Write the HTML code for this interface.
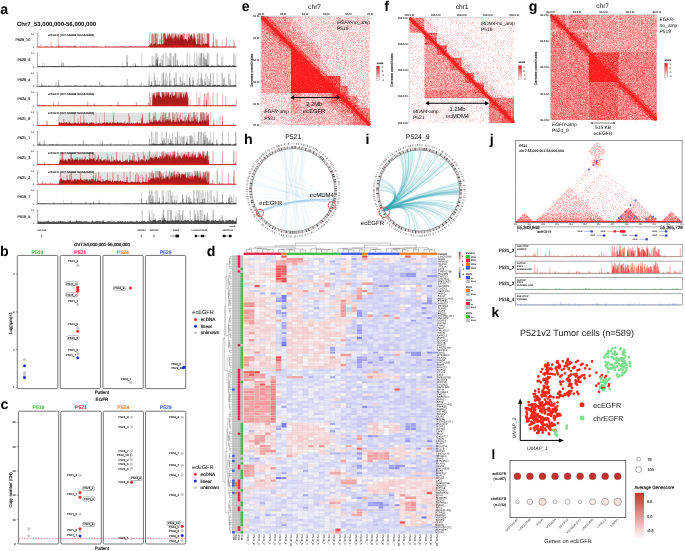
<!DOCTYPE html>
<html><head><meta charset="utf-8"><style>
html,body{margin:0;padding:0;background:#fff;}
svg{display:block;font-family:"Liberation Sans",sans-serif;text-rendering:geometricPrecision;will-change:transform;}
</style></head><body>
<svg width="685" height="551" viewBox="0 0 685 551">
<rect width="685" height="551" fill="#fff"/>
<text x="0.3" y="14.1" font-size="14.2" font-weight="bold">a</text>
<text x="17" y="26" font-size="6.0" font-weight="bold">Chr7_53,000,000-56,000,000</text>
<path d="M36.4 33.5H37.6V47.3H36.4" fill="none" stroke="#333" stroke-width="0.4"/>
<text x="34.1" y="34.5" font-size="2.2" text-anchor="end" fill="#444" stroke="#444" stroke-width="0.09">0.1</text>
<text x="34.1" y="48" font-size="2.2" text-anchor="end" fill="#444" stroke="#444" stroke-width="0.09">0</text>
<text x="30.2" y="41.3" font-size="3.7" text-anchor="end" fill="#222" stroke="#222" stroke-width="0.15">P529_10</text>
<path d="M37.6 47.3L37.6 46.8L38.1 46.9L38.6 46.5L39.1 46.9L39.6 46.6L40.1 46.7L40.6 47L41.1 46.6L41.6 47L42.1 46.7L42.6 47L43.1 46.9L43.6 46.7L44.1 46.4L44.6 46.9L45.1 46.8L45.6 46.6L46.1 46.3L46.6 46.6L47.1 46.7L47.6 46.3L48.1 47L48.6 46.4L49.1 46.8L49.6 46.9L50.1 46.9L50.6 46.8L51.1 46.4L51.6 46.9L52.1 46.6L52.6 46.6L53.1 46.7L53.6 46.6L54.1 47L54.6 47L55.1 46.9L55.6 46.5L56.1 46.7L56.6 46.8L57.1 46.6L57.6 46.7L58.1 46.8L58.6 46.4L59.1 46.5L59.6 46.8L60.1 46.6L60.6 46.6L61.1 46.4L61.6 46.5L62.1 46.8L62.6 46.3L63.1 46.9L63.6 46.7L64.1 46.5L64.6 46.9L65.1 46.7L65.6 47L66.1 46.5L66.6 46.5L67.1 46.6L67.6 46.4L68.1 46.8L68.6 46.5L69.1 46.6L69.6 46.6L70.1 46.7L70.6 46.4L71.1 46.3L71.6 46.7L72.1 46.5L72.6 47L73.1 46.5L73.6 46.5L74.1 46.3L74.6 46.4L75.1 46.8L75.6 46.7L76.1 46.5L76.6 47L77.1 46.7L77.6 46.9L78.1 46.9L78.6 47L79.1 46.5L79.6 46.9L80.1 46.8L80.6 46.7L81.1 46.4L81.6 46.9L82.1 46.7L82.6 46.6L83.1 46.4L83.6 46.4L84.1 46.4L84.6 46.8L85.1 46.7L85.6 46.7L86.1 46.4L86.6 46.3L87.1 46.9L87.6 46.9L88.1 46.8L88.6 46.8L89.1 46.7L89.6 46.6L90.1 46.8L90.6 47L91.1 46.7L91.6 46.7L92.1 46.6L92.6 46.3L93.1 46.5L93.6 46.6L94.1 46.6L94.6 46.5L95.1 47L95.6 46.4L96.1 46.5L96.6 46.4L97.1 46.4L97.6 46.7L98.1 46.7L98.6 46.9L99.1 46.6L99.6 47L100.1 47L100.6 46.9L101.1 46.9L101.6 46.8L102.1 47L102.6 47L103.1 46.9L103.6 46.9L104.1 46.7L104.6 47L105.1 46.4L105.6 46.6L106.1 46.9L106.6 46.8L107.1 46.8L107.6 46.7L108.1 46.9L108.6 46.4L109.1 46.3L109.6 46.7L110.1 46.7L110.6 46.9L111.1 46.9L111.6 46.8L112.1 46.8L112.6 46.4L113.1 46.9L113.6 47L114.1 46.3L114.6 46.6L115.1 46.9L115.6 46.6L116.1 47L116.6 46.6L117.1 46.3L117.6 46.4L118.1 46.5L118.6 46.8L119.1 46.7L119.6 46.9L120.1 46.5L120.6 46.6L121.1 46.5L121.6 46.8L122.1 46.8L122.6 46.4L123.1 46.3L123.6 46.4L124.1 46.4L124.6 46.4L125.1 46.5L125.6 46.8L126.1 46.6L126.6 46.8L127.1 47L127.6 47L128.1 46.8L128.6 46.8L129.1 46.5L129.6 46.3L130.1 46.7L130.6 46.3L131.1 46.3L131.6 46.3L132.1 46.7L132.6 46.8L133.1 46.8L133.6 46.9L134.1 46.9L134.6 46.6L135.1 46.4L135.6 46.4L136.1 46.7L136.6 46.5L137.1 46.4L137.6 46.9L138.1 46.5L138.6 46.4L139.1 46.5L139.6 46.5L140.1 46.7L140.6 46.9L141.1 46.4L141.6 46.8L142.1 46.4L142.6 46.3L143.1 46.7L143.6 46.7L144.1 46.3L144.6 46.5L145.1 46.9L145.6 46.9L146.1 46.9L146.6 46.4L147.1 46.4L147.6 46.9L148.1 46.4L148.6 46.3L149.1 46.5L149.6 44.2L150.1 46.1L150.6 43.8L151.1 42.8L151.6 43L152.1 45.4L152.6 45.1L153.1 44L153.6 44.6L154.1 42.9L154.6 44.5L155.1 42.9L155.6 42.9L156.1 44.2L156.6 46L157.1 45.5L157.6 43.3L158.1 44.4L158.6 44.2L159.1 44.3L159.6 43.4L160.1 44.1L160.6 45.1L161.1 44.3L161.6 43.4L162.1 44.5L162.6 44.3L163.1 43.7L163.6 44.2L164.1 42.8L164.6 43L165.1 38.9L165.6 33.9L166.1 39.8L166.6 37.6L167.1 39L167.6 35.9L168.1 34.3L168.6 35.6L169.1 39.8L169.6 33.7L170.1 33.8L170.6 37.2L171.1 34.7L171.6 37.6L172.1 38.3L172.6 38.5L173.1 40.7L173.6 37.6L174.1 38.4L174.6 37.1L175.1 33.6L175.6 33.7L176.1 38.9L176.6 35.1L177.1 39.9L177.6 34.1L178.1 38.9L178.6 34.1L179.1 35.7L179.6 40.4L180.1 37.7L180.6 34L181.1 34.9L181.6 34.5L182.1 34.5L182.6 38.3L183.1 34L183.6 39.9L184.1 39.1L184.6 39.6L185.1 39.3L185.6 38.6L186.1 38.7L186.6 39.5L187.1 40.7L187.6 40.7L188.1 36.8L188.6 37.3L189.1 40L189.6 37.6L190.1 34.7L190.6 37.1L191.1 33.6L191.6 34.7L192.1 36.2L192.6 38.3L193.1 39.9L193.6 35.4L194.1 39.6L194.6 34.7L195.1 35.9L195.6 39L196.1 44.5L196.6 44.5L197.1 42.7L197.6 44.2L198.1 42.7L198.6 44.9L199.1 44.8L199.6 44.3L200.1 44.3L200.6 45.2L201.1 44.7L201.6 46L202.1 45.3L202.6 44.2L203.1 43.8L203.6 43L204.1 45L204.6 45.6L205.1 43.8L205.6 43.2L206.1 43.9L206.6 43.3L207.1 44.3L207.6 43.2L208.1 43.2L208.6 43L209.1 46.5L209.6 46.5L210.1 46.8L210.6 47L211.1 46.9L211.6 46.7L212.1 46.9L212.6 46.4L213.1 46.6L213.6 46.6L214.1 46.6L214.6 46.5L215.1 46.7L215.6 47L216.1 46.4L216.6 46.5L217.1 46.6L217.6 46.6L218.1 46.5L218.6 47L219.1 46.5L219.6 46.8L220.1 46.9L220.6 46.8L221.1 46.5L221.6 46.9L222.1 46.5L222.6 46.3L223.1 46.7L223.6 46.7L224.1 46.7L224.6 46.5L225.1 46.5L225.6 46.6L226.1 46.6L226.6 46.9L227.1 46.9L227.6 46.8L228.1 46.5L228.6 46.8L229.1 46.6L229.6 47L230.1 47L230.6 46.8L231.1 46.5L231.6 46.5L232.1 46.5L232.6 46.8L233.1 46.6L233.6 46.7L234.1 46.7L234.6 46.9L235.1 46.4L235.6 46.9L236.1 46.3L236.4 47.3Z" fill="#a31b1b"/>
<path d="M150 47.3L150 45.2L150.7 46.7L151.4 46L152.1 45.4L152.8 45.2L153.5 46L154.2 46.3L154.9 46.4L155.6 45.2L156.3 46.4L157 45.8L157.7 46.5L158.4 45.9L159.1 45.2L159.8 46.5L160.5 44.8L161.2 45.3L161.9 44.7L162.6 45L163.3 45.7L164 44.7L164.7 45.3L165.4 46.1L166.1 46.1L166.8 45.3L167.5 45.4L168.2 45.6L168.9 45.9L169.6 45.5L170.3 45.6L171 44.8L171.7 46.1L172.4 44.9L173.1 44.8L173.8 45.9L174.5 44.6L175.2 45L175.9 44.7L176.6 45.6L177.3 45.5L178 45.5L178.7 44.5L179.4 45.2L180.1 45.5L180.8 45.4L181.5 45.7L182.2 46L182.9 45.9L183.6 44.8L184.3 45.6L185 44.6L185.7 45.7L186.4 45.7L187.1 45.3L187.8 45.8L188.5 45.5L189.2 44.6L189.9 44.7L190.6 44.8L191.3 45.1L192 44.6L192.7 44.6L193.4 45.2L194.1 44.9L194.8 46L195.5 44.9L196.2 45.4L196.9 44.9L197.6 45.1L198.3 45.6L199 46L199.7 44.6L200.4 46.5L201.1 45.9L201.8 46.2L202.5 46.2L203.2 45.5L203.9 45.1L204.6 46.3L205.3 45.7L206 46.2L206.7 45.8L207.4 46.1L208.1 46.4L208.8 46.4L209 47.3Z" fill="#ee1c1c" fill-opacity="0.75"/>
<path d="M58.3 47.3V33.5M149.3 47.3V33.5M155.4 47.3V33.5M163.5 47.3V33.5M171.7 47.3V40.8M172.9 47.3V33.5M183 47.3V33.5M187.1 47.3V33.9M198.6 47.3V39.2M201.2 47.3V39.4M206.3 47.3V33.5M207.5 47.3V33.5M209.1 47.3V33.5M233.8 47.3V39.4M161.6 47.3V41.8M234.5 47.3V42.5M170.8 47.3V42.5M165.1 47.3V42.3M51.3 47.3V41.9M176.9 47.3V42.1M40.9 47.3V44.2M150.5 47.3V44.9M105.7 47.3V44.8M164.8 47.3V45.2M177 47.3V37.3M198.2 47.3V38.8M160 47.3V39M153.8 47.3V33.5M152 47.3V33.5M155 47.3V33.5M179.4 47.3V33.5M191.9 47.3V33.5M174.6 47.3V33.5M186.6 47.3V33.5M200 47.3V33.5M189.2 47.3V33.5M167.3 47.3V33.5M193.5 47.3V33.5M159 47.3V33.5M184.1 47.3V33.5M169.3 47.3V33.5M179.9 47.3V33.5M163.7 47.3V33.5M197.7 47.3V33.5M208.5 47.3V33.5M156 47.3V33.5M178 47.3V33.5M207.4 47.3V33.5M201.1 47.3V33.5" stroke="#b42020" stroke-opacity="0.6" stroke-width="0.55"/>
<path d="M151.9 47.3V33.5M156.8 47.3V39M161.8 47.3V36.3M194.2 47.3V33.5M196.9 47.3V34.1M203.1 47.3V37.6M213.3 47.3V33.5M217.1 47.3V39.6M213 47.3V42M212.9 47.3V44.8M229.4 47.3V45M58.9 47.3V44.4M216 47.3V39M226.4 47.3V37.4M167.5 47.3V42.2M164.6 47.3V33.5M169.2 47.3V33.5M207.8 47.3V33.5M165.6 47.3V33.5M155.7 47.3V33.5M176.4 47.3V33.5M189.8 47.3V33.5M164.6 47.3V33.5M164.5 47.3V33.5M202.2 47.3V33.5M173.4 47.3V33.5M208.6 47.3V33.5M188.5 47.3V33.5M198.3 47.3V33.5M199.6 47.3V33.5M152.4 47.3V33.5M167.3 47.3V33.5M161.2 47.3V33.5M184.4 47.3V33.5M204.9 47.3V33.5M172 47.3V33.5" stroke="#b42020" stroke-opacity="0.8" stroke-width="0.55"/>
<path d="M153.9 47.3V34.4M198.1 47.3V38.4M75 47.3V44.8M204.6 47.3V43.7M202.1 47.3V33.5M163.8 47.3V33.5M194.1 47.3V33.5M157.1 47.3V33.5M199.6 47.3V33.5M172 47.3V33.5M161.8 47.3V33.5" stroke="#b42020" stroke-opacity="1.0" stroke-width="0.55"/>
<path d="M200 47.3V40.6M222.4 47.3V39.5M202.8 47.3V37.9M80.3 47.3V44.9M182.6 47.3V33.5M208.3 47.3V33.5M183.4 47.3V33.5M203.9 47.3V33.5M157 47.3V33.5" stroke="#b42020" stroke-opacity="0.4" stroke-width="0.55"/>
<path d="M37.6 47.1H236.4" stroke="#e02020" stroke-width="0.6"/>
<text x="48" y="35.9" font-size="2.85" fill="#222" stroke="#222" stroke-width="0.11">ecEGFR (chr7:54908478-55436488)</text>
<path d="M36.4 53.1H37.6V66.9H36.4" fill="none" stroke="#333" stroke-width="0.4"/>
<text x="34.1" y="54.1" font-size="2.2" text-anchor="end" fill="#444" stroke="#444" stroke-width="0.09">0.1</text>
<text x="34.1" y="67.6" font-size="2.2" text-anchor="end" fill="#444" stroke="#444" stroke-width="0.09">0</text>
<text x="30.2" y="60.9" font-size="3.7" text-anchor="end" fill="#222" stroke="#222" stroke-width="0.15">P529_6</text>
<path d="M37.6 66.9L37.6 66.3L38.1 66.2L38.6 66.3L39.1 66.1L39.6 66.3L40.1 66.3L40.6 66.6L41.1 66.2L41.6 66.3L42.1 66.4L42.6 66.1L43.1 66.1L43.6 66.3L44.1 66.5L44.6 66.3L45.1 66.5L45.6 66.5L46.1 66.3L46.6 66.5L47.1 66.3L47.6 66.2L48.1 66.6L48.6 66.2L49.1 66.5L49.6 66.1L50.1 66.1L50.6 66.2L51.1 66.6L51.6 66.2L52.1 66.3L52.6 65.9L53.1 66.5L53.6 66L54.1 65.9L54.6 66.1L55.1 66L55.6 66.5L56.1 65.9L56.6 66.3L57.1 65.9L57.6 66L58.1 66.5L58.6 66L59.1 65.9L59.6 66.6L60.1 66.4L60.6 66.1L61.1 66.5L61.6 66L62.1 66.4L62.6 66L63.1 66.5L63.6 66.2L64.1 66L64.6 66.5L65.1 66.4L65.6 66.2L66.1 66.4L66.6 66.6L67.1 66.5L67.6 66.5L68.1 65.9L68.6 66.1L69.1 66L69.6 66.5L70.1 66.1L70.6 66.5L71.1 66.2L71.6 66.2L72.1 66.3L72.6 66L73.1 66.2L73.6 66.2L74.1 66L74.6 66.5L75.1 65.9L75.6 66.2L76.1 66.3L76.6 66L77.1 66.4L77.6 65.9L78.1 66.2L78.6 66.3L79.1 66.1L79.6 66.3L80.1 66.5L80.6 66.1L81.1 66.6L81.6 66L82.1 66.4L82.6 66.2L83.1 65.9L83.6 66.2L84.1 66.1L84.6 66.4L85.1 66.6L85.6 66.6L86.1 66.5L86.6 66.2L87.1 66.3L87.6 66.2L88.1 66L88.6 66.5L89.1 66.4L89.6 66.1L90.1 66.6L90.6 66.6L91.1 66.4L91.6 66.5L92.1 66.3L92.6 66.4L93.1 66.2L93.6 66.2L94.1 66.5L94.6 66.2L95.1 66.3L95.6 66.5L96.1 65.9L96.6 66.4L97.1 66.5L97.6 66.5L98.1 66.2L98.6 66L99.1 66.1L99.6 66.3L100.1 66.4L100.6 66.6L101.1 66.1L101.6 66.2L102.1 66.4L102.6 66.1L103.1 66.3L103.6 65.9L104.1 66.1L104.6 66.4L105.1 66L105.6 66.6L106.1 66.2L106.6 66.3L107.1 66.4L107.6 66.6L108.1 66.1L108.6 66.6L109.1 66.2L109.6 65.9L110.1 66.5L110.6 66.5L111.1 66.2L111.6 66.2L112.1 66.2L112.6 66L113.1 66.5L113.6 66.4L114.1 66.4L114.6 66.6L115.1 66L115.6 66.1L116.1 66.1L116.6 66.6L117.1 66L117.6 66.1L118.1 66.3L118.6 66.1L119.1 66.3L119.6 66.4L120.1 66.5L120.6 66.4L121.1 66.6L121.6 66.4L122.1 66.1L122.6 66.1L123.1 66L123.6 66.1L124.1 66.4L124.6 66.2L125.1 66.3L125.6 66L126.1 66.2L126.6 66.4L127.1 66.2L127.6 65.9L128.1 66.4L128.6 66L129.1 66.6L129.6 66.4L130.1 66.4L130.6 66.1L131.1 65.9L131.6 66.1L132.1 66.4L132.6 66L133.1 66.4L133.6 66.4L134.1 66L134.6 66.2L135.1 66.1L135.6 66.1L136.1 65.9L136.6 66.3L137.1 66L137.6 66.1L138.1 66L138.6 66.3L139.1 66.1L139.6 66.2L140.1 66.4L140.6 66.5L141.1 66.2L141.6 66.5L142.1 66L142.6 66.5L143.1 66.6L143.6 66.5L144.1 65.9L144.6 66.4L145.1 66.5L145.6 66.6L146.1 66.6L146.6 66.1L147.1 66.2L147.6 66.1L148.1 66.1L148.6 66.6L149.1 66.2L149.6 66.3L150.1 65.2L150.6 66.3L151.1 65L151.6 66.2L152.1 66.2L152.6 65.1L153.1 65.4L153.6 65.5L154.1 66.3L154.6 65.3L155.1 65.9L155.6 66.4L156.1 66L156.6 65.8L157.1 65L157.6 65.1L158.1 66.4L158.6 65.7L159.1 65.9L159.6 65.6L160.1 65.1L160.6 65.2L161.1 66.4L161.6 65.3L162.1 66.4L162.6 65.7L163.1 66.1L163.6 65.9L164.1 66L164.6 66L165.1 65.4L165.6 66.2L166.1 66.3L166.6 65.4L167.1 65.5L167.6 65.8L168.1 65.1L168.6 65.1L169.1 66.1L169.6 65L170.1 65.8L170.6 66L171.1 65.6L171.6 65.3L172.1 65.9L172.6 66.2L173.1 65.4L173.6 66.1L174.1 65.2L174.6 66.2L175.1 65.1L175.6 66.1L176.1 65.3L176.6 66.2L177.1 66L177.6 65.6L178.1 65.9L178.6 64.9L179.1 66.2L179.6 66.2L180.1 64.9L180.6 65.3L181.1 66.1L181.6 66.2L182.1 65.8L182.6 65.8L183.1 65.4L183.6 65.5L184.1 66.2L184.6 65.8L185.1 65L185.6 65.5L186.1 65.8L186.6 65.3L187.1 65.2L187.6 65.1L188.1 65.4L188.6 65.9L189.1 66.3L189.6 65.2L190.1 65.5L190.6 65.8L191.1 65.5L191.6 65.4L192.1 66.1L192.6 65.2L193.1 65.7L193.6 66.3L194.1 66.2L194.6 65L195.1 66.2L195.6 65.6L196.1 65.6L196.6 65.2L197.1 65.8L197.6 66.1L198.1 65.8L198.6 66.2L199.1 65.9L199.6 66L200.1 66.4L200.6 65.8L201.1 65.9L201.6 66.1L202.1 65L202.6 66.1L203.1 65.8L203.6 66.2L204.1 65.2L204.6 65.7L205.1 66.1L205.6 65.9L206.1 65.2L206.6 65.7L207.1 65.6L207.6 65.1L208.1 65.1L208.6 65.8L209.1 65.8L209.6 66.4L210.1 66L210.6 65.9L211.1 65.8L211.6 65.4L212.1 65L212.6 66.3L213.1 65L213.6 66.2L214.1 65.5L214.6 66.4L215.1 65.4L215.6 66.2L216.1 66L216.6 65.9L217.1 65L217.6 66.1L218.1 65.5L218.6 65.4L219.1 65.2L219.6 66.1L220.1 65.6L220.6 65.7L221.1 65.6L221.6 66L222.1 65.7L222.6 65.7L223.1 65.7L223.6 65.6L224.1 66.4L224.6 65.7L225.1 65.4L225.6 65.8L226.1 65L226.6 65.4L227.1 66.4L227.6 65.4L228.1 65.9L228.6 65.6L229.1 65.1L229.6 65.3L230.1 65.9L230.6 65.9L231.1 65.6L231.6 66.1L232.1 65.8L232.6 65.2L233.1 65.2L233.6 65.6L234.1 65.6L234.6 65.4L235.1 65.9L235.6 66L236.1 65.4L236.4 66.9Z" fill="#505050"/>
<path d="M127.1 66.9V55.2M156.8 66.9V53.1M170.2 66.9V53.1M173.3 66.9V56.2M175.7 66.9V53.1M177.3 66.9V59.8M200.2 66.9V53.1M201.5 66.9V53.1M203.2 66.9V53.1M207.8 66.9V53.1M217.2 66.9V53.1M233.9 66.9V53.1M127.2 66.9V61.9M63.4 66.9V63M135.3 66.9V63.4M157.5 66.9V59.9M149.3 66.9V64.6M206.3 66.9V59.3M157.7 66.9V56.8M208.1 66.9V64.4M194.2 66.9V64M156.7 66.9V59.2M61.9 66.9V61.7M135.7 66.9V64.9M156.7 66.9V63" stroke="#333" stroke-opacity="0.8" stroke-width="0.55"/>
<path d="M141.8 66.9V53.1M154.1 66.9V56M155.6 66.9V53.1M163.5 66.9V54.4M167.7 66.9V55.8M171.2 66.9V53.1M174.6 66.9V53.1M182.8 66.9V60.6M189.8 66.9V54.2M194.3 66.9V53.1M196.7 66.9V53.4M204.5 66.9V55.8M206.2 66.9V54.7M209.1 66.9V53.1M222.7 66.9V55.5M235.7 66.9V54.5M218.5 66.9V64.1M160.2 66.9V58.6M176 66.9V64.1M159.5 66.9V63.2M157.1 66.9V64.5M78.9 66.9V65.1M133.2 66.9V63.5M195.5 66.9V61.3M122.3 66.9V62.1M221.6 66.9V57M44.7 66.9V63M203.1 66.9V57.3M42.8 66.9V62.3M155.6 66.9V60.8M168.7 66.9V58" stroke="#333" stroke-opacity="0.4" stroke-width="0.55"/>
<path d="M152.2 66.9V55.7M162.1 66.9V54.8M165.9 66.9V53.1M187.2 66.9V53.1M198.2 66.9V55.8M199.9 66.9V58.1M160.6 66.9V62.7M162.2 66.9V60M170.1 66.9V60.2M65.6 66.9V65.4M153.1 66.9V64.4M206.5 66.9V62.7M62.1 66.9V65.4M205.3 66.9V59.2M159.9 66.9V64.5M204.7 66.9V57.9M181.8 66.9V63.6" stroke="#333" stroke-opacity="0.6" stroke-width="0.55"/>
<path d="M37.6 66.7H236.4" stroke="#333" stroke-width="0.6"/>
<path d="M36.4 72.7H37.6V86.5H36.4" fill="none" stroke="#333" stroke-width="0.4"/>
<text x="34.1" y="73.7" font-size="2.2" text-anchor="end" fill="#444" stroke="#444" stroke-width="0.09">0.1</text>
<text x="34.1" y="87.2" font-size="2.2" text-anchor="end" fill="#444" stroke="#444" stroke-width="0.09">0</text>
<text x="30.2" y="80.5" font-size="3.7" text-anchor="end" fill="#222" stroke="#222" stroke-width="0.15">P529_4</text>
<path d="M37.6 86.5L37.6 85.6L38.1 86L38.6 86.1L39.1 85.6L39.6 85.9L40.1 86.1L40.6 85.9L41.1 85.8L41.6 86.2L42.1 85.8L42.6 85.9L43.1 85.8L43.6 86.1L44.1 85.7L44.6 85.6L45.1 85.6L45.6 86L46.1 85.7L46.6 85.9L47.1 85.7L47.6 86.2L48.1 85.6L48.6 85.5L49.1 85.9L49.6 85.8L50.1 85.8L50.6 85.8L51.1 86.2L51.6 85.5L52.1 86L52.6 86.1L53.1 86.1L53.6 86L54.1 85.6L54.6 86.2L55.1 86.1L55.6 85.7L56.1 86.1L56.6 86.2L57.1 85.8L57.6 85.8L58.1 85.8L58.6 85.7L59.1 86.1L59.6 85.6L60.1 85.7L60.6 86.2L61.1 86.1L61.6 85.9L62.1 85.8L62.6 86L63.1 86.1L63.6 85.9L64.1 86.1L64.6 85.8L65.1 85.6L65.6 86.1L66.1 85.8L66.6 85.7L67.1 86.1L67.6 85.6L68.1 85.5L68.6 85.9L69.1 85.9L69.6 85.6L70.1 85.8L70.6 85.9L71.1 85.5L71.6 85.7L72.1 86L72.6 86L73.1 86L73.6 85.9L74.1 85.5L74.6 85.6L75.1 85.6L75.6 85.6L76.1 85.6L76.6 86.2L77.1 85.8L77.6 85.5L78.1 85.5L78.6 86L79.1 85.9L79.6 85.8L80.1 85.9L80.6 85.8L81.1 86.2L81.6 85.9L82.1 85.8L82.6 86.2L83.1 86.1L83.6 85.5L84.1 85.7L84.6 85.5L85.1 85.8L85.6 85.6L86.1 85.6L86.6 85.6L87.1 86.2L87.6 85.8L88.1 86L88.6 85.7L89.1 86L89.6 85.8L90.1 85.6L90.6 85.8L91.1 86L91.6 85.8L92.1 85.9L92.6 85.5L93.1 86L93.6 86L94.1 85.7L94.6 86.1L95.1 85.8L95.6 85.5L96.1 85.8L96.6 86L97.1 85.9L97.6 85.8L98.1 86.1L98.6 86.1L99.1 86.1L99.6 86L100.1 85.9L100.6 86L101.1 86L101.6 86.1L102.1 85.8L102.6 85.6L103.1 85.8L103.6 85.8L104.1 85.7L104.6 86.1L105.1 85.7L105.6 85.9L106.1 85.8L106.6 85.8L107.1 85.9L107.6 86L108.1 86L108.6 86L109.1 85.8L109.6 85.9L110.1 85.8L110.6 86.2L111.1 86L111.6 85.6L112.1 86L112.6 85.8L113.1 85.9L113.6 86L114.1 85.5L114.6 86L115.1 85.7L115.6 86.1L116.1 86.2L116.6 85.6L117.1 85.9L117.6 86.2L118.1 85.9L118.6 85.9L119.1 85.7L119.6 86.1L120.1 86L120.6 85.5L121.1 85.7L121.6 86.1L122.1 86L122.6 86L123.1 85.7L123.6 85.8L124.1 85.6L124.6 85.6L125.1 85.8L125.6 85.7L126.1 85.7L126.6 85.7L127.1 85.9L127.6 85.7L128.1 85.7L128.6 85.6L129.1 86.1L129.6 85.6L130.1 86.2L130.6 85.7L131.1 85.8L131.6 85.9L132.1 85.5L132.6 85.8L133.1 85.9L133.6 85.7L134.1 85.6L134.6 85.8L135.1 85.9L135.6 85.9L136.1 85.9L136.6 85.7L137.1 86L137.6 85.9L138.1 85.8L138.6 85.9L139.1 86L139.6 85.6L140.1 85.6L140.6 85.9L141.1 85.9L141.6 86.1L142.1 86L142.6 86.1L143.1 85.8L143.6 85.8L144.1 86.1L144.6 85.6L145.1 86L145.6 85.6L146.1 85.6L146.6 85.5L147.1 86.1L147.6 85.9L148.1 85.6L148.6 86.2L149.1 86.2L149.6 85.8L150.1 84.6L150.6 85.2L151.1 85.2L151.6 85L152.1 85.5L152.6 85.5L153.1 85L153.6 85.9L154.1 85.4L154.6 85.1L155.1 84.6L155.6 85.3L156.1 84.5L156.6 85.2L157.1 85.7L157.6 84.5L158.1 85.2L158.6 84.7L159.1 84.8L159.6 84.7L160.1 85.8L160.6 85.2L161.1 85.7L161.6 85.1L162.1 85.5L162.6 85L163.1 85.4L163.6 85.5L164.1 86L164.6 84.7L165.1 85L165.6 85.3L166.1 85.6L166.6 85.2L167.1 85.1L167.6 85.8L168.1 84.9L168.6 85.8L169.1 85.2L169.6 85.1L170.1 85.9L170.6 84.8L171.1 84.9L171.6 85.7L172.1 85.9L172.6 85.1L173.1 85.3L173.6 85.9L174.1 85.1L174.6 85.3L175.1 85.6L175.6 84.6L176.1 85.5L176.6 84.8L177.1 85.1L177.6 85.3L178.1 85.6L178.6 84.9L179.1 85.5L179.6 85.3L180.1 85.6L180.6 85.5L181.1 84.5L181.6 85.2L182.1 85.2L182.6 85.4L183.1 85.8L183.6 85.5L184.1 85.7L184.6 85.6L185.1 85L185.6 85.8L186.1 85.9L186.6 84.7L187.1 85.3L187.6 84.8L188.1 85.5L188.6 85.4L189.1 85.7L189.6 85.2L190.1 85.3L190.6 84.9L191.1 84.7L191.6 85.4L192.1 85.1L192.6 84.7L193.1 85.2L193.6 85.6L194.1 85.4L194.6 85.1L195.1 85.4L195.6 85.7L196.1 85.5L196.6 85.8L197.1 85.5L197.6 85.6L198.1 85.5L198.6 85.8L199.1 85.6L199.6 84.6L200.1 84.7L200.6 85.8L201.1 86L201.6 85L202.1 85.4L202.6 85L203.1 84.7L203.6 85.1L204.1 85.8L204.6 84.9L205.1 85.9L205.6 85.8L206.1 85.5L206.6 85.9L207.1 85L207.6 84.7L208.1 84.9L208.6 85.3L209.1 85.5L209.6 84.7L210.1 85.6L210.6 84.7L211.1 85.9L211.6 85.8L212.1 85.7L212.6 84.9L213.1 85L213.6 84.9L214.1 85.6L214.6 84.6L215.1 84.6L215.6 84.9L216.1 85.1L216.6 85.9L217.1 85.4L217.6 84.6L218.1 84.9L218.6 84.9L219.1 85.6L219.6 84.5L220.1 85.2L220.6 85.9L221.1 85.4L221.6 85.5L222.1 84.9L222.6 85.6L223.1 85.2L223.6 84.6L224.1 85.6L224.6 85.8L225.1 85.5L225.6 85.2L226.1 85.7L226.6 85.1L227.1 84.9L227.6 85.8L228.1 85.5L228.6 85.9L229.1 85.7L229.6 85.3L230.1 85.5L230.6 85.5L231.1 85.9L231.6 84.5L232.1 85.9L232.6 84.5L233.1 85.8L233.6 85.3L234.1 85.2L234.6 84.6L235.1 85.1L235.6 85L236.1 85.6L236.4 86.5Z" fill="#505050"/>
<path d="M58.7 86.5V80.1M155.6 86.5V80M163.5 86.5V72.7M169.8 86.5V72.7M176.1 86.5V72.7M201.4 86.5V72.7M210.7 86.5V72.7M222.2 86.5V72.7M228.8 86.5V73.7M99.8 86.5V81.9M151.5 86.5V82.5M189.5 86.5V77.6M184.8 86.5V83.6M101.8 86.5V84.6M223.8 86.5V78.7M180.2 86.5V76.5M230.2 86.5V79.2M193.1 86.5V80.2M182.7 86.5V81.9M205.2 86.5V81.6" stroke="#333" stroke-opacity="0.8" stroke-width="0.55"/>
<path d="M127.3 86.5V78.9M154.2 86.5V72.7M162 86.5V73.4M166 86.5V72.7M174.5 86.5V78.1M206 86.5V72.7M209 86.5V78.9M213.3 86.5V72.7M235.8 86.5V72.8M184.3 86.5V82.7M56.1 86.5V82M193 86.5V76.6M196.8 86.5V82.9M189.9 86.5V81.3M209.4 86.5V81.6M197.9 86.5V78.8M225.7 86.5V83.8M202.5 86.5V79.6M170 86.5V80.6M169.6 86.5V84.4M42.6 86.5V84.5M41.4 86.5V82.8M141.2 86.5V82.3" stroke="#333" stroke-opacity="0.6" stroke-width="0.55"/>
<path d="M149.6 86.5V74.3M151.9 86.5V78.9M171.7 86.5V80.3M183 86.5V72.7M186.9 86.5V72.7M190.2 86.5V72.9M198.6 86.5V72.7M200.3 86.5V78M204.5 86.5V78.9M207.4 86.5V76.3M217 86.5V72.7M80.9 86.5V84.4M174 86.5V77.1M224.4 86.5V76.8M154.9 86.5V76.8M159.8 86.5V80.7M201.3 86.5V77.8M157.7 86.5V77.4M149.3 86.5V80.6M164.7 86.5V80.3M165.2 86.5V77.8M181.6 86.5V81.1M167.7 86.5V76.2M162.8 86.5V82.5M148.4 86.5V77.2M166.4 86.5V81.9" stroke="#333" stroke-opacity="0.4" stroke-width="0.55"/>
<path d="M37.6 86.3H236.4" stroke="#333" stroke-width="0.6"/>
<path d="M36.4 92.3H37.6V106.1H36.4" fill="none" stroke="#333" stroke-width="0.4"/>
<text x="34.1" y="93.3" font-size="2.2" text-anchor="end" fill="#444" stroke="#444" stroke-width="0.09">0.1</text>
<text x="34.1" y="106.8" font-size="2.2" text-anchor="end" fill="#444" stroke="#444" stroke-width="0.09">0</text>
<text x="30.2" y="100.1" font-size="3.7" text-anchor="end" fill="#222" stroke="#222" stroke-width="0.15">P524_9</text>
<path d="M37.6 106.1L37.6 105.5L38.1 105.4L38.6 105.4L39.1 105.4L39.6 105.3L40.1 105.4L40.6 105.6L41.1 105.3L41.6 105.6L42.1 105.3L42.6 105.3L43.1 105.3L43.6 105.6L44.1 105.3L44.6 105.1L45.1 105.5L45.6 105.6L46.1 105.4L46.6 105.1L47.1 105.7L47.6 105.8L48.1 105.5L48.6 105.3L49.1 105.3L49.6 105.5L50.1 105.1L50.6 105.6L51.1 105.3L51.6 105.7L52.1 105.8L52.6 105.7L53.1 105.8L53.6 105.4L54.1 105.4L54.6 105.7L55.1 105.1L55.6 105.5L56.1 105.7L56.6 105.7L57.1 105.3L57.6 105.2L58.1 105.7L58.6 105.8L59.1 105.3L59.6 105.6L60.1 105.1L60.6 105.5L61.1 105.4L61.6 105.6L62.1 105.2L62.6 105.5L63.1 105.6L63.6 105.2L64.1 105.7L64.6 105.3L65.1 105.8L65.6 105.3L66.1 105.5L66.6 105.2L67.1 105.8L67.6 105.4L68.1 105.5L68.6 105.2L69.1 105.1L69.6 105.4L70.1 105.6L70.6 105.6L71.1 105.6L71.6 105.5L72.1 105.6L72.6 105.7L73.1 105.3L73.6 105.4L74.1 105.6L74.6 105.1L75.1 105.6L75.6 105.4L76.1 105.7L76.6 105.2L77.1 105.2L77.6 105.6L78.1 105.3L78.6 105.2L79.1 105.6L79.6 105.6L80.1 105.5L80.6 105.2L81.1 105.7L81.6 105.3L82.1 105.4L82.6 105.5L83.1 105.4L83.6 105.2L84.1 105.7L84.6 105.2L85.1 105.5L85.6 105.3L86.1 105.2L86.6 105.7L87.1 105.2L87.6 105.1L88.1 105.6L88.6 105.8L89.1 105.7L89.6 105.1L90.1 105.8L90.6 105.2L91.1 105.7L91.6 105.3L92.1 105.7L92.6 105.7L93.1 105.3L93.6 105.7L94.1 105.6L94.6 105.2L95.1 105.3L95.6 105.2L96.1 105.1L96.6 105.8L97.1 105.6L97.6 105.2L98.1 105.3L98.6 105.8L99.1 105.4L99.6 105.6L100.1 105.5L100.6 105.7L101.1 105.8L101.6 105.1L102.1 105.6L102.6 105.2L103.1 105.7L103.6 105.5L104.1 105.7L104.6 105.5L105.1 105.7L105.6 105.3L106.1 105.7L106.6 105.3L107.1 105.4L107.6 105.7L108.1 105.6L108.6 105.5L109.1 105.2L109.6 105.6L110.1 105.6L110.6 105.1L111.1 105.2L111.6 105.3L112.1 105.6L112.6 105.7L113.1 105.6L113.6 105.8L114.1 105.8L114.6 105.4L115.1 105.5L115.6 105.4L116.1 105.5L116.6 105.8L117.1 105.3L117.6 105.3L118.1 105.4L118.6 105.4L119.1 105.3L119.6 105.1L120.1 105.2L120.6 105.3L121.1 105.5L121.6 105.6L122.1 105.5L122.6 105.1L123.1 105.5L123.6 105.5L124.1 105.5L124.6 105.7L125.1 105.1L125.6 105.8L126.1 105.4L126.6 105.2L127.1 105.6L127.6 105.4L128.1 105.5L128.6 105.6L129.1 105.7L129.6 105.7L130.1 105.2L130.6 105.3L131.1 105.2L131.6 105.8L132.1 105.3L132.6 105.6L133.1 105.3L133.6 105.4L134.1 105.6L134.6 105.1L135.1 105.8L135.6 105.3L136.1 105.2L136.6 105.4L137.1 105.4L137.6 105.1L138.1 105.6L138.6 105.4L139.1 105.3L139.6 105.5L140.1 105.3L140.6 105.5L141.1 105.4L141.6 105.4L142.1 105.3L142.6 105.6L143.1 105.4L143.6 105.4L144.1 105.6L144.6 105.4L145.1 105.6L145.6 105.2L146.1 105.5L146.6 105.3L147.1 105.4L147.6 105.5L148.1 105.6L148.6 105.7L149.1 105.2L149.6 105.4L150.1 105.4L150.6 105.4L151.1 105.2L151.6 105.6L152.1 105.7L152.6 96L153.1 93.5L153.6 93.2L154.1 96.5L154.6 93.5L155.1 98.1L155.6 98.4L156.1 93.6L156.6 96L157.1 96.4L157.6 94.4L158.1 95.8L158.6 93.9L159.1 94.5L159.6 95.6L160.1 96.6L160.6 96.5L161.1 97.7L161.6 98.7L162.1 94.2L162.6 96.9L163.1 93.4L163.6 94.8L164.1 97.7L164.6 93.7L165.1 96.6L165.6 96.1L166.1 94.3L166.6 96.3L167.1 93.6L167.6 96.5L168.1 92.8L168.6 92.5L169.1 96.6L169.6 96.9L170.1 94L170.6 95.5L171.1 93L171.6 98.9L172.1 96L172.6 93.4L173.1 95.9L173.6 96.1L174.1 95.6L174.6 94.5L175.1 96.4L175.6 94.5L176.1 93.9L176.6 98.3L177.1 98.6L177.6 98.4L178.1 94L178.6 98.7L179.1 94.3L179.6 98.7L180.1 96.3L180.6 92.3L181.1 93.2L181.6 96.8L182.1 99.1L182.6 97.2L183.1 97L183.6 93.3L184.1 95.6L184.6 98.8L185.1 93.2L185.6 93.3L186.1 97.7L186.6 95.4L187.1 95.9L187.6 95.1L188.1 105.5L188.6 105.2L189.1 105.7L189.6 105.2L190.1 105.4L190.6 105.8L191.1 105.6L191.6 105.4L192.1 105.5L192.6 105.4L193.1 105.6L193.6 105.6L194.1 105.2L194.6 105.6L195.1 105.3L195.6 105.2L196.1 105.4L196.6 105.5L197.1 105.1L197.6 105.5L198.1 105.2L198.6 105.8L199.1 105.5L199.6 105.4L200.1 105.8L200.6 105.2L201.1 105.7L201.6 105.4L202.1 105.7L202.6 105.2L203.1 105.4L203.6 105.2L204.1 105.5L204.6 105.3L205.1 105.3L205.6 105.6L206.1 105.7L206.6 105.2L207.1 105.7L207.6 105.2L208.1 105.7L208.6 105.7L209.1 105.7L209.6 105.3L210.1 105.1L210.6 105.5L211.1 105.3L211.6 105.6L212.1 105.2L212.6 105.3L213.1 105.7L213.6 105.8L214.1 105.3L214.6 105.8L215.1 105.2L215.6 105.6L216.1 105.6L216.6 105.4L217.1 105.6L217.6 105.4L218.1 105.7L218.6 105.2L219.1 105.6L219.6 105.2L220.1 105.7L220.6 105.2L221.1 105.1L221.6 105.5L222.1 105.8L222.6 105.5L223.1 105.4L223.6 105.6L224.1 105.4L224.6 105.7L225.1 105.5L225.6 105.3L226.1 105.5L226.6 105.3L227.1 105.7L227.6 105.2L228.1 105.7L228.6 105.2L229.1 105.1L229.6 105.1L230.1 105.4L230.6 105.6L231.1 105.6L231.6 105.3L232.1 105.5L232.6 105.1L233.1 105.7L233.6 105.5L234.1 105.2L234.6 105.4L235.1 105.4L235.6 105.7L236.1 105.7L236.4 106.1Z" fill="#a31b1b"/>
<path d="M152.6 106.1L152.6 105.1L153.3 104.1L154 104.1L154.7 105.1L155.4 104L156.1 105.4L156.8 104.5L157.5 104L158.2 104.9L158.9 104L159.6 104.4L160.3 104.8L161 104.4L161.7 104.2L162.4 104.5L163.1 103.7L163.8 104.6L164.5 103.6L165.2 104.4L165.9 104.8L166.6 104L167.3 104.7L168 104L168.7 103.6L169.4 103.9L170.1 104.2L170.8 104.8L171.5 104.1L172.2 104.7L172.9 103.9L173.6 104.7L174.3 104L175 104.3L175.7 104.3L176.4 103.8L177.1 104.6L177.8 104.6L178.5 103.4L179.2 104.4L179.9 103.6L180.6 103.5L181.3 104.1L182 104.7L182.7 104.7L183.4 103.5L184.1 104.7L184.8 104.1L185.5 104L186.2 104.7L186.9 104.2L187.6 104.6L188 106.1Z" fill="#ee1c1c" fill-opacity="0.75"/>
<path d="M149.3 106.1V92.3M152.2 106.1V93.3M161.8 106.1V97.7M166.1 106.1V92.3M171.8 106.1V92.3M174.6 106.1V98M175.8 106.1V92.3M204.6 106.1V93.6M206.2 106.1V93.6M207.8 106.1V92.6M213.1 106.1V92.3M236.2 106.1V99.2M149 106.1V103.1M184.9 106.1V100.2M169.6 106.1V97M150.5 106.1V97.2M206.3 106.1V99.8M87.8 106.1V101.4M154.2 106.1V99.5M94.3 106.1V103.2M136.3 106.1V102M118.1 106.1V101.6M156.4 106.1V96.1M53.6 106.1V102.3M171.9 106.1V97.8M162.5 106.1V92.3M162.9 106.1V92.3M171.9 106.1V92.3M167.5 106.1V92.3M175.6 106.1V92.3M181.1 106.1V92.3M176.5 106.1V92.3M166.1 106.1V92.3M186.7 106.1V92.3M177.7 106.1V92.3M177.1 106.1V92.3M162.4 106.1V92.3M158.3 106.1V92.3M181.8 106.1V92.3M180.7 106.1V92.3M164.9 106.1V92.3M183.7 106.1V92.3M158.3 106.1V92.3M163.1 106.1V92.3M186.8 106.1V92.3M159.2 106.1V92.3M186 106.1V92.3M168.1 106.1V92.3M186.7 106.1V92.3M162 106.1V92.3M184.8 106.1V92.3M175.2 106.1V92.3M158 106.1V92.3M169.2 106.1V92.3" stroke="#b42020" stroke-opacity="0.8" stroke-width="0.55"/>
<path d="M154.2 106.1V92.3M155.7 106.1V92.3M163.7 106.1V98.1M170.2 106.1V95.2M177.8 106.1V97.4M190.2 106.1V98.4M196.8 106.1V92.3M208.9 106.1V92.5M217.1 106.1V93M222.6 106.1V93.9M153.4 106.1V101.8M206.4 106.1V101M225.7 106.1V96.6M58.5 106.1V101.3M148 106.1V102.6M186.5 106.1V100.9M203.3 106.1V99.9M175.3 106.1V97.8M175.3 106.1V92.3M179.6 106.1V92.3M187.2 106.1V92.3M173 106.1V92.3M157.6 106.1V92.3M178.7 106.1V92.3M158.6 106.1V92.3M163.6 106.1V92.3M186.7 106.1V92.3M159.6 106.1V92.3M156.4 106.1V92.3M161.8 106.1V92.3M166.2 106.1V92.3M168.5 106.1V92.3M182.2 106.1V92.3M180.2 106.1V92.3M163.7 106.1V92.3M179.4 106.1V92.3M172.4 106.1V92.3" stroke="#b42020" stroke-opacity="0.6" stroke-width="0.55"/>
<path d="M156.9 106.1V92.3M183.2 106.1V96.1M199 106.1V97.5M188.3 106.1V97.3M175.1 106.1V96.1M166.2 106.1V92.3" stroke="#b42020" stroke-opacity="1.0" stroke-width="0.55"/>
<path d="M172.9 106.1V92.3M200.2 106.1V92.3M210.6 106.1V97.1M170.9 106.1V92.3M154.5 106.1V92.3M163.6 106.1V92.3M164 106.1V92.3M166.5 106.1V92.3M159.8 106.1V92.3" stroke="#b42020" stroke-opacity="0.4" stroke-width="0.55"/>
<path d="M37.6 105.9H236.4" stroke="#e02020" stroke-width="0.6"/>
<text x="48" y="94.7" font-size="2.85" fill="#222" stroke="#222" stroke-width="0.11">ecEGFR (chr7:54908478-55436488)</text>
<path d="M36.4 111.9H37.6V125.7H36.4" fill="none" stroke="#333" stroke-width="0.4"/>
<text x="34.1" y="112.9" font-size="2.2" text-anchor="end" fill="#444" stroke="#444" stroke-width="0.09">0.1</text>
<text x="34.1" y="126.4" font-size="2.2" text-anchor="end" fill="#444" stroke="#444" stroke-width="0.09">0</text>
<text x="30.2" y="119.7" font-size="3.7" text-anchor="end" fill="#222" stroke="#222" stroke-width="0.15">P521_8</text>
<rect x="58.8" y="112.9" width="150.4" height="12.8" fill="#e2e2e2"/>
<path d="M37.6 125.7L37.6 124.8L38.1 124.8L38.6 125L39.1 125.4L39.6 124.9L40.1 125.4L40.6 125L41.1 125.1L41.6 125.4L42.1 125L42.6 124.9L43.1 125L43.6 125.1L44.1 125L44.6 125L45.1 125.2L45.6 124.8L46.1 124.7L46.6 124.8L47.1 124.7L47.6 125.2L48.1 124.7L48.6 125.4L49.1 125.1L49.6 125.3L50.1 125.1L50.6 124.9L51.1 124.9L51.6 125.1L52.1 125.2L52.6 125.3L53.1 125.1L53.6 125.2L54.1 125.3L54.6 124.9L55.1 125L55.6 125.1L56.1 125.3L56.6 124.9L57.1 125.3L57.6 125.2L58.1 125L58.6 124.9L59.1 122.6L59.6 122.2L60.1 122.6L60.6 123.5L61.1 122.3L61.6 122.8L62.1 123.3L62.6 122.8L63.1 123.3L63.6 123.6L64.1 122.3L64.6 123.1L65.1 123.7L65.6 122.5L66.1 122.1L66.6 122.5L67.1 122.4L67.6 123.7L68.1 123L68.6 123.4L69.1 122.3L69.6 122.2L70.1 123.1L70.6 123.2L71.1 122.4L71.6 123.9L72.1 122.8L72.6 123.9L73.1 122.5L73.6 123.8L74.1 122.9L74.6 123.3L75.1 122.3L75.6 122.7L76.1 123.5L76.6 123.2L77.1 122.8L77.6 123.5L78.1 122.8L78.6 122.6L79.1 123.8L79.6 123.8L80.1 123.2L80.6 122.6L81.1 122.7L81.6 123.1L82.1 122.3L82.6 123.8L83.1 122.1L83.6 123.2L84.1 122.4L84.6 122.6L85.1 123.7L85.6 122.5L86.1 123.8L86.6 122.2L87.1 122.7L87.6 122.8L88.1 123.4L88.6 123.9L89.1 123.7L89.6 122.6L90.1 122.4L90.6 123L91.1 122.5L91.6 122.3L92.1 122.4L92.6 122.4L93.1 122.8L93.6 122.5L94.1 123.8L94.6 123.4L95.1 123.9L95.6 123.9L96.1 122.4L96.6 123.7L97.1 123.5L97.6 123.7L98.1 122.9L98.6 123.7L99.1 122.4L99.6 123.7L100.1 123.4L100.6 123.6L101.1 122.1L101.6 123.9L102.1 123.7L102.6 122.8L103.1 123.1L103.6 122.8L104.1 122.3L104.6 122.5L105.1 122.4L105.6 123.8L106.1 122.4L106.6 122.3L107.1 122.2L107.6 122.6L108.1 123.4L108.6 123.3L109.1 123.1L109.6 122.7L110.1 122.5L110.6 122.1L111.1 123.4L111.6 123.2L112.1 123.5L112.6 122.2L113.1 122.5L113.6 122.3L114.1 122.9L114.6 122.4L115.1 122.8L115.6 122.9L116.1 123.6L116.6 122.7L117.1 122.2L117.6 122.3L118.1 122.2L118.6 123.5L119.1 122.3L119.6 123.4L120.1 122.1L120.6 123.1L121.1 122.7L121.6 122.5L122.1 123.4L122.6 122.7L123.1 123.4L123.6 122.7L124.1 122.7L124.6 122.6L125.1 123.8L125.6 123.9L126.1 123.6L126.6 123L127.1 122.7L127.6 122.5L128.1 123.7L128.6 123.2L129.1 123.1L129.6 123.7L130.1 123.3L130.6 123.8L131.1 123.5L131.6 122.5L132.1 123.4L132.6 123.6L133.1 123.6L133.6 122.8L134.1 123.6L134.6 123.7L135.1 123.2L135.6 122.9L136.1 123.8L136.6 122.4L137.1 122.2L137.6 122.6L138.1 122.5L138.6 123.2L139.1 123.7L139.6 122.5L140.1 123.2L140.6 123.5L141.1 123.5L141.6 123.2L142.1 123.1L142.6 123.8L143.1 122.4L143.6 123.8L144.1 123.7L144.6 122.6L145.1 123.7L145.6 123.6L146.1 123.1L146.6 123.8L147.1 123.1L147.6 122.9L148.1 123.5L148.6 122.9L149.1 122.2L149.6 123.7L150.1 121.9L150.6 122.1L151.1 119.2L151.6 122.6L152.1 122.1L152.6 122.4L153.1 122.2L153.6 120.8L154.1 119.9L154.6 120.9L155.1 122.3L155.6 119.9L156.1 119.3L156.6 120.5L157.1 122L157.6 122.3L158.1 120.6L158.6 120.2L159.1 122L159.6 119.1L160.1 120.4L160.6 122.1L161.1 122L161.6 121.3L162.1 122.8L162.6 119.6L163.1 121.9L163.6 120.1L164.1 122.4L164.6 122.4L165.1 119.4L165.6 122.2L166.1 121.3L166.6 119.5L167.1 119.1L167.6 119.2L168.1 121.7L168.6 119.4L169.1 119.5L169.6 120.8L170.1 120.3L170.6 119.3L171.1 122.6L171.6 122.2L172.1 122L172.6 120.2L173.1 120.4L173.6 119.7L174.1 120.2L174.6 122.2L175.1 122L175.6 122.1L176.1 119.3L176.6 121.5L177.1 122.4L177.6 121.8L178.1 121.3L178.6 120.6L179.1 121.5L179.6 122.2L180.1 120.2L180.6 119.1L181.1 120.3L181.6 119L182.1 121.7L182.6 120.5L183.1 120.5L183.6 120.8L184.1 122.6L184.6 120.1L185.1 121.8L185.6 122.8L186.1 119L186.6 120.8L187.1 121L187.6 122.6L188.1 120.4L188.6 119.7L189.1 120.9L189.6 120.7L190.1 120.1L190.6 122L191.1 122.5L191.6 120.1L192.1 122L192.6 120.6L193.1 120.6L193.6 121.9L194.1 120.8L194.6 120L195.1 120.3L195.6 119.3L196.1 120.2L196.6 122L197.1 120L197.6 121.7L198.1 122.7L198.6 122.7L199.1 119.2L199.6 122.1L200.1 120.8L200.6 120.8L201.1 122.6L201.6 121.9L202.1 121.6L202.6 119.8L203.1 119.2L203.6 122.5L204.1 121.8L204.6 119.3L205.1 120.4L205.6 119.9L206.1 122.6L206.6 119L207.1 119.8L207.6 122.6L208.1 119.6L208.6 119.8L209.1 125.1L209.6 125.2L210.1 125.3L210.6 125.2L211.1 124.7L211.6 125.3L212.1 125.2L212.6 124.9L213.1 124.8L213.6 124.8L214.1 125.1L214.6 124.7L215.1 125L215.6 125.2L216.1 125.1L216.6 124.9L217.1 124.9L217.6 125.3L218.1 125.3L218.6 124.7L219.1 125.3L219.6 124.8L220.1 125.2L220.6 125.2L221.1 125.2L221.6 125.1L222.1 124.7L222.6 125.3L223.1 124.8L223.6 125.2L224.1 125.3L224.6 124.9L225.1 125.2L225.6 125.3L226.1 125.1L226.6 124.8L227.1 124.8L227.6 125L228.1 125.4L228.6 124.9L229.1 125L229.6 124.8L230.1 124.7L230.6 125.2L231.1 124.8L231.6 124.8L232.1 125.2L232.6 125.1L233.1 125.1L233.6 125.2L234.1 125.1L234.6 125.3L235.1 125.2L235.6 124.8L236.1 125.1L236.4 125.7Z" fill="#a31b1b"/>
<path d="M58.8 125.7L58.8 124.1L59.5 123.7L60.2 123.9L60.9 124.7L61.6 123.6L62.3 123.8L63 123.5L63.7 123.9L64.4 123.9L65.1 123.8L65.8 124.7L66.5 124.1L67.2 124.5L67.9 123.8L68.6 124.9L69.3 124.2L70 124.6L70.7 123.8L71.4 124.5L72.1 123.7L72.8 123.7L73.5 123.7L74.2 124.9L74.9 123.6L75.6 123.9L76.3 124L77 124.1L77.7 125L78.4 123.7L79.1 124.2L79.8 124.4L80.5 124.6L81.2 123.8L81.9 123.8L82.6 123.7L83.3 124.8L84 124.6L84.7 124.7L85.4 124.9L86.1 124.6L86.8 125.1L87.5 123.8L88.2 124.7L88.9 125L89.6 125L90.3 123.9L91 124.8L91.7 124.4L92.4 124.5L93.1 123.8L93.8 123.6L94.5 124.6L95.2 124.1L95.9 123.7L96.6 124.3L97.3 123.7L98 123.9L98.7 124.6L99.4 123.7L100.1 124.2L100.8 124.9L101.5 124.2L102.2 123.8L102.9 124.3L103.6 124.3L104.3 124.4L105 123.7L105.7 124L106.4 124.8L107.1 124.5L107.8 124.5L108.5 123.6L109.2 124L109.9 124.9L110.6 123.6L111.3 125L112 124.2L112.7 124.4L113.4 124L114.1 124.4L114.8 125L115.5 124.3L116.2 123.8L116.9 123.8L117.6 124.5L118.3 124.7L119 123.9L119.7 123.8L120.4 124.7L121.1 123.7L121.8 123.5L122.5 124.4L123.2 124.5L123.9 124L124.6 123.6L125.3 124.8L126 124.6L126.7 124.6L127.4 123.9L128.1 124.8L128.8 124.2L129.5 124.3L130.2 124L130.9 124.9L131.6 123.6L132.3 123.5L133 124.2L133.7 123.8L134.4 124.8L135.1 123.6L135.8 124.2L136.5 123.9L137.2 123.7L137.9 124.5L138.6 123.6L139.3 124.8L140 125.1L140.7 124.3L141.4 123.7L142.1 123.7L142.8 123.6L143.5 124.3L144.2 123.6L144.9 124.2L145.6 124.9L146.3 124.1L147 123.8L147.7 124.4L148.4 124.1L149.1 124.7L149.8 124.7L150.5 124.4L151.2 124.3L151.9 124.4L152.6 125L153.3 125.1L154 124.6L154.7 124L155.4 123.9L156.1 124.7L156.8 124.7L157.5 124.3L158.2 124.8L158.9 124.1L159.6 123.7L160.3 124.2L161 123.6L161.7 123.3L162.4 123.3L163.1 123.4L163.8 123.4L164.5 124.1L165.2 123.2L165.9 123L166.6 124.4L167.3 123L168 123.8L168.7 124.4L169.4 124.4L170.1 123.2L170.8 123.4L171.5 124.3L172.2 123.8L172.9 123.5L173.6 122.9L174.3 124L175 123.3L175.7 124.1L176.4 124.2L177.1 124.2L177.8 123.8L178.5 123.5L179.2 124L179.9 124.2L180.6 124.2L181.3 124.4L182 124.2L182.7 124L183.4 123.7L184.1 124.2L184.8 123.7L185.5 123.8L186.2 122.9L186.9 123.7L187.6 123L188.3 123.7L189 124.2L189.7 123.6L190.4 124.3L191.1 124.2L191.8 124.4L192.5 123.4L193.2 123L193.9 123.9L194.6 123.9L195.3 123.8L196 123.9L196.7 123.4L197.4 123.9L198.1 124.3L198.8 123.1L199.5 123.6L200.2 125.1L200.9 123.7L201.6 123.9L202.3 124.5L203 124.1L203.7 123.6L204.4 124.5L205.1 124.4L205.8 124.6L206.5 124.2L207.2 124L207.9 123.9L208.6 123.6L209 125.7Z" fill="#ee1c1c" fill-opacity="0.75"/>
<path d="M58.7 125.7V116.7M152.2 125.7V118.6M154 125.7V111.9M155.5 125.7V111.9M161.9 125.7V111.9M167.8 125.7V117M176.3 125.7V111.9M187.1 125.7V119.3M190.1 125.7V111.9M196.8 125.7V111.9M203 125.7V111.9M206.1 125.7V116.1M207.7 125.7V116.5M210.8 125.7V111.9M216.9 125.7V119.4M125.1 125.7V121.1M46.8 125.7V120.5M47.2 125.7V121.1M178.1 125.7V117.7M165 125.7V120.6M220 125.7V115.8M193.7 125.7V122.4M208.3 125.7V119.2M186.8 125.7V120.5M191.8 125.7V117.6M214.1 125.7V122.5M204.7 125.7V119.7M195 125.7V115.4M74.2 125.7V112.7M179.9 125.7V114.8M83.5 125.7V114.7M84.6 125.7V119.6M192 125.7V117.6M203 125.7V112.1M80.5 125.7V115.6M78 125.7V118.3M153.6 125.7V115.8M113.7 125.7V112.4M154.3 125.7V116M113.4 125.7V115.4M104.4 125.7V112.2M208.6 125.7V113.7M194.9 125.7V117.4M207.5 125.7V115.7M180.4 125.7V112.4M168.8 125.7V112.8M165 125.7V112.3M173.1 125.7V112.6M185.3 125.7V115.6M208.7 125.7V114M192 125.7V116.5" stroke="#b42020" stroke-opacity="0.6" stroke-width="0.55"/>
<path d="M149.4 125.7V112.3M164 125.7V118.6M197.3 125.7V117.3M150 125.7V119.7M142.3 125.7V114M63.8 125.7V119M142.2 125.7V119M184.9 125.7V116.8M188.9 125.7V112.9M165.4 125.7V113.3" stroke="#b42020" stroke-opacity="1.0" stroke-width="0.55"/>
<path d="M163.4 125.7V111.9M166 125.7V116.7M169.7 125.7V111.9M172.9 125.7V111.9M174.8 125.7V114M177.7 125.7V118M194.3 125.7V111.9M201.3 125.7V111.9M213.5 125.7V119.5M222.4 125.7V115.2M171 125.7V121.4M147 125.7V121.5M222.4 125.7V121.4M163.7 125.7V117.6M141.7 125.7V120.2M233.5 125.7V123.3M177 125.7V118.6M195.9 125.7V118.9M204.7 125.7V114M187.3 125.7V116.9M170.8 125.7V118.8M128.8 125.7V113.5M203.3 125.7V112.6M142.3 125.7V117.2M129.8 125.7V116.4M141.3 125.7V118.1M201.3 125.7V114.7M188.5 125.7V114.9M69.1 125.7V120.8M193.5 125.7V112.3M162.4 125.7V115.1M187.9 125.7V117.4M160.6 125.7V116.3M207.4 125.7V115.2M194.2 125.7V117M200.7 125.7V112M177.8 125.7V113.8M206.7 125.7V111.9" stroke="#b42020" stroke-opacity="0.8" stroke-width="0.55"/>
<path d="M179.2 125.7V118.8M182.7 125.7V111.9M204.7 125.7V111.9M194.4 125.7V118.9M102.4 125.7V122.6M154.9 125.7V116.4M159.3 125.7V119.5M153.8 125.7V116.1M99.5 125.7V117.6M147.6 125.7V119.4M204 125.7V117.4M96 125.7V112.1M201 125.7V113.7M173.2 125.7V116.6M195.6 125.7V114.4" stroke="#b42020" stroke-opacity="0.4" stroke-width="0.55"/>
<path d="M37.6 125.5H236.4" stroke="#e02020" stroke-width="0.6"/>
<text x="48" y="114.3" font-size="2.85" fill="#222" stroke="#222" stroke-width="0.11">ecEGFR (chr7:54908478-55436488)</text>
<path d="M36.4 131.5H37.6V145.3H36.4" fill="none" stroke="#333" stroke-width="0.4"/>
<text x="34.1" y="132.5" font-size="2.2" text-anchor="end" fill="#444" stroke="#444" stroke-width="0.09">0.1</text>
<text x="34.1" y="146" font-size="2.2" text-anchor="end" fill="#444" stroke="#444" stroke-width="0.09">0</text>
<text x="30.2" y="139.3" font-size="3.7" text-anchor="end" fill="#222" stroke="#222" stroke-width="0.15">P521_7</text>
<path d="M37.6 145.3L37.6 144.6L38.1 144.5L38.6 144.8L39.1 144.5L39.6 144.7L40.1 144.5L40.6 144.8L41.1 144.3L41.6 144.7L42.1 145L42.6 144.9L43.1 144.5L43.6 144.4L44.1 144.6L44.6 144.9L45.1 144.4L45.6 144.5L46.1 144.9L46.6 144.7L47.1 144.5L47.6 145L48.1 145L48.6 144.8L49.1 144.4L49.6 144.3L50.1 144.8L50.6 144.4L51.1 144.4L51.6 144.4L52.1 144.6L52.6 144.3L53.1 144.5L53.6 144.3L54.1 144.6L54.6 144.9L55.1 144.6L55.6 144.7L56.1 144.8L56.6 144.7L57.1 144.6L57.6 144.6L58.1 144.8L58.6 144.8L59.1 144.6L59.6 144.6L60.1 144.7L60.6 144.5L61.1 144.9L61.6 144.6L62.1 144.8L62.6 144.5L63.1 144.5L63.6 144.5L64.1 144.6L64.6 144.8L65.1 144.4L65.6 144.6L66.1 144.7L66.6 144.8L67.1 144.7L67.6 144.5L68.1 144.4L68.6 144.7L69.1 144.5L69.6 144.9L70.1 144.7L70.6 144.7L71.1 144.8L71.6 144.7L72.1 144.5L72.6 144.5L73.1 144.9L73.6 144.8L74.1 144.5L74.6 144.5L75.1 144.5L75.6 144.6L76.1 144.5L76.6 144.8L77.1 145L77.6 144.7L78.1 145L78.6 144.3L79.1 144.6L79.6 144.5L80.1 144.3L80.6 144.4L81.1 144.8L81.6 144.8L82.1 144.9L82.6 144.4L83.1 144.5L83.6 144.7L84.1 144.7L84.6 144.8L85.1 144.7L85.6 144.5L86.1 144.4L86.6 144.4L87.1 144.4L87.6 144.7L88.1 144.7L88.6 144.8L89.1 144.3L89.6 144.9L90.1 144.9L90.6 144.8L91.1 144.4L91.6 144.4L92.1 144.8L92.6 144.4L93.1 144.4L93.6 144.7L94.1 144.9L94.6 144.5L95.1 144.7L95.6 144.9L96.1 144.4L96.6 144.7L97.1 144.7L97.6 144.6L98.1 144.8L98.6 145L99.1 144.7L99.6 144.7L100.1 145L100.6 144.7L101.1 144.5L101.6 144.8L102.1 144.5L102.6 144.6L103.1 144.9L103.6 145L104.1 144.5L104.6 144.6L105.1 144.8L105.6 144.9L106.1 144.4L106.6 144.4L107.1 144.8L107.6 144.6L108.1 144.6L108.6 144.8L109.1 145L109.6 144.8L110.1 144.5L110.6 144.6L111.1 144.6L111.6 144.9L112.1 144.9L112.6 144.8L113.1 144.7L113.6 144.7L114.1 144.4L114.6 144.9L115.1 144.3L115.6 144.8L116.1 144.4L116.6 144.8L117.1 144.6L117.6 144.7L118.1 145L118.6 144.4L119.1 144.4L119.6 144.8L120.1 144.5L120.6 144.7L121.1 144.3L121.6 145L122.1 144.7L122.6 144.8L123.1 144.6L123.6 144.5L124.1 144.4L124.6 144.6L125.1 144.7L125.6 144.4L126.1 144.9L126.6 144.8L127.1 144.5L127.6 144.7L128.1 144.3L128.6 144.9L129.1 144.7L129.6 144.9L130.1 145L130.6 144.9L131.1 144.9L131.6 144.7L132.1 144.7L132.6 144.6L133.1 144.8L133.6 144.5L134.1 144.6L134.6 144.3L135.1 144.9L135.6 144.6L136.1 144.7L136.6 144.7L137.1 144.4L137.6 144.9L138.1 144.4L138.6 144.7L139.1 144.8L139.6 144.6L140.1 144.6L140.6 144.8L141.1 144.9L141.6 144.3L142.1 144.7L142.6 144.9L143.1 144.5L143.6 144.6L144.1 144.8L144.6 144.8L145.1 144.4L145.6 144.8L146.1 144.7L146.6 144.3L147.1 144.7L147.6 144.7L148.1 144.9L148.6 144.5L149.1 144.5L149.6 144.7L150.1 144.5L150.6 144.1L151.1 144.2L151.6 144.8L152.1 143.4L152.6 143.8L153.1 144.1L153.6 144.5L154.1 143.8L154.6 143.8L155.1 143.9L155.6 144L156.1 144L156.6 144.1L157.1 144.6L157.6 143.8L158.1 143.9L158.6 143.9L159.1 144.1L159.6 143.9L160.1 144.3L160.6 143.3L161.1 143.8L161.6 143.9L162.1 143.4L162.6 143.7L163.1 143.5L163.6 143.6L164.1 144.8L164.6 144.1L165.1 143.8L165.6 143.5L166.1 143.5L166.6 144.8L167.1 144.7L167.6 143.9L168.1 144.6L168.6 144.4L169.1 143.4L169.6 143.3L170.1 143.6L170.6 143.4L171.1 143.7L171.6 144.7L172.1 144L172.6 143.5L173.1 143.8L173.6 143.6L174.1 144.5L174.6 144.4L175.1 143.6L175.6 143.8L176.1 144.5L176.6 143.4L177.1 144L177.6 144.8L178.1 143.7L178.6 144.3L179.1 144.3L179.6 143.8L180.1 144L180.6 143.4L181.1 144L181.6 144.5L182.1 144.3L182.6 144.7L183.1 143.8L183.6 144.2L184.1 144.5L184.6 144.8L185.1 144.4L185.6 144L186.1 143.9L186.6 143.6L187.1 143.5L187.6 143.8L188.1 144.1L188.6 143.4L189.1 144.6L189.6 144L190.1 144.5L190.6 144.2L191.1 144.5L191.6 144.5L192.1 144L192.6 144L193.1 144.8L193.6 144.5L194.1 143.6L194.6 144L195.1 143.6L195.6 143.7L196.1 143.9L196.6 144.2L197.1 144.7L197.6 143.8L198.1 144L198.6 144.6L199.1 143.5L199.6 144.4L200.1 144.4L200.6 144.1L201.1 144.3L201.6 144.2L202.1 143.7L202.6 144.5L203.1 144.3L203.6 143.8L204.1 143.3L204.6 144.7L205.1 144.2L205.6 144.2L206.1 144.7L206.6 144L207.1 144.1L207.6 143.6L208.1 144.5L208.6 143.5L209.1 143.8L209.6 144.1L210.1 144.4L210.6 143.5L211.1 144.2L211.6 143.3L212.1 143.9L212.6 143.5L213.1 144.6L213.6 143.7L214.1 144.5L214.6 143.8L215.1 144.8L215.6 144.3L216.1 144.3L216.6 143.8L217.1 143.6L217.6 144L218.1 144.6L218.6 144.7L219.1 144.8L219.6 144.2L220.1 144.2L220.6 144.2L221.1 144L221.6 143.3L222.1 144.1L222.6 143.3L223.1 143.8L223.6 144.2L224.1 144.4L224.6 144.7L225.1 143.5L225.6 144.1L226.1 144.4L226.6 144L227.1 143.4L227.6 144.4L228.1 144.2L228.6 144.1L229.1 144.3L229.6 143.7L230.1 143.4L230.6 144.3L231.1 144.8L231.6 144.6L232.1 144.8L232.6 144.5L233.1 144.7L233.6 144L234.1 143.6L234.6 144.4L235.1 143.5L235.6 143.7L236.1 143.4L236.4 145.3Z" fill="#505050"/>
<path d="M149.6 145.3V138.6M151.8 145.3V131.5M166.3 145.3V131.6M175.8 145.3V137.1M177.6 145.3V131.5M190 145.3V136M198.6 145.3V131.5M203.2 145.3V133M216.8 145.3V139.1M235.8 145.3V131.6M164.2 145.3V139.9M183 145.3V136.8M204.6 145.3V140.2M191.1 145.3V135.5M197.3 145.3V141.2M212.5 145.3V142.1M186.5 145.3V141.8M56.9 145.3V143.6M83.3 145.3V140.4M162.5 145.3V140.7M208.8 145.3V141.6M153.7 145.3V142.8M102.3 145.3V141.5M164 145.3V138.1M170.9 145.3V139.2M171.1 145.3V140.8M168.2 145.3V138.7M209.8 145.3V139.4M207.1 145.3V138.1M39.1 145.3V142.6M44.2 145.3V140.6" stroke="#333" stroke-opacity="0.8" stroke-width="0.55"/>
<path d="M153.9 145.3V137M169.8 145.3V132.9M179.1 145.3V135.5M182.9 145.3V137.6M194.2 145.3V131.9M204.5 145.3V131.5M205.8 145.3V131.5M207.4 145.3V137.4M210.6 145.3V131.5M213.5 145.3V131.5M228.6 145.3V131.5M181.5 145.3V136.5M204.2 145.3V136.5M205.2 145.3V136.8M194.3 145.3V140.6M205.9 145.3V135M187.4 145.3V139M190.6 145.3V135.2M184.5 145.3V136M121.3 145.3V143.7M128.8 145.3V140.2M100.2 145.3V140.1M180.5 145.3V137.4M196.8 145.3V141.3M191 145.3V138.9M183.8 145.3V135.3" stroke="#333" stroke-opacity="0.4" stroke-width="0.55"/>
<path d="M155.7 145.3V131.5M157 145.3V131.5M161.9 145.3V131.5M172.7 145.3V132.9M187.1 145.3V136.2M200.2 145.3V132M201.4 145.3V131.5M222.6 145.3V131.5M39.9 145.3V141M177.3 145.3V139.8M192.6 145.3V136.6M111 145.3V142.8" stroke="#333" stroke-opacity="0.6" stroke-width="0.55"/>
<path d="M37.6 145.1H236.4" stroke="#333" stroke-width="0.6"/>
<path d="M36.4 151.1H37.6V164.9H36.4" fill="none" stroke="#333" stroke-width="0.4"/>
<text x="34.1" y="152.1" font-size="2.2" text-anchor="end" fill="#444" stroke="#444" stroke-width="0.09">0.1</text>
<text x="34.1" y="165.6" font-size="2.2" text-anchor="end" fill="#444" stroke="#444" stroke-width="0.09">0</text>
<text x="30.2" y="158.9" font-size="3.7" text-anchor="end" fill="#222" stroke="#222" stroke-width="0.15">P521_3</text>
<rect x="59.3" y="152.1" width="149.9" height="12.8" fill="#e2e2e2"/>
<path d="M37.6 164.9L37.6 164.1L38.1 164.3L38.6 164L39.1 164.5L39.6 164.5L40.1 164.4L40.6 164L41.1 164.5L41.6 164.5L42.1 164.1L42.6 164.5L43.1 164.1L43.6 164.5L44.1 164.4L44.6 164.1L45.1 164L45.6 164.3L46.1 164.3L46.6 164.6L47.1 164.4L47.6 164.4L48.1 164L48.6 164.1L49.1 164.1L49.6 164.2L50.1 164.1L50.6 164.5L51.1 164.3L51.6 164.4L52.1 164.4L52.6 164.1L53.1 164.5L53.6 164.4L54.1 164.4L54.6 164L55.1 164.2L55.6 164.3L56.1 164.3L56.6 164L57.1 163.9L57.6 164.3L58.1 164.2L58.6 164L59.1 164.4L59.6 161.5L60.1 159.2L60.6 160.3L61.1 160.2L61.6 158.9L62.1 160.5L62.6 159.6L63.1 158.5L63.6 160.6L64.1 160.7L64.6 160L65.1 158.5L65.6 159.9L66.1 161.1L66.6 159.3L67.1 160.1L67.6 161.5L68.1 158.6L68.6 158.5L69.1 158.7L69.6 160L70.1 158.5L70.6 161.1L71.1 160.6L71.6 159.9L72.1 158L72.6 159L73.1 161L73.6 159.3L74.1 159.6L74.6 159.7L75.1 159.7L75.6 157.6L76.1 159.1L76.6 160.3L77.1 159.3L77.6 157.3L78.1 160.4L78.6 160.6L79.1 158.1L79.6 160.2L80.1 159.4L80.6 159L81.1 160.9L81.6 158.4L82.1 157.4L82.6 159.9L83.1 158.9L83.6 160.2L84.1 159.1L84.6 158.1L85.1 160L85.6 160.2L86.1 160.4L86.6 159.3L87.1 159.7L87.6 158.7L88.1 159.6L88.6 160.4L89.1 158.5L89.6 158.6L90.1 159.8L90.6 157.8L91.1 159.4L91.6 158.1L92.1 160L92.6 158.5L93.1 158.4L93.6 158.3L94.1 158.1L94.6 159.9L95.1 161.3L95.6 161.3L96.1 159.9L96.6 160.2L97.1 158.5L97.6 158.6L98.1 161.3L98.6 160.7L99.1 161.5L99.6 159.1L100.1 159.3L100.6 159L101.1 160.9L101.6 159.5L102.1 161L102.6 160.5L103.1 160.5L103.6 159.8L104.1 159.3L104.6 159.3L105.1 161.5L105.6 160.2L106.1 159L106.6 161L107.1 159.7L107.6 161.2L108.1 159L108.6 161L109.1 161.4L109.6 159.3L110.1 159.6L110.6 162.1L111.1 161.3L111.6 161.8L112.1 161.8L112.6 161.5L113.1 160.9L113.6 160.8L114.1 160.2L114.6 159.7L115.1 160.7L115.6 161.4L116.1 159.9L116.6 162.1L117.1 160L117.6 160.5L118.1 161L118.6 161.5L119.1 160.6L119.6 160.8L120.1 159.8L120.6 160.6L121.1 161.7L121.6 162.1L122.1 162L122.6 162.2L123.1 160.2L123.6 161.9L124.1 161.3L124.6 161.6L125.1 160L125.6 160L126.1 162L126.6 160L127.1 160.2L127.6 160.5L128.1 162.2L128.6 162.2L129.1 160.5L129.6 160.6L130.1 160.4L130.6 159.9L131.1 160.2L131.6 160.2L132.1 160.9L132.6 161L133.1 160L133.6 161.1L134.1 159.7L134.6 162.1L135.1 160.2L135.6 162.2L136.1 161L136.6 159.9L137.1 162.1L137.6 161.4L138.1 161.8L138.6 160L139.1 161.7L139.6 160.1L140.1 161.7L140.6 159.2L141.1 160.8L141.6 158.9L142.1 159L142.6 159.7L143.1 159.8L143.6 160.4L144.1 160.3L144.6 161.5L145.1 160.5L145.6 161.1L146.1 159.7L146.6 158.9L147.1 160.1L147.6 161.1L148.1 159.2L148.6 160.1L149.1 160.5L149.6 158.5L150.1 157.5L150.6 157.2L151.1 157.3L151.6 158.1L152.1 157L152.6 159L153.1 156.8L153.6 160L154.1 160L154.6 156.9L155.1 156.6L155.6 157.6L156.1 157.1L156.6 157.3L157.1 156.4L157.6 159.5L158.1 157.9L158.6 157.1L159.1 158L159.6 158L160.1 159.5L160.6 156L161.1 157.4L161.6 157.8L162.1 159.7L162.6 154.6L163.1 157.2L163.6 159.4L164.1 155.1L164.6 158.3L165.1 155.3L165.6 157.6L166.1 155.3L166.6 155L167.1 156.5L167.6 155.9L168.1 159L168.6 155.9L169.1 155.5L169.6 157.4L170.1 155L170.6 159.5L171.1 157.9L171.6 155.3L172.1 158.4L172.6 157.1L173.1 157.2L173.6 154.3L174.1 155L174.6 153.7L175.1 157.5L175.6 158.8L176.1 155.8L176.6 157.5L177.1 158.8L177.6 158.6L178.1 156.1L178.6 156.7L179.1 156.3L179.6 155.2L180.1 158.2L180.6 154.5L181.1 158.6L181.6 158.5L182.1 157.4L182.6 157.3L183.1 157.4L183.6 154.4L184.1 154.2L184.6 153.9L185.1 155.5L185.6 157.9L186.1 154.2L186.6 155.2L187.1 156.2L187.6 158.2L188.1 155.1L188.6 159.2L189.1 156.4L189.6 157.5L190.1 153.8L190.6 156.9L191.1 157.1L191.6 156.7L192.1 153.7L192.6 153L193.1 158.1L193.6 157.7L194.1 155.3L194.6 154.8L195.1 157.1L195.6 153.7L196.1 158.4L196.6 157L197.1 157.9L197.6 156.4L198.1 156.8L198.6 157.4L199.1 152.3L199.6 154.3L200.1 157.1L200.6 152.5L201.1 155L201.6 157.8L202.1 153.1L202.6 158L203.1 155L203.6 158L204.1 158.5L204.6 157.8L205.1 156.4L205.6 154.9L206.1 156.6L206.6 154.5L207.1 160.8L207.6 159.8L208.1 161.3L208.6 158.8L209.1 164.1L209.6 164.5L210.1 164.1L210.6 164L211.1 164.3L211.6 164.5L212.1 164.1L212.6 164.4L213.1 164.5L213.6 164.5L214.1 164.3L214.6 164.5L215.1 164.3L215.6 164.2L216.1 164.2L216.6 164.3L217.1 164L217.6 164.5L218.1 164.4L218.6 163.9L219.1 164L219.6 164L220.1 164.1L220.6 164.2L221.1 164L221.6 164.2L222.1 164.5L222.6 164.4L223.1 164.5L223.6 164L224.1 164.4L224.6 164.3L225.1 164.2L225.6 164.5L226.1 164.1L226.6 164L227.1 164L227.6 164L228.1 164.4L228.6 164.5L229.1 164.1L229.6 164.1L230.1 164.3L230.6 164.4L231.1 164.5L231.6 164L232.1 164.3L232.6 164L233.1 164.4L233.6 164.4L234.1 164.2L234.6 164.1L235.1 164L235.6 164.4L236.1 164.1L236.4 164.9Z" fill="#a31b1b"/>
<path d="M59.3 164.9L59.3 163.7L60 162.9L60.7 163.1L61.4 163.4L62.1 163.7L62.8 163.9L63.5 162.9L64.2 163L64.9 163.8L65.6 164.2L66.3 164L67 162.8L67.7 164.2L68.4 163L69.1 163.5L69.8 163.4L70.5 163.4L71.2 163.6L71.9 163.4L72.6 164.2L73.3 162.8L74 164.1L74.7 164.1L75.4 163.2L76.1 163.3L76.8 163L77.5 163.2L78.2 162.8L78.9 164.2L79.6 164.3L80.3 163.9L81 163.1L81.7 164.1L82.4 163.4L83.1 163.1L83.8 164L84.5 163.5L85.2 162.9L85.9 163.1L86.6 163.7L87.3 163.5L88 163.9L88.7 162.8L89.4 163L90.1 163.2L90.8 163.8L91.5 163.1L92.2 163.5L92.9 163L93.6 163.7L94.3 162.9L95 163.2L95.7 163.6L96.4 163.4L97.1 163L97.8 163.5L98.5 162.8L99.2 164.3L99.9 162.9L100.6 163.2L101.3 163.5L102 162.9L102.7 164.1L103.4 163.8L104.1 163.2L104.8 163L105.5 163.7L106.2 162.7L106.9 163.3L107.6 164.2L108.3 164.1L109 164.2L109.7 163.4L110.4 163.8L111.1 163.9L111.8 163.6L112.5 164.2L113.2 162.8L113.9 163L114.6 163.4L115.3 163.6L116 163.8L116.7 163.3L117.4 163.7L118.1 162.7L118.8 162.8L119.5 163.1L120.2 163L120.9 164.2L121.6 164.1L122.3 163.7L123 164.1L123.7 163.6L124.4 162.7L125.1 163L125.8 162.8L126.5 163.9L127.2 163.9L127.9 164.3L128.6 163.9L129.3 164.2L130 163.5L130.7 163.8L131.4 163.2L132.1 163.4L132.8 163.3L133.5 163.8L134.2 163.1L134.9 163.2L135.6 163.2L136.3 163.5L137 163.6L137.7 163.8L138.4 164.2L139.1 163.6L139.8 163.3L140.5 164L141.2 162.9L141.9 162.9L142.6 162.9L143.3 163L144 163.5L144.7 164L145.4 163.9L146.1 163.1L146.8 162.7L147.5 164.1L148.2 164.3L148.9 163.7L149.6 163.7L150.3 163.3L151 164.1L151.7 162.9L152.4 163.8L153.1 162.8L153.8 163.8L154.5 163.8L155.2 164L155.9 162.8L156.6 163.4L157.3 163L158 164.2L158.7 163.4L159.4 163.1L160.1 162.1L160.8 162.2L161.5 163.5L162.2 163.1L162.9 162.1L163.6 162.8L164.3 162.2L165 163.3L165.7 163.7L166.4 162.2L167.1 163.3L167.8 162.8L168.5 163.1L169.2 162.8L169.9 162.2L170.6 162.2L171.3 162.3L172 163.3L172.7 162.4L173.4 163.7L174.1 163L174.8 162.2L175.5 163.3L176.2 163.1L176.9 162.8L177.6 163.3L178.3 162.6L179 162.7L179.7 163.5L180.4 162.2L181.1 163.6L181.8 162.6L182.5 163.1L183.2 163.5L183.9 163.6L184.6 162.1L185.3 162.4L186 163L186.7 162.4L187.4 162.1L188.1 162.2L188.8 162.8L189.5 163.3L190.2 162.9L190.9 162.1L191.6 162.5L192.3 162.6L193 162.4L193.7 163L194.4 162.8L195.1 162.3L195.8 163.4L196.5 162.3L197.2 163.7L197.9 162.8L198.6 162.8L199.3 163.5L200 162.2L200.7 163.6L201.4 164L202.1 163.6L202.8 163.4L203.5 163.6L204.2 164.3L204.9 164.2L205.6 163.2L206.3 164.1L207 163.9L207.7 163L208.4 162.9L209 164.9Z" fill="#ee1c1c" fill-opacity="0.75"/>
<path d="M127.2 164.9V158.7M149.6 164.9V151.1M153.8 164.9V158.1M168 164.9V154M174.6 164.9V151.1M203.2 164.9V151.1M233.8 164.9V151.1M235.4 164.9V162.2M161.6 164.9V157.4M178.1 164.9V162.8M62.4 164.9V152.6M116 164.9V159.5M144.1 164.9V154.7M166.7 164.9V154.3M160.3 164.9V155.9M170.1 164.9V154.6M203.7 164.9V154M184.3 164.9V156.3M172.9 164.9V151.5M183 164.9V155.8" stroke="#b42020" stroke-opacity="1.0" stroke-width="0.55"/>
<path d="M155.4 164.9V155.4M204.6 164.9V151.1M209.3 164.9V155.4M199.4 164.9V156M200.3 164.9V161.8M208 164.9V159.4M222.6 164.9V157M119 164.9V161.1M177.4 164.9V155.3M151.9 164.9V154M153.5 164.9V154.5M160.2 164.9V158M95.6 164.9V158.8M165.1 164.9V153.6M207.3 164.9V154.2M191.5 164.9V153.3M198.9 164.9V156M189.9 164.9V151.9M175.1 164.9V152" stroke="#b42020" stroke-opacity="0.4" stroke-width="0.55"/>
<path d="M156.9 164.9V151.1M161.8 164.9V156.2M163.8 164.9V151.1M170 164.9V153.5M177.6 164.9V151.1M182.7 164.9V156.1M187.1 164.9V155.1M198.8 164.9V151.1M199.9 164.9V154M222.4 164.9V151.1M236.2 164.9V151.3M196.3 164.9V161.8M183.4 164.9V154.7M167.8 164.9V160M151 164.9V156.9M160.6 164.9V156.9M107.4 164.9V159.7M179.1 164.9V162.3M183.7 164.9V156.3M90.2 164.9V160M113.3 164.9V157.2M59.9 164.9V158M194.1 164.9V156M90.2 164.9V152.7M61.9 164.9V152.6M188.8 164.9V152M85.2 164.9V157M137.9 164.9V152.4M172 164.9V158.2M71 164.9V156.9M192 164.9V154.2M63.5 164.9V159.2M95.4 164.9V154.8M122.8 164.9V155.2M185 164.9V151.2M173.1 164.9V158.1M94.1 164.9V153.1M92.6 164.9V153.7M179.1 164.9V157.7M112.9 164.9V159.8M105.6 164.9V159.1M131.9 164.9V159.4M138.8 164.9V156.6M143.1 164.9V151.4M101.6 164.9V156.9M107.3 164.9V153.4M179.6 164.9V154.5M186.2 164.9V153.4M163.3 164.9V152.5M173.9 164.9V151.6M178.1 164.9V155.1M170.3 164.9V152.2M163.7 164.9V154.3M198.4 164.9V152.7M168 164.9V151.8M167.4 164.9V154M183 164.9V156M195.5 164.9V153.8M206.7 164.9V153.3M162.5 164.9V151.8M188.5 164.9V154.1" stroke="#b42020" stroke-opacity="0.6" stroke-width="0.55"/>
<path d="M165.9 164.9V153M171.7 164.9V155.2M176.3 164.9V156.8M193.7 164.9V151.1M197.1 164.9V158.5M207.5 164.9V151.1M213 164.9V151.1M154.8 164.9V156.8M44.3 164.9V161.7M168.5 164.9V159.4M202.1 164.9V160.3M152.7 164.9V162M106 164.9V162.6M164.4 164.9V161.6M207.8 164.9V156.3M98.2 164.9V156.6M98.4 164.9V157.9M108 164.9V156.4M169.9 164.9V155.6M192.8 164.9V159M134.4 164.9V155M77 164.9V157.2M70.9 164.9V153.2M89.4 164.9V152.4M181.9 164.9V152.6M116.5 164.9V151.7M98.4 164.9V154.9M116.6 164.9V159.2M178.6 164.9V158.4M79.8 164.9V157.6M155.2 164.9V154.4M139.4 164.9V158.6M72.6 164.9V158.1M147.9 164.9V155.3M71.5 164.9V153.1M138.7 164.9V157M201 164.9V156.5M174.5 164.9V155.2M202.9 164.9V151.4M144.5 164.9V156.1M132.7 164.9V156.2M207.5 164.9V151.1M159.5 164.9V155.6M200.1 164.9V156.1M129.8 164.9V155.3M85.2 164.9V156.1M111.5 164.9V155.6M79.5 164.9V159.9M133.2 164.9V152.9M188.2 164.9V151.3M200.6 164.9V154.8M161.8 164.9V151.3M178.3 164.9V153.1M203.8 164.9V155.4M173.3 164.9V153.9M208.1 164.9V156M203.6 164.9V154.6M199.9 164.9V154M172.6 164.9V155.8M188.1 164.9V151.9M168.1 164.9V155.3M166.7 164.9V153.8M195.2 164.9V153.7" stroke="#b42020" stroke-opacity="0.8" stroke-width="0.55"/>
<path d="M37.6 164.7H236.4" stroke="#e02020" stroke-width="0.6"/>
<text x="48" y="153.5" font-size="2.85" fill="#222" stroke="#222" stroke-width="0.11">ecEGFR (chr7:54908478-55436488)</text>
<path d="M36.4 170.7H37.6V184.5H36.4" fill="none" stroke="#333" stroke-width="0.4"/>
<text x="34.1" y="171.7" font-size="2.2" text-anchor="end" fill="#444" stroke="#444" stroke-width="0.09">0.1</text>
<text x="34.1" y="185.2" font-size="2.2" text-anchor="end" fill="#444" stroke="#444" stroke-width="0.09">0</text>
<text x="30.2" y="178.5" font-size="3.7" text-anchor="end" fill="#222" stroke="#222" stroke-width="0.15">P521_2</text>
<rect x="59.3" y="171.7" width="149.9" height="12.8" fill="#e2e2e2"/>
<path d="M37.6 184.5L37.6 184.2L38.1 183.7L38.6 183.8L39.1 183.7L39.6 183.8L40.1 184.2L40.6 183.9L41.1 183.6L41.6 183.8L42.1 184.2L42.6 184.1L43.1 183.6L43.6 183.8L44.1 184.1L44.6 183.7L45.1 183.6L45.6 183.6L46.1 183.7L46.6 183.6L47.1 184.1L47.6 183.9L48.1 183.6L48.6 184L49.1 184.1L49.6 183.6L50.1 183.7L50.6 184.2L51.1 184.2L51.6 183.8L52.1 183.5L52.6 183.8L53.1 183.6L53.6 184.1L54.1 183.8L54.6 184.1L55.1 184L55.6 184.1L56.1 183.9L56.6 184.2L57.1 183.7L57.6 183.7L58.1 183.6L58.6 183.7L59.1 184.1L59.6 179.7L60.1 179.9L60.6 179.2L61.1 178.3L61.6 178.6L62.1 180.4L62.6 179.2L63.1 180.6L63.6 179.2L64.1 181L64.6 179.4L65.1 180.6L65.6 180.6L66.1 180.5L66.6 179.9L67.1 179L67.6 179.2L68.1 179.9L68.6 179.8L69.1 179.2L69.6 180.5L70.1 179.7L70.6 179.2L71.1 180.3L71.6 181.4L72.1 181.4L72.6 178.5L73.1 181L73.6 180.6L74.1 179.4L74.6 179.1L75.1 178.8L75.6 179L76.1 180.7L76.6 180.3L77.1 178.7L77.6 179.9L78.1 178.6L78.6 180.3L79.1 179.8L79.6 180.7L80.1 179.3L80.6 178.5L81.1 178.3L81.6 179.8L82.1 180.3L82.6 179.9L83.1 179L83.6 180.6L84.1 181.3L84.6 178.7L85.1 178.4L85.6 180.2L86.1 179.5L86.6 178.7L87.1 180.4L87.6 179L88.1 179.4L88.6 181.3L89.1 180.3L89.6 178.3L90.1 179.4L90.6 179.7L91.1 181L91.6 178.5L92.1 179.1L92.6 179.3L93.1 179L93.6 179.7L94.1 181.1L94.6 180.6L95.1 179.3L95.6 178.7L96.1 181.5L96.6 181.5L97.1 180.7L97.6 179.2L98.1 179.9L98.6 180.4L99.1 181L99.6 180.4L100.1 181.4L100.6 179.6L101.1 181.7L101.6 181.5L102.1 181.8L102.6 181.5L103.1 180.8L103.6 180.8L104.1 180.9L104.6 181.2L105.1 181.5L105.6 180.5L106.1 180.1L106.6 180.3L107.1 179.6L107.6 181L108.1 180.7L108.6 180.4L109.1 180.3L109.6 181L110.1 180.4L110.6 181.1L111.1 181.9L111.6 181.8L112.1 180.6L112.6 180L113.1 181.7L113.6 181.9L114.1 180.9L114.6 180.4L115.1 181.3L115.6 180.8L116.1 182.2L116.6 180.2L117.1 181L117.6 180.7L118.1 181.6L118.6 181.3L119.1 182L119.6 181L120.1 180.4L120.6 180.6L121.1 180.8L121.6 182.3L122.1 180.7L122.6 181.3L123.1 181.7L123.6 181.5L124.1 182.4L124.6 181.5L125.1 182.1L125.6 182.1L126.1 182.3L126.6 181.6L127.1 182.6L127.6 181.8L128.1 182.4L128.6 182.2L129.1 182.4L129.6 182.8L130.1 181.6L130.6 182.7L131.1 181.2L131.6 181.9L132.1 182L132.6 181.4L133.1 182.3L133.6 182.6L134.1 181.6L134.6 182L135.1 182.7L135.6 181.8L136.1 182.1L136.6 183L137.1 181.9L137.6 181.4L138.1 182.2L138.6 181.4L139.1 181.6L139.6 181.6L140.1 182.6L140.6 182.9L141.1 182.6L141.6 182.7L142.1 182L142.6 181.5L143.1 181.9L143.6 181.5L144.1 181.8L144.6 182.6L145.1 181.4L145.6 182.5L146.1 181.9L146.6 181.7L147.1 182.4L147.6 181.9L148.1 177.2L148.6 180.7L149.1 180.4L149.6 180.4L150.1 179.9L150.6 177.7L151.1 179.1L151.6 178.5L152.1 178.6L152.6 178.8L153.1 177.8L153.6 177.7L154.1 177.3L154.6 179L155.1 180.1L155.6 176.6L156.1 179.6L156.6 176.7L157.1 176.4L157.6 178.7L158.1 176.8L158.6 178.7L159.1 178.2L159.6 179L160.1 176.6L160.6 176.8L161.1 179.9L161.6 178.5L162.1 175.1L162.6 179.6L163.1 179.1L163.6 177.2L164.1 178.5L164.6 178.9L165.1 175.2L165.6 178.6L166.1 179.3L166.6 176.6L167.1 177.1L167.6 176.2L168.1 175.4L168.6 179L169.1 176.5L169.6 179.7L170.1 178.7L170.6 175.9L171.1 176.6L171.6 178.9L172.1 176.5L172.6 175.5L173.1 177.8L173.6 177.8L174.1 173.6L174.6 176.5L175.1 178.6L175.6 177.6L176.1 174.1L176.6 174.2L177.1 178L177.6 178.3L178.1 176.7L178.6 175.8L179.1 173.6L179.6 173.1L180.1 175.3L180.6 177.8L181.1 177.4L181.6 175L182.1 174.1L182.6 173.7L183.1 173.6L183.6 174.9L184.1 174.5L184.6 174.3L185.1 177.9L185.6 174.2L186.1 177.8L186.6 177.4L187.1 178.3L187.6 177L188.1 178L188.6 177.6L189.1 179.3L189.6 176L190.1 176L190.6 178.8L191.1 180L191.6 177L192.1 177.4L192.6 176.6L193.1 175.4L193.6 179.5L194.1 175.4L194.6 176.3L195.1 175.4L195.6 175.6L196.1 175.8L196.6 177.5L197.1 175.8L197.6 175L198.1 176.1L198.6 177.9L199.1 177.4L199.6 178.6L200.1 175.8L200.6 176.6L201.1 177.2L201.6 180L202.1 175.5L202.6 177.9L203.1 179L203.6 180.1L204.1 176.7L204.6 179.2L205.1 178.7L205.6 176.2L206.1 177.5L206.6 180.5L207.1 182.8L207.6 182.6L208.1 181.9L208.6 181.8L209.1 184L209.6 183.8L210.1 184.1L210.6 183.6L211.1 183.6L211.6 183.8L212.1 183.7L212.6 184L213.1 184.1L213.6 184L214.1 183.7L214.6 183.8L215.1 184.1L215.6 184L216.1 183.9L216.6 184.2L217.1 184.2L217.6 183.9L218.1 184.1L218.6 183.6L219.1 184.1L219.6 183.7L220.1 183.6L220.6 184L221.1 183.8L221.6 183.5L222.1 183.8L222.6 183.9L223.1 183.5L223.6 184L224.1 183.5L224.6 184L225.1 183.9L225.6 184L226.1 183.7L226.6 183.6L227.1 183.7L227.6 184.1L228.1 183.5L228.6 183.7L229.1 183.8L229.6 183.6L230.1 184.1L230.6 183.8L231.1 183.6L231.6 183.7L232.1 183.7L232.6 184.2L233.1 183.9L233.6 184L234.1 183.8L234.6 183.9L235.1 183.9L235.6 183.8L236.1 183.8L236.4 184.5Z" fill="#a31b1b"/>
<path d="M59.3 184.5L59.3 182.5L60 183.4L60.7 183.5L61.4 183.6L62.1 183.7L62.8 182.5L63.5 182.4L64.2 183.7L64.9 183.3L65.6 182.5L66.3 182.5L67 182.3L67.7 182.3L68.4 183.4L69.1 183.8L69.8 183.5L70.5 183.1L71.2 183.9L71.9 183.5L72.6 183.1L73.3 182.8L74 183.7L74.7 183.7L75.4 183.4L76.1 183.8L76.8 183.7L77.5 183.7L78.2 182.6L78.9 182.5L79.6 183.8L80.3 182.6L81 182.6L81.7 182.9L82.4 183.4L83.1 182.6L83.8 183.8L84.5 183.8L85.2 182.4L85.9 183.5L86.6 182.4L87.3 182.7L88 183.8L88.7 183.7L89.4 182.9L90.1 183.7L90.8 182.8L91.5 182.8L92.2 183.5L92.9 183.1L93.6 183.6L94.3 182.5L95 182.9L95.7 182.8L96.4 182.9L97.1 183.8L97.8 182.5L98.5 182.7L99.2 183.1L99.9 183L100.6 183.1L101.3 182.7L102 183L102.7 183.5L103.4 183.1L104.1 183.6L104.8 183.9L105.5 183.1L106.2 182.5L106.9 182.7L107.6 183.6L108.3 183.1L109 183L109.7 183L110.4 183.2L111.1 183.1L111.8 182.8L112.5 182.5L113.2 183.1L113.9 182.6L114.6 182.8L115.3 183.7L116 183.5L116.7 183.4L117.4 183.3L118.1 183.1L118.8 183.4L119.5 182.3L120.2 182.7L120.9 183.3L121.6 182.8L122.3 182.4L123 183.6L123.7 182.9L124.4 182.4L125.1 183.3L125.8 182.5L126.5 182.6L127.2 183.4L127.9 183.7L128.6 182.6L129.3 183.2L130 183.3L130.7 183.2L131.4 182.7L132.1 182.5L132.8 182.4L133.5 182.7L134.2 183.6L134.9 183.3L135.6 183.9L136.3 183.6L137 183.4L137.7 183.6L138.4 183.1L139.1 183.7L139.8 182.9L140.5 183.2L141.2 183.5L141.9 182.8L142.6 183.4L143.3 183.9L144 182.6L144.7 182.7L145.4 182.5L146.1 183.4L146.8 183.5L147.5 182.8L148.2 183.7L148.9 182.4L149.6 182.9L150.3 183L151 183.8L151.7 183.4L152.4 183.2L153.1 182.3L153.8 183.7L154.5 183L155.2 183.8L155.9 182.3L156.6 182.7L157.3 182.6L158 182.7L158.7 183.6L159.4 183.5L160.1 183.2L160.8 182.4L161.5 183.2L162.2 183L162.9 183L163.6 181.8L164.3 182L165 182.8L165.7 181.7L166.4 183L167.1 183.1L167.8 182.7L168.5 182L169.2 183.1L169.9 182L170.6 182.4L171.3 182L172 182.8L172.7 183.2L173.4 183.1L174.1 182.1L174.8 182.5L175.5 182.1L176.2 183L176.9 182.9L177.6 183L178.3 181.9L179 182.2L179.7 183.1L180.4 182.1L181.1 183.2L181.8 182.6L182.5 182.9L183.2 182.1L183.9 182.2L184.6 182.2L185.3 183L186 183.2L186.7 182.3L187.4 182.2L188.1 183.3L188.8 182L189.5 181.9L190.2 182.7L190.9 182.5L191.6 182.3L192.3 181.8L193 182.3L193.7 182.5L194.4 182.1L195.1 182.5L195.8 183.2L196.5 182.4L197.2 182.6L197.9 182.8L198.6 182.7L199.3 182.9L200 182.8L200.7 182.7L201.4 182.5L202.1 183.2L202.8 182.5L203.5 183.7L204.2 183.1L204.9 182.7L205.6 182.7L206.3 183.3L207 183.6L207.7 182.4L208.4 182.9L209 184.5Z" fill="#ee1c1c" fill-opacity="0.75"/>
<path d="M127 184.5V177.4M169.8 184.5V170.7M200 184.5V170.7M217.2 184.5V170.7M234.1 184.5V170.7M182.4 184.5V179.8M106.4 184.5V180.2M204.4 184.5V182.3M177.7 184.5V178.9M179.7 184.5V181M212.8 184.5V180.2M146.2 184.5V174.3M71.3 184.5V173M151.9 184.5V173M153.8 184.5V173.2M187.7 184.5V179.5M78.8 184.5V179.5M117.9 184.5V175M174 184.5V174.1M187.7 184.5V172.4" stroke="#b42020" stroke-opacity="1.0" stroke-width="0.55"/>
<path d="M149.7 184.5V172.6M154.1 184.5V177.6M163.2 184.5V173.2M166.2 184.5V170.7M194.3 184.5V170.7M205.8 184.5V170.7M207.7 184.5V170.7M222.2 184.5V170.7M228.5 184.5V173.7M173.5 184.5V178.6M165.1 184.5V181M77.6 184.5V179.5M42.3 184.5V180.5M77 184.5V179.2M95.7 184.5V180.8M75.2 184.5V179.6M175.7 184.5V174.5M42.3 184.5V182.3M198.4 184.5V179.5M205.2 184.5V172.4M145.5 184.5V178.5M130.1 184.5V171M205.7 184.5V177.8M97.5 184.5V178M138.7 184.5V176.8M67 184.5V175.3M124 184.5V172.1M110 184.5V178.7M197.3 184.5V179.1M197.5 184.5V171.3M191.7 184.5V177M165.8 184.5V177.7M107.5 184.5V172.9M185.6 184.5V178.4M100.5 184.5V176.3M138.5 184.5V174.9M103.5 184.5V179.1M142.4 184.5V175M60 184.5V179.3M185.2 184.5V173.9M196.3 184.5V178.6M197.2 184.5V172.6M176.5 184.5V179.2M201.1 184.5V174.7M192 184.5V175.4M161.3 184.5V174.1M188 184.5V175.7M208 184.5V173M182.5 184.5V176.1M172.1 184.5V174.4M197.2 184.5V171M160.3 184.5V171.7M181.9 184.5V173.7M184.4 184.5V174.2M171.3 184.5V172.4M173.9 184.5V174.6M206.4 184.5V170.8M168.4 184.5V173.8M203.4 184.5V175.8M175.2 184.5V175.5M181.2 184.5V174.2" stroke="#b42020" stroke-opacity="0.6" stroke-width="0.55"/>
<path d="M152.1 184.5V170.7M155.7 184.5V170.7M157.2 184.5V170.7M161.7 184.5V173.5M171.5 184.5V172.9M174.5 184.5V170.7M177.2 184.5V174.3M182.7 184.5V175.5M187.3 184.5V177.7M198.3 184.5V175.4M204.3 184.5V175.4M209.1 184.5V171.1M233.6 184.5V176.5M181.1 184.5V174.3M177.6 184.5V176.1M176 184.5V181.9M219.4 184.5V181.3M185 184.5V180.5M179.9 184.5V179.7M50.6 184.5V182.2M95.1 184.5V176.9M186.3 184.5V178.8M160.2 184.5V171.7M92.1 184.5V178.6M95.8 184.5V173.1M102.2 184.5V179.1M198 184.5V172.9M153.4 184.5V174.3M137 184.5V172.7M159.5 184.5V171.2M80.4 184.5V173M159.6 184.5V171.1M205.2 184.5V172.5M158.4 184.5V171.2M148.6 184.5V177.7M143.1 184.5V177.3M98.7 184.5V171.8M181.6 184.5V175.8M127 184.5V175.8M112.9 184.5V172.7M60.7 184.5V173.5M175.6 184.5V176.7M208.2 184.5V173.2M195.8 184.5V175.8M163.4 184.5V176.1M93.5 184.5V175M203.4 184.5V171.7M69.9 184.5V173.8M135.5 184.5V174.8M200.2 184.5V173.6M182.4 184.5V176.8M204 184.5V172.9M166.8 184.5V176.6M189.7 184.5V172.2M178.7 184.5V172.5M204.3 184.5V174.2M185.8 184.5V173.5M207.9 184.5V173.4M195.8 184.5V173.9M191.8 184.5V175.3M185.4 184.5V172.1M190.5 184.5V175.8M192.2 184.5V173.5M177.2 184.5V171.5M171.3 184.5V172.6M190.7 184.5V175.9M173.3 184.5V171.1M188.3 184.5V174.2M173.9 184.5V172.5M161.3 184.5V175.6M195.6 184.5V170.9" stroke="#b42020" stroke-opacity="0.8" stroke-width="0.55"/>
<path d="M175.8 184.5V177.3M178.8 184.5V170.7M197 184.5V170.7M178 184.5V178.3M82.4 184.5V181.1M177.8 184.5V176.7M67.1 184.5V175.3M150.3 184.5V173M127 184.5V178.6M140.1 184.5V174.6M183.8 184.5V174.7M166.3 184.5V175" stroke="#b42020" stroke-opacity="0.4" stroke-width="0.55"/>
<path d="M37.6 184.3H236.4" stroke="#e02020" stroke-width="0.6"/>
<text x="48" y="173.1" font-size="2.85" fill="#222" stroke="#222" stroke-width="0.11">ecEGFR (chr7:54908478-55436488)</text>
<path d="M36.4 190.3H37.6V204.1H36.4" fill="none" stroke="#333" stroke-width="0.4"/>
<text x="34.1" y="191.3" font-size="2.2" text-anchor="end" fill="#444" stroke="#444" stroke-width="0.09">0.1</text>
<text x="34.1" y="204.8" font-size="2.2" text-anchor="end" fill="#444" stroke="#444" stroke-width="0.09">0</text>
<text x="30.2" y="198.1" font-size="3.7" text-anchor="end" fill="#222" stroke="#222" stroke-width="0.15">P519_7</text>
<path d="M37.6 204.1L37.6 203.5L38.1 203.3L38.6 203.3L39.1 203.5L39.6 203.8L40.1 203.2L40.6 203.4L41.1 203.4L41.6 203.3L42.1 203.4L42.6 203.2L43.1 203.8L43.6 203.1L44.1 203.4L44.6 203.5L45.1 203.2L45.6 203.2L46.1 203.4L46.6 203.8L47.1 203.4L47.6 203.5L48.1 203.4L48.6 203.2L49.1 203.7L49.6 203.2L50.1 203.6L50.6 203.6L51.1 203.8L51.6 203.7L52.1 203.6L52.6 203.4L53.1 203.1L53.6 203.7L54.1 203.6L54.6 203.5L55.1 203.4L55.6 203.6L56.1 203.3L56.6 203.7L57.1 203.8L57.6 203.4L58.1 203.3L58.6 203.7L59.1 203.8L59.6 203.3L60.1 203.8L60.6 203.2L61.1 203.3L61.6 203.7L62.1 203.5L62.6 203.8L63.1 203.7L63.6 203.6L64.1 203.2L64.6 203.2L65.1 203.3L65.6 203.4L66.1 203.4L66.6 203.4L67.1 203.3L67.6 203.5L68.1 203.5L68.6 203.2L69.1 203.6L69.6 203.5L70.1 203.3L70.6 203.1L71.1 203.6L71.6 203.5L72.1 203.5L72.6 203.7L73.1 203.6L73.6 203.2L74.1 203.7L74.6 203.5L75.1 203.6L75.6 203.4L76.1 203.3L76.6 203.7L77.1 203.5L77.6 203.7L78.1 203.3L78.6 203.3L79.1 203.6L79.6 203.6L80.1 203.6L80.6 203.6L81.1 203.2L81.6 203.2L82.1 203.2L82.6 203.5L83.1 203.5L83.6 203.7L84.1 203.5L84.6 203.1L85.1 203.7L85.6 203.5L86.1 203.7L86.6 203.2L87.1 203.6L87.6 203.5L88.1 203.8L88.6 203.3L89.1 203.4L89.6 203.2L90.1 203.3L90.6 203.3L91.1 203.6L91.6 203.6L92.1 203.4L92.6 203.8L93.1 203.1L93.6 203.3L94.1 203.5L94.6 203.5L95.1 203.7L95.6 203.4L96.1 203.3L96.6 203.7L97.1 203.7L97.6 203.3L98.1 203.5L98.6 203.2L99.1 203.5L99.6 203.1L100.1 203.2L100.6 203.6L101.1 203.4L101.6 203.4L102.1 203.5L102.6 203.2L103.1 203.3L103.6 203.2L104.1 203.6L104.6 203.4L105.1 203.4L105.6 203.4L106.1 203.8L106.6 203.2L107.1 203.5L107.6 203.7L108.1 203.2L108.6 203.4L109.1 203.3L109.6 203.3L110.1 203.4L110.6 203.2L111.1 203.8L111.6 203.6L112.1 203.7L112.6 203.4L113.1 203.6L113.6 203.8L114.1 203.7L114.6 203.7L115.1 203.4L115.6 203.5L116.1 203.5L116.6 203.8L117.1 203.4L117.6 203.6L118.1 203.7L118.6 203.8L119.1 203.7L119.6 203.5L120.1 203.7L120.6 203.5L121.1 203.7L121.6 203.3L122.1 203.2L122.6 203.6L123.1 203.7L123.6 203.1L124.1 203.7L124.6 203.3L125.1 203.3L125.6 203.5L126.1 203.2L126.6 203.7L127.1 203.3L127.6 203.2L128.1 203.2L128.6 203.2L129.1 203.5L129.6 203.4L130.1 203.2L130.6 203.5L131.1 203.6L131.6 203.8L132.1 203.7L132.6 203.7L133.1 203.1L133.6 203.6L134.1 203.6L134.6 203.1L135.1 203.3L135.6 203.5L136.1 203.7L136.6 203.5L137.1 203.6L137.6 203.1L138.1 203.5L138.6 203.1L139.1 203.6L139.6 203.8L140.1 203.2L140.6 203.7L141.1 203.2L141.6 203.4L142.1 203.6L142.6 203.2L143.1 203.5L143.6 203.1L144.1 203.4L144.6 203.1L145.1 203.1L145.6 203.5L146.1 203.3L146.6 203.3L147.1 203.3L147.6 203.8L148.1 203.3L148.6 203.3L149.1 203.7L149.6 203.7L150.1 202.8L150.6 202.3L151.1 202.1L151.6 203L152.1 203L152.6 202.3L153.1 203.1L153.6 202.6L154.1 202.6L154.6 202.4L155.1 202.4L155.6 202.2L156.1 203.5L156.6 202.6L157.1 202.2L157.6 202.9L158.1 202.2L158.6 202.3L159.1 202.7L159.6 202.3L160.1 202.8L160.6 203.3L161.1 203.4L161.6 203.1L162.1 202.4L162.6 202.5L163.1 202.8L163.6 202.2L164.1 203.5L164.6 203.5L165.1 202.6L165.6 202.5L166.1 203.4L166.6 202.1L167.1 202.1L167.6 202.9L168.1 202.2L168.6 203.5L169.1 202.5L169.6 203.4L170.1 203.4L170.6 203.5L171.1 203.3L171.6 203.4L172.1 202.6L172.6 202.7L173.1 202.7L173.6 202.9L174.1 202.7L174.6 203.1L175.1 203.5L175.6 202.8L176.1 203.6L176.6 202.3L177.1 203.2L177.6 203.5L178.1 202.4L178.6 203.3L179.1 203.5L179.6 202.8L180.1 202.8L180.6 202.1L181.1 203.5L181.6 202.6L182.1 202.3L182.6 203.5L183.1 203L183.6 202.7L184.1 203.1L184.6 202.5L185.1 202.6L185.6 202.9L186.1 203.3L186.6 202.7L187.1 203.6L187.6 202.9L188.1 202.3L188.6 202.7L189.1 202.5L189.6 203L190.1 202.5L190.6 202.8L191.1 202.2L191.6 202.6L192.1 203.2L192.6 203.1L193.1 202.7L193.6 202.3L194.1 203L194.6 202.7L195.1 203L195.6 203.3L196.1 203.4L196.6 203.2L197.1 202.7L197.6 203L198.1 202.8L198.6 203.5L199.1 203.6L199.6 202.3L200.1 202.7L200.6 202.6L201.1 202.4L201.6 202.2L202.1 202.1L202.6 203.2L203.1 202.8L203.6 203.5L204.1 202.6L204.6 203L205.1 203L205.6 202.9L206.1 202.3L206.6 203.6L207.1 203.3L207.6 203L208.1 203.6L208.6 202.7L209.1 203.6L209.6 202.3L210.1 203.2L210.6 203L211.1 203.2L211.6 202.8L212.1 203L212.6 202.8L213.1 203.1L213.6 203.3L214.1 202.8L214.6 203.3L215.1 203.5L215.6 203.5L216.1 202.8L216.6 202.7L217.1 203.1L217.6 203.3L218.1 202.7L218.6 203L219.1 202.6L219.6 202.2L220.1 203.1L220.6 202.2L221.1 202.4L221.6 202.6L222.1 202.6L222.6 203.3L223.1 202.5L223.6 202.2L224.1 203.5L224.6 203.2L225.1 202.9L225.6 203.6L226.1 202.5L226.6 202.3L227.1 202.8L227.6 203.6L228.1 202.8L228.6 202.3L229.1 202.7L229.6 203L230.1 203.2L230.6 202.6L231.1 203.5L231.6 203.4L232.1 203.2L232.6 202.9L233.1 203.4L233.6 202.7L234.1 203.1L234.6 202.3L235.1 202.9L235.6 203.1L236.1 202.9L236.4 204.1Z" fill="#505050"/>
<path d="M141.8 204.1V193M155.5 204.1V190.3M163.4 204.1V190.7M166.2 204.1V190.8M171.7 204.1V195.5M172.9 204.1V191.5M177.2 204.1V194.6M201.8 204.1V193M205.7 204.1V191.7M208.9 204.1V191.6M233.7 204.1V193.9M189.9 204.1V200.9M85.8 204.1V202.1M171.6 204.1V195.5M63.4 204.1V199.7M176.6 204.1V200M174.9 204.1V195.9M108.9 204.1V202.3M217.1 204.1V198.3M71.4 204.1V200.5M171.8 204.1V200.8M232.5 204.1V198.7M163.5 204.1V196.1" stroke="#333" stroke-opacity="0.4" stroke-width="0.55"/>
<path d="M149.5 204.1V190.3M162.2 204.1V190.3M168.2 204.1V190.3M186.7 204.1V194.4M189.9 204.1V196M198.7 204.1V190.3M200 204.1V190.3M202.9 204.1V190.3M204.4 204.1V197.7M207.6 204.1V191.4M217.2 204.1V190.3M190.6 204.1V198.6M86 204.1V200.8M93.6 204.1V201.5M229.9 204.1V194.6M214.8 204.1V199.7M236.1 204.1V196.4M152 204.1V198.8M197.5 204.1V198.6M99.1 204.1V199.7M191 204.1V201.5M150.5 204.1V194.8M194.9 204.1V198.2" stroke="#333" stroke-opacity="0.6" stroke-width="0.55"/>
<path d="M151.9 204.1V190.3M157.1 204.1V190.3M170.2 204.1V190.3M193.8 204.1V190.3M197 204.1V190.3M211 204.1V190.3M222.5 204.1V194.1M228.5 204.1V197.8M214.1 204.1V196.1M202.6 204.1V199.3M53.6 204.1V202.2M174.8 204.1V200.4M153 204.1V196.1M231.4 204.1V196.6M188.6 204.1V196.8M204.1 204.1V198.9M141.5 204.1V198.9M159.3 204.1V197.6M186.4 204.1V198.5M148.9 204.1V195.7M229.5 204.1V197.8M183.4 204.1V198.5M146.6 204.1V200.4M182.5 204.1V194.3" stroke="#333" stroke-opacity="0.8" stroke-width="0.55"/>
<path d="M37.6 203.9H236.4" stroke="#333" stroke-width="0.6"/>
<path d="M36.4 209.9H37.6V223.7H36.4" fill="none" stroke="#333" stroke-width="0.4"/>
<text x="34.1" y="210.9" font-size="2.2" text-anchor="end" fill="#444" stroke="#444" stroke-width="0.09">0.1</text>
<text x="34.1" y="224.4" font-size="2.2" text-anchor="end" fill="#444" stroke="#444" stroke-width="0.09">0</text>
<text x="30.2" y="217.7" font-size="3.7" text-anchor="end" fill="#222" stroke="#222" stroke-width="0.15">P519_5</text>
<path d="M37.6 223.7L37.6 222.1L38.1 221.3L38.6 221L39.1 221.2L39.6 222L40.1 222L40.6 220.9L41.1 221.5L41.6 222L42.1 221.6L42.6 221.6L43.1 222L43.6 221.5L44.1 220.7L44.6 221.9L45.1 221.3L45.6 222.2L46.1 221L46.6 221.5L47.1 222.1L47.6 220.7L48.1 220.7L48.6 220.6L49.1 221.5L49.6 221.7L50.1 222.3L50.6 221.3L51.1 221.8L51.6 222L52.1 220.7L52.6 222.1L53.1 221.8L53.6 221L54.1 221.8L54.6 221L55.1 221.7L55.6 221.9L56.1 221.3L56.6 221.2L57.1 222.2L57.6 221.6L58.1 221.3L58.6 221.2L59.1 221.2L59.6 222.1L60.1 220.6L60.6 220.8L61.1 221.5L61.6 221.4L62.1 220.9L62.6 221.4L63.1 221.6L63.6 221.5L64.1 220.9L64.6 222.3L65.1 222L65.6 221.3L66.1 221.4L66.6 221.9L67.1 222.2L67.6 221.2L68.1 221.2L68.6 221.9L69.1 221.3L69.6 221.6L70.1 220.7L70.6 221.1L71.1 221.8L71.6 221.8L72.1 222L72.6 221.1L73.1 222.1L73.6 221.7L74.1 221.1L74.6 222.2L75.1 220.7L75.6 221.9L76.1 220.8L76.6 220.6L77.1 220.7L77.6 221.2L78.1 221L78.6 221.7L79.1 220.7L79.6 220.9L80.1 221.9L80.6 220.9L81.1 220.6L81.6 221.5L82.1 221.8L82.6 221.8L83.1 220.9L83.6 221.8L84.1 222.1L84.6 220.6L85.1 221.8L85.6 221.5L86.1 220.7L86.6 221.1L87.1 222.1L87.6 221.8L88.1 221.3L88.6 221.9L89.1 221.6L89.6 222.3L90.1 222.2L90.6 222.3L91.1 221.2L91.6 221.9L92.1 220.5L92.6 220.6L93.1 221.6L93.6 221.6L94.1 222L94.6 221.5L95.1 220.5L95.6 222.3L96.1 220.7L96.6 221.4L97.1 220.8L97.6 221.2L98.1 220.5L98.6 221.7L99.1 221L99.6 221.1L100.1 221L100.6 221.9L101.1 221.3L101.6 221.8L102.1 221.6L102.6 220.5L103.1 221.3L103.6 221.3L104.1 221.4L104.6 221.7L105.1 221.9L105.6 221.8L106.1 221.6L106.6 222.1L107.1 221.5L107.6 221.5L108.1 221.1L108.6 221.3L109.1 221L109.6 221.9L110.1 220.5L110.6 221.8L111.1 222.2L111.6 221.5L112.1 220.9L112.6 221.7L113.1 221.9L113.6 221.8L114.1 220.7L114.6 221.8L115.1 221.2L115.6 222.2L116.1 221.9L116.6 222.2L117.1 220.8L117.6 221.8L118.1 221.2L118.6 221.1L119.1 221.7L119.6 221.5L120.1 221.3L120.6 221.1L121.1 221.4L121.6 221.2L122.1 221.8L122.6 220.5L123.1 221.3L123.6 222L124.1 221.5L124.6 221.8L125.1 221.3L125.6 221.1L126.1 221.9L126.6 222.2L127.1 221.1L127.6 221.2L128.1 222.2L128.6 221.4L129.1 221L129.6 221.8L130.1 221.1L130.6 221.6L131.1 221.8L131.6 220.9L132.1 220.7L132.6 222.3L133.1 220.7L133.6 222.1L134.1 221.6L134.6 222.3L135.1 221.3L135.6 222.2L136.1 220.6L136.6 220.8L137.1 221.1L137.6 221.7L138.1 221.6L138.6 222.2L139.1 221.1L139.6 221.5L140.1 222L140.6 221.9L141.1 220.9L141.6 221.6L142.1 221.7L142.6 220.6L143.1 220.5L143.6 221.4L144.1 220.7L144.6 220.6L145.1 221.8L145.6 221.1L146.1 221.8L146.6 222.1L147.1 220.5L147.6 221.4L148.1 221.1L148.6 221.4L149.1 221.9L149.6 221.7L150.1 221.3L150.6 219.6L151.1 220.7L151.6 221.3L152.1 221.9L152.6 220.2L153.1 220.6L153.6 220L154.1 220L154.6 219.9L155.1 219.5L155.6 220.1L156.1 221.7L156.6 221L157.1 220.3L157.6 221.4L158.1 220L158.6 220.2L159.1 220.5L159.6 219.9L160.1 220.2L160.6 220.1L161.1 220L161.6 221.8L162.1 220.9L162.6 219.7L163.1 220L163.6 221.3L164.1 219.5L164.6 219.6L165.1 220.3L165.6 219.7L166.1 221.4L166.6 219.9L167.1 220.9L167.6 220.2L168.1 220.9L168.6 220.9L169.1 220.1L169.6 221.3L170.1 220.3L170.6 221.5L171.1 220.2L171.6 220.9L172.1 220.3L172.6 219.5L173.1 220.6L173.6 221L174.1 220.8L174.6 220.7L175.1 220.6L175.6 220.7L176.1 219.4L176.6 220.5L177.1 220.9L177.6 219.9L178.1 220.5L178.6 220.1L179.1 219.6L179.6 221.6L180.1 220.2L180.6 221.8L181.1 220.6L181.6 219.9L182.1 220.9L182.6 221.3L183.1 221.4L183.6 220.5L184.1 221.5L184.6 219.8L185.1 220.3L185.6 220.2L186.1 219.9L186.6 221L187.1 219.9L187.6 220.8L188.1 219.9L188.6 220L189.1 221.1L189.6 221.2L190.1 219.9L190.6 221.8L191.1 220.3L191.6 219.8L192.1 221.7L192.6 220.5L193.1 220.6L193.6 221.6L194.1 219.6L194.6 221.4L195.1 220.3L195.6 219.5L196.1 221L196.6 219.5L197.1 221.1L197.6 220.1L198.1 220.8L198.6 219.6L199.1 220.2L199.6 221.4L200.1 220.4L200.6 220.6L201.1 220.1L201.6 220.9L202.1 220L202.6 221.2L203.1 220.3L203.6 220.5L204.1 221L204.6 220.9L205.1 221.2L205.6 220.8L206.1 221.5L206.6 219.9L207.1 219.7L207.6 219.6L208.1 219.9L208.6 220.2L209.1 219.8L209.6 220.8L210.1 221.3L210.6 221.7L211.1 219.4L211.6 220.3L212.1 221.6L212.6 219.5L213.1 220.2L213.6 221.2L214.1 219.7L214.6 221.4L215.1 220.5L215.6 219.6L216.1 220.4L216.6 220.7L217.1 221L217.6 220.7L218.1 220.9L218.6 221.6L219.1 219.5L219.6 220.8L220.1 221L220.6 221.2L221.1 219.7L221.6 221.6L222.1 220.6L222.6 220.6L223.1 219.8L223.6 220.3L224.1 221.9L224.6 221.2L225.1 221.5L225.6 220.8L226.1 219.9L226.6 220.1L227.1 221.4L227.6 220.1L228.1 220.8L228.6 220.4L229.1 219.5L229.6 219.9L230.1 220.1L230.6 220L231.1 220.3L231.6 221.2L232.1 220.3L232.6 219.7L233.1 220.4L233.6 220L234.1 221.8L234.6 220.9L235.1 219.8L235.6 221.4L236.1 221.3L236.4 223.7Z" fill="#505050"/>
<path d="M142.2 223.7V209.9M149.2 223.7V209.9M171.6 223.7V209.9M177.8 223.7V213.6M190.2 223.7V209.9M194.3 223.7V209.9M204.4 223.7V215.5M58.8 223.7V220.8M205.2 223.7V218.8M198.2 223.7V216M103.3 223.7V220.1M152 223.7V219.8M149.6 223.7V214.9M132.9 223.7V222M219.3 223.7V218.8M155.1 223.7V218.2M204.6 223.7V215.2M70.7 223.7V220.3M153.8 223.7V213.5M175.7 223.7V217.3M236.3 223.7V217.6M163.7 223.7V215.2" stroke="#333" stroke-opacity="0.6" stroke-width="0.55"/>
<path d="M152 223.7V210M162.1 223.7V213.2M176 223.7V211.1M197.3 223.7V209.9M198.2 223.7V210.6M201.6 223.7V209.9M202.8 223.7V209.9M206.2 223.7V216.3M228.1 223.7V220.1M103.5 223.7V219.7M196.3 223.7V221.5M183.5 223.7V220.5M192.1 223.7V219.3M194.8 223.7V216M184.7 223.7V219.5M175 223.7V216M172.4 223.7V221.2M111.1 223.7V219.1M182.3 223.7V214.8M231.9 223.7V220M168.1 223.7V220.4M203.2 223.7V221.3M185.8 223.7V217.1M220.5 223.7V218.3" stroke="#333" stroke-opacity="0.4" stroke-width="0.55"/>
<path d="M163.7 223.7V209.9M167.9 223.7V209.9M170.2 223.7V209.9M179.2 223.7V209.9M182.9 223.7V209.9M200.2 223.7V209.9M207.3 223.7V212.6M213.2 223.7V209.9M222.2 223.7V215.4M236.2 223.7V217.3M195.7 223.7V214.1M198.5 223.7V220.5M162.3 223.7V217.5M153.2 223.7V220.7M164.3 223.7V217.6M180.8 223.7V214.9M218.7 223.7V220.5M173.9 223.7V220" stroke="#333" stroke-opacity="0.8" stroke-width="0.55"/>
<path d="M37.6 223.5H236.4" stroke="#333" stroke-width="0.6"/>
<text x="41.6" y="231.3" font-size="2.2" text-anchor="middle" fill="#333" stroke="#333" stroke-width="0.09">HOXA13</text>
<text x="141.4" y="231.3" font-size="2.2" text-anchor="middle" fill="#333" stroke="#333" stroke-width="0.09">VSTM2A</text>
<text x="154" y="231.3" font-size="2.2" text-anchor="middle" fill="#333" stroke="#333" stroke-width="0.09">SEC61G</text>
<text x="176" y="231.3" font-size="2.2" text-anchor="middle" fill="#333" stroke="#333" stroke-width="0.09">EGFR</text>
<text x="199.5" y="231.3" font-size="2.2" text-anchor="middle" fill="#333" stroke="#333" stroke-width="0.09">LANCL2/VOPP1</text>
<text x="227.7" y="231.3" font-size="2.2" text-anchor="middle" fill="#333" stroke="#333" stroke-width="0.09">SEPTIN14</text>
<path d="M41.6 234.5v3M141.4 234.5v3M154 234.5v3" stroke="#111" stroke-width="0.6"/>
<path d="M170 236h8M194 236h12M222 236h10" stroke="#111" stroke-width="0.5"/>
<rect x="175.5" y="234.6" width="3.5" height="2.8" fill="#111"/><rect x="195" y="234.8" width="2" height="2.4" fill="#111"/><rect x="201" y="234.8" width="3" height="2.4" fill="#111"/><rect x="223" y="234.8" width="2.5" height="2.4" fill="#111"/><rect x="229" y="234.8" width="2.5" height="2.4" fill="#111"/>
<path d="M229 226.3h6l-1-1M235 226.3l-1 1" stroke="#111" stroke-width="0.5" fill="none"/>
<text x="102" y="245.6" font-size="4.46" text-anchor="middle" stroke="#000" stroke-width="0.18">chr7:54,000,001-56,000,000</text>
<text x="0" y="256.1" font-size="14.2" font-weight="bold">b</text>
<rect x="17.3" y="255.4" width="40.5" height="133.2" rx="1.2" fill="none" stroke="#3a3a3a" stroke-width="0.7"/>
<text x="37.5" y="254" font-size="5.1" text-anchor="middle" fill="#3dbb3d" stroke="#3dbb3d" stroke-width="0.2">P519</text>
<rect x="60.2" y="255.4" width="40.3" height="133.2" rx="1.2" fill="none" stroke="#3a3a3a" stroke-width="0.7"/>
<text x="80.3" y="254" font-size="5.1" text-anchor="middle" fill="#e8174a" stroke="#e8174a" stroke-width="0.2">P521</text>
<rect x="102.9" y="255.4" width="40.3" height="133.2" rx="1.2" fill="none" stroke="#3a3a3a" stroke-width="0.7"/>
<text x="123" y="254" font-size="5.1" text-anchor="middle" fill="#f07c1e" stroke="#f07c1e" stroke-width="0.2">P524</text>
<rect x="145.4" y="255.4" width="40.3" height="133.2" rx="1.2" fill="none" stroke="#3a3a3a" stroke-width="0.7"/>
<text x="165.6" y="254" font-size="5.1" text-anchor="middle" fill="#3a57e0" stroke="#3a57e0" stroke-width="0.2">P529</text>
<path d="M15.7 274.2H17.3" stroke="#333" stroke-width="0.4"/>
<text x="14.5" y="275.2" font-size="2.8" text-anchor="end" fill="#333" stroke="#333" stroke-width="0.11">4</text>
<path d="M15.7 311.9H17.3" stroke="#333" stroke-width="0.4"/>
<text x="14.5" y="312.9" font-size="2.8" text-anchor="end" fill="#333" stroke="#333" stroke-width="0.11">3</text>
<path d="M15.7 349.5H17.3" stroke="#333" stroke-width="0.4"/>
<text x="14.5" y="350.5" font-size="2.8" text-anchor="end" fill="#333" stroke="#333" stroke-width="0.11">2</text>
<path d="M15.7 387.3H17.3" stroke="#333" stroke-width="0.4"/>
<text x="14.5" y="388.3" font-size="2.8" text-anchor="end" fill="#333" stroke="#333" stroke-width="0.11">1</text>
<text transform="translate(11.6 323) rotate(-90)" font-size="4.2" text-anchor="middle" fill="#222" stroke="#222" stroke-width="0.15">Log(rpm)+1</text>
<text x="102" y="394.2" font-size="4.6" text-anchor="middle" fill="#222" stroke="#222" stroke-width="0.18">Patient</text>
<circle cx="24.5" cy="359.4" r="1.5" fill="#c8c8c8"/>
<circle cx="24.5" cy="365.7" r="1.5" fill="#2b2bf0"/>
<circle cx="24.5" cy="372.6" r="1.5" fill="#c8c8c8"/>
<circle cx="24.5" cy="374.4" r="1.5" fill="#c8c8c8"/>
<circle cx="24.5" cy="376.2" r="1.5" fill="#c8c8c8"/>
<circle cx="24.5" cy="378" r="1.5" fill="#c8c8c8"/>
<circle cx="24.5" cy="377.5" r="1.5" fill="#2b2bf0"/>
<circle cx="77.7" cy="265.4" r="1.5" fill="#c8c8c8"/>
<circle cx="77.7" cy="287.3" r="1.5" fill="#f52a2a"/>
<circle cx="77.7" cy="289.3" r="1.5" fill="#f52a2a"/>
<circle cx="77.7" cy="291.3" r="1.5" fill="#f52a2a"/>
<circle cx="77.7" cy="304.5" r="1.5" fill="#c8c8c8"/>
<circle cx="77.7" cy="328" r="1.5" fill="#c8c8c8"/>
<circle cx="77.7" cy="331.2" r="1.5" fill="#f52a2a"/>
<circle cx="77.7" cy="353.6" r="1.5" fill="#c8c8c8"/>
<circle cx="77.7" cy="357.7" r="1.5" fill="#2b2bf0"/>
<text x="78" y="262.4" font-size="2.9" text-anchor="end" fill="#222" stroke="#222" stroke-width="0.12">P521_4</text>
<rect x="65.8" y="281.8" width="11.7" height="3.9" rx="0.8" fill="#fff" stroke="#333" stroke-width="0.35"/>
<text x="71.6" y="284.6" font-size="2.9" text-anchor="middle" fill="#111" stroke="#111" stroke-width="0.12">P521_3</text>
<rect x="65.8" y="292.8" width="11.7" height="3.9" rx="0.8" fill="#fff" stroke="#333" stroke-width="0.35"/>
<text x="71.6" y="295.6" font-size="2.9" text-anchor="middle" fill="#111" stroke="#111" stroke-width="0.12">P521_2</text>
<text x="78" y="301.5" font-size="2.9" text-anchor="end" fill="#222" stroke="#222" stroke-width="0.12">P521_1</text>
<text x="78" y="325.4" font-size="2.9" text-anchor="end" fill="#222" stroke="#222" stroke-width="0.12">P521_5</text>
<rect x="67.3" y="335.8" width="11.7" height="3.9" rx="0.8" fill="#fff" stroke="#333" stroke-width="0.35"/>
<text x="73.1" y="338.6" font-size="2.9" text-anchor="middle" fill="#111" stroke="#111" stroke-width="0.12">P521_8</text>
<text x="78" y="350.5" font-size="2.9" text-anchor="end" fill="#222" stroke="#222" stroke-width="0.12">P521_6</text>
<text x="76" y="355.5" font-size="2.9" text-anchor="end" fill="#222" stroke="#222" stroke-width="0.12">P521_7</text>
<circle cx="130.5" cy="288" r="1.5" fill="#f52a2a"/>
<rect x="113.5" y="286.4" width="11.7" height="3.9" rx="0.8" fill="#fff" stroke="#333" stroke-width="0.35"/>
<text x="119.3" y="289.2" font-size="2.9" text-anchor="middle" fill="#111" stroke="#111" stroke-width="0.12">P524_9</text>
<circle cx="130.7" cy="382.6" r="1.5" fill="#c8c8c8"/>
<text x="131" y="380" font-size="2.9" text-anchor="end" fill="#222" stroke="#222" stroke-width="0.12">P524_1</text>
<circle cx="183.2" cy="367.8" r="1.5" fill="#2b2bf0"/>
<circle cx="184.4" cy="367.2" r="1.5" fill="#2b2bf0"/>
<text x="181" y="364.5" font-size="2.9" text-anchor="end" fill="#222" stroke="#222" stroke-width="0.12">P529_6</text>
<text x="181.5" y="369.4" font-size="2.9" text-anchor="end" fill="#222" stroke="#222" stroke-width="0.12">P529_8</text>
<text x="192.3" y="313.8" font-size="5.6" fill="#111">ecEGFR</text>
<circle cx="195.5" cy="319.6" r="1.5" fill="#f52a2a"/>
<text x="200.8" y="321.2" font-size="4.6" fill="#222" stroke="#222" stroke-width="0.18">ecDNA</text>
<circle cx="195.5" cy="326.2" r="1.5" fill="#2b2bf0"/>
<text x="200.8" y="327.8" font-size="4.6" fill="#222" stroke="#222" stroke-width="0.18">linear</text>
<circle cx="195.5" cy="332.8" r="1.5" fill="#c8c8c8"/>
<text x="200.8" y="334.4" font-size="4.6" fill="#222" stroke="#222" stroke-width="0.18">unknown</text>
<text x="0.4" y="409.3" font-size="14.2" font-weight="bold">c</text>
<text x="102" y="400.6" font-size="4.6" text-anchor="middle" fill="#222" stroke="#222" stroke-width="0.18">EGFR</text>
<rect x="18.4" y="411.2" width="40.3" height="132.8" rx="1.2" fill="none" stroke="#3a3a3a" stroke-width="0.7"/>
<text x="38.5" y="409" font-size="5.1" text-anchor="middle" fill="#3dbb3d" stroke="#3dbb3d" stroke-width="0.2">P519</text>
<rect x="60.8" y="411.2" width="40.5" height="132.8" rx="1.2" fill="none" stroke="#3a3a3a" stroke-width="0.7"/>
<text x="81" y="409" font-size="5.1" text-anchor="middle" fill="#e8174a" stroke="#e8174a" stroke-width="0.2">P521</text>
<rect x="103.3" y="411.2" width="40.1" height="132.8" rx="1.2" fill="none" stroke="#3a3a3a" stroke-width="0.7"/>
<text x="123.3" y="409" font-size="5.1" text-anchor="middle" fill="#f07c1e" stroke="#f07c1e" stroke-width="0.2">P524</text>
<rect x="145.5" y="411.2" width="40.3" height="132.8" rx="1.2" fill="none" stroke="#3a3a3a" stroke-width="0.7"/>
<text x="165.7" y="409" font-size="5.1" text-anchor="middle" fill="#3a57e0" stroke="#3a57e0" stroke-width="0.2">P529</text>
<path d="M16.8 422.4H18.4" stroke="#333" stroke-width="0.4"/>
<text x="15.6" y="423.4" font-size="2.8" text-anchor="end" fill="#333" stroke="#333" stroke-width="0.11">50</text>
<path d="M16.8 446.7H18.4" stroke="#333" stroke-width="0.4"/>
<text x="15.6" y="447.7" font-size="2.8" text-anchor="end" fill="#333" stroke="#333" stroke-width="0.11">40</text>
<path d="M16.8 471H18.4" stroke="#333" stroke-width="0.4"/>
<text x="15.6" y="472" font-size="2.8" text-anchor="end" fill="#333" stroke="#333" stroke-width="0.11">30</text>
<path d="M16.8 495.3H18.4" stroke="#333" stroke-width="0.4"/>
<text x="15.6" y="496.3" font-size="2.8" text-anchor="end" fill="#333" stroke="#333" stroke-width="0.11">20</text>
<path d="M16.8 519.6H18.4" stroke="#333" stroke-width="0.4"/>
<text x="15.6" y="520.6" font-size="2.8" text-anchor="end" fill="#333" stroke="#333" stroke-width="0.11">10</text>
<path d="M16.8 543.8H18.4" stroke="#333" stroke-width="0.4"/>
<text x="15.6" y="544.8" font-size="2.8" text-anchor="end" fill="#333" stroke="#333" stroke-width="0.11">0</text>
<text transform="translate(11.6 490) rotate(-90)" font-size="4.2" text-anchor="middle" fill="#222" stroke="#222" stroke-width="0.15">Copy number (CN)</text>
<text x="102" y="549.6" font-size="4.6" text-anchor="middle" fill="#222" stroke="#222" stroke-width="0.18">Patient</text>
<path d="M18.4 538.3H185.8" stroke="#f03030" stroke-width="0.6" stroke-dasharray="1.6 1.2"/>
<circle cx="28.9" cy="528.7" r="1.5" fill="#c8c8c8"/>
<circle cx="28.9" cy="535.7" r="1.5" fill="#c8c8c8"/>
<circle cx="80" cy="475.3" r="1.5" fill="#c8c8c8"/>
<circle cx="80" cy="492.4" r="1.5" fill="#f52a2a"/>
<circle cx="80" cy="497.2" r="1.5" fill="#f52a2a"/>
<circle cx="80" cy="514" r="1.5" fill="#c8c8c8"/>
<circle cx="80" cy="528.7" r="1.5" fill="#f52a2a"/>
<circle cx="80" cy="531.3" r="1.5" fill="#c8c8c8"/>
<circle cx="80" cy="536" r="1.5" fill="#2b2bf0"/>
<text x="77" y="476.3" font-size="2.9" text-anchor="end" fill="#222" stroke="#222" stroke-width="0.12">P521_4</text>
<rect x="82.6" y="486.5" width="11.7" height="3.9" rx="0.8" fill="#fff" stroke="#333" stroke-width="0.35"/>
<text x="88.5" y="489.3" font-size="2.9" text-anchor="middle" fill="#111" stroke="#111" stroke-width="0.12">P521_2</text>
<text x="77" y="495" font-size="2.9" text-anchor="end" fill="#222" stroke="#222" stroke-width="0.12">P521_1</text>
<rect x="83.1" y="496.9" width="11.7" height="3.9" rx="0.8" fill="#fff" stroke="#333" stroke-width="0.35"/>
<text x="89" y="499.7" font-size="2.9" text-anchor="middle" fill="#111" stroke="#111" stroke-width="0.12">P521_3</text>
<text x="77" y="514.7" font-size="2.9" text-anchor="end" fill="#222" stroke="#222" stroke-width="0.12">P521_5</text>
<rect x="82.6" y="522.5" width="11.7" height="3.9" rx="0.8" fill="#fff" stroke="#333" stroke-width="0.35"/>
<text x="88.5" y="525.3" font-size="2.9" text-anchor="middle" fill="#111" stroke="#111" stroke-width="0.12">P521_8</text>
<text x="77" y="530.9" font-size="2.9" text-anchor="end" fill="#222" stroke="#222" stroke-width="0.12">P521_6</text>
<text x="77" y="535.7" font-size="2.9" text-anchor="end" fill="#222" stroke="#222" stroke-width="0.12">P521_7</text>
<circle cx="131.5" cy="417.3" r="1.5" fill="#c8c8c8"/>
<text x="128.5" y="418.3" font-size="2.9" text-anchor="end" fill="#222" stroke="#222" stroke-width="0.12">P524_4</text>
<circle cx="131.5" cy="426.8" r="1.5" fill="#c8c8c8"/>
<text x="128.5" y="427.8" font-size="2.9" text-anchor="end" fill="#222" stroke="#222" stroke-width="0.12">P524_3</text>
<circle cx="131.5" cy="450.7" r="1.5" fill="#c8c8c8"/>
<text x="128.5" y="451.7" font-size="2.9" text-anchor="end" fill="#222" stroke="#222" stroke-width="0.12">P524_7</text>
<circle cx="131.5" cy="455" r="1.5" fill="#c8c8c8"/>
<text x="128.5" y="456" font-size="2.9" text-anchor="end" fill="#222" stroke="#222" stroke-width="0.12">P524_10</text>
<circle cx="131.5" cy="459.5" r="1.5" fill="#c8c8c8"/>
<text x="128.5" y="460.5" font-size="2.9" text-anchor="end" fill="#222" stroke="#222" stroke-width="0.12">P524_2</text>
<circle cx="131.5" cy="464" r="1.5" fill="#c8c8c8"/>
<text x="128.5" y="465" font-size="2.9" text-anchor="end" fill="#222" stroke="#222" stroke-width="0.12">P524_5</text>
<circle cx="131.5" cy="468.5" r="1.5" fill="#c8c8c8"/>
<text x="128.5" y="469.5" font-size="2.9" text-anchor="end" fill="#222" stroke="#222" stroke-width="0.12">P524_6</text>
<circle cx="131.5" cy="482.2" r="1.5" fill="#f52a2a"/>
<text x="128.5" y="483.2" font-size="2.9" text-anchor="end" fill="#222" stroke="#222" stroke-width="0.12">P524_8</text>
<circle cx="131.5" cy="538.4" r="1.5" fill="#c8c8c8"/>
<text x="128.5" y="539.4" font-size="2.9" text-anchor="end" fill="#222" stroke="#222" stroke-width="0.12">P524_1</text>
<rect x="130.1" y="476.6" width="11.7" height="3.9" rx="0.8" fill="#fff" stroke="#333" stroke-width="0.35"/>
<text x="136" y="479.4" font-size="2.9" text-anchor="middle" fill="#111" stroke="#111" stroke-width="0.12">P524_9</text>
<path d="M129 450.7q3 2 1 6M129 459.5q3 -2 1 -6" fill="none" stroke="#555" stroke-width="0.3"/>
<circle cx="182.2" cy="417.3" r="1.5" fill="#c8c8c8"/>
<text x="179" y="418.3" font-size="2.9" text-anchor="end" fill="#222" stroke="#222" stroke-width="0.12">P529_9</text>
<circle cx="182.2" cy="453.4" r="1.5" fill="#c8c8c8"/>
<text x="179" y="454.4" font-size="2.9" text-anchor="end" fill="#222" stroke="#222" stroke-width="0.12">P529_7</text>
<circle cx="182.2" cy="465.2" r="1.5" fill="#c8c8c8"/>
<text x="179" y="466.2" font-size="2.9" text-anchor="end" fill="#222" stroke="#222" stroke-width="0.12">P529_2</text>
<circle cx="182.2" cy="474.8" r="1.5" fill="#c8c8c8"/>
<text x="179" y="475.8" font-size="2.9" text-anchor="end" fill="#222" stroke="#222" stroke-width="0.12">P529_1</text>
<circle cx="182.2" cy="494.5" r="1.5" fill="#c8c8c8"/>
<text x="179" y="495.5" font-size="2.9" text-anchor="end" fill="#222" stroke="#222" stroke-width="0.12">P529_3</text>
<circle cx="182.2" cy="526.3" r="1.5" fill="#f52a2a"/>
<text x="179" y="527.8" font-size="2.9" text-anchor="end" fill="#222" stroke="#222" stroke-width="0.12">P529_5</text>
<circle cx="182.2" cy="530.6" r="1.5" fill="#c8c8c8"/>
<text x="179" y="532.1" font-size="2.9" text-anchor="end" fill="#222" stroke="#222" stroke-width="0.12">P529_6</text>
<circle cx="182.2" cy="535.6" r="1.5" fill="#2b2bf0"/>
<text x="179" y="537.1" font-size="2.9" text-anchor="end" fill="#222" stroke="#222" stroke-width="0.12">P529_8</text>
<circle cx="182.2" cy="540.4" r="1.5" fill="#c8c8c8"/>
<text x="179" y="541.9" font-size="2.9" text-anchor="end" fill="#222" stroke="#222" stroke-width="0.12">P529_4</text>
<rect x="166.8" y="521.4" width="13.4" height="3.9" rx="0.8" fill="#fff" stroke="#333" stroke-width="0.35"/>
<text x="173.5" y="524.2" font-size="2.9" text-anchor="middle" fill="#111" stroke="#111" stroke-width="0.12">P529_10</text>
<text x="192.1" y="468.5" font-size="5.6" fill="#111">ecEGFR</text>
<circle cx="195.3" cy="474.3" r="1.5" fill="#f52a2a"/>
<text x="200.6" y="475.9" font-size="4.6" fill="#222" stroke="#222" stroke-width="0.18">ecDNA</text>
<circle cx="195.3" cy="480.9" r="1.5" fill="#2b2bf0"/>
<text x="200.6" y="482.5" font-size="4.6" fill="#222" stroke="#222" stroke-width="0.18">linear</text>
<circle cx="195.3" cy="487.5" r="1.5" fill="#c8c8c8"/>
<text x="200.6" y="489.1" font-size="4.6" fill="#222" stroke="#222" stroke-width="0.18">unknown</text>
<text x="206.8" y="255.9" font-size="14.2" font-weight="bold">d</text>
<path fill="#6e6ef5" d="M281.3 344h5.4v2.47h-5.4zM421.3 516.3h5.4v2.47h-5.4z"/><path fill="#7979f6" d="M281.3 294.8h5.4v2.47h-5.4zM281.3 297.2h5.4v2.47h-5.4zM356.7 336.6h5.4v2.47h-5.4zM281.3 341.5h5.4v2.47h-5.4zM281.3 422.8h5.4v2.47h-5.4zM281.3 425.2h5.4v2.47h-5.4zM275.9 476.9h5.4v2.47h-5.4z"/><path fill="#8383f6" d="M281.3 299.7h5.4v2.47h-5.4zM281.3 476.9h5.4v2.47h-5.4z"/><path fill="#8e8ef7" d="M356.7 329.2h5.4v2.47h-5.4zM416 351.4h5.4v2.47h-5.4zM426.7 351.4h5.4v2.47h-5.4zM416 353.8h5.4v2.47h-5.4zM362.1 405.5h5.4v2.47h-5.4zM410.6 427.7h5.4v2.47h-5.4zM356.7 452.3h5.4v2.47h-5.4zM394.4 467.1h5.4v2.47h-5.4z"/><path fill="#9999f8" d="M405.2 272.6h5.4v2.47h-5.4zM410.6 272.6h5.4v2.47h-5.4zM405.2 275.1h5.4v2.47h-5.4zM410.6 275.1h5.4v2.47h-5.4zM426.7 275.1h5.4v2.47h-5.4zM432.1 275.1h5.4v2.47h-5.4zM383.6 284.9h5.4v2.47h-5.4zM426.7 284.9h5.4v2.47h-5.4zM275.9 299.7h5.4v2.47h-5.4zM426.7 299.7h5.4v2.47h-5.4zM421.3 302.2h5.4v2.47h-5.4zM426.7 302.2h5.4v2.47h-5.4zM281.3 307.1h5.4v2.47h-5.4zM421.3 307.1h5.4v2.47h-5.4zM281.3 312h5.4v2.47h-5.4zM356.7 312h5.4v2.47h-5.4zM356.7 314.5h5.4v2.47h-5.4zM426.7 316.9h5.4v2.47h-5.4zM329.8 351.4h5.4v2.47h-5.4zM410.6 351.4h5.4v2.47h-5.4zM432.1 351.4h5.4v2.47h-5.4zM410.6 353.8h5.4v2.47h-5.4zM378.3 356.3h5.4v2.47h-5.4zM356.7 358.8h5.4v2.47h-5.4zM426.7 358.8h5.4v2.47h-5.4zM356.7 361.2h5.4v2.47h-5.4zM367.5 361.2h5.4v2.47h-5.4zM389 361.2h5.4v2.47h-5.4zM405.2 425.2h5.4v2.47h-5.4zM405.2 427.7h5.4v2.47h-5.4zM367.5 435.1h5.4v2.47h-5.4zM405.2 440h5.4v2.47h-5.4zM426.7 440h5.4v2.47h-5.4zM356.7 457.2h5.4v2.47h-5.4zM356.7 464.6h5.4v2.47h-5.4zM394.4 464.6h5.4v2.47h-5.4zM399.8 464.6h5.4v2.47h-5.4zM389 467.1h5.4v2.47h-5.4zM372.9 501.5h5.4v2.47h-5.4zM378.3 501.5h5.4v2.47h-5.4zM378.3 504h5.4v2.47h-5.4zM394.4 504h5.4v2.47h-5.4zM378.3 506.4h5.4v2.47h-5.4z"/><path fill="#a4a4f9" d="M351.3 257.9h5.4v2.47h-5.4zM378.3 284.9h5.4v2.47h-5.4zM270.5 292.3h5.4v2.47h-5.4zM426.7 297.2h5.4v2.47h-5.4zM356.7 309.5h5.4v2.47h-5.4zM410.6 319.4h5.4v2.47h-5.4zM281.3 324.3h5.4v2.47h-5.4zM356.7 324.3h5.4v2.47h-5.4zM281.3 326.8h5.4v2.47h-5.4zM281.3 331.7h5.4v2.47h-5.4zM356.7 331.7h5.4v2.47h-5.4zM329.8 346.5h5.4v2.47h-5.4zM372.9 351.4h5.4v2.47h-5.4zM405.2 351.4h5.4v2.47h-5.4zM356.7 356.3h5.4v2.47h-5.4zM362.1 358.8h5.4v2.47h-5.4zM356.7 366.1h5.4v2.47h-5.4zM426.7 376h5.4v2.47h-5.4zM281.3 405.5h5.4v2.47h-5.4zM410.6 422.8h5.4v2.47h-5.4zM410.6 425.2h5.4v2.47h-5.4zM275.9 427.7h5.4v2.47h-5.4zM329.8 430.1h5.4v2.47h-5.4zM372.9 435.1h5.4v2.47h-5.4zM416 447.4h5.4v2.47h-5.4zM254.4 457.2h5.4v2.47h-5.4zM389 464.6h5.4v2.47h-5.4zM302.8 494.1h5.4v2.47h-5.4zM389 494.1h5.4v2.47h-5.4zM356.7 496.6h5.4v2.47h-5.4zM367.5 501.5h5.4v2.47h-5.4zM367.5 504h5.4v2.47h-5.4zM372.9 504h5.4v2.47h-5.4zM281.3 523.7h5.4v2.47h-5.4z"/><path fill="#aeaef9" d="M329.8 272.6h5.4v2.47h-5.4zM399.8 272.6h5.4v2.47h-5.4zM399.8 275.1h5.4v2.47h-5.4zM259.8 292.3h5.4v2.47h-5.4zM275.9 297.2h5.4v2.47h-5.4zM275.9 309.5h5.4v2.47h-5.4zM275.9 312h5.4v2.47h-5.4zM421.3 312h5.4v2.47h-5.4zM281.3 321.8h5.4v2.47h-5.4zM356.7 326.8h5.4v2.47h-5.4zM281.3 339.1h5.4v2.47h-5.4zM329.8 348.9h5.4v2.47h-5.4zM362.1 356.3h5.4v2.47h-5.4zM378.3 358.8h5.4v2.47h-5.4zM356.7 363.7h5.4v2.47h-5.4zM329.8 376h5.4v2.47h-5.4zM329.8 422.8h5.4v2.47h-5.4zM405.2 422.8h5.4v2.47h-5.4zM405.2 437.5h5.4v2.47h-5.4zM335.2 452.3h5.4v2.47h-5.4zM356.7 467.1h5.4v2.47h-5.4zM302.8 469.5h5.4v2.47h-5.4zM281.3 472h5.4v2.47h-5.4zM356.7 472h5.4v2.47h-5.4zM383.6 504h5.4v2.47h-5.4zM302.8 506.4h5.4v2.47h-5.4zM265.1 513.8h5.4v2.47h-5.4z"/><path fill="#b9b9fa" d="M329.8 260.3h5.4v2.47h-5.4zM281.3 304.6h5.4v2.47h-5.4zM313.6 307.1h5.4v2.47h-5.4zM281.3 314.5h5.4v2.47h-5.4zM281.3 336.6h5.4v2.47h-5.4zM308.2 376h5.4v2.47h-5.4zM275.9 425.2h5.4v2.47h-5.4zM249 430.1h5.4v2.47h-5.4zM329.8 452.3h5.4v2.47h-5.4zM249 457.2h5.4v2.47h-5.4zM259.8 501.5h5.4v2.47h-5.4zM281.3 513.8h5.4v2.47h-5.4zM254.4 516.3h5.4v2.47h-5.4z"/><path fill="#c4c4fb" d="M416 262.8h5.4v2.47h-5.4zM351.3 265.2h5.4v2.47h-5.4zM405.2 267.7h5.4v2.47h-5.4zM389 275.1h5.4v2.47h-5.4zM421.3 277.5h5.4v2.47h-5.4zM389 280h5.4v2.47h-5.4zM372.9 282.5h5.4v2.47h-5.4zM416 282.5h5.4v2.47h-5.4zM372.9 287.4h5.4v2.47h-5.4zM410.6 302.2h5.4v2.47h-5.4zM432.1 302.2h5.4v2.47h-5.4zM383.6 304.6h5.4v2.47h-5.4zM378.3 312h5.4v2.47h-5.4zM389 314.5h5.4v2.47h-5.4zM432.1 314.5h5.4v2.47h-5.4zM426.7 321.8h5.4v2.47h-5.4zM367.5 324.3h5.4v2.47h-5.4zM405.2 324.3h5.4v2.47h-5.4zM394.4 329.2h5.4v2.47h-5.4zM432.1 329.2h5.4v2.47h-5.4zM367.5 336.6h5.4v2.47h-5.4zM345.9 339.1h5.4v2.47h-5.4zM351.3 341.5h5.4v2.47h-5.4zM345.9 344h5.4v2.47h-5.4zM426.7 346.5h5.4v2.47h-5.4zM383.6 348.9h5.4v2.47h-5.4zM383.6 353.8h5.4v2.47h-5.4zM389 353.8h5.4v2.47h-5.4zM351.3 361.2h5.4v2.47h-5.4zM383.6 361.2h5.4v2.47h-5.4zM416 361.2h5.4v2.47h-5.4zM432.1 361.2h5.4v2.47h-5.4zM372.9 363.7h5.4v2.47h-5.4zM410.6 363.7h5.4v2.47h-5.4zM426.7 363.7h5.4v2.47h-5.4zM378.3 368.6h5.4v2.47h-5.4zM362.1 371.1h5.4v2.47h-5.4zM410.6 378.5h5.4v2.47h-5.4zM362.1 380.9h5.4v2.47h-5.4zM378.3 380.9h5.4v2.47h-5.4zM356.7 385.8h5.4v2.47h-5.4zM378.3 385.8h5.4v2.47h-5.4zM399.8 388.3h5.4v2.47h-5.4zM362.1 395.7h5.4v2.47h-5.4zM367.5 395.7h5.4v2.47h-5.4zM378.3 395.7h5.4v2.47h-5.4zM405.2 395.7h5.4v2.47h-5.4zM362.1 398.1h5.4v2.47h-5.4zM410.6 403.1h5.4v2.47h-5.4zM421.3 403.1h5.4v2.47h-5.4zM345.9 405.5h5.4v2.47h-5.4zM367.5 405.5h5.4v2.47h-5.4zM351.3 410.4h5.4v2.47h-5.4zM372.9 410.4h5.4v2.47h-5.4zM405.2 415.4h5.4v2.47h-5.4zM416 415.4h5.4v2.47h-5.4zM421.3 415.4h5.4v2.47h-5.4zM362.1 417.8h5.4v2.47h-5.4zM367.5 420.3h5.4v2.47h-5.4zM362.1 422.8h5.4v2.47h-5.4zM356.7 425.2h5.4v2.47h-5.4zM416 430.1h5.4v2.47h-5.4zM345.9 435.1h5.4v2.47h-5.4zM416 435.1h5.4v2.47h-5.4zM345.9 440h5.4v2.47h-5.4zM426.7 444.9h5.4v2.47h-5.4zM362.1 447.4h5.4v2.47h-5.4zM405.2 447.4h5.4v2.47h-5.4zM432.1 447.4h5.4v2.47h-5.4zM340.6 452.3h5.4v2.47h-5.4zM345.9 452.3h5.4v2.47h-5.4zM432.1 459.7h5.4v2.47h-5.4zM383.6 462.1h5.4v2.47h-5.4zM410.6 462.1h5.4v2.47h-5.4zM351.3 464.6h5.4v2.47h-5.4zM410.6 467.1h5.4v2.47h-5.4zM432.1 469.5h5.4v2.47h-5.4zM416 474.4h5.4v2.47h-5.4zM356.7 484.3h5.4v2.47h-5.4zM345.9 486.7h5.4v2.47h-5.4zM362.1 489.2h5.4v2.47h-5.4zM372.9 494.1h5.4v2.47h-5.4zM351.3 496.6h5.4v2.47h-5.4zM351.3 506.4h5.4v2.47h-5.4zM362.1 508.9h5.4v2.47h-5.4zM378.3 508.9h5.4v2.47h-5.4zM372.9 523.7h5.4v2.47h-5.4zM426.7 523.7h5.4v2.47h-5.4zM432.1 526.1h5.4v2.47h-5.4z"/><path fill="#cfcffc" d="M313.6 257.9h5.4v2.47h-5.4zM319 257.9h5.4v2.47h-5.4zM340.6 257.9h5.4v2.47h-5.4zM399.8 257.9h5.4v2.47h-5.4zM410.6 257.9h5.4v2.47h-5.4zM426.7 257.9h5.4v2.47h-5.4zM270.5 260.3h5.4v2.47h-5.4zM319 260.3h5.4v2.47h-5.4zM378.3 260.3h5.4v2.47h-5.4zM399.8 260.3h5.4v2.47h-5.4zM405.2 260.3h5.4v2.47h-5.4zM432.1 260.3h5.4v2.47h-5.4zM335.2 262.8h5.4v2.47h-5.4zM351.3 262.8h5.4v2.47h-5.4zM356.7 262.8h5.4v2.47h-5.4zM372.9 262.8h5.4v2.47h-5.4zM410.6 262.8h5.4v2.47h-5.4zM426.7 262.8h5.4v2.47h-5.4zM432.1 262.8h5.4v2.47h-5.4zM378.3 265.2h5.4v2.47h-5.4zM389 265.2h5.4v2.47h-5.4zM394.4 265.2h5.4v2.47h-5.4zM399.8 265.2h5.4v2.47h-5.4zM356.7 267.7h5.4v2.47h-5.4zM378.3 267.7h5.4v2.47h-5.4zM389 267.7h5.4v2.47h-5.4zM416 267.7h5.4v2.47h-5.4zM432.1 267.7h5.4v2.47h-5.4zM340.6 270.2h5.4v2.47h-5.4zM351.3 270.2h5.4v2.47h-5.4zM372.9 270.2h5.4v2.47h-5.4zM378.3 270.2h5.4v2.47h-5.4zM383.6 270.2h5.4v2.47h-5.4zM389 270.2h5.4v2.47h-5.4zM405.2 270.2h5.4v2.47h-5.4zM410.6 270.2h5.4v2.47h-5.4zM432.1 270.2h5.4v2.47h-5.4zM372.9 272.6h5.4v2.47h-5.4zM383.6 272.6h5.4v2.47h-5.4zM389 272.6h5.4v2.47h-5.4zM394.4 272.6h5.4v2.47h-5.4zM432.1 272.6h5.4v2.47h-5.4zM308.2 275.1h5.4v2.47h-5.4zM351.3 275.1h5.4v2.47h-5.4zM367.5 275.1h5.4v2.47h-5.4zM372.9 277.5h5.4v2.47h-5.4zM389 277.5h5.4v2.47h-5.4zM394.4 277.5h5.4v2.47h-5.4zM405.2 277.5h5.4v2.47h-5.4zM432.1 277.5h5.4v2.47h-5.4zM340.6 280h5.4v2.47h-5.4zM378.3 280h5.4v2.47h-5.4zM383.6 280h5.4v2.47h-5.4zM394.4 280h5.4v2.47h-5.4zM426.7 280h5.4v2.47h-5.4zM432.1 280h5.4v2.47h-5.4zM329.8 282.5h5.4v2.47h-5.4zM351.3 282.5h5.4v2.47h-5.4zM378.3 282.5h5.4v2.47h-5.4zM383.6 282.5h5.4v2.47h-5.4zM389 282.5h5.4v2.47h-5.4zM399.8 282.5h5.4v2.47h-5.4zM286.7 284.9h5.4v2.47h-5.4zM329.8 284.9h5.4v2.47h-5.4zM351.3 284.9h5.4v2.47h-5.4zM372.9 284.9h5.4v2.47h-5.4zM383.6 287.4h5.4v2.47h-5.4zM394.4 287.4h5.4v2.47h-5.4zM410.6 287.4h5.4v2.47h-5.4zM432.1 287.4h5.4v2.47h-5.4zM254.4 289.9h5.4v2.47h-5.4zM340.6 289.9h5.4v2.47h-5.4zM351.3 289.9h5.4v2.47h-5.4zM372.9 289.9h5.4v2.47h-5.4zM378.3 289.9h5.4v2.47h-5.4zM389 289.9h5.4v2.47h-5.4zM410.6 289.9h5.4v2.47h-5.4zM426.7 289.9h5.4v2.47h-5.4zM275.9 292.3h5.4v2.47h-5.4zM351.3 292.3h5.4v2.47h-5.4zM372.9 292.3h5.4v2.47h-5.4zM378.3 292.3h5.4v2.47h-5.4zM421.3 292.3h5.4v2.47h-5.4zM329.8 294.8h5.4v2.47h-5.4zM367.5 294.8h5.4v2.47h-5.4zM383.6 294.8h5.4v2.47h-5.4zM389 294.8h5.4v2.47h-5.4zM410.6 294.8h5.4v2.47h-5.4zM416 294.8h5.4v2.47h-5.4zM426.7 294.8h5.4v2.47h-5.4zM351.3 297.2h5.4v2.47h-5.4zM362.1 297.2h5.4v2.47h-5.4zM367.5 297.2h5.4v2.47h-5.4zM378.3 297.2h5.4v2.47h-5.4zM394.4 297.2h5.4v2.47h-5.4zM399.8 297.2h5.4v2.47h-5.4zM405.2 297.2h5.4v2.47h-5.4zM313.6 299.7h5.4v2.47h-5.4zM351.3 299.7h5.4v2.47h-5.4zM356.7 299.7h5.4v2.47h-5.4zM362.1 299.7h5.4v2.47h-5.4zM378.3 299.7h5.4v2.47h-5.4zM389 299.7h5.4v2.47h-5.4zM394.4 299.7h5.4v2.47h-5.4zM405.2 299.7h5.4v2.47h-5.4zM416 299.7h5.4v2.47h-5.4zM281.3 302.2h5.4v2.47h-5.4zM372.9 302.2h5.4v2.47h-5.4zM405.2 302.2h5.4v2.47h-5.4zM416 302.2h5.4v2.47h-5.4zM389 304.6h5.4v2.47h-5.4zM410.6 304.6h5.4v2.47h-5.4zM416 304.6h5.4v2.47h-5.4zM432.1 304.6h5.4v2.47h-5.4zM345.9 307.1h5.4v2.47h-5.4zM372.9 307.1h5.4v2.47h-5.4zM378.3 307.1h5.4v2.47h-5.4zM405.2 307.1h5.4v2.47h-5.4zM345.9 309.5h5.4v2.47h-5.4zM362.1 309.5h5.4v2.47h-5.4zM367.5 309.5h5.4v2.47h-5.4zM383.6 309.5h5.4v2.47h-5.4zM389 309.5h5.4v2.47h-5.4zM394.4 309.5h5.4v2.47h-5.4zM405.2 309.5h5.4v2.47h-5.4zM421.3 309.5h5.4v2.47h-5.4zM426.7 309.5h5.4v2.47h-5.4zM362.1 312h5.4v2.47h-5.4zM394.4 312h5.4v2.47h-5.4zM405.2 312h5.4v2.47h-5.4zM416 312h5.4v2.47h-5.4zM426.7 312h5.4v2.47h-5.4zM432.1 312h5.4v2.47h-5.4zM362.1 314.5h5.4v2.47h-5.4zM372.9 314.5h5.4v2.47h-5.4zM378.3 314.5h5.4v2.47h-5.4zM410.6 314.5h5.4v2.47h-5.4zM416 314.5h5.4v2.47h-5.4zM302.8 316.9h5.4v2.47h-5.4zM372.9 316.9h5.4v2.47h-5.4zM421.3 316.9h5.4v2.47h-5.4zM432.1 316.9h5.4v2.47h-5.4zM351.3 319.4h5.4v2.47h-5.4zM367.5 319.4h5.4v2.47h-5.4zM372.9 319.4h5.4v2.47h-5.4zM389 319.4h5.4v2.47h-5.4zM421.3 319.4h5.4v2.47h-5.4zM426.7 319.4h5.4v2.47h-5.4zM432.1 319.4h5.4v2.47h-5.4zM351.3 321.8h5.4v2.47h-5.4zM378.3 321.8h5.4v2.47h-5.4zM389 321.8h5.4v2.47h-5.4zM405.2 321.8h5.4v2.47h-5.4zM410.6 321.8h5.4v2.47h-5.4zM416 321.8h5.4v2.47h-5.4zM351.3 324.3h5.4v2.47h-5.4zM362.1 324.3h5.4v2.47h-5.4zM372.9 324.3h5.4v2.47h-5.4zM383.6 324.3h5.4v2.47h-5.4zM394.4 324.3h5.4v2.47h-5.4zM432.1 324.3h5.4v2.47h-5.4zM345.9 326.8h5.4v2.47h-5.4zM351.3 326.8h5.4v2.47h-5.4zM372.9 326.8h5.4v2.47h-5.4zM383.6 326.8h5.4v2.47h-5.4zM389 326.8h5.4v2.47h-5.4zM399.8 326.8h5.4v2.47h-5.4zM421.3 326.8h5.4v2.47h-5.4zM432.1 326.8h5.4v2.47h-5.4zM405.2 329.2h5.4v2.47h-5.4zM416 329.2h5.4v2.47h-5.4zM351.3 331.7h5.4v2.47h-5.4zM383.6 331.7h5.4v2.47h-5.4zM394.4 331.7h5.4v2.47h-5.4zM421.3 331.7h5.4v2.47h-5.4zM362.1 334.2h5.4v2.47h-5.4zM367.5 334.2h5.4v2.47h-5.4zM405.2 334.2h5.4v2.47h-5.4zM410.6 334.2h5.4v2.47h-5.4zM421.3 334.2h5.4v2.47h-5.4zM383.6 336.6h5.4v2.47h-5.4zM394.4 336.6h5.4v2.47h-5.4zM416 336.6h5.4v2.47h-5.4zM421.3 336.6h5.4v2.47h-5.4zM356.7 339.1h5.4v2.47h-5.4zM362.1 339.1h5.4v2.47h-5.4zM372.9 339.1h5.4v2.47h-5.4zM383.6 339.1h5.4v2.47h-5.4zM394.4 339.1h5.4v2.47h-5.4zM399.8 339.1h5.4v2.47h-5.4zM410.6 339.1h5.4v2.47h-5.4zM275.9 341.5h5.4v2.47h-5.4zM345.9 341.5h5.4v2.47h-5.4zM362.1 341.5h5.4v2.47h-5.4zM389 341.5h5.4v2.47h-5.4zM405.2 341.5h5.4v2.47h-5.4zM410.6 341.5h5.4v2.47h-5.4zM351.3 344h5.4v2.47h-5.4zM356.7 344h5.4v2.47h-5.4zM362.1 344h5.4v2.47h-5.4zM367.5 344h5.4v2.47h-5.4zM378.3 344h5.4v2.47h-5.4zM383.6 344h5.4v2.47h-5.4zM389 344h5.4v2.47h-5.4zM394.4 344h5.4v2.47h-5.4zM367.5 346.5h5.4v2.47h-5.4zM378.3 346.5h5.4v2.47h-5.4zM383.6 346.5h5.4v2.47h-5.4zM394.4 346.5h5.4v2.47h-5.4zM416 346.5h5.4v2.47h-5.4zM345.9 348.9h5.4v2.47h-5.4zM351.3 348.9h5.4v2.47h-5.4zM367.5 348.9h5.4v2.47h-5.4zM389 348.9h5.4v2.47h-5.4zM394.4 348.9h5.4v2.47h-5.4zM405.2 348.9h5.4v2.47h-5.4zM410.6 348.9h5.4v2.47h-5.4zM362.1 353.8h5.4v2.47h-5.4zM426.7 353.8h5.4v2.47h-5.4zM372.9 356.3h5.4v2.47h-5.4zM405.2 356.3h5.4v2.47h-5.4zM410.6 356.3h5.4v2.47h-5.4zM416 356.3h5.4v2.47h-5.4zM432.1 356.3h5.4v2.47h-5.4zM345.9 358.8h5.4v2.47h-5.4zM367.5 358.8h5.4v2.47h-5.4zM372.9 358.8h5.4v2.47h-5.4zM389 358.8h5.4v2.47h-5.4zM416 358.8h5.4v2.47h-5.4zM421.3 358.8h5.4v2.47h-5.4zM432.1 358.8h5.4v2.47h-5.4zM362.1 361.2h5.4v2.47h-5.4zM372.9 361.2h5.4v2.47h-5.4zM378.3 361.2h5.4v2.47h-5.4zM399.8 361.2h5.4v2.47h-5.4zM378.3 363.7h5.4v2.47h-5.4zM383.6 363.7h5.4v2.47h-5.4zM399.8 363.7h5.4v2.47h-5.4zM416 363.7h5.4v2.47h-5.4zM432.1 363.7h5.4v2.47h-5.4zM345.9 366.1h5.4v2.47h-5.4zM362.1 366.1h5.4v2.47h-5.4zM394.4 366.1h5.4v2.47h-5.4zM426.7 366.1h5.4v2.47h-5.4zM432.1 366.1h5.4v2.47h-5.4zM281.3 368.6h5.4v2.47h-5.4zM319 368.6h5.4v2.47h-5.4zM340.6 368.6h5.4v2.47h-5.4zM345.9 368.6h5.4v2.47h-5.4zM367.5 368.6h5.4v2.47h-5.4zM372.9 368.6h5.4v2.47h-5.4zM389 368.6h5.4v2.47h-5.4zM394.4 368.6h5.4v2.47h-5.4zM399.8 368.6h5.4v2.47h-5.4zM410.6 368.6h5.4v2.47h-5.4zM416 368.6h5.4v2.47h-5.4zM421.3 368.6h5.4v2.47h-5.4zM426.7 368.6h5.4v2.47h-5.4zM275.9 371.1h5.4v2.47h-5.4zM340.6 371.1h5.4v2.47h-5.4zM351.3 371.1h5.4v2.47h-5.4zM367.5 371.1h5.4v2.47h-5.4zM378.3 371.1h5.4v2.47h-5.4zM394.4 371.1h5.4v2.47h-5.4zM405.2 371.1h5.4v2.47h-5.4zM416 371.1h5.4v2.47h-5.4zM302.8 373.5h5.4v2.47h-5.4zM345.9 376h5.4v2.47h-5.4zM351.3 376h5.4v2.47h-5.4zM356.7 376h5.4v2.47h-5.4zM399.8 376h5.4v2.47h-5.4zM421.3 376h5.4v2.47h-5.4zM356.7 378.5h5.4v2.47h-5.4zM362.1 378.5h5.4v2.47h-5.4zM383.6 378.5h5.4v2.47h-5.4zM399.8 378.5h5.4v2.47h-5.4zM405.2 378.5h5.4v2.47h-5.4zM421.3 378.5h5.4v2.47h-5.4zM345.9 380.9h5.4v2.47h-5.4zM367.5 380.9h5.4v2.47h-5.4zM389 380.9h5.4v2.47h-5.4zM394.4 380.9h5.4v2.47h-5.4zM405.2 380.9h5.4v2.47h-5.4zM410.6 380.9h5.4v2.47h-5.4zM421.3 380.9h5.4v2.47h-5.4zM426.7 380.9h5.4v2.47h-5.4zM275.9 383.4h5.4v2.47h-5.4zM313.6 383.4h5.4v2.47h-5.4zM340.6 383.4h5.4v2.47h-5.4zM351.3 383.4h5.4v2.47h-5.4zM410.6 383.4h5.4v2.47h-5.4zM421.3 383.4h5.4v2.47h-5.4zM432.1 383.4h5.4v2.47h-5.4zM345.9 385.8h5.4v2.47h-5.4zM367.5 385.8h5.4v2.47h-5.4zM394.4 385.8h5.4v2.47h-5.4zM410.6 385.8h5.4v2.47h-5.4zM426.7 385.8h5.4v2.47h-5.4zM345.9 388.3h5.4v2.47h-5.4zM340.6 390.8h5.4v2.47h-5.4zM351.3 390.8h5.4v2.47h-5.4zM362.1 390.8h5.4v2.47h-5.4zM367.5 390.8h5.4v2.47h-5.4zM378.3 390.8h5.4v2.47h-5.4zM394.4 390.8h5.4v2.47h-5.4zM410.6 390.8h5.4v2.47h-5.4zM421.3 390.8h5.4v2.47h-5.4zM432.1 390.8h5.4v2.47h-5.4zM302.8 393.2h5.4v2.47h-5.4zM356.7 393.2h5.4v2.47h-5.4zM372.9 393.2h5.4v2.47h-5.4zM383.6 393.2h5.4v2.47h-5.4zM399.8 393.2h5.4v2.47h-5.4zM410.6 393.2h5.4v2.47h-5.4zM416 393.2h5.4v2.47h-5.4zM319 395.7h5.4v2.47h-5.4zM351.3 395.7h5.4v2.47h-5.4zM356.7 395.7h5.4v2.47h-5.4zM383.6 395.7h5.4v2.47h-5.4zM399.8 395.7h5.4v2.47h-5.4zM421.3 395.7h5.4v2.47h-5.4zM308.2 398.1h5.4v2.47h-5.4zM319 398.1h5.4v2.47h-5.4zM340.6 398.1h5.4v2.47h-5.4zM351.3 398.1h5.4v2.47h-5.4zM367.5 398.1h5.4v2.47h-5.4zM372.9 398.1h5.4v2.47h-5.4zM383.6 398.1h5.4v2.47h-5.4zM394.4 398.1h5.4v2.47h-5.4zM399.8 398.1h5.4v2.47h-5.4zM410.6 398.1h5.4v2.47h-5.4zM416 398.1h5.4v2.47h-5.4zM432.1 398.1h5.4v2.47h-5.4zM275.9 400.6h5.4v2.47h-5.4zM281.3 400.6h5.4v2.47h-5.4zM335.2 400.6h5.4v2.47h-5.4zM340.6 400.6h5.4v2.47h-5.4zM389 400.6h5.4v2.47h-5.4zM394.4 400.6h5.4v2.47h-5.4zM399.8 400.6h5.4v2.47h-5.4zM416 400.6h5.4v2.47h-5.4zM421.3 400.6h5.4v2.47h-5.4zM286.7 403.1h5.4v2.47h-5.4zM345.9 403.1h5.4v2.47h-5.4zM351.3 403.1h5.4v2.47h-5.4zM356.7 403.1h5.4v2.47h-5.4zM383.6 403.1h5.4v2.47h-5.4zM394.4 403.1h5.4v2.47h-5.4zM399.8 403.1h5.4v2.47h-5.4zM416 403.1h5.4v2.47h-5.4zM302.8 405.5h5.4v2.47h-5.4zM372.9 405.5h5.4v2.47h-5.4zM378.3 405.5h5.4v2.47h-5.4zM405.2 405.5h5.4v2.47h-5.4zM410.6 405.5h5.4v2.47h-5.4zM416 405.5h5.4v2.47h-5.4zM426.7 405.5h5.4v2.47h-5.4zM351.3 408h5.4v2.47h-5.4zM389 408h5.4v2.47h-5.4zM394.4 408h5.4v2.47h-5.4zM410.6 408h5.4v2.47h-5.4zM421.3 408h5.4v2.47h-5.4zM426.7 408h5.4v2.47h-5.4zM340.6 410.4h5.4v2.47h-5.4zM362.1 410.4h5.4v2.47h-5.4zM399.8 410.4h5.4v2.47h-5.4zM405.2 410.4h5.4v2.47h-5.4zM421.3 410.4h5.4v2.47h-5.4zM426.7 410.4h5.4v2.47h-5.4zM297.5 412.9h5.4v2.47h-5.4zM313.6 412.9h5.4v2.47h-5.4zM345.9 412.9h5.4v2.47h-5.4zM351.3 412.9h5.4v2.47h-5.4zM367.5 412.9h5.4v2.47h-5.4zM389 412.9h5.4v2.47h-5.4zM394.4 412.9h5.4v2.47h-5.4zM410.6 412.9h5.4v2.47h-5.4zM421.3 412.9h5.4v2.47h-5.4zM432.1 412.9h5.4v2.47h-5.4zM340.6 415.4h5.4v2.47h-5.4zM345.9 415.4h5.4v2.47h-5.4zM356.7 415.4h5.4v2.47h-5.4zM367.5 415.4h5.4v2.47h-5.4zM372.9 415.4h5.4v2.47h-5.4zM394.4 415.4h5.4v2.47h-5.4zM399.8 415.4h5.4v2.47h-5.4zM410.6 415.4h5.4v2.47h-5.4zM426.7 415.4h5.4v2.47h-5.4zM319 417.8h5.4v2.47h-5.4zM340.6 417.8h5.4v2.47h-5.4zM351.3 417.8h5.4v2.47h-5.4zM356.7 417.8h5.4v2.47h-5.4zM367.5 417.8h5.4v2.47h-5.4zM383.6 417.8h5.4v2.47h-5.4zM399.8 417.8h5.4v2.47h-5.4zM432.1 417.8h5.4v2.47h-5.4zM356.7 420.3h5.4v2.47h-5.4zM389 420.3h5.4v2.47h-5.4zM394.4 420.3h5.4v2.47h-5.4zM416 420.3h5.4v2.47h-5.4zM421.3 420.3h5.4v2.47h-5.4zM340.6 422.8h5.4v2.47h-5.4zM351.3 422.8h5.4v2.47h-5.4zM356.7 422.8h5.4v2.47h-5.4zM426.7 422.8h5.4v2.47h-5.4zM432.1 422.8h5.4v2.47h-5.4zM345.9 425.2h5.4v2.47h-5.4zM399.8 425.2h5.4v2.47h-5.4zM416 425.2h5.4v2.47h-5.4zM432.1 425.2h5.4v2.47h-5.4zM335.2 427.7h5.4v2.47h-5.4zM416 427.7h5.4v2.47h-5.4zM356.7 430.1h5.4v2.47h-5.4zM362.1 430.1h5.4v2.47h-5.4zM421.3 430.1h5.4v2.47h-5.4zM426.7 430.1h5.4v2.47h-5.4zM394.4 432.6h5.4v2.47h-5.4zM399.8 432.6h5.4v2.47h-5.4zM426.7 432.6h5.4v2.47h-5.4zM432.1 432.6h5.4v2.47h-5.4zM275.9 435.1h5.4v2.47h-5.4zM362.1 435.1h5.4v2.47h-5.4zM378.3 435.1h5.4v2.47h-5.4zM389 435.1h5.4v2.47h-5.4zM394.4 435.1h5.4v2.47h-5.4zM399.8 435.1h5.4v2.47h-5.4zM405.2 435.1h5.4v2.47h-5.4zM421.3 435.1h5.4v2.47h-5.4zM340.6 437.5h5.4v2.47h-5.4zM351.3 437.5h5.4v2.47h-5.4zM367.5 437.5h5.4v2.47h-5.4zM389 437.5h5.4v2.47h-5.4zM410.6 437.5h5.4v2.47h-5.4zM426.7 437.5h5.4v2.47h-5.4zM351.3 440h5.4v2.47h-5.4zM378.3 440h5.4v2.47h-5.4zM389 440h5.4v2.47h-5.4zM394.4 440h5.4v2.47h-5.4zM416 440h5.4v2.47h-5.4zM345.9 442.4h5.4v2.47h-5.4zM351.3 442.4h5.4v2.47h-5.4zM362.1 442.4h5.4v2.47h-5.4zM367.5 442.4h5.4v2.47h-5.4zM383.6 442.4h5.4v2.47h-5.4zM356.7 444.9h5.4v2.47h-5.4zM367.5 444.9h5.4v2.47h-5.4zM372.9 444.9h5.4v2.47h-5.4zM389 444.9h5.4v2.47h-5.4zM421.3 444.9h5.4v2.47h-5.4zM432.1 444.9h5.4v2.47h-5.4zM372.9 447.4h5.4v2.47h-5.4zM378.3 447.4h5.4v2.47h-5.4zM249 449.8h5.4v2.47h-5.4zM432.1 449.8h5.4v2.47h-5.4zM275.9 452.3h5.4v2.47h-5.4zM426.7 452.3h5.4v2.47h-5.4zM351.3 454.7h5.4v2.47h-5.4zM356.7 454.7h5.4v2.47h-5.4zM389 454.7h5.4v2.47h-5.4zM405.2 454.7h5.4v2.47h-5.4zM416 454.7h5.4v2.47h-5.4zM432.1 454.7h5.4v2.47h-5.4zM308.2 457.2h5.4v2.47h-5.4zM421.3 457.2h5.4v2.47h-5.4zM254.4 459.7h5.4v2.47h-5.4zM378.3 459.7h5.4v2.47h-5.4zM383.6 459.7h5.4v2.47h-5.4zM389 459.7h5.4v2.47h-5.4zM416 459.7h5.4v2.47h-5.4zM281.3 462.1h5.4v2.47h-5.4zM324.4 462.1h5.4v2.47h-5.4zM351.3 462.1h5.4v2.47h-5.4zM356.7 462.1h5.4v2.47h-5.4zM372.9 462.1h5.4v2.47h-5.4zM378.3 462.1h5.4v2.47h-5.4zM394.4 462.1h5.4v2.47h-5.4zM426.7 462.1h5.4v2.47h-5.4zM319 464.6h5.4v2.47h-5.4zM372.9 464.6h5.4v2.47h-5.4zM421.3 464.6h5.4v2.47h-5.4zM426.7 464.6h5.4v2.47h-5.4zM281.3 467.1h5.4v2.47h-5.4zM362.1 467.1h5.4v2.47h-5.4zM367.5 467.1h5.4v2.47h-5.4zM378.3 467.1h5.4v2.47h-5.4zM383.6 467.1h5.4v2.47h-5.4zM405.2 467.1h5.4v2.47h-5.4zM416 467.1h5.4v2.47h-5.4zM432.1 467.1h5.4v2.47h-5.4zM345.9 469.5h5.4v2.47h-5.4zM367.5 469.5h5.4v2.47h-5.4zM383.6 469.5h5.4v2.47h-5.4zM416 469.5h5.4v2.47h-5.4zM421.3 469.5h5.4v2.47h-5.4zM319 472h5.4v2.47h-5.4zM378.3 472h5.4v2.47h-5.4zM383.6 472h5.4v2.47h-5.4zM389 472h5.4v2.47h-5.4zM405.2 472h5.4v2.47h-5.4zM432.1 472h5.4v2.47h-5.4zM356.7 474.4h5.4v2.47h-5.4zM372.9 474.4h5.4v2.47h-5.4zM389 474.4h5.4v2.47h-5.4zM394.4 474.4h5.4v2.47h-5.4zM410.6 474.4h5.4v2.47h-5.4zM421.3 474.4h5.4v2.47h-5.4zM432.1 474.4h5.4v2.47h-5.4zM292.1 479.4h5.4v2.47h-5.4zM324.4 479.4h5.4v2.47h-5.4zM367.5 479.4h5.4v2.47h-5.4zM319 484.3h5.4v2.47h-5.4zM329.8 484.3h5.4v2.47h-5.4zM340.6 484.3h5.4v2.47h-5.4zM351.3 484.3h5.4v2.47h-5.4zM362.1 484.3h5.4v2.47h-5.4zM270.5 489.2h5.4v2.47h-5.4zM340.6 489.2h5.4v2.47h-5.4zM270.5 491.7h5.4v2.47h-5.4zM329.8 491.7h5.4v2.47h-5.4zM351.3 491.7h5.4v2.47h-5.4zM389 491.7h5.4v2.47h-5.4zM351.3 494.1h5.4v2.47h-5.4zM286.7 496.6h5.4v2.47h-5.4zM367.5 496.6h5.4v2.47h-5.4zM378.3 496.6h5.4v2.47h-5.4zM389 496.6h5.4v2.47h-5.4zM281.3 499h5.4v2.47h-5.4zM362.1 499h5.4v2.47h-5.4zM383.6 499h5.4v2.47h-5.4zM281.3 501.5h5.4v2.47h-5.4zM313.6 501.5h5.4v2.47h-5.4zM356.7 501.5h5.4v2.47h-5.4zM383.6 501.5h5.4v2.47h-5.4zM313.6 504h5.4v2.47h-5.4zM340.6 504h5.4v2.47h-5.4zM345.9 504h5.4v2.47h-5.4zM351.3 504h5.4v2.47h-5.4zM356.7 504h5.4v2.47h-5.4zM421.3 504h5.4v2.47h-5.4zM281.3 506.4h5.4v2.47h-5.4zM356.7 506.4h5.4v2.47h-5.4zM362.1 506.4h5.4v2.47h-5.4zM421.3 506.4h5.4v2.47h-5.4zM270.5 508.9h5.4v2.47h-5.4zM275.9 508.9h5.4v2.47h-5.4zM340.6 508.9h5.4v2.47h-5.4zM367.5 508.9h5.4v2.47h-5.4zM383.6 508.9h5.4v2.47h-5.4zM394.4 508.9h5.4v2.47h-5.4zM345.9 511.4h5.4v2.47h-5.4zM367.5 511.4h5.4v2.47h-5.4zM372.9 511.4h5.4v2.47h-5.4zM378.3 511.4h5.4v2.47h-5.4zM394.4 511.4h5.4v2.47h-5.4zM416 511.4h5.4v2.47h-5.4zM270.5 513.8h5.4v2.47h-5.4zM286.7 513.8h5.4v2.47h-5.4zM389 513.8h5.4v2.47h-5.4zM394.4 513.8h5.4v2.47h-5.4zM378.3 516.3h5.4v2.47h-5.4zM383.6 516.3h5.4v2.47h-5.4zM405.2 516.3h5.4v2.47h-5.4zM286.7 518.7h5.4v2.47h-5.4zM297.5 518.7h5.4v2.47h-5.4zM345.9 518.7h5.4v2.47h-5.4zM372.9 518.7h5.4v2.47h-5.4zM378.3 518.7h5.4v2.47h-5.4zM340.6 521.2h5.4v2.47h-5.4zM372.9 521.2h5.4v2.47h-5.4zM340.6 523.7h5.4v2.47h-5.4zM345.9 523.7h5.4v2.47h-5.4zM351.3 523.7h5.4v2.47h-5.4zM383.6 523.7h5.4v2.47h-5.4zM394.4 523.7h5.4v2.47h-5.4zM421.3 523.7h5.4v2.47h-5.4zM275.9 526.1h5.4v2.47h-5.4zM340.6 526.1h5.4v2.47h-5.4zM351.3 526.1h5.4v2.47h-5.4zM405.2 526.1h5.4v2.47h-5.4zM416 526.1h5.4v2.47h-5.4zM421.3 526.1h5.4v2.47h-5.4zM249 528.6h5.4v2.47h-5.4zM345.9 528.6h5.4v2.47h-5.4zM378.3 528.6h5.4v2.47h-5.4zM383.6 528.6h5.4v2.47h-5.4zM405.2 528.6h5.4v2.47h-5.4zM265.1 531h5.4v2.47h-5.4zM351.3 531h5.4v2.47h-5.4zM356.7 531h5.4v2.47h-5.4zM367.5 531h5.4v2.47h-5.4zM378.3 531h5.4v2.47h-5.4zM383.6 531h5.4v2.47h-5.4zM399.8 531h5.4v2.47h-5.4zM416 531h5.4v2.47h-5.4zM426.7 531h5.4v2.47h-5.4z"/><path fill="#d9d9fc" d="M265.1 255.4h5.4v2.47h-5.4zM270.5 255.4h5.4v2.47h-5.4zM351.3 255.4h5.4v2.47h-5.4zM249 257.9h5.4v2.47h-5.4zM265.1 257.9h5.4v2.47h-5.4zM335.2 257.9h5.4v2.47h-5.4zM356.7 257.9h5.4v2.47h-5.4zM405.2 257.9h5.4v2.47h-5.4zM432.1 257.9h5.4v2.47h-5.4zM351.3 260.3h5.4v2.47h-5.4zM372.9 260.3h5.4v2.47h-5.4zM426.7 260.3h5.4v2.47h-5.4zM329.8 262.8h5.4v2.47h-5.4zM367.5 262.8h5.4v2.47h-5.4zM378.3 262.8h5.4v2.47h-5.4zM383.6 262.8h5.4v2.47h-5.4zM389 262.8h5.4v2.47h-5.4zM405.2 262.8h5.4v2.47h-5.4zM421.3 262.8h5.4v2.47h-5.4zM249 265.2h5.4v2.47h-5.4zM292.1 265.2h5.4v2.47h-5.4zM362.1 267.7h5.4v2.47h-5.4zM367.5 267.7h5.4v2.47h-5.4zM383.6 267.7h5.4v2.47h-5.4zM399.8 267.7h5.4v2.47h-5.4zM421.3 267.7h5.4v2.47h-5.4zM286.7 270.2h5.4v2.47h-5.4zM302.8 270.2h5.4v2.47h-5.4zM308.2 270.2h5.4v2.47h-5.4zM335.2 270.2h5.4v2.47h-5.4zM356.7 270.2h5.4v2.47h-5.4zM367.5 270.2h5.4v2.47h-5.4zM394.4 270.2h5.4v2.47h-5.4zM399.8 270.2h5.4v2.47h-5.4zM421.3 270.2h5.4v2.47h-5.4zM426.7 270.2h5.4v2.47h-5.4zM313.6 272.6h5.4v2.47h-5.4zM335.2 272.6h5.4v2.47h-5.4zM351.3 272.6h5.4v2.47h-5.4zM378.3 272.6h5.4v2.47h-5.4zM302.8 275.1h5.4v2.47h-5.4zM335.2 275.1h5.4v2.47h-5.4zM378.3 275.1h5.4v2.47h-5.4zM394.4 275.1h5.4v2.47h-5.4zM297.5 277.5h5.4v2.47h-5.4zM308.2 277.5h5.4v2.47h-5.4zM378.3 277.5h5.4v2.47h-5.4zM399.8 277.5h5.4v2.47h-5.4zM410.6 277.5h5.4v2.47h-5.4zM426.7 277.5h5.4v2.47h-5.4zM335.2 280h5.4v2.47h-5.4zM345.9 280h5.4v2.47h-5.4zM351.3 280h5.4v2.47h-5.4zM372.9 280h5.4v2.47h-5.4zM399.8 280h5.4v2.47h-5.4zM410.6 280h5.4v2.47h-5.4zM416 280h5.4v2.47h-5.4zM421.3 280h5.4v2.47h-5.4zM340.6 282.5h5.4v2.47h-5.4zM356.7 282.5h5.4v2.47h-5.4zM394.4 282.5h5.4v2.47h-5.4zM405.2 282.5h5.4v2.47h-5.4zM410.6 282.5h5.4v2.47h-5.4zM421.3 282.5h5.4v2.47h-5.4zM426.7 282.5h5.4v2.47h-5.4zM259.8 284.9h5.4v2.47h-5.4zM297.5 284.9h5.4v2.47h-5.4zM313.6 284.9h5.4v2.47h-5.4zM389 284.9h5.4v2.47h-5.4zM432.1 284.9h5.4v2.47h-5.4zM297.5 287.4h5.4v2.47h-5.4zM319 287.4h5.4v2.47h-5.4zM329.8 287.4h5.4v2.47h-5.4zM367.5 287.4h5.4v2.47h-5.4zM378.3 287.4h5.4v2.47h-5.4zM399.8 287.4h5.4v2.47h-5.4zM421.3 287.4h5.4v2.47h-5.4zM426.7 287.4h5.4v2.47h-5.4zM249 289.9h5.4v2.47h-5.4zM383.6 289.9h5.4v2.47h-5.4zM405.2 289.9h5.4v2.47h-5.4zM432.1 289.9h5.4v2.47h-5.4zM308.2 292.3h5.4v2.47h-5.4zM313.6 292.3h5.4v2.47h-5.4zM335.2 292.3h5.4v2.47h-5.4zM383.6 292.3h5.4v2.47h-5.4zM394.4 292.3h5.4v2.47h-5.4zM410.6 292.3h5.4v2.47h-5.4zM426.7 292.3h5.4v2.47h-5.4zM432.1 292.3h5.4v2.47h-5.4zM286.7 294.8h5.4v2.47h-5.4zM302.8 294.8h5.4v2.47h-5.4zM362.1 294.8h5.4v2.47h-5.4zM372.9 294.8h5.4v2.47h-5.4zM378.3 294.8h5.4v2.47h-5.4zM394.4 294.8h5.4v2.47h-5.4zM329.8 297.2h5.4v2.47h-5.4zM372.9 297.2h5.4v2.47h-5.4zM389 297.2h5.4v2.47h-5.4zM410.6 297.2h5.4v2.47h-5.4zM432.1 297.2h5.4v2.47h-5.4zM302.8 299.7h5.4v2.47h-5.4zM367.5 299.7h5.4v2.47h-5.4zM372.9 299.7h5.4v2.47h-5.4zM383.6 299.7h5.4v2.47h-5.4zM399.8 299.7h5.4v2.47h-5.4zM410.6 299.7h5.4v2.47h-5.4zM265.1 302.2h5.4v2.47h-5.4zM286.7 302.2h5.4v2.47h-5.4zM313.6 302.2h5.4v2.47h-5.4zM362.1 302.2h5.4v2.47h-5.4zM367.5 302.2h5.4v2.47h-5.4zM378.3 302.2h5.4v2.47h-5.4zM389 302.2h5.4v2.47h-5.4zM394.4 302.2h5.4v2.47h-5.4zM399.8 302.2h5.4v2.47h-5.4zM275.9 304.6h5.4v2.47h-5.4zM286.7 304.6h5.4v2.47h-5.4zM302.8 304.6h5.4v2.47h-5.4zM308.2 304.6h5.4v2.47h-5.4zM362.1 304.6h5.4v2.47h-5.4zM372.9 304.6h5.4v2.47h-5.4zM378.3 304.6h5.4v2.47h-5.4zM394.4 304.6h5.4v2.47h-5.4zM362.1 307.1h5.4v2.47h-5.4zM367.5 307.1h5.4v2.47h-5.4zM383.6 307.1h5.4v2.47h-5.4zM389 307.1h5.4v2.47h-5.4zM394.4 307.1h5.4v2.47h-5.4zM410.6 307.1h5.4v2.47h-5.4zM426.7 307.1h5.4v2.47h-5.4zM432.1 307.1h5.4v2.47h-5.4zM308.2 309.5h5.4v2.47h-5.4zM378.3 309.5h5.4v2.47h-5.4zM302.8 312h5.4v2.47h-5.4zM313.6 312h5.4v2.47h-5.4zM383.6 312h5.4v2.47h-5.4zM389 312h5.4v2.47h-5.4zM399.8 312h5.4v2.47h-5.4zM275.9 314.5h5.4v2.47h-5.4zM302.8 314.5h5.4v2.47h-5.4zM308.2 314.5h5.4v2.47h-5.4zM313.6 314.5h5.4v2.47h-5.4zM399.8 314.5h5.4v2.47h-5.4zM405.2 314.5h5.4v2.47h-5.4zM281.3 316.9h5.4v2.47h-5.4zM313.6 316.9h5.4v2.47h-5.4zM319 316.9h5.4v2.47h-5.4zM329.8 316.9h5.4v2.47h-5.4zM356.7 316.9h5.4v2.47h-5.4zM362.1 316.9h5.4v2.47h-5.4zM378.3 316.9h5.4v2.47h-5.4zM389 316.9h5.4v2.47h-5.4zM362.1 319.4h5.4v2.47h-5.4zM378.3 319.4h5.4v2.47h-5.4zM416 319.4h5.4v2.47h-5.4zM362.1 321.8h5.4v2.47h-5.4zM372.9 321.8h5.4v2.47h-5.4zM383.6 321.8h5.4v2.47h-5.4zM399.8 321.8h5.4v2.47h-5.4zM421.3 321.8h5.4v2.47h-5.4zM410.6 324.3h5.4v2.47h-5.4zM416 324.3h5.4v2.47h-5.4zM421.3 324.3h5.4v2.47h-5.4zM367.5 326.8h5.4v2.47h-5.4zM394.4 326.8h5.4v2.47h-5.4zM426.7 326.8h5.4v2.47h-5.4zM275.9 329.2h5.4v2.47h-5.4zM281.3 329.2h5.4v2.47h-5.4zM345.9 329.2h5.4v2.47h-5.4zM351.3 329.2h5.4v2.47h-5.4zM362.1 329.2h5.4v2.47h-5.4zM372.9 329.2h5.4v2.47h-5.4zM383.6 329.2h5.4v2.47h-5.4zM399.8 329.2h5.4v2.47h-5.4zM421.3 329.2h5.4v2.47h-5.4zM426.7 329.2h5.4v2.47h-5.4zM345.9 331.7h5.4v2.47h-5.4zM362.1 331.7h5.4v2.47h-5.4zM378.3 331.7h5.4v2.47h-5.4zM389 331.7h5.4v2.47h-5.4zM399.8 331.7h5.4v2.47h-5.4zM410.6 331.7h5.4v2.47h-5.4zM416 331.7h5.4v2.47h-5.4zM275.9 334.2h5.4v2.47h-5.4zM281.3 334.2h5.4v2.47h-5.4zM356.7 334.2h5.4v2.47h-5.4zM372.9 334.2h5.4v2.47h-5.4zM399.8 334.2h5.4v2.47h-5.4zM426.7 334.2h5.4v2.47h-5.4zM432.1 334.2h5.4v2.47h-5.4zM275.9 336.6h5.4v2.47h-5.4zM345.9 336.6h5.4v2.47h-5.4zM351.3 336.6h5.4v2.47h-5.4zM362.1 336.6h5.4v2.47h-5.4zM378.3 336.6h5.4v2.47h-5.4zM389 336.6h5.4v2.47h-5.4zM399.8 336.6h5.4v2.47h-5.4zM405.2 336.6h5.4v2.47h-5.4zM432.1 336.6h5.4v2.47h-5.4zM259.8 339.1h5.4v2.47h-5.4zM275.9 339.1h5.4v2.47h-5.4zM378.3 339.1h5.4v2.47h-5.4zM389 339.1h5.4v2.47h-5.4zM416 339.1h5.4v2.47h-5.4zM421.3 339.1h5.4v2.47h-5.4zM432.1 339.1h5.4v2.47h-5.4zM367.5 341.5h5.4v2.47h-5.4zM383.6 341.5h5.4v2.47h-5.4zM394.4 341.5h5.4v2.47h-5.4zM416 341.5h5.4v2.47h-5.4zM421.3 341.5h5.4v2.47h-5.4zM432.1 341.5h5.4v2.47h-5.4zM405.2 344h5.4v2.47h-5.4zM416 344h5.4v2.47h-5.4zM421.3 344h5.4v2.47h-5.4zM426.7 344h5.4v2.47h-5.4zM345.9 346.5h5.4v2.47h-5.4zM351.3 346.5h5.4v2.47h-5.4zM372.9 346.5h5.4v2.47h-5.4zM405.2 346.5h5.4v2.47h-5.4zM421.3 346.5h5.4v2.47h-5.4zM275.9 348.9h5.4v2.47h-5.4zM340.6 348.9h5.4v2.47h-5.4zM356.7 348.9h5.4v2.47h-5.4zM372.9 348.9h5.4v2.47h-5.4zM378.3 348.9h5.4v2.47h-5.4zM399.8 348.9h5.4v2.47h-5.4zM416 348.9h5.4v2.47h-5.4zM367.5 351.4h5.4v2.47h-5.4zM383.6 351.4h5.4v2.47h-5.4zM421.3 351.4h5.4v2.47h-5.4zM254.4 353.8h5.4v2.47h-5.4zM259.8 353.8h5.4v2.47h-5.4zM367.5 353.8h5.4v2.47h-5.4zM372.9 353.8h5.4v2.47h-5.4zM378.3 353.8h5.4v2.47h-5.4zM421.3 353.8h5.4v2.47h-5.4zM345.9 356.3h5.4v2.47h-5.4zM367.5 356.3h5.4v2.47h-5.4zM383.6 356.3h5.4v2.47h-5.4zM394.4 356.3h5.4v2.47h-5.4zM399.8 356.3h5.4v2.47h-5.4zM421.3 356.3h5.4v2.47h-5.4zM426.7 356.3h5.4v2.47h-5.4zM351.3 358.8h5.4v2.47h-5.4zM394.4 358.8h5.4v2.47h-5.4zM405.2 358.8h5.4v2.47h-5.4zM345.9 361.2h5.4v2.47h-5.4zM405.2 361.2h5.4v2.47h-5.4zM421.3 361.2h5.4v2.47h-5.4zM426.7 361.2h5.4v2.47h-5.4zM345.9 363.7h5.4v2.47h-5.4zM351.3 363.7h5.4v2.47h-5.4zM362.1 363.7h5.4v2.47h-5.4zM367.5 363.7h5.4v2.47h-5.4zM389 363.7h5.4v2.47h-5.4zM394.4 363.7h5.4v2.47h-5.4zM405.2 363.7h5.4v2.47h-5.4zM421.3 363.7h5.4v2.47h-5.4zM372.9 366.1h5.4v2.47h-5.4zM383.6 366.1h5.4v2.47h-5.4zM405.2 366.1h5.4v2.47h-5.4zM410.6 366.1h5.4v2.47h-5.4zM416 366.1h5.4v2.47h-5.4zM421.3 366.1h5.4v2.47h-5.4zM302.8 368.6h5.4v2.47h-5.4zM313.6 368.6h5.4v2.47h-5.4zM324.4 368.6h5.4v2.47h-5.4zM329.8 368.6h5.4v2.47h-5.4zM351.3 368.6h5.4v2.47h-5.4zM356.7 368.6h5.4v2.47h-5.4zM362.1 368.6h5.4v2.47h-5.4zM405.2 368.6h5.4v2.47h-5.4zM432.1 368.6h5.4v2.47h-5.4zM270.5 371.1h5.4v2.47h-5.4zM281.3 371.1h5.4v2.47h-5.4zM297.5 371.1h5.4v2.47h-5.4zM302.8 371.1h5.4v2.47h-5.4zM324.4 371.1h5.4v2.47h-5.4zM356.7 371.1h5.4v2.47h-5.4zM410.6 371.1h5.4v2.47h-5.4zM426.7 371.1h5.4v2.47h-5.4zM432.1 371.1h5.4v2.47h-5.4zM275.9 373.5h5.4v2.47h-5.4zM281.3 373.5h5.4v2.47h-5.4zM286.7 373.5h5.4v2.47h-5.4zM308.2 373.5h5.4v2.47h-5.4zM335.2 373.5h5.4v2.47h-5.4zM421.3 373.5h5.4v2.47h-5.4zM281.3 376h5.4v2.47h-5.4zM313.6 376h5.4v2.47h-5.4zM319 376h5.4v2.47h-5.4zM340.6 376h5.4v2.47h-5.4zM362.1 376h5.4v2.47h-5.4zM292.1 378.5h5.4v2.47h-5.4zM297.5 378.5h5.4v2.47h-5.4zM308.2 378.5h5.4v2.47h-5.4zM313.6 378.5h5.4v2.47h-5.4zM340.6 378.5h5.4v2.47h-5.4zM345.9 378.5h5.4v2.47h-5.4zM351.3 378.5h5.4v2.47h-5.4zM367.5 378.5h5.4v2.47h-5.4zM378.3 378.5h5.4v2.47h-5.4zM432.1 378.5h5.4v2.47h-5.4zM286.7 380.9h5.4v2.47h-5.4zM302.8 380.9h5.4v2.47h-5.4zM308.2 380.9h5.4v2.47h-5.4zM319 380.9h5.4v2.47h-5.4zM324.4 380.9h5.4v2.47h-5.4zM329.8 380.9h5.4v2.47h-5.4zM351.3 380.9h5.4v2.47h-5.4zM372.9 380.9h5.4v2.47h-5.4zM416 380.9h5.4v2.47h-5.4zM432.1 380.9h5.4v2.47h-5.4zM281.3 383.4h5.4v2.47h-5.4zM286.7 383.4h5.4v2.47h-5.4zM292.1 383.4h5.4v2.47h-5.4zM297.5 383.4h5.4v2.47h-5.4zM319 383.4h5.4v2.47h-5.4zM345.9 383.4h5.4v2.47h-5.4zM356.7 383.4h5.4v2.47h-5.4zM378.3 383.4h5.4v2.47h-5.4zM383.6 383.4h5.4v2.47h-5.4zM399.8 383.4h5.4v2.47h-5.4zM405.2 383.4h5.4v2.47h-5.4zM416 383.4h5.4v2.47h-5.4zM426.7 383.4h5.4v2.47h-5.4zM243.6 385.8h5.4v2.47h-5.4zM286.7 385.8h5.4v2.47h-5.4zM308.2 385.8h5.4v2.47h-5.4zM329.8 385.8h5.4v2.47h-5.4zM335.2 385.8h5.4v2.47h-5.4zM351.3 385.8h5.4v2.47h-5.4zM372.9 385.8h5.4v2.47h-5.4zM383.6 385.8h5.4v2.47h-5.4zM399.8 385.8h5.4v2.47h-5.4zM432.1 385.8h5.4v2.47h-5.4zM286.7 388.3h5.4v2.47h-5.4zM297.5 388.3h5.4v2.47h-5.4zM302.8 388.3h5.4v2.47h-5.4zM319 388.3h5.4v2.47h-5.4zM340.6 388.3h5.4v2.47h-5.4zM356.7 388.3h5.4v2.47h-5.4zM367.5 388.3h5.4v2.47h-5.4zM378.3 388.3h5.4v2.47h-5.4zM383.6 388.3h5.4v2.47h-5.4zM410.6 388.3h5.4v2.47h-5.4zM286.7 390.8h5.4v2.47h-5.4zM292.1 390.8h5.4v2.47h-5.4zM302.8 390.8h5.4v2.47h-5.4zM313.6 390.8h5.4v2.47h-5.4zM329.8 390.8h5.4v2.47h-5.4zM335.2 390.8h5.4v2.47h-5.4zM345.9 390.8h5.4v2.47h-5.4zM356.7 390.8h5.4v2.47h-5.4zM372.9 390.8h5.4v2.47h-5.4zM389 390.8h5.4v2.47h-5.4zM399.8 390.8h5.4v2.47h-5.4zM281.3 393.2h5.4v2.47h-5.4zM286.7 393.2h5.4v2.47h-5.4zM313.6 393.2h5.4v2.47h-5.4zM324.4 393.2h5.4v2.47h-5.4zM345.9 393.2h5.4v2.47h-5.4zM351.3 393.2h5.4v2.47h-5.4zM394.4 393.2h5.4v2.47h-5.4zM405.2 393.2h5.4v2.47h-5.4zM432.1 393.2h5.4v2.47h-5.4zM286.7 395.7h5.4v2.47h-5.4zM329.8 395.7h5.4v2.47h-5.4zM340.6 395.7h5.4v2.47h-5.4zM372.9 395.7h5.4v2.47h-5.4zM389 395.7h5.4v2.47h-5.4zM410.6 395.7h5.4v2.47h-5.4zM416 395.7h5.4v2.47h-5.4zM275.9 398.1h5.4v2.47h-5.4zM281.3 398.1h5.4v2.47h-5.4zM286.7 398.1h5.4v2.47h-5.4zM292.1 398.1h5.4v2.47h-5.4zM345.9 398.1h5.4v2.47h-5.4zM405.2 398.1h5.4v2.47h-5.4zM421.3 398.1h5.4v2.47h-5.4zM426.7 398.1h5.4v2.47h-5.4zM297.5 400.6h5.4v2.47h-5.4zM302.8 400.6h5.4v2.47h-5.4zM308.2 400.6h5.4v2.47h-5.4zM329.8 400.6h5.4v2.47h-5.4zM345.9 400.6h5.4v2.47h-5.4zM351.3 400.6h5.4v2.47h-5.4zM367.5 400.6h5.4v2.47h-5.4zM405.2 400.6h5.4v2.47h-5.4zM410.6 400.6h5.4v2.47h-5.4zM426.7 400.6h5.4v2.47h-5.4zM432.1 400.6h5.4v2.47h-5.4zM275.9 403.1h5.4v2.47h-5.4zM292.1 403.1h5.4v2.47h-5.4zM297.5 403.1h5.4v2.47h-5.4zM313.6 403.1h5.4v2.47h-5.4zM335.2 403.1h5.4v2.47h-5.4zM367.5 403.1h5.4v2.47h-5.4zM378.3 403.1h5.4v2.47h-5.4zM389 403.1h5.4v2.47h-5.4zM297.5 405.5h5.4v2.47h-5.4zM308.2 405.5h5.4v2.47h-5.4zM335.2 405.5h5.4v2.47h-5.4zM394.4 405.5h5.4v2.47h-5.4zM421.3 405.5h5.4v2.47h-5.4zM286.7 408h5.4v2.47h-5.4zM292.1 408h5.4v2.47h-5.4zM297.5 408h5.4v2.47h-5.4zM329.8 408h5.4v2.47h-5.4zM340.6 408h5.4v2.47h-5.4zM362.1 408h5.4v2.47h-5.4zM372.9 408h5.4v2.47h-5.4zM378.3 408h5.4v2.47h-5.4zM399.8 408h5.4v2.47h-5.4zM432.1 408h5.4v2.47h-5.4zM275.9 410.4h5.4v2.47h-5.4zM286.7 410.4h5.4v2.47h-5.4zM292.1 410.4h5.4v2.47h-5.4zM297.5 410.4h5.4v2.47h-5.4zM302.8 410.4h5.4v2.47h-5.4zM319 410.4h5.4v2.47h-5.4zM378.3 410.4h5.4v2.47h-5.4zM394.4 410.4h5.4v2.47h-5.4zM432.1 410.4h5.4v2.47h-5.4zM319 412.9h5.4v2.47h-5.4zM372.9 412.9h5.4v2.47h-5.4zM378.3 412.9h5.4v2.47h-5.4zM405.2 412.9h5.4v2.47h-5.4zM416 412.9h5.4v2.47h-5.4zM426.7 412.9h5.4v2.47h-5.4zM292.1 415.4h5.4v2.47h-5.4zM297.5 415.4h5.4v2.47h-5.4zM302.8 415.4h5.4v2.47h-5.4zM335.2 415.4h5.4v2.47h-5.4zM362.1 415.4h5.4v2.47h-5.4zM378.3 415.4h5.4v2.47h-5.4zM383.6 415.4h5.4v2.47h-5.4zM432.1 415.4h5.4v2.47h-5.4zM286.7 417.8h5.4v2.47h-5.4zM292.1 417.8h5.4v2.47h-5.4zM308.2 417.8h5.4v2.47h-5.4zM313.6 417.8h5.4v2.47h-5.4zM345.9 417.8h5.4v2.47h-5.4zM378.3 417.8h5.4v2.47h-5.4zM389 417.8h5.4v2.47h-5.4zM394.4 417.8h5.4v2.47h-5.4zM405.2 417.8h5.4v2.47h-5.4zM416 417.8h5.4v2.47h-5.4zM426.7 417.8h5.4v2.47h-5.4zM281.3 420.3h5.4v2.47h-5.4zM324.4 420.3h5.4v2.47h-5.4zM329.8 420.3h5.4v2.47h-5.4zM351.3 420.3h5.4v2.47h-5.4zM362.1 420.3h5.4v2.47h-5.4zM372.9 420.3h5.4v2.47h-5.4zM399.8 420.3h5.4v2.47h-5.4zM405.2 420.3h5.4v2.47h-5.4zM426.7 420.3h5.4v2.47h-5.4zM399.8 422.8h5.4v2.47h-5.4zM416 422.8h5.4v2.47h-5.4zM340.6 425.2h5.4v2.47h-5.4zM351.3 425.2h5.4v2.47h-5.4zM362.1 425.2h5.4v2.47h-5.4zM426.7 425.2h5.4v2.47h-5.4zM329.8 427.7h5.4v2.47h-5.4zM351.3 427.7h5.4v2.47h-5.4zM362.1 427.7h5.4v2.47h-5.4zM399.8 427.7h5.4v2.47h-5.4zM426.7 427.7h5.4v2.47h-5.4zM405.2 430.1h5.4v2.47h-5.4zM275.9 432.6h5.4v2.47h-5.4zM329.8 432.6h5.4v2.47h-5.4zM340.6 432.6h5.4v2.47h-5.4zM345.9 432.6h5.4v2.47h-5.4zM356.7 432.6h5.4v2.47h-5.4zM410.6 432.6h5.4v2.47h-5.4zM421.3 432.6h5.4v2.47h-5.4zM383.6 435.1h5.4v2.47h-5.4zM432.1 435.1h5.4v2.47h-5.4zM345.9 437.5h5.4v2.47h-5.4zM378.3 437.5h5.4v2.47h-5.4zM383.6 437.5h5.4v2.47h-5.4zM399.8 437.5h5.4v2.47h-5.4zM416 437.5h5.4v2.47h-5.4zM340.6 440h5.4v2.47h-5.4zM362.1 440h5.4v2.47h-5.4zM367.5 440h5.4v2.47h-5.4zM383.6 440h5.4v2.47h-5.4zM399.8 440h5.4v2.47h-5.4zM410.6 440h5.4v2.47h-5.4zM421.3 440h5.4v2.47h-5.4zM275.9 442.4h5.4v2.47h-5.4zM281.3 442.4h5.4v2.47h-5.4zM340.6 442.4h5.4v2.47h-5.4zM356.7 442.4h5.4v2.47h-5.4zM372.9 442.4h5.4v2.47h-5.4zM394.4 442.4h5.4v2.47h-5.4zM399.8 442.4h5.4v2.47h-5.4zM410.6 442.4h5.4v2.47h-5.4zM421.3 442.4h5.4v2.47h-5.4zM281.3 444.9h5.4v2.47h-5.4zM383.6 444.9h5.4v2.47h-5.4zM405.2 444.9h5.4v2.47h-5.4zM416 444.9h5.4v2.47h-5.4zM275.9 447.4h5.4v2.47h-5.4zM329.8 447.4h5.4v2.47h-5.4zM340.6 447.4h5.4v2.47h-5.4zM351.3 447.4h5.4v2.47h-5.4zM367.5 447.4h5.4v2.47h-5.4zM383.6 447.4h5.4v2.47h-5.4zM410.6 447.4h5.4v2.47h-5.4zM324.4 449.8h5.4v2.47h-5.4zM329.8 449.8h5.4v2.47h-5.4zM345.9 449.8h5.4v2.47h-5.4zM356.7 449.8h5.4v2.47h-5.4zM313.6 452.3h5.4v2.47h-5.4zM351.3 452.3h5.4v2.47h-5.4zM243.6 454.7h5.4v2.47h-5.4zM249 454.7h5.4v2.47h-5.4zM302.8 454.7h5.4v2.47h-5.4zM313.6 454.7h5.4v2.47h-5.4zM335.2 454.7h5.4v2.47h-5.4zM340.6 454.7h5.4v2.47h-5.4zM302.8 457.2h5.4v2.47h-5.4zM335.2 457.2h5.4v2.47h-5.4zM345.9 457.2h5.4v2.47h-5.4zM416 457.2h5.4v2.47h-5.4zM426.7 457.2h5.4v2.47h-5.4zM243.6 459.7h5.4v2.47h-5.4zM249 459.7h5.4v2.47h-5.4zM275.9 459.7h5.4v2.47h-5.4zM281.3 459.7h5.4v2.47h-5.4zM292.1 459.7h5.4v2.47h-5.4zM329.8 459.7h5.4v2.47h-5.4zM399.8 459.7h5.4v2.47h-5.4zM405.2 459.7h5.4v2.47h-5.4zM410.6 459.7h5.4v2.47h-5.4zM426.7 459.7h5.4v2.47h-5.4zM259.8 462.1h5.4v2.47h-5.4zM275.9 462.1h5.4v2.47h-5.4zM302.8 462.1h5.4v2.47h-5.4zM329.8 462.1h5.4v2.47h-5.4zM335.2 462.1h5.4v2.47h-5.4zM340.6 462.1h5.4v2.47h-5.4zM345.9 462.1h5.4v2.47h-5.4zM367.5 462.1h5.4v2.47h-5.4zM399.8 462.1h5.4v2.47h-5.4zM405.2 462.1h5.4v2.47h-5.4zM416 462.1h5.4v2.47h-5.4zM432.1 462.1h5.4v2.47h-5.4zM297.5 464.6h5.4v2.47h-5.4zM302.8 464.6h5.4v2.47h-5.4zM324.4 464.6h5.4v2.47h-5.4zM329.8 464.6h5.4v2.47h-5.4zM416 464.6h5.4v2.47h-5.4zM432.1 464.6h5.4v2.47h-5.4zM286.7 467.1h5.4v2.47h-5.4zM297.5 467.1h5.4v2.47h-5.4zM302.8 467.1h5.4v2.47h-5.4zM313.6 467.1h5.4v2.47h-5.4zM335.2 467.1h5.4v2.47h-5.4zM345.9 467.1h5.4v2.47h-5.4zM351.3 467.1h5.4v2.47h-5.4zM372.9 467.1h5.4v2.47h-5.4zM399.8 467.1h5.4v2.47h-5.4zM421.3 467.1h5.4v2.47h-5.4zM426.7 467.1h5.4v2.47h-5.4zM281.3 469.5h5.4v2.47h-5.4zM286.7 469.5h5.4v2.47h-5.4zM351.3 469.5h5.4v2.47h-5.4zM372.9 469.5h5.4v2.47h-5.4zM378.3 469.5h5.4v2.47h-5.4zM394.4 469.5h5.4v2.47h-5.4zM399.8 469.5h5.4v2.47h-5.4zM405.2 469.5h5.4v2.47h-5.4zM426.7 469.5h5.4v2.47h-5.4zM254.4 472h5.4v2.47h-5.4zM259.8 472h5.4v2.47h-5.4zM275.9 472h5.4v2.47h-5.4zM351.3 472h5.4v2.47h-5.4zM367.5 472h5.4v2.47h-5.4zM372.9 472h5.4v2.47h-5.4zM399.8 472h5.4v2.47h-5.4zM275.9 474.4h5.4v2.47h-5.4zM286.7 474.4h5.4v2.47h-5.4zM292.1 474.4h5.4v2.47h-5.4zM302.8 474.4h5.4v2.47h-5.4zM308.2 474.4h5.4v2.47h-5.4zM319 474.4h5.4v2.47h-5.4zM324.4 474.4h5.4v2.47h-5.4zM345.9 474.4h5.4v2.47h-5.4zM351.3 474.4h5.4v2.47h-5.4zM378.3 474.4h5.4v2.47h-5.4zM405.2 474.4h5.4v2.47h-5.4zM426.7 474.4h5.4v2.47h-5.4zM308.2 476.9h5.4v2.47h-5.4zM313.6 476.9h5.4v2.47h-5.4zM319 476.9h5.4v2.47h-5.4zM335.2 476.9h5.4v2.47h-5.4zM286.7 479.4h5.4v2.47h-5.4zM297.5 479.4h5.4v2.47h-5.4zM335.2 479.4h5.4v2.47h-5.4zM362.1 479.4h5.4v2.47h-5.4zM281.3 481.8h5.4v2.47h-5.4zM286.7 481.8h5.4v2.47h-5.4zM292.1 481.8h5.4v2.47h-5.4zM297.5 481.8h5.4v2.47h-5.4zM249 484.3h5.4v2.47h-5.4zM281.3 484.3h5.4v2.47h-5.4zM313.6 484.3h5.4v2.47h-5.4zM275.9 486.7h5.4v2.47h-5.4zM281.3 486.7h5.4v2.47h-5.4zM292.1 486.7h5.4v2.47h-5.4zM319 486.7h5.4v2.47h-5.4zM324.4 486.7h5.4v2.47h-5.4zM259.8 489.2h5.4v2.47h-5.4zM302.8 489.2h5.4v2.47h-5.4zM313.6 489.2h5.4v2.47h-5.4zM335.2 489.2h5.4v2.47h-5.4zM345.9 489.2h5.4v2.47h-5.4zM243.6 491.7h5.4v2.47h-5.4zM292.1 491.7h5.4v2.47h-5.4zM340.6 491.7h5.4v2.47h-5.4zM345.9 491.7h5.4v2.47h-5.4zM259.8 494.1h5.4v2.47h-5.4zM292.1 494.1h5.4v2.47h-5.4zM313.6 494.1h5.4v2.47h-5.4zM319 494.1h5.4v2.47h-5.4zM324.4 494.1h5.4v2.47h-5.4zM345.9 494.1h5.4v2.47h-5.4zM356.7 494.1h5.4v2.47h-5.4zM367.5 494.1h5.4v2.47h-5.4zM249 496.6h5.4v2.47h-5.4zM254.4 496.6h5.4v2.47h-5.4zM259.8 496.6h5.4v2.47h-5.4zM265.1 496.6h5.4v2.47h-5.4zM275.9 496.6h5.4v2.47h-5.4zM292.1 496.6h5.4v2.47h-5.4zM308.2 496.6h5.4v2.47h-5.4zM313.6 496.6h5.4v2.47h-5.4zM319 496.6h5.4v2.47h-5.4zM243.6 499h5.4v2.47h-5.4zM259.8 499h5.4v2.47h-5.4zM265.1 499h5.4v2.47h-5.4zM313.6 499h5.4v2.47h-5.4zM319 499h5.4v2.47h-5.4zM324.4 499h5.4v2.47h-5.4zM356.7 499h5.4v2.47h-5.4zM367.5 499h5.4v2.47h-5.4zM372.9 499h5.4v2.47h-5.4zM394.4 499h5.4v2.47h-5.4zM275.9 501.5h5.4v2.47h-5.4zM292.1 501.5h5.4v2.47h-5.4zM345.9 501.5h5.4v2.47h-5.4zM351.3 501.5h5.4v2.47h-5.4zM362.1 501.5h5.4v2.47h-5.4zM389 501.5h5.4v2.47h-5.4zM259.8 504h5.4v2.47h-5.4zM297.5 504h5.4v2.47h-5.4zM302.8 504h5.4v2.47h-5.4zM324.4 504h5.4v2.47h-5.4zM389 504h5.4v2.47h-5.4zM275.9 506.4h5.4v2.47h-5.4zM297.5 506.4h5.4v2.47h-5.4zM308.2 506.4h5.4v2.47h-5.4zM324.4 506.4h5.4v2.47h-5.4zM340.6 506.4h5.4v2.47h-5.4zM383.6 506.4h5.4v2.47h-5.4zM389 506.4h5.4v2.47h-5.4zM249 508.9h5.4v2.47h-5.4zM265.1 508.9h5.4v2.47h-5.4zM286.7 508.9h5.4v2.47h-5.4zM292.1 508.9h5.4v2.47h-5.4zM302.8 508.9h5.4v2.47h-5.4zM319 508.9h5.4v2.47h-5.4zM351.3 508.9h5.4v2.47h-5.4zM372.9 508.9h5.4v2.47h-5.4zM254.4 511.4h5.4v2.47h-5.4zM265.1 511.4h5.4v2.47h-5.4zM324.4 511.4h5.4v2.47h-5.4zM329.8 511.4h5.4v2.47h-5.4zM383.6 511.4h5.4v2.47h-5.4zM389 511.4h5.4v2.47h-5.4zM421.3 511.4h5.4v2.47h-5.4zM243.6 513.8h5.4v2.47h-5.4zM324.4 513.8h5.4v2.47h-5.4zM367.5 513.8h5.4v2.47h-5.4zM378.3 513.8h5.4v2.47h-5.4zM383.6 513.8h5.4v2.47h-5.4zM275.9 516.3h5.4v2.47h-5.4zM281.3 516.3h5.4v2.47h-5.4zM286.7 516.3h5.4v2.47h-5.4zM292.1 516.3h5.4v2.47h-5.4zM313.6 516.3h5.4v2.47h-5.4zM319 516.3h5.4v2.47h-5.4zM335.2 516.3h5.4v2.47h-5.4zM389 516.3h5.4v2.47h-5.4zM394.4 516.3h5.4v2.47h-5.4zM249 518.7h5.4v2.47h-5.4zM254.4 518.7h5.4v2.47h-5.4zM275.9 518.7h5.4v2.47h-5.4zM292.1 518.7h5.4v2.47h-5.4zM308.2 518.7h5.4v2.47h-5.4zM329.8 518.7h5.4v2.47h-5.4zM351.3 518.7h5.4v2.47h-5.4zM356.7 518.7h5.4v2.47h-5.4zM394.4 518.7h5.4v2.47h-5.4zM249 521.2h5.4v2.47h-5.4zM254.4 521.2h5.4v2.47h-5.4zM259.8 521.2h5.4v2.47h-5.4zM270.5 521.2h5.4v2.47h-5.4zM275.9 521.2h5.4v2.47h-5.4zM281.3 521.2h5.4v2.47h-5.4zM308.2 521.2h5.4v2.47h-5.4zM313.6 521.2h5.4v2.47h-5.4zM329.8 521.2h5.4v2.47h-5.4zM367.5 521.2h5.4v2.47h-5.4zM378.3 521.2h5.4v2.47h-5.4zM389 521.2h5.4v2.47h-5.4zM394.4 521.2h5.4v2.47h-5.4zM243.6 523.7h5.4v2.47h-5.4zM275.9 523.7h5.4v2.47h-5.4zM297.5 523.7h5.4v2.47h-5.4zM302.8 523.7h5.4v2.47h-5.4zM313.6 523.7h5.4v2.47h-5.4zM319 523.7h5.4v2.47h-5.4zM362.1 523.7h5.4v2.47h-5.4zM367.5 523.7h5.4v2.47h-5.4zM378.3 523.7h5.4v2.47h-5.4zM389 523.7h5.4v2.47h-5.4zM259.8 526.1h5.4v2.47h-5.4zM265.1 526.1h5.4v2.47h-5.4zM270.5 526.1h5.4v2.47h-5.4zM281.3 526.1h5.4v2.47h-5.4zM286.7 526.1h5.4v2.47h-5.4zM292.1 526.1h5.4v2.47h-5.4zM313.6 526.1h5.4v2.47h-5.4zM319 526.1h5.4v2.47h-5.4zM356.7 526.1h5.4v2.47h-5.4zM362.1 526.1h5.4v2.47h-5.4zM367.5 526.1h5.4v2.47h-5.4zM372.9 526.1h5.4v2.47h-5.4zM378.3 526.1h5.4v2.47h-5.4zM383.6 526.1h5.4v2.47h-5.4zM389 526.1h5.4v2.47h-5.4zM394.4 526.1h5.4v2.47h-5.4zM410.6 526.1h5.4v2.47h-5.4zM426.7 526.1h5.4v2.47h-5.4zM254.4 528.6h5.4v2.47h-5.4zM270.5 528.6h5.4v2.47h-5.4zM292.1 528.6h5.4v2.47h-5.4zM302.8 528.6h5.4v2.47h-5.4zM308.2 528.6h5.4v2.47h-5.4zM329.8 528.6h5.4v2.47h-5.4zM367.5 528.6h5.4v2.47h-5.4zM372.9 528.6h5.4v2.47h-5.4zM410.6 528.6h5.4v2.47h-5.4zM243.6 531h5.4v2.47h-5.4zM254.4 531h5.4v2.47h-5.4zM275.9 531h5.4v2.47h-5.4zM308.2 531h5.4v2.47h-5.4zM313.6 531h5.4v2.47h-5.4zM324.4 531h5.4v2.47h-5.4zM340.6 531h5.4v2.47h-5.4zM345.9 531h5.4v2.47h-5.4zM410.6 531h5.4v2.47h-5.4zM421.3 531h5.4v2.47h-5.4zM432.1 531h5.4v2.47h-5.4z"/><path fill="#e4e4fd" d="M254.4 255.4h5.4v2.47h-5.4zM356.7 255.4h5.4v2.47h-5.4zM254.4 257.9h5.4v2.47h-5.4zM270.5 257.9h5.4v2.47h-5.4zM308.2 257.9h5.4v2.47h-5.4zM265.1 260.3h5.4v2.47h-5.4zM308.2 260.3h5.4v2.47h-5.4zM335.2 260.3h5.4v2.47h-5.4zM356.7 260.3h5.4v2.47h-5.4zM394.4 260.3h5.4v2.47h-5.4zM308.2 262.8h5.4v2.47h-5.4zM319 262.8h5.4v2.47h-5.4zM394.4 262.8h5.4v2.47h-5.4zM399.8 262.8h5.4v2.47h-5.4zM259.8 265.2h5.4v2.47h-5.4zM297.5 265.2h5.4v2.47h-5.4zM308.2 265.2h5.4v2.47h-5.4zM313.6 265.2h5.4v2.47h-5.4zM335.2 265.2h5.4v2.47h-5.4zM356.7 265.2h5.4v2.47h-5.4zM367.5 265.2h5.4v2.47h-5.4zM372.9 265.2h5.4v2.47h-5.4zM383.6 265.2h5.4v2.47h-5.4zM405.2 265.2h5.4v2.47h-5.4zM410.6 265.2h5.4v2.47h-5.4zM426.7 265.2h5.4v2.47h-5.4zM432.1 265.2h5.4v2.47h-5.4zM286.7 267.7h5.4v2.47h-5.4zM297.5 267.7h5.4v2.47h-5.4zM319 267.7h5.4v2.47h-5.4zM324.4 267.7h5.4v2.47h-5.4zM329.8 267.7h5.4v2.47h-5.4zM335.2 267.7h5.4v2.47h-5.4zM351.3 267.7h5.4v2.47h-5.4zM372.9 267.7h5.4v2.47h-5.4zM394.4 267.7h5.4v2.47h-5.4zM426.7 267.7h5.4v2.47h-5.4zM297.5 270.2h5.4v2.47h-5.4zM313.6 270.2h5.4v2.47h-5.4zM362.1 270.2h5.4v2.47h-5.4zM416 270.2h5.4v2.47h-5.4zM297.5 272.6h5.4v2.47h-5.4zM302.8 272.6h5.4v2.47h-5.4zM319 272.6h5.4v2.47h-5.4zM356.7 272.6h5.4v2.47h-5.4zM367.5 272.6h5.4v2.47h-5.4zM416 272.6h5.4v2.47h-5.4zM421.3 272.6h5.4v2.47h-5.4zM426.7 272.6h5.4v2.47h-5.4zM345.9 275.1h5.4v2.47h-5.4zM372.9 275.1h5.4v2.47h-5.4zM383.6 275.1h5.4v2.47h-5.4zM416 275.1h5.4v2.47h-5.4zM421.3 275.1h5.4v2.47h-5.4zM302.8 277.5h5.4v2.47h-5.4zM329.8 277.5h5.4v2.47h-5.4zM335.2 277.5h5.4v2.47h-5.4zM351.3 277.5h5.4v2.47h-5.4zM383.6 277.5h5.4v2.47h-5.4zM416 277.5h5.4v2.47h-5.4zM356.7 280h5.4v2.47h-5.4zM405.2 280h5.4v2.47h-5.4zM302.8 282.5h5.4v2.47h-5.4zM335.2 282.5h5.4v2.47h-5.4zM432.1 282.5h5.4v2.47h-5.4zM243.6 284.9h5.4v2.47h-5.4zM275.9 284.9h5.4v2.47h-5.4zM302.8 284.9h5.4v2.47h-5.4zM319 284.9h5.4v2.47h-5.4zM356.7 284.9h5.4v2.47h-5.4zM367.5 284.9h5.4v2.47h-5.4zM275.9 287.4h5.4v2.47h-5.4zM281.3 287.4h5.4v2.47h-5.4zM351.3 287.4h5.4v2.47h-5.4zM389 287.4h5.4v2.47h-5.4zM345.9 289.9h5.4v2.47h-5.4zM367.5 289.9h5.4v2.47h-5.4zM394.4 289.9h5.4v2.47h-5.4zM399.8 289.9h5.4v2.47h-5.4zM421.3 289.9h5.4v2.47h-5.4zM275.9 294.8h5.4v2.47h-5.4zM308.2 294.8h5.4v2.47h-5.4zM319 294.8h5.4v2.47h-5.4zM340.6 294.8h5.4v2.47h-5.4zM405.2 294.8h5.4v2.47h-5.4zM432.1 294.8h5.4v2.47h-5.4zM297.5 297.2h5.4v2.47h-5.4zM302.8 297.2h5.4v2.47h-5.4zM383.6 297.2h5.4v2.47h-5.4zM319 299.7h5.4v2.47h-5.4zM421.3 299.7h5.4v2.47h-5.4zM432.1 299.7h5.4v2.47h-5.4zM356.7 302.2h5.4v2.47h-5.4zM383.6 302.2h5.4v2.47h-5.4zM297.5 304.6h5.4v2.47h-5.4zM313.6 304.6h5.4v2.47h-5.4zM329.8 304.6h5.4v2.47h-5.4zM356.7 304.6h5.4v2.47h-5.4zM367.5 304.6h5.4v2.47h-5.4zM421.3 304.6h5.4v2.47h-5.4zM426.7 304.6h5.4v2.47h-5.4zM275.9 307.1h5.4v2.47h-5.4zM302.8 307.1h5.4v2.47h-5.4zM319 307.1h5.4v2.47h-5.4zM324.4 307.1h5.4v2.47h-5.4zM356.7 307.1h5.4v2.47h-5.4zM416 307.1h5.4v2.47h-5.4zM319 309.5h5.4v2.47h-5.4zM329.8 309.5h5.4v2.47h-5.4zM335.2 309.5h5.4v2.47h-5.4zM372.9 309.5h5.4v2.47h-5.4zM410.6 309.5h5.4v2.47h-5.4zM416 309.5h5.4v2.47h-5.4zM432.1 309.5h5.4v2.47h-5.4zM286.7 312h5.4v2.47h-5.4zM324.4 312h5.4v2.47h-5.4zM372.9 312h5.4v2.47h-5.4zM410.6 312h5.4v2.47h-5.4zM421.3 314.5h5.4v2.47h-5.4zM426.7 314.5h5.4v2.47h-5.4zM308.2 316.9h5.4v2.47h-5.4zM345.9 316.9h5.4v2.47h-5.4zM399.8 316.9h5.4v2.47h-5.4zM405.2 316.9h5.4v2.47h-5.4zM410.6 316.9h5.4v2.47h-5.4zM416 316.9h5.4v2.47h-5.4zM281.3 319.4h5.4v2.47h-5.4zM302.8 319.4h5.4v2.47h-5.4zM313.6 319.4h5.4v2.47h-5.4zM319 319.4h5.4v2.47h-5.4zM356.7 319.4h5.4v2.47h-5.4zM383.6 319.4h5.4v2.47h-5.4zM394.4 319.4h5.4v2.47h-5.4zM399.8 319.4h5.4v2.47h-5.4zM275.9 321.8h5.4v2.47h-5.4zM367.5 321.8h5.4v2.47h-5.4zM394.4 321.8h5.4v2.47h-5.4zM432.1 321.8h5.4v2.47h-5.4zM345.9 324.3h5.4v2.47h-5.4zM378.3 324.3h5.4v2.47h-5.4zM389 324.3h5.4v2.47h-5.4zM399.8 324.3h5.4v2.47h-5.4zM426.7 324.3h5.4v2.47h-5.4zM275.9 326.8h5.4v2.47h-5.4zM362.1 326.8h5.4v2.47h-5.4zM378.3 326.8h5.4v2.47h-5.4zM405.2 326.8h5.4v2.47h-5.4zM410.6 326.8h5.4v2.47h-5.4zM416 326.8h5.4v2.47h-5.4zM367.5 329.2h5.4v2.47h-5.4zM378.3 329.2h5.4v2.47h-5.4zM389 329.2h5.4v2.47h-5.4zM410.6 329.2h5.4v2.47h-5.4zM275.9 331.7h5.4v2.47h-5.4zM367.5 331.7h5.4v2.47h-5.4zM372.9 331.7h5.4v2.47h-5.4zM405.2 331.7h5.4v2.47h-5.4zM426.7 331.7h5.4v2.47h-5.4zM432.1 331.7h5.4v2.47h-5.4zM378.3 334.2h5.4v2.47h-5.4zM383.6 334.2h5.4v2.47h-5.4zM389 334.2h5.4v2.47h-5.4zM416 334.2h5.4v2.47h-5.4zM372.9 336.6h5.4v2.47h-5.4zM410.6 336.6h5.4v2.47h-5.4zM426.7 336.6h5.4v2.47h-5.4zM367.5 339.1h5.4v2.47h-5.4zM405.2 339.1h5.4v2.47h-5.4zM426.7 339.1h5.4v2.47h-5.4zM254.4 341.5h5.4v2.47h-5.4zM335.2 341.5h5.4v2.47h-5.4zM356.7 341.5h5.4v2.47h-5.4zM372.9 341.5h5.4v2.47h-5.4zM378.3 341.5h5.4v2.47h-5.4zM399.8 341.5h5.4v2.47h-5.4zM426.7 341.5h5.4v2.47h-5.4zM275.9 344h5.4v2.47h-5.4zM372.9 344h5.4v2.47h-5.4zM399.8 344h5.4v2.47h-5.4zM410.6 344h5.4v2.47h-5.4zM432.1 344h5.4v2.47h-5.4zM275.9 346.5h5.4v2.47h-5.4zM281.3 346.5h5.4v2.47h-5.4zM324.4 346.5h5.4v2.47h-5.4zM335.2 346.5h5.4v2.47h-5.4zM340.6 346.5h5.4v2.47h-5.4zM356.7 346.5h5.4v2.47h-5.4zM362.1 346.5h5.4v2.47h-5.4zM389 346.5h5.4v2.47h-5.4zM399.8 346.5h5.4v2.47h-5.4zM410.6 346.5h5.4v2.47h-5.4zM432.1 346.5h5.4v2.47h-5.4zM335.2 348.9h5.4v2.47h-5.4zM362.1 348.9h5.4v2.47h-5.4zM421.3 348.9h5.4v2.47h-5.4zM426.7 348.9h5.4v2.47h-5.4zM432.1 348.9h5.4v2.47h-5.4zM281.3 351.4h5.4v2.47h-5.4zM335.2 351.4h5.4v2.47h-5.4zM340.6 351.4h5.4v2.47h-5.4zM356.7 351.4h5.4v2.47h-5.4zM378.3 351.4h5.4v2.47h-5.4zM389 351.4h5.4v2.47h-5.4zM302.8 353.8h5.4v2.47h-5.4zM356.7 353.8h5.4v2.47h-5.4zM399.8 353.8h5.4v2.47h-5.4zM405.2 353.8h5.4v2.47h-5.4zM432.1 353.8h5.4v2.47h-5.4zM351.3 356.3h5.4v2.47h-5.4zM389 356.3h5.4v2.47h-5.4zM281.3 358.8h5.4v2.47h-5.4zM383.6 358.8h5.4v2.47h-5.4zM399.8 358.8h5.4v2.47h-5.4zM410.6 358.8h5.4v2.47h-5.4zM394.4 361.2h5.4v2.47h-5.4zM410.6 361.2h5.4v2.47h-5.4zM281.3 366.1h5.4v2.47h-5.4zM351.3 366.1h5.4v2.47h-5.4zM367.5 366.1h5.4v2.47h-5.4zM378.3 366.1h5.4v2.47h-5.4zM389 366.1h5.4v2.47h-5.4zM399.8 366.1h5.4v2.47h-5.4zM286.7 368.6h5.4v2.47h-5.4zM308.2 368.6h5.4v2.47h-5.4zM383.6 368.6h5.4v2.47h-5.4zM265.1 371.1h5.4v2.47h-5.4zM286.7 371.1h5.4v2.47h-5.4zM292.1 371.1h5.4v2.47h-5.4zM313.6 371.1h5.4v2.47h-5.4zM319 371.1h5.4v2.47h-5.4zM345.9 371.1h5.4v2.47h-5.4zM383.6 371.1h5.4v2.47h-5.4zM389 371.1h5.4v2.47h-5.4zM399.8 371.1h5.4v2.47h-5.4zM421.3 371.1h5.4v2.47h-5.4zM265.1 373.5h5.4v2.47h-5.4zM270.5 373.5h5.4v2.47h-5.4zM297.5 373.5h5.4v2.47h-5.4zM313.6 373.5h5.4v2.47h-5.4zM319 373.5h5.4v2.47h-5.4zM340.6 373.5h5.4v2.47h-5.4zM351.3 373.5h5.4v2.47h-5.4zM356.7 373.5h5.4v2.47h-5.4zM389 373.5h5.4v2.47h-5.4zM399.8 373.5h5.4v2.47h-5.4zM410.6 373.5h5.4v2.47h-5.4zM426.7 373.5h5.4v2.47h-5.4zM432.1 373.5h5.4v2.47h-5.4zM265.1 376h5.4v2.47h-5.4zM275.9 376h5.4v2.47h-5.4zM302.8 376h5.4v2.47h-5.4zM405.2 376h5.4v2.47h-5.4zM410.6 376h5.4v2.47h-5.4zM416 376h5.4v2.47h-5.4zM432.1 376h5.4v2.47h-5.4zM275.9 378.5h5.4v2.47h-5.4zM281.3 378.5h5.4v2.47h-5.4zM286.7 378.5h5.4v2.47h-5.4zM302.8 378.5h5.4v2.47h-5.4zM319 378.5h5.4v2.47h-5.4zM324.4 378.5h5.4v2.47h-5.4zM335.2 378.5h5.4v2.47h-5.4zM372.9 378.5h5.4v2.47h-5.4zM389 378.5h5.4v2.47h-5.4zM394.4 378.5h5.4v2.47h-5.4zM416 378.5h5.4v2.47h-5.4zM426.7 378.5h5.4v2.47h-5.4zM275.9 380.9h5.4v2.47h-5.4zM292.1 380.9h5.4v2.47h-5.4zM297.5 380.9h5.4v2.47h-5.4zM313.6 380.9h5.4v2.47h-5.4zM383.6 380.9h5.4v2.47h-5.4zM399.8 380.9h5.4v2.47h-5.4zM302.8 383.4h5.4v2.47h-5.4zM308.2 383.4h5.4v2.47h-5.4zM367.5 383.4h5.4v2.47h-5.4zM372.9 383.4h5.4v2.47h-5.4zM389 383.4h5.4v2.47h-5.4zM394.4 383.4h5.4v2.47h-5.4zM275.9 385.8h5.4v2.47h-5.4zM281.3 385.8h5.4v2.47h-5.4zM389 385.8h5.4v2.47h-5.4zM405.2 385.8h5.4v2.47h-5.4zM416 385.8h5.4v2.47h-5.4zM421.3 385.8h5.4v2.47h-5.4zM292.1 388.3h5.4v2.47h-5.4zM324.4 388.3h5.4v2.47h-5.4zM329.8 388.3h5.4v2.47h-5.4zM335.2 388.3h5.4v2.47h-5.4zM362.1 388.3h5.4v2.47h-5.4zM372.9 388.3h5.4v2.47h-5.4zM389 388.3h5.4v2.47h-5.4zM405.2 388.3h5.4v2.47h-5.4zM421.3 388.3h5.4v2.47h-5.4zM432.1 388.3h5.4v2.47h-5.4zM281.3 390.8h5.4v2.47h-5.4zM319 390.8h5.4v2.47h-5.4zM324.4 390.8h5.4v2.47h-5.4zM383.6 390.8h5.4v2.47h-5.4zM405.2 390.8h5.4v2.47h-5.4zM416 390.8h5.4v2.47h-5.4zM426.7 390.8h5.4v2.47h-5.4zM292.1 393.2h5.4v2.47h-5.4zM297.5 393.2h5.4v2.47h-5.4zM319 393.2h5.4v2.47h-5.4zM329.8 393.2h5.4v2.47h-5.4zM335.2 393.2h5.4v2.47h-5.4zM378.3 393.2h5.4v2.47h-5.4zM389 393.2h5.4v2.47h-5.4zM421.3 393.2h5.4v2.47h-5.4zM426.7 393.2h5.4v2.47h-5.4zM281.3 395.7h5.4v2.47h-5.4zM302.8 395.7h5.4v2.47h-5.4zM313.6 395.7h5.4v2.47h-5.4zM324.4 395.7h5.4v2.47h-5.4zM345.9 395.7h5.4v2.47h-5.4zM394.4 395.7h5.4v2.47h-5.4zM426.7 395.7h5.4v2.47h-5.4zM432.1 395.7h5.4v2.47h-5.4zM313.6 398.1h5.4v2.47h-5.4zM324.4 398.1h5.4v2.47h-5.4zM356.7 398.1h5.4v2.47h-5.4zM378.3 398.1h5.4v2.47h-5.4zM389 398.1h5.4v2.47h-5.4zM292.1 400.6h5.4v2.47h-5.4zM319 400.6h5.4v2.47h-5.4zM324.4 400.6h5.4v2.47h-5.4zM356.7 400.6h5.4v2.47h-5.4zM362.1 400.6h5.4v2.47h-5.4zM372.9 400.6h5.4v2.47h-5.4zM378.3 400.6h5.4v2.47h-5.4zM383.6 400.6h5.4v2.47h-5.4zM302.8 403.1h5.4v2.47h-5.4zM308.2 403.1h5.4v2.47h-5.4zM319 403.1h5.4v2.47h-5.4zM324.4 403.1h5.4v2.47h-5.4zM329.8 403.1h5.4v2.47h-5.4zM362.1 403.1h5.4v2.47h-5.4zM405.2 403.1h5.4v2.47h-5.4zM426.7 403.1h5.4v2.47h-5.4zM432.1 403.1h5.4v2.47h-5.4zM286.7 405.5h5.4v2.47h-5.4zM313.6 405.5h5.4v2.47h-5.4zM324.4 405.5h5.4v2.47h-5.4zM351.3 405.5h5.4v2.47h-5.4zM356.7 405.5h5.4v2.47h-5.4zM383.6 405.5h5.4v2.47h-5.4zM389 405.5h5.4v2.47h-5.4zM399.8 405.5h5.4v2.47h-5.4zM432.1 405.5h5.4v2.47h-5.4zM308.2 408h5.4v2.47h-5.4zM313.6 408h5.4v2.47h-5.4zM324.4 408h5.4v2.47h-5.4zM345.9 408h5.4v2.47h-5.4zM356.7 408h5.4v2.47h-5.4zM367.5 408h5.4v2.47h-5.4zM383.6 408h5.4v2.47h-5.4zM405.2 408h5.4v2.47h-5.4zM416 408h5.4v2.47h-5.4zM313.6 410.4h5.4v2.47h-5.4zM324.4 410.4h5.4v2.47h-5.4zM345.9 410.4h5.4v2.47h-5.4zM356.7 410.4h5.4v2.47h-5.4zM367.5 410.4h5.4v2.47h-5.4zM383.6 410.4h5.4v2.47h-5.4zM389 410.4h5.4v2.47h-5.4zM410.6 410.4h5.4v2.47h-5.4zM416 410.4h5.4v2.47h-5.4zM275.9 412.9h5.4v2.47h-5.4zM324.4 412.9h5.4v2.47h-5.4zM335.2 412.9h5.4v2.47h-5.4zM340.6 412.9h5.4v2.47h-5.4zM356.7 412.9h5.4v2.47h-5.4zM362.1 412.9h5.4v2.47h-5.4zM383.6 412.9h5.4v2.47h-5.4zM399.8 412.9h5.4v2.47h-5.4zM275.9 415.4h5.4v2.47h-5.4zM329.8 415.4h5.4v2.47h-5.4zM351.3 415.4h5.4v2.47h-5.4zM389 415.4h5.4v2.47h-5.4zM297.5 417.8h5.4v2.47h-5.4zM302.8 417.8h5.4v2.47h-5.4zM372.9 417.8h5.4v2.47h-5.4zM410.6 417.8h5.4v2.47h-5.4zM421.3 417.8h5.4v2.47h-5.4zM286.7 420.3h5.4v2.47h-5.4zM297.5 420.3h5.4v2.47h-5.4zM302.8 420.3h5.4v2.47h-5.4zM308.2 420.3h5.4v2.47h-5.4zM313.6 420.3h5.4v2.47h-5.4zM319 420.3h5.4v2.47h-5.4zM335.2 420.3h5.4v2.47h-5.4zM340.6 420.3h5.4v2.47h-5.4zM345.9 420.3h5.4v2.47h-5.4zM378.3 420.3h5.4v2.47h-5.4zM383.6 420.3h5.4v2.47h-5.4zM410.6 420.3h5.4v2.47h-5.4zM432.1 420.3h5.4v2.47h-5.4zM335.2 422.8h5.4v2.47h-5.4zM345.9 422.8h5.4v2.47h-5.4zM421.3 422.8h5.4v2.47h-5.4zM421.3 425.2h5.4v2.47h-5.4zM243.6 427.7h5.4v2.47h-5.4zM281.3 427.7h5.4v2.47h-5.4zM340.6 427.7h5.4v2.47h-5.4zM345.9 427.7h5.4v2.47h-5.4zM356.7 427.7h5.4v2.47h-5.4zM421.3 427.7h5.4v2.47h-5.4zM432.1 427.7h5.4v2.47h-5.4zM335.2 430.1h5.4v2.47h-5.4zM345.9 430.1h5.4v2.47h-5.4zM399.8 430.1h5.4v2.47h-5.4zM410.6 430.1h5.4v2.47h-5.4zM432.1 430.1h5.4v2.47h-5.4zM281.3 432.6h5.4v2.47h-5.4zM351.3 432.6h5.4v2.47h-5.4zM362.1 432.6h5.4v2.47h-5.4zM378.3 432.6h5.4v2.47h-5.4zM389 432.6h5.4v2.47h-5.4zM405.2 432.6h5.4v2.47h-5.4zM416 432.6h5.4v2.47h-5.4zM335.2 435.1h5.4v2.47h-5.4zM351.3 435.1h5.4v2.47h-5.4zM410.6 435.1h5.4v2.47h-5.4zM426.7 435.1h5.4v2.47h-5.4zM275.9 437.5h5.4v2.47h-5.4zM329.8 437.5h5.4v2.47h-5.4zM335.2 437.5h5.4v2.47h-5.4zM362.1 437.5h5.4v2.47h-5.4zM372.9 437.5h5.4v2.47h-5.4zM394.4 437.5h5.4v2.47h-5.4zM421.3 437.5h5.4v2.47h-5.4zM432.1 437.5h5.4v2.47h-5.4zM281.3 440h5.4v2.47h-5.4zM335.2 440h5.4v2.47h-5.4zM372.9 440h5.4v2.47h-5.4zM432.1 440h5.4v2.47h-5.4zM335.2 442.4h5.4v2.47h-5.4zM378.3 442.4h5.4v2.47h-5.4zM389 442.4h5.4v2.47h-5.4zM405.2 442.4h5.4v2.47h-5.4zM416 442.4h5.4v2.47h-5.4zM426.7 442.4h5.4v2.47h-5.4zM432.1 442.4h5.4v2.47h-5.4zM275.9 444.9h5.4v2.47h-5.4zM329.8 444.9h5.4v2.47h-5.4zM410.6 444.9h5.4v2.47h-5.4zM421.3 447.4h5.4v2.47h-5.4zM351.3 449.8h5.4v2.47h-5.4zM389 449.8h5.4v2.47h-5.4zM416 449.8h5.4v2.47h-5.4zM426.7 449.8h5.4v2.47h-5.4zM281.3 452.3h5.4v2.47h-5.4zM308.2 452.3h5.4v2.47h-5.4zM410.6 452.3h5.4v2.47h-5.4zM308.2 454.7h5.4v2.47h-5.4zM324.4 454.7h5.4v2.47h-5.4zM345.9 454.7h5.4v2.47h-5.4zM421.3 454.7h5.4v2.47h-5.4zM265.1 457.2h5.4v2.47h-5.4zM270.5 457.2h5.4v2.47h-5.4zM281.3 457.2h5.4v2.47h-5.4zM286.7 457.2h5.4v2.47h-5.4zM297.5 457.2h5.4v2.47h-5.4zM313.6 457.2h5.4v2.47h-5.4zM319 457.2h5.4v2.47h-5.4zM405.2 457.2h5.4v2.47h-5.4zM410.6 457.2h5.4v2.47h-5.4zM432.1 457.2h5.4v2.47h-5.4zM259.8 459.7h5.4v2.47h-5.4zM270.5 459.7h5.4v2.47h-5.4zM308.2 459.7h5.4v2.47h-5.4zM313.6 459.7h5.4v2.47h-5.4zM319 459.7h5.4v2.47h-5.4zM335.2 459.7h5.4v2.47h-5.4zM249 462.1h5.4v2.47h-5.4zM270.5 462.1h5.4v2.47h-5.4zM292.1 462.1h5.4v2.47h-5.4zM319 462.1h5.4v2.47h-5.4zM389 462.1h5.4v2.47h-5.4zM421.3 462.1h5.4v2.47h-5.4zM292.1 464.6h5.4v2.47h-5.4zM313.6 464.6h5.4v2.47h-5.4zM335.2 464.6h5.4v2.47h-5.4zM345.9 464.6h5.4v2.47h-5.4zM362.1 464.6h5.4v2.47h-5.4zM367.5 464.6h5.4v2.47h-5.4zM378.3 464.6h5.4v2.47h-5.4zM383.6 464.6h5.4v2.47h-5.4zM275.9 467.1h5.4v2.47h-5.4zM292.1 467.1h5.4v2.47h-5.4zM319 467.1h5.4v2.47h-5.4zM324.4 467.1h5.4v2.47h-5.4zM275.9 469.5h5.4v2.47h-5.4zM308.2 469.5h5.4v2.47h-5.4zM313.6 469.5h5.4v2.47h-5.4zM319 469.5h5.4v2.47h-5.4zM324.4 469.5h5.4v2.47h-5.4zM356.7 469.5h5.4v2.47h-5.4zM389 469.5h5.4v2.47h-5.4zM410.6 469.5h5.4v2.47h-5.4zM270.5 472h5.4v2.47h-5.4zM286.7 472h5.4v2.47h-5.4zM297.5 472h5.4v2.47h-5.4zM302.8 472h5.4v2.47h-5.4zM324.4 472h5.4v2.47h-5.4zM362.1 472h5.4v2.47h-5.4zM394.4 472h5.4v2.47h-5.4zM297.5 474.4h5.4v2.47h-5.4zM340.6 474.4h5.4v2.47h-5.4zM362.1 474.4h5.4v2.47h-5.4zM367.5 474.4h5.4v2.47h-5.4zM383.6 474.4h5.4v2.47h-5.4zM399.8 474.4h5.4v2.47h-5.4zM243.6 476.9h5.4v2.47h-5.4zM292.1 476.9h5.4v2.47h-5.4zM297.5 476.9h5.4v2.47h-5.4zM275.9 479.4h5.4v2.47h-5.4zM313.6 479.4h5.4v2.47h-5.4zM319 479.4h5.4v2.47h-5.4zM243.6 481.8h5.4v2.47h-5.4zM249 481.8h5.4v2.47h-5.4zM275.9 481.8h5.4v2.47h-5.4zM302.8 481.8h5.4v2.47h-5.4zM308.2 481.8h5.4v2.47h-5.4zM329.8 481.8h5.4v2.47h-5.4zM335.2 481.8h5.4v2.47h-5.4zM286.7 484.3h5.4v2.47h-5.4zM292.1 484.3h5.4v2.47h-5.4zM297.5 484.3h5.4v2.47h-5.4zM302.8 484.3h5.4v2.47h-5.4zM308.2 484.3h5.4v2.47h-5.4zM324.4 484.3h5.4v2.47h-5.4zM335.2 484.3h5.4v2.47h-5.4zM286.7 486.7h5.4v2.47h-5.4zM297.5 486.7h5.4v2.47h-5.4zM302.8 486.7h5.4v2.47h-5.4zM308.2 486.7h5.4v2.47h-5.4zM329.8 486.7h5.4v2.47h-5.4zM362.1 486.7h5.4v2.47h-5.4zM249 489.2h5.4v2.47h-5.4zM254.4 489.2h5.4v2.47h-5.4zM265.1 489.2h5.4v2.47h-5.4zM275.9 489.2h5.4v2.47h-5.4zM286.7 489.2h5.4v2.47h-5.4zM292.1 489.2h5.4v2.47h-5.4zM297.5 489.2h5.4v2.47h-5.4zM319 489.2h5.4v2.47h-5.4zM324.4 489.2h5.4v2.47h-5.4zM356.7 489.2h5.4v2.47h-5.4zM281.3 491.7h5.4v2.47h-5.4zM297.5 491.7h5.4v2.47h-5.4zM308.2 491.7h5.4v2.47h-5.4zM313.6 491.7h5.4v2.47h-5.4zM356.7 491.7h5.4v2.47h-5.4zM362.1 491.7h5.4v2.47h-5.4zM249 494.1h5.4v2.47h-5.4zM254.4 494.1h5.4v2.47h-5.4zM265.1 494.1h5.4v2.47h-5.4zM308.2 494.1h5.4v2.47h-5.4zM362.1 494.1h5.4v2.47h-5.4zM378.3 494.1h5.4v2.47h-5.4zM383.6 494.1h5.4v2.47h-5.4zM270.5 496.6h5.4v2.47h-5.4zM297.5 496.6h5.4v2.47h-5.4zM302.8 496.6h5.4v2.47h-5.4zM335.2 496.6h5.4v2.47h-5.4zM372.9 496.6h5.4v2.47h-5.4zM383.6 496.6h5.4v2.47h-5.4zM249 499h5.4v2.47h-5.4zM254.4 499h5.4v2.47h-5.4zM270.5 499h5.4v2.47h-5.4zM275.9 499h5.4v2.47h-5.4zM286.7 499h5.4v2.47h-5.4zM297.5 499h5.4v2.47h-5.4zM302.8 499h5.4v2.47h-5.4zM378.3 499h5.4v2.47h-5.4zM389 499h5.4v2.47h-5.4zM243.6 501.5h5.4v2.47h-5.4zM254.4 501.5h5.4v2.47h-5.4zM270.5 501.5h5.4v2.47h-5.4zM286.7 501.5h5.4v2.47h-5.4zM297.5 501.5h5.4v2.47h-5.4zM302.8 501.5h5.4v2.47h-5.4zM340.6 501.5h5.4v2.47h-5.4zM249 504h5.4v2.47h-5.4zM270.5 504h5.4v2.47h-5.4zM275.9 504h5.4v2.47h-5.4zM281.3 504h5.4v2.47h-5.4zM308.2 504h5.4v2.47h-5.4zM319 504h5.4v2.47h-5.4zM362.1 504h5.4v2.47h-5.4zM416 504h5.4v2.47h-5.4zM254.4 506.4h5.4v2.47h-5.4zM265.1 506.4h5.4v2.47h-5.4zM270.5 506.4h5.4v2.47h-5.4zM286.7 506.4h5.4v2.47h-5.4zM345.9 506.4h5.4v2.47h-5.4zM367.5 506.4h5.4v2.47h-5.4zM372.9 506.4h5.4v2.47h-5.4zM254.4 508.9h5.4v2.47h-5.4zM297.5 508.9h5.4v2.47h-5.4zM308.2 508.9h5.4v2.47h-5.4zM313.6 508.9h5.4v2.47h-5.4zM324.4 508.9h5.4v2.47h-5.4zM329.8 508.9h5.4v2.47h-5.4zM345.9 508.9h5.4v2.47h-5.4zM389 508.9h5.4v2.47h-5.4zM249 511.4h5.4v2.47h-5.4zM286.7 511.4h5.4v2.47h-5.4zM308.2 511.4h5.4v2.47h-5.4zM254.4 513.8h5.4v2.47h-5.4zM259.8 513.8h5.4v2.47h-5.4zM292.1 513.8h5.4v2.47h-5.4zM345.9 513.8h5.4v2.47h-5.4zM372.9 513.8h5.4v2.47h-5.4zM243.6 516.3h5.4v2.47h-5.4zM249 516.3h5.4v2.47h-5.4zM265.1 516.3h5.4v2.47h-5.4zM308.2 516.3h5.4v2.47h-5.4zM329.8 516.3h5.4v2.47h-5.4zM340.6 516.3h5.4v2.47h-5.4zM345.9 516.3h5.4v2.47h-5.4zM351.3 516.3h5.4v2.47h-5.4zM356.7 516.3h5.4v2.47h-5.4zM362.1 516.3h5.4v2.47h-5.4zM367.5 516.3h5.4v2.47h-5.4zM372.9 516.3h5.4v2.47h-5.4zM416 516.3h5.4v2.47h-5.4zM432.1 516.3h5.4v2.47h-5.4zM259.8 518.7h5.4v2.47h-5.4zM281.3 518.7h5.4v2.47h-5.4zM302.8 518.7h5.4v2.47h-5.4zM313.6 518.7h5.4v2.47h-5.4zM319 518.7h5.4v2.47h-5.4zM389 518.7h5.4v2.47h-5.4zM243.6 521.2h5.4v2.47h-5.4zM286.7 521.2h5.4v2.47h-5.4zM292.1 521.2h5.4v2.47h-5.4zM302.8 521.2h5.4v2.47h-5.4zM319 521.2h5.4v2.47h-5.4zM345.9 521.2h5.4v2.47h-5.4zM351.3 521.2h5.4v2.47h-5.4zM362.1 521.2h5.4v2.47h-5.4zM383.6 521.2h5.4v2.47h-5.4zM249 523.7h5.4v2.47h-5.4zM254.4 523.7h5.4v2.47h-5.4zM286.7 523.7h5.4v2.47h-5.4zM308.2 523.7h5.4v2.47h-5.4zM329.8 523.7h5.4v2.47h-5.4zM356.7 523.7h5.4v2.47h-5.4zM254.4 526.1h5.4v2.47h-5.4zM302.8 526.1h5.4v2.47h-5.4zM329.8 526.1h5.4v2.47h-5.4zM345.9 526.1h5.4v2.47h-5.4zM399.8 526.1h5.4v2.47h-5.4zM265.1 528.6h5.4v2.47h-5.4zM275.9 528.6h5.4v2.47h-5.4zM286.7 528.6h5.4v2.47h-5.4zM351.3 528.6h5.4v2.47h-5.4zM356.7 528.6h5.4v2.47h-5.4zM362.1 528.6h5.4v2.47h-5.4zM389 528.6h5.4v2.47h-5.4zM394.4 528.6h5.4v2.47h-5.4zM399.8 528.6h5.4v2.47h-5.4zM416 528.6h5.4v2.47h-5.4zM421.3 528.6h5.4v2.47h-5.4zM426.7 528.6h5.4v2.47h-5.4zM432.1 528.6h5.4v2.47h-5.4zM249 531h5.4v2.47h-5.4zM259.8 531h5.4v2.47h-5.4zM270.5 531h5.4v2.47h-5.4zM281.3 531h5.4v2.47h-5.4zM286.7 531h5.4v2.47h-5.4zM292.1 531h5.4v2.47h-5.4zM319 531h5.4v2.47h-5.4zM362.1 531h5.4v2.47h-5.4zM372.9 531h5.4v2.47h-5.4zM389 531h5.4v2.47h-5.4zM394.4 531h5.4v2.47h-5.4zM405.2 531h5.4v2.47h-5.4z"/><path fill="#efeffe" d="M249 255.4h5.4v2.47h-5.4zM297.5 255.4h5.4v2.47h-5.4zM324.4 255.4h5.4v2.47h-5.4zM416 255.4h5.4v2.47h-5.4zM426.7 255.4h5.4v2.47h-5.4zM329.8 257.9h5.4v2.47h-5.4zM249 260.3h5.4v2.47h-5.4zM324.4 260.3h5.4v2.47h-5.4zM421.3 260.3h5.4v2.47h-5.4zM254.4 262.8h5.4v2.47h-5.4zM265.1 262.8h5.4v2.47h-5.4zM362.1 262.8h5.4v2.47h-5.4zM243.6 265.2h5.4v2.47h-5.4zM265.1 265.2h5.4v2.47h-5.4zM302.8 265.2h5.4v2.47h-5.4zM319 265.2h5.4v2.47h-5.4zM324.4 265.2h5.4v2.47h-5.4zM329.8 265.2h5.4v2.47h-5.4zM254.4 267.7h5.4v2.47h-5.4zM302.8 267.7h5.4v2.47h-5.4zM308.2 267.7h5.4v2.47h-5.4zM410.6 267.7h5.4v2.47h-5.4zM243.6 270.2h5.4v2.47h-5.4zM319 270.2h5.4v2.47h-5.4zM324.4 270.2h5.4v2.47h-5.4zM329.8 270.2h5.4v2.47h-5.4zM345.9 270.2h5.4v2.47h-5.4zM292.1 272.6h5.4v2.47h-5.4zM329.8 275.1h5.4v2.47h-5.4zM362.1 275.1h5.4v2.47h-5.4zM259.8 277.5h5.4v2.47h-5.4zM319 277.5h5.4v2.47h-5.4zM340.6 277.5h5.4v2.47h-5.4zM243.6 280h5.4v2.47h-5.4zM313.6 280h5.4v2.47h-5.4zM324.4 280h5.4v2.47h-5.4zM329.8 280h5.4v2.47h-5.4zM249 284.9h5.4v2.47h-5.4zM265.1 284.9h5.4v2.47h-5.4zM270.5 284.9h5.4v2.47h-5.4zM281.3 284.9h5.4v2.47h-5.4zM292.1 284.9h5.4v2.47h-5.4zM308.2 284.9h5.4v2.47h-5.4zM335.2 284.9h5.4v2.47h-5.4zM421.3 284.9h5.4v2.47h-5.4zM302.8 287.4h5.4v2.47h-5.4zM335.2 287.4h5.4v2.47h-5.4zM275.9 289.9h5.4v2.47h-5.4zM281.3 289.9h5.4v2.47h-5.4zM329.8 289.9h5.4v2.47h-5.4zM265.1 292.3h5.4v2.47h-5.4zM329.8 292.3h5.4v2.47h-5.4zM405.2 292.3h5.4v2.47h-5.4zM313.6 294.8h5.4v2.47h-5.4zM297.5 299.7h5.4v2.47h-5.4zM308.2 299.7h5.4v2.47h-5.4zM324.4 299.7h5.4v2.47h-5.4zM302.8 302.2h5.4v2.47h-5.4zM308.2 302.2h5.4v2.47h-5.4zM319 302.2h5.4v2.47h-5.4zM265.1 304.6h5.4v2.47h-5.4zM319 304.6h5.4v2.47h-5.4zM324.4 304.6h5.4v2.47h-5.4zM308.2 307.1h5.4v2.47h-5.4zM281.3 309.5h5.4v2.47h-5.4zM302.8 309.5h5.4v2.47h-5.4zM313.6 309.5h5.4v2.47h-5.4zM297.5 312h5.4v2.47h-5.4zM308.2 312h5.4v2.47h-5.4zM319 312h5.4v2.47h-5.4zM329.8 312h5.4v2.47h-5.4zM319 314.5h5.4v2.47h-5.4zM324.4 314.5h5.4v2.47h-5.4zM345.9 314.5h5.4v2.47h-5.4zM265.1 316.9h5.4v2.47h-5.4zM275.9 316.9h5.4v2.47h-5.4zM405.2 319.4h5.4v2.47h-5.4zM356.7 321.8h5.4v2.47h-5.4zM275.9 324.3h5.4v2.47h-5.4zM329.8 324.3h5.4v2.47h-5.4zM308.2 326.8h5.4v2.47h-5.4zM335.2 329.2h5.4v2.47h-5.4zM313.6 331.7h5.4v2.47h-5.4zM335.2 336.6h5.4v2.47h-5.4zM329.8 341.5h5.4v2.47h-5.4zM340.6 341.5h5.4v2.47h-5.4zM281.3 348.9h5.4v2.47h-5.4zM324.4 348.9h5.4v2.47h-5.4zM275.9 351.4h5.4v2.47h-5.4zM345.9 351.4h5.4v2.47h-5.4zM249 353.8h5.4v2.47h-5.4zM319 353.8h5.4v2.47h-5.4zM329.8 353.8h5.4v2.47h-5.4zM351.3 353.8h5.4v2.47h-5.4zM281.3 356.3h5.4v2.47h-5.4zM270.5 361.2h5.4v2.47h-5.4zM302.8 361.2h5.4v2.47h-5.4zM281.3 363.7h5.4v2.47h-5.4zM292.1 368.6h5.4v2.47h-5.4zM297.5 368.6h5.4v2.47h-5.4zM335.2 368.6h5.4v2.47h-5.4zM308.2 371.1h5.4v2.47h-5.4zM329.8 371.1h5.4v2.47h-5.4zM335.2 371.1h5.4v2.47h-5.4zM292.1 373.5h5.4v2.47h-5.4zM324.4 373.5h5.4v2.47h-5.4zM329.8 373.5h5.4v2.47h-5.4zM324.4 376h5.4v2.47h-5.4zM335.2 376h5.4v2.47h-5.4zM329.8 378.5h5.4v2.47h-5.4zM281.3 380.9h5.4v2.47h-5.4zM335.2 380.9h5.4v2.47h-5.4zM324.4 383.4h5.4v2.47h-5.4zM329.8 383.4h5.4v2.47h-5.4zM335.2 383.4h5.4v2.47h-5.4zM362.1 383.4h5.4v2.47h-5.4zM292.1 385.8h5.4v2.47h-5.4zM297.5 385.8h5.4v2.47h-5.4zM302.8 385.8h5.4v2.47h-5.4zM313.6 385.8h5.4v2.47h-5.4zM319 385.8h5.4v2.47h-5.4zM324.4 385.8h5.4v2.47h-5.4zM340.6 385.8h5.4v2.47h-5.4zM275.9 388.3h5.4v2.47h-5.4zM281.3 388.3h5.4v2.47h-5.4zM308.2 388.3h5.4v2.47h-5.4zM313.6 388.3h5.4v2.47h-5.4zM297.5 390.8h5.4v2.47h-5.4zM308.2 390.8h5.4v2.47h-5.4zM308.2 393.2h5.4v2.47h-5.4zM292.1 395.7h5.4v2.47h-5.4zM297.5 395.7h5.4v2.47h-5.4zM308.2 395.7h5.4v2.47h-5.4zM335.2 395.7h5.4v2.47h-5.4zM297.5 398.1h5.4v2.47h-5.4zM302.8 398.1h5.4v2.47h-5.4zM286.7 400.6h5.4v2.47h-5.4zM313.6 400.6h5.4v2.47h-5.4zM281.3 403.1h5.4v2.47h-5.4zM275.9 405.5h5.4v2.47h-5.4zM292.1 405.5h5.4v2.47h-5.4zM319 405.5h5.4v2.47h-5.4zM275.9 408h5.4v2.47h-5.4zM281.3 408h5.4v2.47h-5.4zM302.8 408h5.4v2.47h-5.4zM319 408h5.4v2.47h-5.4zM335.2 408h5.4v2.47h-5.4zM281.3 410.4h5.4v2.47h-5.4zM308.2 410.4h5.4v2.47h-5.4zM329.8 410.4h5.4v2.47h-5.4zM335.2 410.4h5.4v2.47h-5.4zM281.3 412.9h5.4v2.47h-5.4zM286.7 412.9h5.4v2.47h-5.4zM292.1 412.9h5.4v2.47h-5.4zM302.8 412.9h5.4v2.47h-5.4zM308.2 412.9h5.4v2.47h-5.4zM329.8 412.9h5.4v2.47h-5.4zM281.3 415.4h5.4v2.47h-5.4zM286.7 415.4h5.4v2.47h-5.4zM308.2 415.4h5.4v2.47h-5.4zM313.6 415.4h5.4v2.47h-5.4zM319 415.4h5.4v2.47h-5.4zM324.4 415.4h5.4v2.47h-5.4zM275.9 417.8h5.4v2.47h-5.4zM281.3 417.8h5.4v2.47h-5.4zM324.4 417.8h5.4v2.47h-5.4zM329.8 417.8h5.4v2.47h-5.4zM335.2 417.8h5.4v2.47h-5.4zM292.1 420.3h5.4v2.47h-5.4zM270.5 422.8h5.4v2.47h-5.4zM275.9 422.8h5.4v2.47h-5.4zM383.6 422.8h5.4v2.47h-5.4zM243.6 425.2h5.4v2.47h-5.4zM335.2 425.2h5.4v2.47h-5.4zM324.4 427.7h5.4v2.47h-5.4zM243.6 430.1h5.4v2.47h-5.4zM275.9 430.1h5.4v2.47h-5.4zM281.3 430.1h5.4v2.47h-5.4zM286.7 430.1h5.4v2.47h-5.4zM243.6 432.6h5.4v2.47h-5.4zM270.5 432.6h5.4v2.47h-5.4zM335.2 432.6h5.4v2.47h-5.4zM281.3 435.1h5.4v2.47h-5.4zM281.3 437.5h5.4v2.47h-5.4zM275.9 440h5.4v2.47h-5.4zM351.3 444.9h5.4v2.47h-5.4zM281.3 447.4h5.4v2.47h-5.4zM275.9 449.8h5.4v2.47h-5.4zM281.3 449.8h5.4v2.47h-5.4zM243.6 452.3h5.4v2.47h-5.4zM302.8 452.3h5.4v2.47h-5.4zM270.5 454.7h5.4v2.47h-5.4zM275.9 454.7h5.4v2.47h-5.4zM281.3 454.7h5.4v2.47h-5.4zM297.5 454.7h5.4v2.47h-5.4zM319 454.7h5.4v2.47h-5.4zM329.8 454.7h5.4v2.47h-5.4zM243.6 457.2h5.4v2.47h-5.4zM259.8 457.2h5.4v2.47h-5.4zM292.1 457.2h5.4v2.47h-5.4zM324.4 457.2h5.4v2.47h-5.4zM329.8 457.2h5.4v2.47h-5.4zM351.3 457.2h5.4v2.47h-5.4zM265.1 459.7h5.4v2.47h-5.4zM286.7 459.7h5.4v2.47h-5.4zM297.5 459.7h5.4v2.47h-5.4zM302.8 459.7h5.4v2.47h-5.4zM324.4 459.7h5.4v2.47h-5.4zM345.9 459.7h5.4v2.47h-5.4zM351.3 459.7h5.4v2.47h-5.4zM286.7 462.1h5.4v2.47h-5.4zM297.5 462.1h5.4v2.47h-5.4zM308.2 462.1h5.4v2.47h-5.4zM313.6 462.1h5.4v2.47h-5.4zM362.1 462.1h5.4v2.47h-5.4zM275.9 464.6h5.4v2.47h-5.4zM281.3 464.6h5.4v2.47h-5.4zM286.7 464.6h5.4v2.47h-5.4zM340.6 464.6h5.4v2.47h-5.4zM308.2 467.1h5.4v2.47h-5.4zM329.8 467.1h5.4v2.47h-5.4zM340.6 467.1h5.4v2.47h-5.4zM292.1 469.5h5.4v2.47h-5.4zM297.5 469.5h5.4v2.47h-5.4zM265.1 472h5.4v2.47h-5.4zM308.2 472h5.4v2.47h-5.4zM313.6 472h5.4v2.47h-5.4zM254.4 474.4h5.4v2.47h-5.4zM259.8 474.4h5.4v2.47h-5.4zM270.5 474.4h5.4v2.47h-5.4zM281.3 474.4h5.4v2.47h-5.4zM313.6 474.4h5.4v2.47h-5.4zM249 476.9h5.4v2.47h-5.4zM302.8 476.9h5.4v2.47h-5.4zM324.4 476.9h5.4v2.47h-5.4zM329.8 476.9h5.4v2.47h-5.4zM372.9 476.9h5.4v2.47h-5.4zM378.3 476.9h5.4v2.47h-5.4zM243.6 479.4h5.4v2.47h-5.4zM281.3 479.4h5.4v2.47h-5.4zM302.8 479.4h5.4v2.47h-5.4zM308.2 479.4h5.4v2.47h-5.4zM329.8 479.4h5.4v2.47h-5.4zM313.6 481.8h5.4v2.47h-5.4zM319 481.8h5.4v2.47h-5.4zM324.4 481.8h5.4v2.47h-5.4zM243.6 484.3h5.4v2.47h-5.4zM275.9 484.3h5.4v2.47h-5.4zM313.6 486.7h5.4v2.47h-5.4zM335.2 486.7h5.4v2.47h-5.4zM356.7 486.7h5.4v2.47h-5.4zM281.3 489.2h5.4v2.47h-5.4zM308.2 489.2h5.4v2.47h-5.4zM329.8 489.2h5.4v2.47h-5.4zM254.4 491.7h5.4v2.47h-5.4zM259.8 491.7h5.4v2.47h-5.4zM265.1 491.7h5.4v2.47h-5.4zM275.9 491.7h5.4v2.47h-5.4zM286.7 491.7h5.4v2.47h-5.4zM302.8 491.7h5.4v2.47h-5.4zM324.4 491.7h5.4v2.47h-5.4zM335.2 491.7h5.4v2.47h-5.4zM243.6 494.1h5.4v2.47h-5.4zM270.5 494.1h5.4v2.47h-5.4zM286.7 494.1h5.4v2.47h-5.4zM297.5 494.1h5.4v2.47h-5.4zM329.8 494.1h5.4v2.47h-5.4zM335.2 494.1h5.4v2.47h-5.4zM281.3 496.6h5.4v2.47h-5.4zM324.4 496.6h5.4v2.47h-5.4zM292.1 499h5.4v2.47h-5.4zM308.2 499h5.4v2.47h-5.4zM265.1 501.5h5.4v2.47h-5.4zM308.2 501.5h5.4v2.47h-5.4zM265.1 504h5.4v2.47h-5.4zM286.7 504h5.4v2.47h-5.4zM292.1 504h5.4v2.47h-5.4zM243.6 506.4h5.4v2.47h-5.4zM249 506.4h5.4v2.47h-5.4zM292.1 506.4h5.4v2.47h-5.4zM313.6 506.4h5.4v2.47h-5.4zM319 506.4h5.4v2.47h-5.4zM281.3 508.9h5.4v2.47h-5.4zM335.2 508.9h5.4v2.47h-5.4zM243.6 511.4h5.4v2.47h-5.4zM259.8 511.4h5.4v2.47h-5.4zM270.5 511.4h5.4v2.47h-5.4zM275.9 511.4h5.4v2.47h-5.4zM281.3 511.4h5.4v2.47h-5.4zM292.1 511.4h5.4v2.47h-5.4zM297.5 511.4h5.4v2.47h-5.4zM302.8 511.4h5.4v2.47h-5.4zM313.6 511.4h5.4v2.47h-5.4zM319 511.4h5.4v2.47h-5.4zM335.2 511.4h5.4v2.47h-5.4zM249 513.8h5.4v2.47h-5.4zM275.9 513.8h5.4v2.47h-5.4zM297.5 513.8h5.4v2.47h-5.4zM302.8 513.8h5.4v2.47h-5.4zM308.2 513.8h5.4v2.47h-5.4zM313.6 513.8h5.4v2.47h-5.4zM319 513.8h5.4v2.47h-5.4zM329.8 513.8h5.4v2.47h-5.4zM335.2 513.8h5.4v2.47h-5.4zM259.8 516.3h5.4v2.47h-5.4zM270.5 516.3h5.4v2.47h-5.4zM297.5 516.3h5.4v2.47h-5.4zM302.8 516.3h5.4v2.47h-5.4zM324.4 516.3h5.4v2.47h-5.4zM265.1 518.7h5.4v2.47h-5.4zM270.5 518.7h5.4v2.47h-5.4zM324.4 518.7h5.4v2.47h-5.4zM335.2 518.7h5.4v2.47h-5.4zM340.6 518.7h5.4v2.47h-5.4zM367.5 518.7h5.4v2.47h-5.4zM265.1 521.2h5.4v2.47h-5.4zM297.5 521.2h5.4v2.47h-5.4zM324.4 521.2h5.4v2.47h-5.4zM335.2 521.2h5.4v2.47h-5.4zM356.7 521.2h5.4v2.47h-5.4zM259.8 523.7h5.4v2.47h-5.4zM265.1 523.7h5.4v2.47h-5.4zM270.5 523.7h5.4v2.47h-5.4zM292.1 523.7h5.4v2.47h-5.4zM324.4 523.7h5.4v2.47h-5.4zM335.2 523.7h5.4v2.47h-5.4zM249 526.1h5.4v2.47h-5.4zM297.5 526.1h5.4v2.47h-5.4zM308.2 526.1h5.4v2.47h-5.4zM324.4 526.1h5.4v2.47h-5.4zM335.2 526.1h5.4v2.47h-5.4zM259.8 528.6h5.4v2.47h-5.4zM281.3 528.6h5.4v2.47h-5.4zM297.5 528.6h5.4v2.47h-5.4zM313.6 528.6h5.4v2.47h-5.4zM319 528.6h5.4v2.47h-5.4zM324.4 528.6h5.4v2.47h-5.4zM340.6 528.6h5.4v2.47h-5.4zM297.5 531h5.4v2.47h-5.4zM302.8 531h5.4v2.47h-5.4z"/><path fill="#fffafa" d="M275.9 255.4h5.4v2.47h-5.4zM286.7 255.4h5.4v2.47h-5.4zM308.2 255.4h5.4v2.47h-5.4zM319 255.4h5.4v2.47h-5.4zM345.9 255.4h5.4v2.47h-5.4zM372.9 255.4h5.4v2.47h-5.4zM378.3 255.4h5.4v2.47h-5.4zM399.8 255.4h5.4v2.47h-5.4zM432.1 255.4h5.4v2.47h-5.4zM324.4 257.9h5.4v2.47h-5.4zM259.8 260.3h5.4v2.47h-5.4zM313.6 260.3h5.4v2.47h-5.4zM313.6 262.8h5.4v2.47h-5.4zM421.3 265.2h5.4v2.47h-5.4zM313.6 267.7h5.4v2.47h-5.4zM265.1 270.2h5.4v2.47h-5.4zM313.6 275.1h5.4v2.47h-5.4zM254.4 277.5h5.4v2.47h-5.4zM270.5 277.5h5.4v2.47h-5.4zM313.6 277.5h5.4v2.47h-5.4zM367.5 277.5h5.4v2.47h-5.4zM249 280h5.4v2.47h-5.4zM265.1 280h5.4v2.47h-5.4zM367.5 280h5.4v2.47h-5.4zM259.8 282.5h5.4v2.47h-5.4zM265.1 282.5h5.4v2.47h-5.4zM270.5 282.5h5.4v2.47h-5.4zM362.1 284.9h5.4v2.47h-5.4zM399.8 284.9h5.4v2.47h-5.4zM405.2 284.9h5.4v2.47h-5.4zM410.6 284.9h5.4v2.47h-5.4zM345.9 287.4h5.4v2.47h-5.4zM405.2 287.4h5.4v2.47h-5.4zM265.1 289.9h5.4v2.47h-5.4zM281.3 292.3h5.4v2.47h-5.4zM362.1 292.3h5.4v2.47h-5.4zM416 292.3h5.4v2.47h-5.4zM324.4 294.8h5.4v2.47h-5.4zM270.5 297.2h5.4v2.47h-5.4zM421.3 297.2h5.4v2.47h-5.4zM345.9 304.6h5.4v2.47h-5.4zM405.2 304.6h5.4v2.47h-5.4zM254.4 309.5h5.4v2.47h-5.4zM367.5 312h5.4v2.47h-5.4zM351.3 314.5h5.4v2.47h-5.4zM265.1 321.8h5.4v2.47h-5.4zM345.9 334.2h5.4v2.47h-5.4zM362.1 351.4h5.4v2.47h-5.4zM265.1 353.8h5.4v2.47h-5.4zM270.5 353.8h5.4v2.47h-5.4zM297.5 353.8h5.4v2.47h-5.4zM319 356.3h5.4v2.47h-5.4zM302.8 358.8h5.4v2.47h-5.4zM254.4 361.2h5.4v2.47h-5.4zM405.2 373.5h5.4v2.47h-5.4zM416 373.5h5.4v2.47h-5.4zM356.7 380.9h5.4v2.47h-5.4zM362.1 385.8h5.4v2.47h-5.4zM275.9 393.2h5.4v2.47h-5.4zM340.6 393.2h5.4v2.47h-5.4zM275.9 420.3h5.4v2.47h-5.4zM319 425.2h5.4v2.47h-5.4zM324.4 425.2h5.4v2.47h-5.4zM329.8 425.2h5.4v2.47h-5.4zM286.7 427.7h5.4v2.47h-5.4zM383.6 427.7h5.4v2.47h-5.4zM383.6 430.1h5.4v2.47h-5.4zM383.6 432.6h5.4v2.47h-5.4zM340.6 444.9h5.4v2.47h-5.4zM308.2 449.8h5.4v2.47h-5.4zM254.4 454.7h5.4v2.47h-5.4zM243.6 462.1h5.4v2.47h-5.4zM340.6 469.5h5.4v2.47h-5.4zM362.1 469.5h5.4v2.47h-5.4zM389 476.9h5.4v2.47h-5.4zM249 479.4h5.4v2.47h-5.4zM356.7 479.4h5.4v2.47h-5.4zM378.3 479.4h5.4v2.47h-5.4zM356.7 481.8h5.4v2.47h-5.4zM367.5 481.8h5.4v2.47h-5.4zM345.9 496.6h5.4v2.47h-5.4zM351.3 499h5.4v2.47h-5.4zM243.6 504h5.4v2.47h-5.4zM383.6 518.7h5.4v2.47h-5.4zM405.2 518.7h5.4v2.47h-5.4z"/><path fill="#feefef" d="M243.6 255.4h5.4v2.47h-5.4zM292.1 255.4h5.4v2.47h-5.4zM302.8 255.4h5.4v2.47h-5.4zM313.6 255.4h5.4v2.47h-5.4zM329.8 255.4h5.4v2.47h-5.4zM335.2 255.4h5.4v2.47h-5.4zM340.6 255.4h5.4v2.47h-5.4zM383.6 255.4h5.4v2.47h-5.4zM389 255.4h5.4v2.47h-5.4zM394.4 255.4h5.4v2.47h-5.4zM259.8 257.9h5.4v2.47h-5.4zM275.9 257.9h5.4v2.47h-5.4zM302.8 257.9h5.4v2.47h-5.4zM345.9 257.9h5.4v2.47h-5.4zM389 257.9h5.4v2.47h-5.4zM394.4 257.9h5.4v2.47h-5.4zM416 257.9h5.4v2.47h-5.4zM254.4 260.3h5.4v2.47h-5.4zM389 260.3h5.4v2.47h-5.4zM270.5 262.8h5.4v2.47h-5.4zM254.4 265.2h5.4v2.47h-5.4zM270.5 265.2h5.4v2.47h-5.4zM286.7 265.2h5.4v2.47h-5.4zM345.9 265.2h5.4v2.47h-5.4zM243.6 267.7h5.4v2.47h-5.4zM345.9 267.7h5.4v2.47h-5.4zM254.4 270.2h5.4v2.47h-5.4zM292.1 270.2h5.4v2.47h-5.4zM254.4 272.6h5.4v2.47h-5.4zM286.7 272.6h5.4v2.47h-5.4zM308.2 272.6h5.4v2.47h-5.4zM324.4 272.6h5.4v2.47h-5.4zM362.1 272.6h5.4v2.47h-5.4zM249 275.1h5.4v2.47h-5.4zM254.4 275.1h5.4v2.47h-5.4zM259.8 275.1h5.4v2.47h-5.4zM356.7 275.1h5.4v2.47h-5.4zM265.1 277.5h5.4v2.47h-5.4zM286.7 277.5h5.4v2.47h-5.4zM345.9 277.5h5.4v2.47h-5.4zM356.7 277.5h5.4v2.47h-5.4zM362.1 277.5h5.4v2.47h-5.4zM249 287.4h5.4v2.47h-5.4zM324.4 287.4h5.4v2.47h-5.4zM362.1 287.4h5.4v2.47h-5.4zM313.6 289.9h5.4v2.47h-5.4zM254.4 292.3h5.4v2.47h-5.4zM254.4 294.8h5.4v2.47h-5.4zM259.8 294.8h5.4v2.47h-5.4zM265.1 294.8h5.4v2.47h-5.4zM399.8 294.8h5.4v2.47h-5.4zM421.3 294.8h5.4v2.47h-5.4zM286.7 297.2h5.4v2.47h-5.4zM265.1 299.7h5.4v2.47h-5.4zM275.9 302.2h5.4v2.47h-5.4zM292.1 302.2h5.4v2.47h-5.4zM324.4 302.2h5.4v2.47h-5.4zM270.5 304.6h5.4v2.47h-5.4zM399.8 304.6h5.4v2.47h-5.4zM254.4 307.1h5.4v2.47h-5.4zM259.8 309.5h5.4v2.47h-5.4zM254.4 312h5.4v2.47h-5.4zM254.4 314.5h5.4v2.47h-5.4zM286.7 314.5h5.4v2.47h-5.4zM292.1 314.5h5.4v2.47h-5.4zM254.4 316.9h5.4v2.47h-5.4zM270.5 321.8h5.4v2.47h-5.4zM292.1 321.8h5.4v2.47h-5.4zM302.8 321.8h5.4v2.47h-5.4zM243.6 324.3h5.4v2.47h-5.4zM313.6 324.3h5.4v2.47h-5.4zM335.2 326.8h5.4v2.47h-5.4zM340.6 326.8h5.4v2.47h-5.4zM286.7 331.7h5.4v2.47h-5.4zM249 334.2h5.4v2.47h-5.4zM351.3 334.2h5.4v2.47h-5.4zM394.4 334.2h5.4v2.47h-5.4zM243.6 336.6h5.4v2.47h-5.4zM249 336.6h5.4v2.47h-5.4zM270.5 336.6h5.4v2.47h-5.4zM313.6 336.6h5.4v2.47h-5.4zM329.8 336.6h5.4v2.47h-5.4zM270.5 339.1h5.4v2.47h-5.4zM292.1 339.1h5.4v2.47h-5.4zM308.2 339.1h5.4v2.47h-5.4zM313.6 339.1h5.4v2.47h-5.4zM319 339.1h5.4v2.47h-5.4zM335.2 339.1h5.4v2.47h-5.4zM243.6 341.5h5.4v2.47h-5.4zM324.4 341.5h5.4v2.47h-5.4zM259.8 344h5.4v2.47h-5.4zM265.1 344h5.4v2.47h-5.4zM335.2 344h5.4v2.47h-5.4zM265.1 346.5h5.4v2.47h-5.4zM308.2 346.5h5.4v2.47h-5.4zM313.6 348.9h5.4v2.47h-5.4zM243.6 353.8h5.4v2.47h-5.4zM281.3 353.8h5.4v2.47h-5.4zM308.2 353.8h5.4v2.47h-5.4zM324.4 353.8h5.4v2.47h-5.4zM335.2 353.8h5.4v2.47h-5.4zM302.8 356.3h5.4v2.47h-5.4zM340.6 358.8h5.4v2.47h-5.4zM281.3 361.2h5.4v2.47h-5.4zM292.1 361.2h5.4v2.47h-5.4zM319 361.2h5.4v2.47h-5.4zM340.6 361.2h5.4v2.47h-5.4zM254.4 363.7h5.4v2.47h-5.4zM302.8 363.7h5.4v2.47h-5.4zM335.2 363.7h5.4v2.47h-5.4zM259.8 371.1h5.4v2.47h-5.4zM254.4 378.5h5.4v2.47h-5.4zM243.6 380.9h5.4v2.47h-5.4zM340.6 380.9h5.4v2.47h-5.4zM351.3 388.3h5.4v2.47h-5.4zM340.6 403.1h5.4v2.47h-5.4zM340.6 405.5h5.4v2.47h-5.4zM243.6 422.8h5.4v2.47h-5.4zM313.6 422.8h5.4v2.47h-5.4zM319 422.8h5.4v2.47h-5.4zM378.3 422.8h5.4v2.47h-5.4zM394.4 422.8h5.4v2.47h-5.4zM259.8 425.2h5.4v2.47h-5.4zM286.7 425.2h5.4v2.47h-5.4zM367.5 425.2h5.4v2.47h-5.4zM378.3 425.2h5.4v2.47h-5.4zM259.8 427.7h5.4v2.47h-5.4zM254.4 430.1h5.4v2.47h-5.4zM324.4 430.1h5.4v2.47h-5.4zM340.6 430.1h5.4v2.47h-5.4zM313.6 435.1h5.4v2.47h-5.4zM308.2 437.5h5.4v2.47h-5.4zM265.1 442.4h5.4v2.47h-5.4zM329.8 442.4h5.4v2.47h-5.4zM243.6 444.9h5.4v2.47h-5.4zM254.4 444.9h5.4v2.47h-5.4zM362.1 444.9h5.4v2.47h-5.4zM394.4 444.9h5.4v2.47h-5.4zM270.5 447.4h5.4v2.47h-5.4zM292.1 447.4h5.4v2.47h-5.4zM292.1 449.8h5.4v2.47h-5.4zM302.8 449.8h5.4v2.47h-5.4zM313.6 449.8h5.4v2.47h-5.4zM335.2 449.8h5.4v2.47h-5.4zM405.2 449.8h5.4v2.47h-5.4zM421.3 449.8h5.4v2.47h-5.4zM249 452.3h5.4v2.47h-5.4zM432.1 452.3h5.4v2.47h-5.4zM259.8 454.7h5.4v2.47h-5.4zM265.1 454.7h5.4v2.47h-5.4zM362.1 454.7h5.4v2.47h-5.4zM394.4 454.7h5.4v2.47h-5.4zM362.1 457.2h5.4v2.47h-5.4zM356.7 459.7h5.4v2.47h-5.4zM265.1 462.1h5.4v2.47h-5.4zM405.2 464.6h5.4v2.47h-5.4zM410.6 464.6h5.4v2.47h-5.4zM265.1 469.5h5.4v2.47h-5.4zM292.1 472h5.4v2.47h-5.4zM259.8 476.9h5.4v2.47h-5.4zM340.6 476.9h5.4v2.47h-5.4zM356.7 476.9h5.4v2.47h-5.4zM362.1 476.9h5.4v2.47h-5.4zM367.5 476.9h5.4v2.47h-5.4zM383.6 476.9h5.4v2.47h-5.4zM394.4 476.9h5.4v2.47h-5.4zM399.8 476.9h5.4v2.47h-5.4zM372.9 479.4h5.4v2.47h-5.4zM399.8 484.3h5.4v2.47h-5.4zM340.6 486.7h5.4v2.47h-5.4zM389 486.7h5.4v2.47h-5.4zM351.3 489.2h5.4v2.47h-5.4zM405.2 489.2h5.4v2.47h-5.4zM410.6 489.2h5.4v2.47h-5.4zM416 489.2h5.4v2.47h-5.4zM319 491.7h5.4v2.47h-5.4zM405.2 491.7h5.4v2.47h-5.4zM432.1 491.7h5.4v2.47h-5.4zM394.4 494.1h5.4v2.47h-5.4zM410.6 494.1h5.4v2.47h-5.4zM421.3 494.1h5.4v2.47h-5.4zM426.7 494.1h5.4v2.47h-5.4zM340.6 496.6h5.4v2.47h-5.4zM394.4 496.6h5.4v2.47h-5.4zM399.8 496.6h5.4v2.47h-5.4zM345.9 499h5.4v2.47h-5.4zM405.2 499h5.4v2.47h-5.4zM416 499h5.4v2.47h-5.4zM249 501.5h5.4v2.47h-5.4zM394.4 501.5h5.4v2.47h-5.4zM416 501.5h5.4v2.47h-5.4zM426.7 511.4h5.4v2.47h-5.4zM362.1 513.8h5.4v2.47h-5.4zM362.1 518.7h5.4v2.47h-5.4zM421.3 518.7h5.4v2.47h-5.4zM432.1 518.7h5.4v2.47h-5.4zM405.2 521.2h5.4v2.47h-5.4zM416 521.2h5.4v2.47h-5.4zM426.7 521.2h5.4v2.47h-5.4zM432.1 523.7h5.4v2.47h-5.4zM243.6 528.6h5.4v2.47h-5.4z"/><path fill="#fde4e4" d="M259.8 255.4h5.4v2.47h-5.4zM367.5 255.4h5.4v2.47h-5.4zM410.6 255.4h5.4v2.47h-5.4zM243.6 257.9h5.4v2.47h-5.4zM421.3 257.9h5.4v2.47h-5.4zM243.6 260.3h5.4v2.47h-5.4zM340.6 260.3h5.4v2.47h-5.4zM345.9 260.3h5.4v2.47h-5.4zM362.1 260.3h5.4v2.47h-5.4zM383.6 260.3h5.4v2.47h-5.4zM410.6 260.3h5.4v2.47h-5.4zM416 260.3h5.4v2.47h-5.4zM249 262.8h5.4v2.47h-5.4zM259.8 262.8h5.4v2.47h-5.4zM324.4 262.8h5.4v2.47h-5.4zM340.6 262.8h5.4v2.47h-5.4zM345.9 262.8h5.4v2.47h-5.4zM340.6 265.2h5.4v2.47h-5.4zM416 265.2h5.4v2.47h-5.4zM249 267.7h5.4v2.47h-5.4zM265.1 267.7h5.4v2.47h-5.4zM259.8 270.2h5.4v2.47h-5.4zM270.5 270.2h5.4v2.47h-5.4zM243.6 272.6h5.4v2.47h-5.4zM265.1 275.1h5.4v2.47h-5.4zM270.5 275.1h5.4v2.47h-5.4zM297.5 275.1h5.4v2.47h-5.4zM324.4 275.1h5.4v2.47h-5.4zM340.6 275.1h5.4v2.47h-5.4zM249 277.5h5.4v2.47h-5.4zM292.1 277.5h5.4v2.47h-5.4zM254.4 280h5.4v2.47h-5.4zM286.7 280h5.4v2.47h-5.4zM292.1 280h5.4v2.47h-5.4zM362.1 280h5.4v2.47h-5.4zM254.4 282.5h5.4v2.47h-5.4zM275.9 282.5h5.4v2.47h-5.4zM281.3 282.5h5.4v2.47h-5.4zM297.5 282.5h5.4v2.47h-5.4zM308.2 282.5h5.4v2.47h-5.4zM319 282.5h5.4v2.47h-5.4zM340.6 284.9h5.4v2.47h-5.4zM345.9 284.9h5.4v2.47h-5.4zM243.6 287.4h5.4v2.47h-5.4zM254.4 287.4h5.4v2.47h-5.4zM259.8 287.4h5.4v2.47h-5.4zM265.1 287.4h5.4v2.47h-5.4zM308.2 287.4h5.4v2.47h-5.4zM243.6 289.9h5.4v2.47h-5.4zM259.8 289.9h5.4v2.47h-5.4zM270.5 289.9h5.4v2.47h-5.4zM286.7 289.9h5.4v2.47h-5.4zM308.2 289.9h5.4v2.47h-5.4zM324.4 289.9h5.4v2.47h-5.4zM335.2 289.9h5.4v2.47h-5.4zM243.6 292.3h5.4v2.47h-5.4zM292.1 292.3h5.4v2.47h-5.4zM340.6 292.3h5.4v2.47h-5.4zM345.9 292.3h5.4v2.47h-5.4zM399.8 292.3h5.4v2.47h-5.4zM243.6 294.8h5.4v2.47h-5.4zM292.1 294.8h5.4v2.47h-5.4zM254.4 297.2h5.4v2.47h-5.4zM324.4 297.2h5.4v2.47h-5.4zM340.6 297.2h5.4v2.47h-5.4zM254.4 299.7h5.4v2.47h-5.4zM270.5 299.7h5.4v2.47h-5.4zM329.8 299.7h5.4v2.47h-5.4zM254.4 302.2h5.4v2.47h-5.4zM270.5 302.2h5.4v2.47h-5.4zM297.5 302.2h5.4v2.47h-5.4zM335.2 302.2h5.4v2.47h-5.4zM292.1 304.6h5.4v2.47h-5.4zM335.2 304.6h5.4v2.47h-5.4zM259.8 307.1h5.4v2.47h-5.4zM270.5 307.1h5.4v2.47h-5.4zM297.5 307.1h5.4v2.47h-5.4zM335.2 307.1h5.4v2.47h-5.4zM399.8 307.1h5.4v2.47h-5.4zM265.1 309.5h5.4v2.47h-5.4zM297.5 309.5h5.4v2.47h-5.4zM324.4 309.5h5.4v2.47h-5.4zM399.8 309.5h5.4v2.47h-5.4zM265.1 312h5.4v2.47h-5.4zM270.5 312h5.4v2.47h-5.4zM292.1 312h5.4v2.47h-5.4zM345.9 312h5.4v2.47h-5.4zM351.3 312h5.4v2.47h-5.4zM259.8 314.5h5.4v2.47h-5.4zM270.5 314.5h5.4v2.47h-5.4zM329.8 314.5h5.4v2.47h-5.4zM394.4 314.5h5.4v2.47h-5.4zM286.7 316.9h5.4v2.47h-5.4zM324.4 316.9h5.4v2.47h-5.4zM340.6 316.9h5.4v2.47h-5.4zM270.5 319.4h5.4v2.47h-5.4zM286.7 319.4h5.4v2.47h-5.4zM324.4 319.4h5.4v2.47h-5.4zM313.6 321.8h5.4v2.47h-5.4zM329.8 321.8h5.4v2.47h-5.4zM335.2 321.8h5.4v2.47h-5.4zM340.6 321.8h5.4v2.47h-5.4zM345.9 321.8h5.4v2.47h-5.4zM254.4 324.3h5.4v2.47h-5.4zM292.1 324.3h5.4v2.47h-5.4zM297.5 324.3h5.4v2.47h-5.4zM302.8 324.3h5.4v2.47h-5.4zM340.6 324.3h5.4v2.47h-5.4zM259.8 326.8h5.4v2.47h-5.4zM319 326.8h5.4v2.47h-5.4zM254.4 329.2h5.4v2.47h-5.4zM308.2 329.2h5.4v2.47h-5.4zM313.6 329.2h5.4v2.47h-5.4zM324.4 329.2h5.4v2.47h-5.4zM329.8 329.2h5.4v2.47h-5.4zM340.6 329.2h5.4v2.47h-5.4zM254.4 331.7h5.4v2.47h-5.4zM270.5 331.7h5.4v2.47h-5.4zM340.6 331.7h5.4v2.47h-5.4zM259.8 334.2h5.4v2.47h-5.4zM265.1 334.2h5.4v2.47h-5.4zM270.5 334.2h5.4v2.47h-5.4zM297.5 334.2h5.4v2.47h-5.4zM313.6 334.2h5.4v2.47h-5.4zM319 334.2h5.4v2.47h-5.4zM254.4 336.6h5.4v2.47h-5.4zM286.7 336.6h5.4v2.47h-5.4zM340.6 336.6h5.4v2.47h-5.4zM243.6 339.1h5.4v2.47h-5.4zM254.4 339.1h5.4v2.47h-5.4zM302.8 339.1h5.4v2.47h-5.4zM351.3 339.1h5.4v2.47h-5.4zM265.1 341.5h5.4v2.47h-5.4zM302.8 341.5h5.4v2.47h-5.4zM308.2 341.5h5.4v2.47h-5.4zM319 341.5h5.4v2.47h-5.4zM243.6 344h5.4v2.47h-5.4zM254.4 344h5.4v2.47h-5.4zM292.1 344h5.4v2.47h-5.4zM297.5 344h5.4v2.47h-5.4zM308.2 344h5.4v2.47h-5.4zM243.6 346.5h5.4v2.47h-5.4zM249 346.5h5.4v2.47h-5.4zM254.4 346.5h5.4v2.47h-5.4zM270.5 346.5h5.4v2.47h-5.4zM286.7 346.5h5.4v2.47h-5.4zM297.5 346.5h5.4v2.47h-5.4zM313.6 346.5h5.4v2.47h-5.4zM254.4 348.9h5.4v2.47h-5.4zM265.1 348.9h5.4v2.47h-5.4zM270.5 348.9h5.4v2.47h-5.4zM243.6 351.4h5.4v2.47h-5.4zM270.5 351.4h5.4v2.47h-5.4zM308.2 351.4h5.4v2.47h-5.4zM351.3 351.4h5.4v2.47h-5.4zM399.8 351.4h5.4v2.47h-5.4zM275.9 353.8h5.4v2.47h-5.4zM286.7 353.8h5.4v2.47h-5.4zM270.5 356.3h5.4v2.47h-5.4zM292.1 356.3h5.4v2.47h-5.4zM308.2 356.3h5.4v2.47h-5.4zM335.2 356.3h5.4v2.47h-5.4zM340.6 356.3h5.4v2.47h-5.4zM259.8 358.8h5.4v2.47h-5.4zM270.5 358.8h5.4v2.47h-5.4zM286.7 358.8h5.4v2.47h-5.4zM319 358.8h5.4v2.47h-5.4zM324.4 358.8h5.4v2.47h-5.4zM249 361.2h5.4v2.47h-5.4zM286.7 361.2h5.4v2.47h-5.4zM308.2 361.2h5.4v2.47h-5.4zM313.6 361.2h5.4v2.47h-5.4zM324.4 361.2h5.4v2.47h-5.4zM297.5 363.7h5.4v2.47h-5.4zM313.6 363.7h5.4v2.47h-5.4zM319 363.7h5.4v2.47h-5.4zM254.4 366.1h5.4v2.47h-5.4zM259.8 366.1h5.4v2.47h-5.4zM297.5 366.1h5.4v2.47h-5.4zM335.2 366.1h5.4v2.47h-5.4zM340.6 366.1h5.4v2.47h-5.4zM243.6 368.6h5.4v2.47h-5.4zM254.4 368.6h5.4v2.47h-5.4zM259.8 368.6h5.4v2.47h-5.4zM345.9 373.5h5.4v2.47h-5.4zM362.1 373.5h5.4v2.47h-5.4zM394.4 373.5h5.4v2.47h-5.4zM383.6 376h5.4v2.47h-5.4zM389 376h5.4v2.47h-5.4zM259.8 378.5h5.4v2.47h-5.4zM243.6 383.4h5.4v2.47h-5.4zM249 383.4h5.4v2.47h-5.4zM426.7 388.3h5.4v2.47h-5.4zM362.1 393.2h5.4v2.47h-5.4zM367.5 393.2h5.4v2.47h-5.4zM329.8 398.1h5.4v2.47h-5.4zM329.8 405.5h5.4v2.47h-5.4zM249 422.8h5.4v2.47h-5.4zM259.8 422.8h5.4v2.47h-5.4zM302.8 422.8h5.4v2.47h-5.4zM308.2 422.8h5.4v2.47h-5.4zM389 422.8h5.4v2.47h-5.4zM254.4 425.2h5.4v2.47h-5.4zM308.2 425.2h5.4v2.47h-5.4zM389 425.2h5.4v2.47h-5.4zM249 427.7h5.4v2.47h-5.4zM254.4 427.7h5.4v2.47h-5.4zM265.1 427.7h5.4v2.47h-5.4zM270.5 427.7h5.4v2.47h-5.4zM378.3 427.7h5.4v2.47h-5.4zM389 427.7h5.4v2.47h-5.4zM265.1 430.1h5.4v2.47h-5.4zM302.8 430.1h5.4v2.47h-5.4zM308.2 430.1h5.4v2.47h-5.4zM313.6 430.1h5.4v2.47h-5.4zM319 430.1h5.4v2.47h-5.4zM351.3 430.1h5.4v2.47h-5.4zM367.5 430.1h5.4v2.47h-5.4zM254.4 432.6h5.4v2.47h-5.4zM259.8 432.6h5.4v2.47h-5.4zM319 432.6h5.4v2.47h-5.4zM367.5 432.6h5.4v2.47h-5.4zM249 435.1h5.4v2.47h-5.4zM292.1 435.1h5.4v2.47h-5.4zM319 435.1h5.4v2.47h-5.4zM249 437.5h5.4v2.47h-5.4zM265.1 437.5h5.4v2.47h-5.4zM292.1 437.5h5.4v2.47h-5.4zM265.1 440h5.4v2.47h-5.4zM270.5 440h5.4v2.47h-5.4zM286.7 440h5.4v2.47h-5.4zM302.8 440h5.4v2.47h-5.4zM329.8 440h5.4v2.47h-5.4zM243.6 442.4h5.4v2.47h-5.4zM249 442.4h5.4v2.47h-5.4zM286.7 442.4h5.4v2.47h-5.4zM297.5 442.4h5.4v2.47h-5.4zM308.2 442.4h5.4v2.47h-5.4zM292.1 444.9h5.4v2.47h-5.4zM302.8 444.9h5.4v2.47h-5.4zM313.6 444.9h5.4v2.47h-5.4zM324.4 444.9h5.4v2.47h-5.4zM335.2 444.9h5.4v2.47h-5.4zM378.3 444.9h5.4v2.47h-5.4zM243.6 447.4h5.4v2.47h-5.4zM302.8 447.4h5.4v2.47h-5.4zM308.2 447.4h5.4v2.47h-5.4zM313.6 447.4h5.4v2.47h-5.4zM319 447.4h5.4v2.47h-5.4zM324.4 447.4h5.4v2.47h-5.4zM335.2 447.4h5.4v2.47h-5.4zM297.5 449.8h5.4v2.47h-5.4zM340.6 449.8h5.4v2.47h-5.4zM372.9 449.8h5.4v2.47h-5.4zM378.3 449.8h5.4v2.47h-5.4zM394.4 449.8h5.4v2.47h-5.4zM410.6 449.8h5.4v2.47h-5.4zM297.5 452.3h5.4v2.47h-5.4zM389 452.3h5.4v2.47h-5.4zM416 452.3h5.4v2.47h-5.4zM410.6 454.7h5.4v2.47h-5.4zM340.6 457.2h5.4v2.47h-5.4zM372.9 459.7h5.4v2.47h-5.4zM421.3 459.7h5.4v2.47h-5.4zM254.4 464.6h5.4v2.47h-5.4zM270.5 464.6h5.4v2.47h-5.4zM308.2 464.6h5.4v2.47h-5.4zM254.4 467.1h5.4v2.47h-5.4zM265.1 467.1h5.4v2.47h-5.4zM254.4 469.5h5.4v2.47h-5.4zM270.5 469.5h5.4v2.47h-5.4zM329.8 469.5h5.4v2.47h-5.4zM345.9 472h5.4v2.47h-5.4zM426.7 472h5.4v2.47h-5.4zM329.8 474.4h5.4v2.47h-5.4zM254.4 476.9h5.4v2.47h-5.4zM286.7 476.9h5.4v2.47h-5.4zM351.3 476.9h5.4v2.47h-5.4zM265.1 479.4h5.4v2.47h-5.4zM383.6 479.4h5.4v2.47h-5.4zM410.6 479.4h5.4v2.47h-5.4zM416 479.4h5.4v2.47h-5.4zM432.1 479.4h5.4v2.47h-5.4zM270.5 481.8h5.4v2.47h-5.4zM362.1 481.8h5.4v2.47h-5.4zM372.9 481.8h5.4v2.47h-5.4zM405.2 481.8h5.4v2.47h-5.4zM421.3 481.8h5.4v2.47h-5.4zM426.7 481.8h5.4v2.47h-5.4zM432.1 481.8h5.4v2.47h-5.4zM265.1 484.3h5.4v2.47h-5.4zM270.5 484.3h5.4v2.47h-5.4zM367.5 484.3h5.4v2.47h-5.4zM410.6 484.3h5.4v2.47h-5.4zM421.3 484.3h5.4v2.47h-5.4zM426.7 484.3h5.4v2.47h-5.4zM432.1 484.3h5.4v2.47h-5.4zM254.4 486.7h5.4v2.47h-5.4zM351.3 486.7h5.4v2.47h-5.4zM372.9 486.7h5.4v2.47h-5.4zM394.4 486.7h5.4v2.47h-5.4zM405.2 486.7h5.4v2.47h-5.4zM416 486.7h5.4v2.47h-5.4zM421.3 486.7h5.4v2.47h-5.4zM426.7 486.7h5.4v2.47h-5.4zM399.8 489.2h5.4v2.47h-5.4zM249 491.7h5.4v2.47h-5.4zM367.5 491.7h5.4v2.47h-5.4zM378.3 491.7h5.4v2.47h-5.4zM394.4 491.7h5.4v2.47h-5.4zM399.8 491.7h5.4v2.47h-5.4zM410.6 491.7h5.4v2.47h-5.4zM416 491.7h5.4v2.47h-5.4zM275.9 494.1h5.4v2.47h-5.4zM416 494.1h5.4v2.47h-5.4zM329.8 496.6h5.4v2.47h-5.4zM416 496.6h5.4v2.47h-5.4zM421.3 496.6h5.4v2.47h-5.4zM426.7 496.6h5.4v2.47h-5.4zM432.1 499h5.4v2.47h-5.4zM324.4 501.5h5.4v2.47h-5.4zM432.1 501.5h5.4v2.47h-5.4zM254.4 504h5.4v2.47h-5.4zM335.2 504h5.4v2.47h-5.4zM426.7 504h5.4v2.47h-5.4zM259.8 506.4h5.4v2.47h-5.4zM399.8 506.4h5.4v2.47h-5.4zM416 506.4h5.4v2.47h-5.4zM426.7 506.4h5.4v2.47h-5.4zM259.8 508.9h5.4v2.47h-5.4zM416 508.9h5.4v2.47h-5.4zM421.3 508.9h5.4v2.47h-5.4zM426.7 508.9h5.4v2.47h-5.4zM432.1 508.9h5.4v2.47h-5.4zM399.8 511.4h5.4v2.47h-5.4zM410.6 511.4h5.4v2.47h-5.4zM432.1 511.4h5.4v2.47h-5.4zM399.8 513.8h5.4v2.47h-5.4zM405.2 513.8h5.4v2.47h-5.4zM421.3 513.8h5.4v2.47h-5.4zM432.1 513.8h5.4v2.47h-5.4zM399.8 516.3h5.4v2.47h-5.4zM399.8 518.7h5.4v2.47h-5.4zM426.7 518.7h5.4v2.47h-5.4zM405.2 523.7h5.4v2.47h-5.4z"/><path fill="#fcd9d9" d="M281.3 257.9h5.4v2.47h-5.4zM367.5 257.9h5.4v2.47h-5.4zM372.9 257.9h5.4v2.47h-5.4zM378.3 257.9h5.4v2.47h-5.4zM243.6 262.8h5.4v2.47h-5.4zM286.7 262.8h5.4v2.47h-5.4zM297.5 262.8h5.4v2.47h-5.4zM362.1 265.2h5.4v2.47h-5.4zM259.8 267.7h5.4v2.47h-5.4zM270.5 267.7h5.4v2.47h-5.4zM249 270.2h5.4v2.47h-5.4zM249 272.6h5.4v2.47h-5.4zM259.8 272.6h5.4v2.47h-5.4zM270.5 272.6h5.4v2.47h-5.4zM340.6 272.6h5.4v2.47h-5.4zM292.1 275.1h5.4v2.47h-5.4zM243.6 277.5h5.4v2.47h-5.4zM324.4 277.5h5.4v2.47h-5.4zM259.8 280h5.4v2.47h-5.4zM270.5 280h5.4v2.47h-5.4zM302.8 280h5.4v2.47h-5.4zM319 280h5.4v2.47h-5.4zM249 282.5h5.4v2.47h-5.4zM394.4 284.9h5.4v2.47h-5.4zM270.5 287.4h5.4v2.47h-5.4zM313.6 287.4h5.4v2.47h-5.4zM340.6 287.4h5.4v2.47h-5.4zM292.1 289.9h5.4v2.47h-5.4zM297.5 289.9h5.4v2.47h-5.4zM302.8 292.3h5.4v2.47h-5.4zM319 292.3h5.4v2.47h-5.4zM324.4 292.3h5.4v2.47h-5.4zM249 294.8h5.4v2.47h-5.4zM270.5 294.8h5.4v2.47h-5.4zM297.5 294.8h5.4v2.47h-5.4zM335.2 294.8h5.4v2.47h-5.4zM249 297.2h5.4v2.47h-5.4zM259.8 297.2h5.4v2.47h-5.4zM265.1 297.2h5.4v2.47h-5.4zM292.1 297.2h5.4v2.47h-5.4zM313.6 297.2h5.4v2.47h-5.4zM319 297.2h5.4v2.47h-5.4zM335.2 297.2h5.4v2.47h-5.4zM416 297.2h5.4v2.47h-5.4zM249 299.7h5.4v2.47h-5.4zM286.7 299.7h5.4v2.47h-5.4zM345.9 299.7h5.4v2.47h-5.4zM259.8 302.2h5.4v2.47h-5.4zM329.8 302.2h5.4v2.47h-5.4zM351.3 302.2h5.4v2.47h-5.4zM254.4 304.6h5.4v2.47h-5.4zM351.3 304.6h5.4v2.47h-5.4zM243.6 307.1h5.4v2.47h-5.4zM249 307.1h5.4v2.47h-5.4zM265.1 307.1h5.4v2.47h-5.4zM286.7 307.1h5.4v2.47h-5.4zM292.1 307.1h5.4v2.47h-5.4zM329.8 307.1h5.4v2.47h-5.4zM270.5 309.5h5.4v2.47h-5.4zM286.7 309.5h5.4v2.47h-5.4zM292.1 309.5h5.4v2.47h-5.4zM259.8 312h5.4v2.47h-5.4zM335.2 312h5.4v2.47h-5.4zM335.2 314.5h5.4v2.47h-5.4zM259.8 316.9h5.4v2.47h-5.4zM292.1 316.9h5.4v2.47h-5.4zM297.5 316.9h5.4v2.47h-5.4zM335.2 316.9h5.4v2.47h-5.4zM367.5 316.9h5.4v2.47h-5.4zM383.6 316.9h5.4v2.47h-5.4zM254.4 319.4h5.4v2.47h-5.4zM265.1 319.4h5.4v2.47h-5.4zM308.2 319.4h5.4v2.47h-5.4zM335.2 319.4h5.4v2.47h-5.4zM340.6 319.4h5.4v2.47h-5.4zM259.8 321.8h5.4v2.47h-5.4zM297.5 321.8h5.4v2.47h-5.4zM319 321.8h5.4v2.47h-5.4zM324.4 321.8h5.4v2.47h-5.4zM259.8 324.3h5.4v2.47h-5.4zM265.1 324.3h5.4v2.47h-5.4zM286.7 324.3h5.4v2.47h-5.4zM319 324.3h5.4v2.47h-5.4zM324.4 324.3h5.4v2.47h-5.4zM335.2 324.3h5.4v2.47h-5.4zM249 326.8h5.4v2.47h-5.4zM270.5 326.8h5.4v2.47h-5.4zM292.1 326.8h5.4v2.47h-5.4zM313.6 326.8h5.4v2.47h-5.4zM329.8 326.8h5.4v2.47h-5.4zM243.6 329.2h5.4v2.47h-5.4zM249 329.2h5.4v2.47h-5.4zM270.5 329.2h5.4v2.47h-5.4zM286.7 329.2h5.4v2.47h-5.4zM297.5 329.2h5.4v2.47h-5.4zM319 329.2h5.4v2.47h-5.4zM243.6 331.7h5.4v2.47h-5.4zM259.8 331.7h5.4v2.47h-5.4zM265.1 331.7h5.4v2.47h-5.4zM319 331.7h5.4v2.47h-5.4zM324.4 331.7h5.4v2.47h-5.4zM329.8 331.7h5.4v2.47h-5.4zM243.6 334.2h5.4v2.47h-5.4zM254.4 334.2h5.4v2.47h-5.4zM286.7 334.2h5.4v2.47h-5.4zM292.1 334.2h5.4v2.47h-5.4zM302.8 334.2h5.4v2.47h-5.4zM308.2 334.2h5.4v2.47h-5.4zM324.4 334.2h5.4v2.47h-5.4zM329.8 334.2h5.4v2.47h-5.4zM335.2 334.2h5.4v2.47h-5.4zM340.6 334.2h5.4v2.47h-5.4zM259.8 336.6h5.4v2.47h-5.4zM265.1 336.6h5.4v2.47h-5.4zM292.1 336.6h5.4v2.47h-5.4zM297.5 336.6h5.4v2.47h-5.4zM308.2 336.6h5.4v2.47h-5.4zM319 336.6h5.4v2.47h-5.4zM324.4 336.6h5.4v2.47h-5.4zM265.1 339.1h5.4v2.47h-5.4zM297.5 339.1h5.4v2.47h-5.4zM324.4 339.1h5.4v2.47h-5.4zM249 341.5h5.4v2.47h-5.4zM259.8 341.5h5.4v2.47h-5.4zM286.7 341.5h5.4v2.47h-5.4zM297.5 341.5h5.4v2.47h-5.4zM313.6 341.5h5.4v2.47h-5.4zM249 344h5.4v2.47h-5.4zM270.5 344h5.4v2.47h-5.4zM286.7 344h5.4v2.47h-5.4zM302.8 344h5.4v2.47h-5.4zM313.6 344h5.4v2.47h-5.4zM324.4 344h5.4v2.47h-5.4zM329.8 344h5.4v2.47h-5.4zM340.6 344h5.4v2.47h-5.4zM259.8 346.5h5.4v2.47h-5.4zM292.1 346.5h5.4v2.47h-5.4zM302.8 346.5h5.4v2.47h-5.4zM249 348.9h5.4v2.47h-5.4zM292.1 348.9h5.4v2.47h-5.4zM297.5 348.9h5.4v2.47h-5.4zM308.2 348.9h5.4v2.47h-5.4zM319 348.9h5.4v2.47h-5.4zM249 351.4h5.4v2.47h-5.4zM259.8 351.4h5.4v2.47h-5.4zM265.1 351.4h5.4v2.47h-5.4zM292.1 351.4h5.4v2.47h-5.4zM297.5 351.4h5.4v2.47h-5.4zM313.6 351.4h5.4v2.47h-5.4zM324.4 351.4h5.4v2.47h-5.4zM394.4 351.4h5.4v2.47h-5.4zM292.1 353.8h5.4v2.47h-5.4zM313.6 353.8h5.4v2.47h-5.4zM254.4 356.3h5.4v2.47h-5.4zM259.8 356.3h5.4v2.47h-5.4zM286.7 356.3h5.4v2.47h-5.4zM313.6 356.3h5.4v2.47h-5.4zM324.4 356.3h5.4v2.47h-5.4zM254.4 358.8h5.4v2.47h-5.4zM297.5 358.8h5.4v2.47h-5.4zM308.2 358.8h5.4v2.47h-5.4zM313.6 358.8h5.4v2.47h-5.4zM329.8 358.8h5.4v2.47h-5.4zM335.2 358.8h5.4v2.47h-5.4zM265.1 361.2h5.4v2.47h-5.4zM249 363.7h5.4v2.47h-5.4zM265.1 363.7h5.4v2.47h-5.4zM270.5 363.7h5.4v2.47h-5.4zM286.7 363.7h5.4v2.47h-5.4zM292.1 363.7h5.4v2.47h-5.4zM308.2 363.7h5.4v2.47h-5.4zM329.8 363.7h5.4v2.47h-5.4zM249 366.1h5.4v2.47h-5.4zM265.1 366.1h5.4v2.47h-5.4zM286.7 366.1h5.4v2.47h-5.4zM292.1 366.1h5.4v2.47h-5.4zM308.2 366.1h5.4v2.47h-5.4zM313.6 366.1h5.4v2.47h-5.4zM324.4 366.1h5.4v2.47h-5.4zM329.8 366.1h5.4v2.47h-5.4zM249 368.6h5.4v2.47h-5.4zM265.1 368.6h5.4v2.47h-5.4zM270.5 368.6h5.4v2.47h-5.4zM367.5 373.5h5.4v2.47h-5.4zM372.9 373.5h5.4v2.47h-5.4zM378.3 373.5h5.4v2.47h-5.4zM383.6 373.5h5.4v2.47h-5.4zM265.1 378.5h5.4v2.47h-5.4zM249 380.9h5.4v2.47h-5.4zM265.1 380.9h5.4v2.47h-5.4zM249 385.8h5.4v2.47h-5.4zM416 388.3h5.4v2.47h-5.4zM275.9 390.8h5.4v2.47h-5.4zM275.9 395.7h5.4v2.47h-5.4zM265.1 412.9h5.4v2.47h-5.4zM254.4 422.8h5.4v2.47h-5.4zM286.7 422.8h5.4v2.47h-5.4zM292.1 422.8h5.4v2.47h-5.4zM297.5 422.8h5.4v2.47h-5.4zM324.4 422.8h5.4v2.47h-5.4zM249 425.2h5.4v2.47h-5.4zM265.1 425.2h5.4v2.47h-5.4zM292.1 425.2h5.4v2.47h-5.4zM297.5 425.2h5.4v2.47h-5.4zM302.8 425.2h5.4v2.47h-5.4zM313.6 425.2h5.4v2.47h-5.4zM292.1 427.7h5.4v2.47h-5.4zM297.5 427.7h5.4v2.47h-5.4zM302.8 427.7h5.4v2.47h-5.4zM308.2 427.7h5.4v2.47h-5.4zM313.6 427.7h5.4v2.47h-5.4zM259.8 430.1h5.4v2.47h-5.4zM292.1 430.1h5.4v2.47h-5.4zM297.5 430.1h5.4v2.47h-5.4zM372.9 430.1h5.4v2.47h-5.4zM378.3 430.1h5.4v2.47h-5.4zM389 430.1h5.4v2.47h-5.4zM394.4 430.1h5.4v2.47h-5.4zM286.7 432.6h5.4v2.47h-5.4zM292.1 432.6h5.4v2.47h-5.4zM297.5 432.6h5.4v2.47h-5.4zM302.8 432.6h5.4v2.47h-5.4zM313.6 432.6h5.4v2.47h-5.4zM324.4 432.6h5.4v2.47h-5.4zM372.9 432.6h5.4v2.47h-5.4zM265.1 435.1h5.4v2.47h-5.4zM270.5 435.1h5.4v2.47h-5.4zM286.7 435.1h5.4v2.47h-5.4zM302.8 435.1h5.4v2.47h-5.4zM308.2 435.1h5.4v2.47h-5.4zM324.4 435.1h5.4v2.47h-5.4zM329.8 435.1h5.4v2.47h-5.4zM340.6 435.1h5.4v2.47h-5.4zM286.7 437.5h5.4v2.47h-5.4zM313.6 437.5h5.4v2.47h-5.4zM319 437.5h5.4v2.47h-5.4zM324.4 437.5h5.4v2.47h-5.4zM292.1 440h5.4v2.47h-5.4zM313.6 440h5.4v2.47h-5.4zM319 440h5.4v2.47h-5.4zM356.7 440h5.4v2.47h-5.4zM259.8 442.4h5.4v2.47h-5.4zM292.1 442.4h5.4v2.47h-5.4zM302.8 442.4h5.4v2.47h-5.4zM270.5 444.9h5.4v2.47h-5.4zM399.8 444.9h5.4v2.47h-5.4zM249 447.4h5.4v2.47h-5.4zM286.7 447.4h5.4v2.47h-5.4zM297.5 447.4h5.4v2.47h-5.4zM345.9 447.4h5.4v2.47h-5.4zM394.4 447.4h5.4v2.47h-5.4zM399.8 447.4h5.4v2.47h-5.4zM254.4 449.8h5.4v2.47h-5.4zM286.7 449.8h5.4v2.47h-5.4zM319 449.8h5.4v2.47h-5.4zM254.4 452.3h5.4v2.47h-5.4zM265.1 452.3h5.4v2.47h-5.4zM292.1 452.3h5.4v2.47h-5.4zM319 452.3h5.4v2.47h-5.4zM324.4 452.3h5.4v2.47h-5.4zM362.1 452.3h5.4v2.47h-5.4zM399.8 452.3h5.4v2.47h-5.4zM405.2 452.3h5.4v2.47h-5.4zM292.1 454.7h5.4v2.47h-5.4zM399.8 454.7h5.4v2.47h-5.4zM426.7 454.7h5.4v2.47h-5.4zM389 457.2h5.4v2.47h-5.4zM399.8 457.2h5.4v2.47h-5.4zM254.4 462.1h5.4v2.47h-5.4zM259.8 464.6h5.4v2.47h-5.4zM265.1 464.6h5.4v2.47h-5.4zM259.8 467.1h5.4v2.47h-5.4zM410.6 472h5.4v2.47h-5.4zM265.1 476.9h5.4v2.47h-5.4zM270.5 476.9h5.4v2.47h-5.4zM410.6 476.9h5.4v2.47h-5.4zM416 476.9h5.4v2.47h-5.4zM394.4 479.4h5.4v2.47h-5.4zM399.8 479.4h5.4v2.47h-5.4zM405.2 479.4h5.4v2.47h-5.4zM421.3 479.4h5.4v2.47h-5.4zM259.8 481.8h5.4v2.47h-5.4zM378.3 481.8h5.4v2.47h-5.4zM383.6 481.8h5.4v2.47h-5.4zM394.4 481.8h5.4v2.47h-5.4zM410.6 481.8h5.4v2.47h-5.4zM416 481.8h5.4v2.47h-5.4zM259.8 484.3h5.4v2.47h-5.4zM345.9 484.3h5.4v2.47h-5.4zM372.9 484.3h5.4v2.47h-5.4zM378.3 484.3h5.4v2.47h-5.4zM394.4 484.3h5.4v2.47h-5.4zM405.2 484.3h5.4v2.47h-5.4zM416 484.3h5.4v2.47h-5.4zM243.6 486.7h5.4v2.47h-5.4zM259.8 486.7h5.4v2.47h-5.4zM265.1 486.7h5.4v2.47h-5.4zM270.5 486.7h5.4v2.47h-5.4zM367.5 486.7h5.4v2.47h-5.4zM378.3 486.7h5.4v2.47h-5.4zM243.6 489.2h5.4v2.47h-5.4zM378.3 489.2h5.4v2.47h-5.4zM389 489.2h5.4v2.47h-5.4zM394.4 489.2h5.4v2.47h-5.4zM421.3 489.2h5.4v2.47h-5.4zM426.7 489.2h5.4v2.47h-5.4zM421.3 491.7h5.4v2.47h-5.4zM281.3 494.1h5.4v2.47h-5.4zM340.6 494.1h5.4v2.47h-5.4zM405.2 494.1h5.4v2.47h-5.4zM432.1 494.1h5.4v2.47h-5.4zM243.6 496.6h5.4v2.47h-5.4zM432.1 496.6h5.4v2.47h-5.4zM335.2 499h5.4v2.47h-5.4zM399.8 499h5.4v2.47h-5.4zM410.6 499h5.4v2.47h-5.4zM421.3 499h5.4v2.47h-5.4zM426.7 499h5.4v2.47h-5.4zM319 501.5h5.4v2.47h-5.4zM421.3 501.5h5.4v2.47h-5.4zM329.8 504h5.4v2.47h-5.4zM399.8 504h5.4v2.47h-5.4zM329.8 506.4h5.4v2.47h-5.4zM335.2 506.4h5.4v2.47h-5.4zM394.4 506.4h5.4v2.47h-5.4zM432.1 506.4h5.4v2.47h-5.4zM399.8 508.9h5.4v2.47h-5.4zM362.1 511.4h5.4v2.47h-5.4zM340.6 513.8h5.4v2.47h-5.4zM410.6 513.8h5.4v2.47h-5.4zM416 513.8h5.4v2.47h-5.4zM426.7 513.8h5.4v2.47h-5.4zM410.6 516.3h5.4v2.47h-5.4zM410.6 518.7h5.4v2.47h-5.4zM416 518.7h5.4v2.47h-5.4zM410.6 521.2h5.4v2.47h-5.4zM432.1 521.2h5.4v2.47h-5.4zM410.6 523.7h5.4v2.47h-5.4zM416 523.7h5.4v2.47h-5.4z"/><path fill="#fbcfcf" d="M383.6 257.9h5.4v2.47h-5.4zM302.8 260.3h5.4v2.47h-5.4zM367.5 260.3h5.4v2.47h-5.4zM302.8 262.8h5.4v2.47h-5.4zM292.1 267.7h5.4v2.47h-5.4zM340.6 267.7h5.4v2.47h-5.4zM265.1 272.6h5.4v2.47h-5.4zM345.9 272.6h5.4v2.47h-5.4zM243.6 275.1h5.4v2.47h-5.4zM286.7 275.1h5.4v2.47h-5.4zM319 275.1h5.4v2.47h-5.4zM297.5 280h5.4v2.47h-5.4zM308.2 280h5.4v2.47h-5.4zM243.6 282.5h5.4v2.47h-5.4zM286.7 282.5h5.4v2.47h-5.4zM292.1 282.5h5.4v2.47h-5.4zM313.6 282.5h5.4v2.47h-5.4zM416 284.9h5.4v2.47h-5.4zM286.7 287.4h5.4v2.47h-5.4zM292.1 287.4h5.4v2.47h-5.4zM416 287.4h5.4v2.47h-5.4zM416 289.9h5.4v2.47h-5.4zM249 292.3h5.4v2.47h-5.4zM297.5 292.3h5.4v2.47h-5.4zM389 292.3h5.4v2.47h-5.4zM345.9 294.8h5.4v2.47h-5.4zM351.3 294.8h5.4v2.47h-5.4zM243.6 297.2h5.4v2.47h-5.4zM308.2 297.2h5.4v2.47h-5.4zM345.9 297.2h5.4v2.47h-5.4zM243.6 299.7h5.4v2.47h-5.4zM259.8 299.7h5.4v2.47h-5.4zM292.1 299.7h5.4v2.47h-5.4zM335.2 299.7h5.4v2.47h-5.4zM345.9 302.2h5.4v2.47h-5.4zM259.8 304.6h5.4v2.47h-5.4zM265.1 314.5h5.4v2.47h-5.4zM297.5 314.5h5.4v2.47h-5.4zM270.5 316.9h5.4v2.47h-5.4zM351.3 316.9h5.4v2.47h-5.4zM259.8 319.4h5.4v2.47h-5.4zM292.1 319.4h5.4v2.47h-5.4zM297.5 319.4h5.4v2.47h-5.4zM329.8 319.4h5.4v2.47h-5.4zM345.9 319.4h5.4v2.47h-5.4zM243.6 321.8h5.4v2.47h-5.4zM254.4 321.8h5.4v2.47h-5.4zM286.7 321.8h5.4v2.47h-5.4zM308.2 321.8h5.4v2.47h-5.4zM249 324.3h5.4v2.47h-5.4zM270.5 324.3h5.4v2.47h-5.4zM308.2 324.3h5.4v2.47h-5.4zM243.6 326.8h5.4v2.47h-5.4zM254.4 326.8h5.4v2.47h-5.4zM265.1 326.8h5.4v2.47h-5.4zM286.7 326.8h5.4v2.47h-5.4zM297.5 326.8h5.4v2.47h-5.4zM302.8 326.8h5.4v2.47h-5.4zM324.4 326.8h5.4v2.47h-5.4zM259.8 329.2h5.4v2.47h-5.4zM265.1 329.2h5.4v2.47h-5.4zM292.1 329.2h5.4v2.47h-5.4zM302.8 329.2h5.4v2.47h-5.4zM292.1 331.7h5.4v2.47h-5.4zM297.5 331.7h5.4v2.47h-5.4zM302.8 331.7h5.4v2.47h-5.4zM308.2 331.7h5.4v2.47h-5.4zM335.2 331.7h5.4v2.47h-5.4zM302.8 336.6h5.4v2.47h-5.4zM286.7 339.1h5.4v2.47h-5.4zM329.8 339.1h5.4v2.47h-5.4zM270.5 341.5h5.4v2.47h-5.4zM292.1 341.5h5.4v2.47h-5.4zM319 344h5.4v2.47h-5.4zM319 346.5h5.4v2.47h-5.4zM243.6 348.9h5.4v2.47h-5.4zM259.8 348.9h5.4v2.47h-5.4zM286.7 348.9h5.4v2.47h-5.4zM302.8 348.9h5.4v2.47h-5.4zM286.7 351.4h5.4v2.47h-5.4zM302.8 351.4h5.4v2.47h-5.4zM319 351.4h5.4v2.47h-5.4zM265.1 356.3h5.4v2.47h-5.4zM297.5 356.3h5.4v2.47h-5.4zM265.1 358.8h5.4v2.47h-5.4zM292.1 358.8h5.4v2.47h-5.4zM259.8 361.2h5.4v2.47h-5.4zM297.5 361.2h5.4v2.47h-5.4zM329.8 361.2h5.4v2.47h-5.4zM335.2 361.2h5.4v2.47h-5.4zM259.8 363.7h5.4v2.47h-5.4zM324.4 363.7h5.4v2.47h-5.4zM243.6 366.1h5.4v2.47h-5.4zM270.5 366.1h5.4v2.47h-5.4zM302.8 366.1h5.4v2.47h-5.4zM319 366.1h5.4v2.47h-5.4zM372.9 376h5.4v2.47h-5.4zM378.3 376h5.4v2.47h-5.4zM394.4 376h5.4v2.47h-5.4zM265.1 383.4h5.4v2.47h-5.4zM335.2 398.1h5.4v2.47h-5.4zM372.9 403.1h5.4v2.47h-5.4zM367.5 422.8h5.4v2.47h-5.4zM372.9 422.8h5.4v2.47h-5.4zM270.5 425.2h5.4v2.47h-5.4zM372.9 425.2h5.4v2.47h-5.4zM383.6 425.2h5.4v2.47h-5.4zM394.4 425.2h5.4v2.47h-5.4zM319 427.7h5.4v2.47h-5.4zM367.5 427.7h5.4v2.47h-5.4zM372.9 427.7h5.4v2.47h-5.4zM394.4 427.7h5.4v2.47h-5.4zM270.5 430.1h5.4v2.47h-5.4zM249 432.6h5.4v2.47h-5.4zM308.2 432.6h5.4v2.47h-5.4zM243.6 435.1h5.4v2.47h-5.4zM297.5 435.1h5.4v2.47h-5.4zM243.6 437.5h5.4v2.47h-5.4zM270.5 437.5h5.4v2.47h-5.4zM297.5 437.5h5.4v2.47h-5.4zM302.8 437.5h5.4v2.47h-5.4zM243.6 440h5.4v2.47h-5.4zM297.5 440h5.4v2.47h-5.4zM308.2 440h5.4v2.47h-5.4zM324.4 440h5.4v2.47h-5.4zM270.5 442.4h5.4v2.47h-5.4zM313.6 442.4h5.4v2.47h-5.4zM319 442.4h5.4v2.47h-5.4zM324.4 442.4h5.4v2.47h-5.4zM249 444.9h5.4v2.47h-5.4zM286.7 444.9h5.4v2.47h-5.4zM297.5 444.9h5.4v2.47h-5.4zM254.4 447.4h5.4v2.47h-5.4zM389 447.4h5.4v2.47h-5.4zM243.6 449.8h5.4v2.47h-5.4zM362.1 449.8h5.4v2.47h-5.4zM367.5 449.8h5.4v2.47h-5.4zM383.6 449.8h5.4v2.47h-5.4zM399.8 449.8h5.4v2.47h-5.4zM270.5 452.3h5.4v2.47h-5.4zM286.7 452.3h5.4v2.47h-5.4zM394.4 452.3h5.4v2.47h-5.4zM421.3 452.3h5.4v2.47h-5.4zM275.9 457.2h5.4v2.47h-5.4zM394.4 457.2h5.4v2.47h-5.4zM362.1 459.7h5.4v2.47h-5.4zM394.4 459.7h5.4v2.47h-5.4zM259.8 469.5h5.4v2.47h-5.4zM335.2 469.5h5.4v2.47h-5.4zM340.6 472h5.4v2.47h-5.4zM416 472h5.4v2.47h-5.4zM421.3 472h5.4v2.47h-5.4zM265.1 474.4h5.4v2.47h-5.4zM335.2 474.4h5.4v2.47h-5.4zM345.9 476.9h5.4v2.47h-5.4zM405.2 476.9h5.4v2.47h-5.4zM421.3 476.9h5.4v2.47h-5.4zM426.7 476.9h5.4v2.47h-5.4zM432.1 476.9h5.4v2.47h-5.4zM254.4 479.4h5.4v2.47h-5.4zM389 479.4h5.4v2.47h-5.4zM426.7 479.4h5.4v2.47h-5.4zM254.4 481.8h5.4v2.47h-5.4zM265.1 481.8h5.4v2.47h-5.4zM389 481.8h5.4v2.47h-5.4zM399.8 481.8h5.4v2.47h-5.4zM254.4 484.3h5.4v2.47h-5.4zM383.6 484.3h5.4v2.47h-5.4zM389 484.3h5.4v2.47h-5.4zM249 486.7h5.4v2.47h-5.4zM383.6 486.7h5.4v2.47h-5.4zM399.8 486.7h5.4v2.47h-5.4zM410.6 486.7h5.4v2.47h-5.4zM432.1 486.7h5.4v2.47h-5.4zM367.5 489.2h5.4v2.47h-5.4zM372.9 489.2h5.4v2.47h-5.4zM383.6 489.2h5.4v2.47h-5.4zM432.1 489.2h5.4v2.47h-5.4zM372.9 491.7h5.4v2.47h-5.4zM383.6 491.7h5.4v2.47h-5.4zM329.8 499h5.4v2.47h-5.4zM340.6 499h5.4v2.47h-5.4zM399.8 501.5h5.4v2.47h-5.4zM426.7 501.5h5.4v2.47h-5.4zM432.1 504h5.4v2.47h-5.4zM243.6 508.9h5.4v2.47h-5.4zM340.6 511.4h5.4v2.47h-5.4zM351.3 511.4h5.4v2.47h-5.4zM405.2 511.4h5.4v2.47h-5.4zM426.7 516.3h5.4v2.47h-5.4zM243.6 518.7h5.4v2.47h-5.4zM421.3 521.2h5.4v2.47h-5.4zM399.8 523.7h5.4v2.47h-5.4zM243.6 526.1h5.4v2.47h-5.4zM329.8 531h5.4v2.47h-5.4z"/><path fill="#f8aeae" d="M421.3 255.4h5.4v2.47h-5.4zM362.1 257.9h5.4v2.47h-5.4zM275.9 260.3h5.4v2.47h-5.4zM275.9 262.8h5.4v2.47h-5.4zM281.3 262.8h5.4v2.47h-5.4zM292.1 262.8h5.4v2.47h-5.4zM345.9 282.5h5.4v2.47h-5.4zM324.4 284.9h5.4v2.47h-5.4zM356.7 287.4h5.4v2.47h-5.4zM356.7 289.9h5.4v2.47h-5.4zM286.7 292.3h5.4v2.47h-5.4zM356.7 292.3h5.4v2.47h-5.4zM340.6 302.2h5.4v2.47h-5.4zM351.3 309.5h5.4v2.47h-5.4zM249 312h5.4v2.47h-5.4zM243.6 314.5h5.4v2.47h-5.4zM249 314.5h5.4v2.47h-5.4zM249 316.9h5.4v2.47h-5.4zM275.9 319.4h5.4v2.47h-5.4zM340.6 339.1h5.4v2.47h-5.4zM394.4 353.8h5.4v2.47h-5.4zM329.8 356.3h5.4v2.47h-5.4zM249 358.8h5.4v2.47h-5.4zM243.6 361.2h5.4v2.47h-5.4zM275.9 363.7h5.4v2.47h-5.4zM275.9 366.1h5.4v2.47h-5.4zM372.9 371.1h5.4v2.47h-5.4zM249 376h5.4v2.47h-5.4zM254.4 376h5.4v2.47h-5.4zM270.5 376h5.4v2.47h-5.4zM286.7 376h5.4v2.47h-5.4zM254.4 380.9h5.4v2.47h-5.4zM259.8 380.9h5.4v2.47h-5.4zM254.4 383.4h5.4v2.47h-5.4zM259.8 385.8h5.4v2.47h-5.4zM243.6 388.3h5.4v2.47h-5.4zM265.1 390.8h5.4v2.47h-5.4zM243.6 393.2h5.4v2.47h-5.4zM249 393.2h5.4v2.47h-5.4zM259.8 395.7h5.4v2.47h-5.4zM265.1 398.1h5.4v2.47h-5.4zM243.6 400.6h5.4v2.47h-5.4zM243.6 405.5h5.4v2.47h-5.4zM259.8 405.5h5.4v2.47h-5.4zM254.4 408h5.4v2.47h-5.4zM249 412.9h5.4v2.47h-5.4zM259.8 412.9h5.4v2.47h-5.4zM254.4 415.4h5.4v2.47h-5.4zM259.8 417.8h5.4v2.47h-5.4zM265.1 417.8h5.4v2.47h-5.4zM259.8 420.3h5.4v2.47h-5.4zM265.1 422.8h5.4v2.47h-5.4zM254.4 435.1h5.4v2.47h-5.4zM356.7 435.1h5.4v2.47h-5.4zM249 440h5.4v2.47h-5.4zM265.1 444.9h5.4v2.47h-5.4zM345.9 444.9h5.4v2.47h-5.4zM259.8 447.4h5.4v2.47h-5.4zM265.1 447.4h5.4v2.47h-5.4zM367.5 452.3h5.4v2.47h-5.4zM378.3 452.3h5.4v2.47h-5.4zM286.7 454.7h5.4v2.47h-5.4zM378.3 454.7h5.4v2.47h-5.4zM378.3 457.2h5.4v2.47h-5.4zM249 467.1h5.4v2.47h-5.4zM249 469.5h5.4v2.47h-5.4zM249 472h5.4v2.47h-5.4zM259.8 479.4h5.4v2.47h-5.4zM340.6 479.4h5.4v2.47h-5.4zM362.1 496.6h5.4v2.47h-5.4zM335.2 501.5h5.4v2.47h-5.4zM405.2 504h5.4v2.47h-5.4zM405.2 508.9h5.4v2.47h-5.4zM351.3 513.8h5.4v2.47h-5.4z"/><path fill="#f7a4a4" d="M286.7 260.3h5.4v2.47h-5.4zM297.5 260.3h5.4v2.47h-5.4zM281.3 275.1h5.4v2.47h-5.4zM324.4 282.5h5.4v2.47h-5.4zM362.1 282.5h5.4v2.47h-5.4zM367.5 282.5h5.4v2.47h-5.4zM302.8 289.9h5.4v2.47h-5.4zM319 289.9h5.4v2.47h-5.4zM367.5 292.3h5.4v2.47h-5.4zM340.6 304.6h5.4v2.47h-5.4zM351.3 307.1h5.4v2.47h-5.4zM340.6 312h5.4v2.47h-5.4zM340.6 314.5h5.4v2.47h-5.4zM394.4 316.9h5.4v2.47h-5.4zM243.6 319.4h5.4v2.47h-5.4zM249 331.7h5.4v2.47h-5.4zM254.4 373.5h5.4v2.47h-5.4zM259.8 376h5.4v2.47h-5.4zM292.1 376h5.4v2.47h-5.4zM297.5 376h5.4v2.47h-5.4zM367.5 376h5.4v2.47h-5.4zM243.6 378.5h5.4v2.47h-5.4zM249 378.5h5.4v2.47h-5.4zM270.5 378.5h5.4v2.47h-5.4zM254.4 385.8h5.4v2.47h-5.4zM249 388.3h5.4v2.47h-5.4zM254.4 388.3h5.4v2.47h-5.4zM254.4 390.8h5.4v2.47h-5.4zM254.4 393.2h5.4v2.47h-5.4zM265.1 393.2h5.4v2.47h-5.4zM254.4 395.7h5.4v2.47h-5.4zM265.1 395.7h5.4v2.47h-5.4zM254.4 398.1h5.4v2.47h-5.4zM249 400.6h5.4v2.47h-5.4zM254.4 400.6h5.4v2.47h-5.4zM259.8 400.6h5.4v2.47h-5.4zM243.6 403.1h5.4v2.47h-5.4zM249 403.1h5.4v2.47h-5.4zM249 405.5h5.4v2.47h-5.4zM265.1 405.5h5.4v2.47h-5.4zM249 408h5.4v2.47h-5.4zM259.8 408h5.4v2.47h-5.4zM265.1 408h5.4v2.47h-5.4zM249 410.4h5.4v2.47h-5.4zM265.1 410.4h5.4v2.47h-5.4zM243.6 412.9h5.4v2.47h-5.4zM243.6 415.4h5.4v2.47h-5.4zM249 415.4h5.4v2.47h-5.4zM259.8 415.4h5.4v2.47h-5.4zM265.1 415.4h5.4v2.47h-5.4zM243.6 417.8h5.4v2.47h-5.4zM254.4 417.8h5.4v2.47h-5.4zM254.4 420.3h5.4v2.47h-5.4zM259.8 435.1h5.4v2.47h-5.4zM254.4 437.5h5.4v2.47h-5.4zM259.8 437.5h5.4v2.47h-5.4zM259.8 440h5.4v2.47h-5.4zM308.2 444.9h5.4v2.47h-5.4zM259.8 449.8h5.4v2.47h-5.4zM259.8 452.3h5.4v2.47h-5.4zM372.9 454.7h5.4v2.47h-5.4zM383.6 454.7h5.4v2.47h-5.4zM367.5 457.2h5.4v2.47h-5.4zM372.9 457.2h5.4v2.47h-5.4zM340.6 459.7h5.4v2.47h-5.4zM367.5 459.7h5.4v2.47h-5.4zM249 464.6h5.4v2.47h-5.4zM243.6 467.1h5.4v2.47h-5.4zM243.6 472h5.4v2.47h-5.4zM329.8 472h5.4v2.47h-5.4zM335.2 472h5.4v2.47h-5.4zM243.6 474.4h5.4v2.47h-5.4zM249 474.4h5.4v2.47h-5.4zM345.9 479.4h5.4v2.47h-5.4zM351.3 479.4h5.4v2.47h-5.4zM340.6 481.8h5.4v2.47h-5.4zM345.9 481.8h5.4v2.47h-5.4zM351.3 481.8h5.4v2.47h-5.4zM329.8 501.5h5.4v2.47h-5.4zM405.2 501.5h5.4v2.47h-5.4zM405.2 506.4h5.4v2.47h-5.4zM410.6 506.4h5.4v2.47h-5.4zM356.7 508.9h5.4v2.47h-5.4zM410.6 508.9h5.4v2.47h-5.4zM356.7 513.8h5.4v2.47h-5.4z"/><path fill="#f69999" d="M286.7 257.9h5.4v2.47h-5.4zM292.1 257.9h5.4v2.47h-5.4zM281.3 260.3h5.4v2.47h-5.4zM275.9 280h5.4v2.47h-5.4zM356.7 294.8h5.4v2.47h-5.4zM356.7 297.2h5.4v2.47h-5.4zM340.6 299.7h5.4v2.47h-5.4zM243.6 302.2h5.4v2.47h-5.4zM243.6 304.6h5.4v2.47h-5.4zM340.6 307.1h5.4v2.47h-5.4zM243.6 309.5h5.4v2.47h-5.4zM249 309.5h5.4v2.47h-5.4zM243.6 312h5.4v2.47h-5.4zM367.5 314.5h5.4v2.47h-5.4zM383.6 314.5h5.4v2.47h-5.4zM243.6 316.9h5.4v2.47h-5.4zM249 319.4h5.4v2.47h-5.4zM249 321.8h5.4v2.47h-5.4zM249 339.1h5.4v2.47h-5.4zM254.4 351.4h5.4v2.47h-5.4zM340.6 353.8h5.4v2.47h-5.4zM345.9 353.8h5.4v2.47h-5.4zM243.6 356.3h5.4v2.47h-5.4zM249 356.3h5.4v2.47h-5.4zM243.6 358.8h5.4v2.47h-5.4zM275.9 361.2h5.4v2.47h-5.4zM243.6 363.7h5.4v2.47h-5.4zM340.6 363.7h5.4v2.47h-5.4zM275.9 368.6h5.4v2.47h-5.4zM243.6 373.5h5.4v2.47h-5.4zM259.8 373.5h5.4v2.47h-5.4zM243.6 376h5.4v2.47h-5.4zM265.1 388.3h5.4v2.47h-5.4zM243.6 390.8h5.4v2.47h-5.4zM259.8 390.8h5.4v2.47h-5.4zM259.8 393.2h5.4v2.47h-5.4zM243.6 395.7h5.4v2.47h-5.4zM249 395.7h5.4v2.47h-5.4zM249 398.1h5.4v2.47h-5.4zM259.8 398.1h5.4v2.47h-5.4zM265.1 400.6h5.4v2.47h-5.4zM254.4 403.1h5.4v2.47h-5.4zM259.8 403.1h5.4v2.47h-5.4zM265.1 403.1h5.4v2.47h-5.4zM243.6 408h5.4v2.47h-5.4zM243.6 410.4h5.4v2.47h-5.4zM254.4 410.4h5.4v2.47h-5.4zM259.8 410.4h5.4v2.47h-5.4zM254.4 412.9h5.4v2.47h-5.4zM249 417.8h5.4v2.47h-5.4zM243.6 420.3h5.4v2.47h-5.4zM249 420.3h5.4v2.47h-5.4zM265.1 420.3h5.4v2.47h-5.4zM265.1 432.6h5.4v2.47h-5.4zM356.7 437.5h5.4v2.47h-5.4zM254.4 440h5.4v2.47h-5.4zM254.4 442.4h5.4v2.47h-5.4zM259.8 444.9h5.4v2.47h-5.4zM319 444.9h5.4v2.47h-5.4zM426.7 447.4h5.4v2.47h-5.4zM265.1 449.8h5.4v2.47h-5.4zM372.9 452.3h5.4v2.47h-5.4zM383.6 452.3h5.4v2.47h-5.4zM367.5 454.7h5.4v2.47h-5.4zM383.6 457.2h5.4v2.47h-5.4zM243.6 464.6h5.4v2.47h-5.4zM270.5 467.1h5.4v2.47h-5.4zM243.6 469.5h5.4v2.47h-5.4zM270.5 479.4h5.4v2.47h-5.4zM399.8 494.1h5.4v2.47h-5.4zM405.2 496.6h5.4v2.47h-5.4zM410.6 496.6h5.4v2.47h-5.4zM410.6 501.5h5.4v2.47h-5.4zM356.7 511.4h5.4v2.47h-5.4zM335.2 531h5.4v2.47h-5.4z"/><path fill="#f58e8e" d="M297.5 257.9h5.4v2.47h-5.4zM292.1 260.3h5.4v2.47h-5.4zM362.1 289.9h5.4v2.47h-5.4zM249 302.2h5.4v2.47h-5.4zM249 304.6h5.4v2.47h-5.4zM340.6 309.5h5.4v2.47h-5.4zM270.5 380.9h5.4v2.47h-5.4zM265.1 385.8h5.4v2.47h-5.4zM270.5 385.8h5.4v2.47h-5.4zM259.8 388.3h5.4v2.47h-5.4zM249 390.8h5.4v2.47h-5.4zM270.5 390.8h5.4v2.47h-5.4zM270.5 395.7h5.4v2.47h-5.4zM243.6 398.1h5.4v2.47h-5.4zM270.5 400.6h5.4v2.47h-5.4zM254.4 405.5h5.4v2.47h-5.4zM270.5 415.4h5.4v2.47h-5.4zM270.5 420.3h5.4v2.47h-5.4zM270.5 449.8h5.4v2.47h-5.4zM410.6 504h5.4v2.47h-5.4z"/><path fill="#f48383" d="M270.5 383.4h5.4v2.47h-5.4zM270.5 393.2h5.4v2.47h-5.4zM270.5 398.1h5.4v2.47h-5.4zM270.5 403.1h5.4v2.47h-5.4zM270.5 408h5.4v2.47h-5.4zM270.5 410.4h5.4v2.47h-5.4zM270.5 412.9h5.4v2.47h-5.4z"/><path fill="#f37979" d="M270.5 388.3h5.4v2.47h-5.4zM270.5 405.5h5.4v2.47h-5.4zM270.5 417.8h5.4v2.47h-5.4z"/><path fill="#f16363" d="M275.9 265.2h5.4v2.47h-5.4zM281.3 265.2h5.4v2.47h-5.4zM281.3 267.7h5.4v2.47h-5.4zM275.9 270.2h5.4v2.47h-5.4zM275.9 272.6h5.4v2.47h-5.4zM281.3 272.6h5.4v2.47h-5.4zM275.9 358.8h5.4v2.47h-5.4zM243.6 371.1h5.4v2.47h-5.4zM249 371.1h5.4v2.47h-5.4zM394.4 388.3h5.4v2.47h-5.4zM356.7 447.4h5.4v2.47h-5.4z"/><path fill="#f05858" d="M281.3 255.4h5.4v2.47h-5.4zM405.2 255.4h5.4v2.47h-5.4zM275.9 277.5h5.4v2.47h-5.4zM254.4 284.9h5.4v2.47h-5.4zM249 373.5h5.4v2.47h-5.4zM259.8 383.4h5.4v2.47h-5.4zM426.7 491.7h5.4v2.47h-5.4zM399.8 521.2h5.4v2.47h-5.4z"/><path fill="#ef4e4e" d="M362.1 255.4h5.4v2.47h-5.4zM275.9 267.7h5.4v2.47h-5.4zM281.3 270.2h5.4v2.47h-5.4zM275.9 275.1h5.4v2.47h-5.4zM281.3 277.5h5.4v2.47h-5.4zM281.3 280h5.4v2.47h-5.4zM275.9 356.3h5.4v2.47h-5.4zM254.4 371.1h5.4v2.47h-5.4zM335.2 528.6h5.4v2.47h-5.4z"/>
<path d="M243.6 255.4H437.5M243.6 257.9H437.5M243.6 260.3H437.5M243.6 262.8H437.5M243.6 265.2H437.5M243.6 267.7H437.5M243.6 270.2H437.5M243.6 272.6H437.5M243.6 275.1H437.5M243.6 277.5H437.5M243.6 280H437.5M243.6 282.5H437.5M243.6 284.9H437.5M243.6 287.4H437.5M243.6 289.9H437.5M243.6 292.3H437.5M243.6 294.8H437.5M243.6 297.2H437.5M243.6 299.7H437.5M243.6 302.2H437.5M243.6 304.6H437.5M243.6 307.1H437.5M243.6 309.5H437.5M243.6 312H437.5M243.6 314.5H437.5M243.6 316.9H437.5M243.6 319.4H437.5M243.6 321.8H437.5M243.6 324.3H437.5M243.6 326.8H437.5M243.6 329.2H437.5M243.6 331.7H437.5M243.6 334.2H437.5M243.6 336.6H437.5M243.6 339.1H437.5M243.6 341.5H437.5M243.6 344H437.5M243.6 346.5H437.5M243.6 348.9H437.5M243.6 351.4H437.5M243.6 353.8H437.5M243.6 356.3H437.5M243.6 358.8H437.5M243.6 361.2H437.5M243.6 363.7H437.5M243.6 366.1H437.5M243.6 368.6H437.5M243.6 371.1H437.5M243.6 373.5H437.5M243.6 376H437.5M243.6 378.5H437.5M243.6 380.9H437.5M243.6 383.4H437.5M243.6 385.8H437.5M243.6 388.3H437.5M243.6 390.8H437.5M243.6 393.2H437.5M243.6 395.7H437.5M243.6 398.1H437.5M243.6 400.6H437.5M243.6 403.1H437.5M243.6 405.5H437.5M243.6 408H437.5M243.6 410.4H437.5M243.6 412.9H437.5M243.6 415.4H437.5M243.6 417.8H437.5M243.6 420.3H437.5M243.6 422.8H437.5M243.6 425.2H437.5M243.6 427.7H437.5M243.6 430.1H437.5M243.6 432.6H437.5M243.6 435.1H437.5M243.6 437.5H437.5M243.6 440H437.5M243.6 442.4H437.5M243.6 444.9H437.5M243.6 447.4H437.5M243.6 449.8H437.5M243.6 452.3H437.5M243.6 454.7H437.5M243.6 457.2H437.5M243.6 459.7H437.5M243.6 462.1H437.5M243.6 464.6H437.5M243.6 467.1H437.5M243.6 469.5H437.5M243.6 472H437.5M243.6 474.4H437.5M243.6 476.9H437.5M243.6 479.4H437.5M243.6 481.8H437.5M243.6 484.3H437.5M243.6 486.7H437.5M243.6 489.2H437.5M243.6 491.7H437.5M243.6 494.1H437.5M243.6 496.6H437.5M243.6 499H437.5M243.6 501.5H437.5M243.6 504H437.5M243.6 506.4H437.5M243.6 508.9H437.5M243.6 511.4H437.5M243.6 513.8H437.5M243.6 516.3H437.5M243.6 518.7H437.5M243.6 521.2H437.5M243.6 523.7H437.5M243.6 526.1H437.5M243.6 528.6H437.5M243.6 531H437.5M243.6 533.5H437.5M243.6 255.4V533.5M249 255.4V533.5M254.4 255.4V533.5M259.8 255.4V533.5M265.1 255.4V533.5M270.5 255.4V533.5M275.9 255.4V533.5M281.3 255.4V533.5M286.7 255.4V533.5M292.1 255.4V533.5M297.5 255.4V533.5M302.8 255.4V533.5M308.2 255.4V533.5M313.6 255.4V533.5M319 255.4V533.5M324.4 255.4V533.5M329.8 255.4V533.5M335.2 255.4V533.5M340.6 255.4V533.5M345.9 255.4V533.5M351.3 255.4V533.5M356.7 255.4V533.5M362.1 255.4V533.5M367.5 255.4V533.5M372.9 255.4V533.5M378.3 255.4V533.5M383.6 255.4V533.5M389 255.4V533.5M394.4 255.4V533.5M399.8 255.4V533.5M405.2 255.4V533.5M410.6 255.4V533.5M416 255.4V533.5M421.3 255.4V533.5M426.7 255.4V533.5M432.1 255.4V533.5M437.5 255.4V533.5" stroke="#c8c8c8" stroke-width="0.22" fill="none"/>
<rect x="243.6" y="252.6" width="37.7" height="2.3" fill="#e8174a"/>
<rect x="281.3" y="252.6" width="5.4" height="2.3" fill="#f07c1e"/>
<rect x="286.7" y="252.6" width="53.9" height="2.3" fill="#3dbb3d"/>
<rect x="340.6" y="252.6" width="21.5" height="2.3" fill="#3a57e0"/>
<rect x="362.1" y="252.6" width="5.4" height="2.3" fill="#f07c1e"/>
<rect x="367.5" y="252.6" width="32.3" height="2.3" fill="#3a57e0"/>
<rect x="399.8" y="252.6" width="37.7" height="2.3" fill="#f07c1e"/>
<text x="438.3" y="254.9" font-size="2.6" font-weight="bold">Patient</text>
<rect x="232.1" y="255.4" width="11" height="278.1" fill="#bebebe"/>
<rect x="237.6" y="255.4" width="2.75" height="12.3" fill="#e8174a"/>
<rect x="237.6" y="270.2" width="2.75" height="2.5" fill="#e8174a"/>
<rect x="237.6" y="344" width="2.75" height="2.5" fill="#e8174a"/>
<rect x="237.6" y="368.6" width="2.75" height="12.3" fill="#e8174a"/>
<rect x="237.6" y="380.9" width="2.75" height="39.4" fill="#e8174a"/>
<rect x="237.6" y="432.6" width="2.75" height="2.5" fill="#e8174a"/>
<rect x="237.6" y="464.6" width="2.75" height="4.9" fill="#e8174a"/>
<rect x="237.6" y="479.4" width="2.75" height="9.8" fill="#e8174a"/>
<rect x="237.6" y="491.7" width="2.75" height="9.8" fill="#e8174a"/>
<rect x="237.6" y="506.4" width="2.75" height="4.9" fill="#e8174a"/>
<rect x="237.6" y="526.1" width="2.75" height="4.9" fill="#e8174a"/>
<rect x="240.3" y="267.7" width="2.75" height="2.5" fill="#3dbb3d"/>
<rect x="240.3" y="272.6" width="2.75" height="71.4" fill="#3dbb3d"/>
<rect x="240.3" y="346.5" width="2.75" height="22.1" fill="#3dbb3d"/>
<rect x="240.3" y="380.9" width="2.75" height="2.5" fill="#3dbb3d"/>
<rect x="240.3" y="422.8" width="2.75" height="9.8" fill="#3dbb3d"/>
<rect x="240.3" y="432.6" width="2.75" height="22.1" fill="#3dbb3d"/>
<rect x="240.3" y="457.2" width="2.75" height="2.5" fill="#3dbb3d"/>
<rect x="240.3" y="462.1" width="2.75" height="2.5" fill="#3dbb3d"/>
<rect x="240.3" y="469.5" width="2.75" height="9.8" fill="#3dbb3d"/>
<rect x="240.3" y="489.2" width="2.75" height="2.5" fill="#3dbb3d"/>
<rect x="240.3" y="501.5" width="2.75" height="4.9" fill="#3dbb3d"/>
<rect x="240.3" y="511.4" width="2.75" height="14.8" fill="#3dbb3d"/>
<rect x="240.3" y="531" width="2.75" height="2.5" fill="#3dbb3d"/>
<rect x="232.1" y="388.3" width="2.75" height="2.5" fill="#3a57e0"/>
<rect x="232.1" y="454.7" width="2.75" height="2.5" fill="#3a57e0"/>
<rect x="232.1" y="459.7" width="2.75" height="2.5" fill="#3a57e0"/>
<rect x="232.1" y="469.5" width="2.75" height="2.5" fill="#3a57e0"/>
<rect x="232.1" y="479.4" width="2.75" height="7.4" fill="#3a57e0"/>
<rect x="232.1" y="491.7" width="2.75" height="2.5" fill="#3a57e0"/>
<rect x="232.1" y="531" width="2.75" height="2.5" fill="#3a57e0"/>
<rect x="234.8" y="481.8" width="2.75" height="4.9" fill="#f07c1e"/>
<rect x="234.8" y="491.7" width="2.75" height="2.5" fill="#f07c1e"/>
<path d="M232.1 257.9H243.1M232.1 260.3H243.1M232.1 262.8H243.1M232.1 265.2H243.1M232.1 267.7H243.1M232.1 270.2H243.1M232.1 272.6H243.1M232.1 275.1H243.1M232.1 277.5H243.1M232.1 280H243.1M232.1 282.5H243.1M232.1 284.9H243.1M232.1 287.4H243.1M232.1 289.9H243.1M232.1 292.3H243.1M232.1 294.8H243.1M232.1 297.2H243.1M232.1 299.7H243.1M232.1 302.2H243.1M232.1 304.6H243.1M232.1 307.1H243.1M232.1 309.5H243.1M232.1 312H243.1M232.1 314.5H243.1M232.1 316.9H243.1M232.1 319.4H243.1M232.1 321.8H243.1M232.1 324.3H243.1M232.1 326.8H243.1M232.1 329.2H243.1M232.1 331.7H243.1M232.1 334.2H243.1M232.1 336.6H243.1M232.1 339.1H243.1M232.1 341.5H243.1M232.1 344H243.1M232.1 346.5H243.1M232.1 348.9H243.1M232.1 351.4H243.1M232.1 353.8H243.1M232.1 356.3H243.1M232.1 358.8H243.1M232.1 361.2H243.1M232.1 363.7H243.1M232.1 366.1H243.1M232.1 368.6H243.1M232.1 371.1H243.1M232.1 373.5H243.1M232.1 376H243.1M232.1 378.5H243.1M232.1 380.9H243.1M232.1 383.4H243.1M232.1 385.8H243.1M232.1 388.3H243.1M232.1 390.8H243.1M232.1 393.2H243.1M232.1 395.7H243.1M232.1 398.1H243.1M232.1 400.6H243.1M232.1 403.1H243.1M232.1 405.5H243.1M232.1 408H243.1M232.1 410.4H243.1M232.1 412.9H243.1M232.1 415.4H243.1M232.1 417.8H243.1M232.1 420.3H243.1M232.1 422.8H243.1M232.1 425.2H243.1M232.1 427.7H243.1M232.1 430.1H243.1M232.1 432.6H243.1M232.1 435.1H243.1M232.1 437.5H243.1M232.1 440H243.1M232.1 442.4H243.1M232.1 444.9H243.1M232.1 447.4H243.1M232.1 449.8H243.1M232.1 452.3H243.1M232.1 454.7H243.1M232.1 457.2H243.1M232.1 459.7H243.1M232.1 462.1H243.1M232.1 464.6H243.1M232.1 467.1H243.1M232.1 469.5H243.1M232.1 472H243.1M232.1 474.4H243.1M232.1 476.9H243.1M232.1 479.4H243.1M232.1 481.8H243.1M232.1 484.3H243.1M232.1 486.7H243.1M232.1 489.2H243.1M232.1 491.7H243.1M232.1 494.1H243.1M232.1 496.6H243.1M232.1 499H243.1M232.1 501.5H243.1M232.1 504H243.1M232.1 506.4H243.1M232.1 508.9H243.1M232.1 511.4H243.1M232.1 513.8H243.1M232.1 516.3H243.1M232.1 518.7H243.1M232.1 521.2H243.1M232.1 523.7H243.1M232.1 526.1H243.1M232.1 528.6H243.1M232.1 531H243.1" stroke="#e6e6e6" stroke-width="0.2"/>
<path d="M234.85 255.4V533.5M237.6 255.4V533.5M240.35 255.4V533.5" stroke="#e6e6e6" stroke-width="0.25"/>
<path d="M246.3 252.4V249.6H251.7V252.4M267.8 252.4V249.7H273.2V252.4M262.5 252.4V249.5H270.5V249.7M257.1 252.4V248.5H266.5V249.5M249 249.6V248.2H261.8V248.5M278.6 252.4V249.5H284V252.4M289.4 252.4V250.1H294.8V252.4M281.3 249.5V249.2H292.1V250.1M300.2 252.4V250.1H305.5V252.4M286.7 249.2V249H302.8V250.1M255.4 248.2V247H294.8V249M327.1 252.4V249.7H332.5V252.4M321.7 252.4V249.5H329.8V249.7M316.3 252.4V249.2H325.7V249.5M310.9 252.4V248.9H321V249.2M275.1 247V245.8H316V248.9M348.6 252.4V250.1H354V252.4M343.2 252.4V249.6H351.3V250.1M337.9 252.4V248.6H347.3V249.6M359.4 252.4V249.8H364.8V252.4M342.6 248.6V248.3H362.1V249.8M370.2 252.4V249.6H375.6V252.4M372.9 249.6V249.4H380.9V252.4M352.3 248.3V247.9H376.9V249.4M391.7 252.4V249.9H397.1V252.4M402.5 252.4V249.8H407.9V252.4M394.4 249.9V249H405.2V249.8M386.3 252.4V248.7H399.8V249M413.3 252.4V249.4H418.6V252.4M393.1 248.7V248.2H416V249.4M429.4 252.4V250.1H434.8V252.4M424 252.4V249.5H432.1V250.1M404.5 248.2V247.8H428.1V249.5M364.6 247.9V245.2H416.3V247.8M295.5 245.8V243H390.5V245.2" fill="none" stroke="#555" stroke-width="0.35"/>
<path d="M231.8 256.6H230.2V259.1H231.8M231.8 261.6H230.1V264H231.8M230.2 257.9H229.5V262.8H230.1M231.8 266.5H229.9V268.9H231.8M229.5 260.3H229.3V267.7H229.9M231.8 271.4H230.2V273.9H231.8M231.8 276.3H230.2V278.8H231.8M230.2 272.6H229.8V277.5H230.2M231.8 283.7H230.1V286.2H231.8M231.8 281.2H229.5V284.9H230.1M229.8 275.1H228.7V283.1H229.5M231.8 288.6H229.8V291.1H231.8M231.8 293.5H229.7V296H231.8M229.8 289.9H229.2V294.8H229.7M231.8 303.4H230.2V305.9H231.8M231.8 300.9H230V304.6H230.2M231.8 298.5H229.7V302.8H230M231.8 310.8H229.8V313.2H231.8M231.8 308.3H229.7V312H229.8M229.7 300.6H228.9V310.2H229.7M229.2 292.3H228.7V305.4H228.9M228.7 279.1H228.4V298.9H228.7M229.3 264H226.9V289H228.4M231.8 315.7H230.2V318.2H231.8M231.8 320.6H230.3V323.1H231.8M230.2 316.9H229.6V321.8H230.3M231.8 328H229.9V330.5H231.8M231.8 335.4H230.2V337.8H231.8M231.8 332.9H230.1V336.6H230.2M229.9 329.2H229.3V334.8H230.1M231.8 325.5H229V332H229.3M229.6 319.4H228.8V328.8H229M231.8 345.2H230V347.7H231.8M231.8 342.8H229.9V346.5H230M231.8 340.3H229.3V344.6H229.9M231.8 350.2H229.8V352.6H231.8M229.3 342.5H229V351.4H229.8M228.8 324.1H228.4V346.9H229M226.9 276.5H225.7V335.5H228.4M231.8 357.5H229.7V360H231.8M231.8 364.9H230.1V367.4H231.8M231.8 362.5H229.7V366.1H230.1M229.7 358.8H229.5V364.3H229.7M231.8 355.1H228.9V361.5H229.5M231.8 369.8H230V372.3H231.8M231.8 374.8H230.2V377.2H231.8M230 371.1H229.8V376H230.2M231.8 379.7H229.8V382.1H231.8M231.8 387.1H230V389.5H231.8M231.8 384.6H229.8V388.3H230M229.8 380.9H229.6V386.5H229.8M231.8 394.5H230V396.9H231.8M231.8 392H229.9V395.7H230M231.8 399.4H230V401.8H231.8M229.9 393.8H229.7V400.6H230M231.8 406.8H230V409.2H231.8M231.8 404.3H229.5V408H230M229.7 397.2H229V406.1H229.5M229.6 383.7H228.8V401.7H229M229.8 373.5H228.5V392.7H228.8M228.9 358.3H227.1V383.1H228.5M225.7 306H224.7V370.7H227.1M231.8 414.1H230.1V416.6H231.8M231.8 411.7H230V415.4H230.1M231.8 419.1H230.1V421.5H231.8M231.8 426.4H230.1V428.9H231.8M231.8 424H229.9V427.7H230.1M230.1 420.3H229.4V425.8H229.9M230 413.5H229.2V423.1H229.4M231.8 431.4H229.8V433.8H231.8M231.8 438.7H230V441.2H231.8M231.8 436.3H229.6V440H230M229.8 432.6H229.2V438.1H229.6M231.8 448.6H229.9V451.1H231.8M231.8 446.1H229.6V449.8H229.9M231.8 443.7H229.4V448H229.6M229.2 435.4H228.6V445.8H229.4M229.2 418.3H227.8V440.6H228.6M231.8 456H229.8V458.4H231.8M231.8 453.5H229.5V457.2H229.8M231.8 460.9H229.7V463.4H231.8M231.8 465.8H229.7V468.3H231.8M229.7 462.1H229.5V467.1H229.7M229.5 455.4H229V464.6H229.5M231.8 473.2H230V475.7H231.8M230 474.4H229.7V478.1H231.8M231.8 470.7H229.5V476.3H229.7M231.8 480.6H230.2V483H231.8M231.8 485.5H229.9V488H231.8M230.2 481.8H229.4V486.7H229.9M229.5 473.5H228.6V484.3H229.4M231.8 490.4H229.8V492.9H231.8M231.8 495.4H229.8V497.8H231.8M229.8 491.7H229.6V496.6H229.8M228.6 478.9H228.4V494.1H229.6M229 460H227.9V486.5H228.4M227.8 429.4H226.8V473.2H227.9M231.8 500.3H229.8V502.7H231.8M231.8 510.1H230.2V512.6H231.8M231.8 507.7H230.1V511.4H230.2M231.8 505.2H229.9V509.5H230.1M229.8 501.5H229.1V507.4H229.9M231.8 515H230.3V517.5H231.8M231.8 522.4H229.9V524.9H231.8M231.8 520H229.7V523.7H229.9M231.8 529.8H230V532.3H231.8M231.8 527.3H229.8V531H230M229.7 521.8H229.5V529.2H229.8M230.3 516.3H229.3V525.5H229.5M229.1 504.4H228.8V520.9H229.3M226.8 451.3H225.2V512.7H228.8M224.7 338.4H223V482H225.2" fill="none" stroke="#666" stroke-width="0.32"/>
<g font-size="10.4" fill="#000" transform="translate(438.3 255.4) rotate(0.6) scale(0.25)"><text x="0" y="8.4">LINC01956</text><text x="0" y="18.2">EGFR</text><text x="0" y="28.1">MRPS17</text><text x="0" y="37.9">NUPL2</text><text x="0" y="47.8">STX1A</text><text x="0" y="57.6">LAT2</text><text x="0" y="67.5">TMEM178B</text><text x="0" y="77.3">POU2F2</text><text x="0" y="87.2">ZNF713</text><text x="0" y="97">CHCHD2</text><text x="0" y="106.8">WBSCR22</text><text x="0" y="116.7">EIF4H</text><text x="0" y="126.5">SLC35F3</text><text x="0" y="136.4">CHSY3</text><text x="0" y="146.2">SEPTIN14</text><text x="0" y="156.1">PHKG1</text><text x="0" y="165.9">RFC2</text><text x="0" y="175.8">ABHD11-AS1</text><text x="0" y="185.6">PTPRZ1</text><text x="0" y="195.4">FAM20C</text><text x="0" y="205.3">VSTM2A</text><text x="0" y="215.1">SUMF2</text><text x="0" y="225">CLIP2</text><text x="0" y="234.8">BAZ1B</text><text x="0" y="244.7">VSTM2A-OT1</text><text x="0" y="254.5">ZNF487P</text><text x="0" y="264.4">VOPP1</text><text x="0" y="274.2">CCT6A</text><text x="0" y="284">LIMK1</text><text x="0" y="293.9">TBL2</text><text x="0" y="303.7">GALNT17</text><text x="0" y="313.6">TIAM1</text><text x="0" y="323.4">LANCL2</text><text x="0" y="333.3">PSPH</text><text x="0" y="343.1">ELN-AS1</text><text x="0" y="352.9">BCL7B</text><text x="0" y="362.8">AUTS2</text><text x="0" y="372.6">LINC01445</text><text x="0" y="382.5">SEC61G</text><text x="0" y="392.3">GBAS</text><text x="0" y="402.2">GTF2IRD1</text><text x="0" y="412">MLXIPL</text><text x="0" y="421.9">CALN1</text><text x="0" y="431.7">LINC01956</text><text x="0" y="441.5">EGFR</text><text x="0" y="451.4">MRPS17</text><text x="0" y="461.2">NUPL2</text><text x="0" y="471.1">STX1A</text><text x="0" y="480.9">LAT2</text><text x="0" y="490.8">TMEM178B</text><text x="0" y="500.6">POU2F2</text><text x="0" y="510.5">ZNF713</text><text x="0" y="520.3">CHCHD2</text><text x="0" y="530.1">WBSCR22</text><text x="0" y="540">EIF4H</text><text x="0" y="549.8">SLC35F3</text><text x="0" y="559.7">CHSY3</text><text x="0" y="569.5">SEPTIN14</text><text x="0" y="579.4">PHKG1</text><text x="0" y="589.2">RFC2</text><text x="0" y="599.1">ABHD11-AS1</text><text x="0" y="608.9">PTPRZ1</text><text x="0" y="618.7">FAM20C</text><text x="0" y="628.6">VSTM2A</text><text x="0" y="638.4">SUMF2</text><text x="0" y="648.3">CLIP2</text><text x="0" y="658.1">BAZ1B</text><text x="0" y="668">VSTM2A-OT1</text><text x="0" y="677.8">ZNF487P</text><text x="0" y="687.7">VOPP1</text><text x="0" y="697.5">CCT6A</text><text x="0" y="707.3">LIMK1</text><text x="0" y="717.2">TBL2</text><text x="0" y="727">GALNT17</text><text x="0" y="736.9">TIAM1</text><text x="0" y="746.7">LANCL2</text><text x="0" y="756.6">PSPH</text><text x="0" y="766.4">ELN-AS1</text><text x="0" y="776.3">BCL7B</text><text x="0" y="786.1">AUTS2</text><text x="0" y="795.9">LINC01445</text><text x="0" y="805.8">SEC61G</text><text x="0" y="815.6">GBAS</text><text x="0" y="825.5">GTF2IRD1</text><text x="0" y="835.3">MLXIPL</text><text x="0" y="845.2">CALN1</text><text x="0" y="855">LINC01956</text><text x="0" y="864.8">EGFR</text><text x="0" y="874.7">MRPS17</text><text x="0" y="884.5">NUPL2</text><text x="0" y="894.4">STX1A</text><text x="0" y="904.2">LAT2</text><text x="0" y="914.1">TMEM178B</text><text x="0" y="923.9">POU2F2</text><text x="0" y="933.8">ZNF713</text><text x="0" y="943.6">CHCHD2</text><text x="0" y="953.4">WBSCR22</text><text x="0" y="963.3">EIF4H</text><text x="0" y="973.1">SLC35F3</text><text x="0" y="983">CHSY3</text><text x="0" y="992.8">SEPTIN14</text><text x="0" y="1002.7">PHKG1</text><text x="0" y="1012.5">RFC2</text><text x="0" y="1022.4">ABHD11-AS1</text><text x="0" y="1032.2">PTPRZ1</text><text x="0" y="1042">FAM20C</text><text x="0" y="1051.9">VSTM2A</text><text x="0" y="1061.7">SUMF2</text><text x="0" y="1071.6">CLIP2</text><text x="0" y="1081.4">BAZ1B</text><text x="0" y="1091.3">VSTM2A-OT1</text><text x="0" y="1101.1">ZNF487P</text><text x="0" y="1111">VOPP1</text></g>
<g font-size="2.9" fill="#111"><text transform="translate(247.1 534.6) rotate(90)">P521_7</text><text transform="translate(252.5 534.6) rotate(90)">P521_8</text><text transform="translate(257.9 534.6) rotate(90)">P521_4</text><text transform="translate(263.3 534.6) rotate(90)">P521_2</text><text transform="translate(268.6 534.6) rotate(90)">P521_1</text><text transform="translate(274 534.6) rotate(90)">P521_3</text><text transform="translate(279.4 534.6) rotate(90)">P521_6</text><text transform="translate(284.8 534.6) rotate(90)">P524_1</text><text transform="translate(290.2 534.6) rotate(90)">P519_10</text><text transform="translate(295.6 534.6) rotate(90)">P519_2</text><text transform="translate(301 534.6) rotate(90)">P519_6</text><text transform="translate(306.3 534.6) rotate(90)">P519_3</text><text transform="translate(311.7 534.6) rotate(90)">P519_8</text><text transform="translate(317.1 534.6) rotate(90)">P519_5</text><text transform="translate(322.5 534.6) rotate(90)">P519_1</text><text transform="translate(327.9 534.6) rotate(90)">P519_7</text><text transform="translate(333.3 534.6) rotate(90)">P519_9</text><text transform="translate(338.7 534.6) rotate(90)">P519_4</text><text transform="translate(344 534.6) rotate(90)">P529_2</text><text transform="translate(349.4 534.6) rotate(90)">P529_1</text><text transform="translate(354.8 534.6) rotate(90)">P529_6</text><text transform="translate(360.2 534.6) rotate(90)">P529_5</text><text transform="translate(365.6 534.6) rotate(90)">P524_7</text><text transform="translate(371 534.6) rotate(90)">P529_9</text><text transform="translate(376.4 534.6) rotate(90)">P529_4</text><text transform="translate(381.7 534.6) rotate(90)">P529_8</text><text transform="translate(387.1 534.6) rotate(90)">P529_3</text><text transform="translate(392.5 534.6) rotate(90)">P529_7</text><text transform="translate(397.9 534.6) rotate(90)">P529_10</text><text transform="translate(403.3 534.6) rotate(90)">P524_2</text><text transform="translate(408.7 534.6) rotate(90)">P524_4</text><text transform="translate(414.1 534.6) rotate(90)">P524_3</text><text transform="translate(419.4 534.6) rotate(90)">P524_6</text><text transform="translate(424.8 534.6) rotate(90)">P524_5</text><text transform="translate(430.2 534.6) rotate(90)">P524_8</text><text transform="translate(435.6 534.6) rotate(90)">P524_10</text></g>
<g font-size="2.4" font-weight="bold" fill="#222"><text transform="translate(232.7 534.6) rotate(90)">P529</text><text transform="translate(235.4 534.6) rotate(90)">P524</text><text transform="translate(238.2 534.6) rotate(90)">P521</text><text transform="translate(240.9 534.6) rotate(90)">P519</text></g>
<defs><linearGradient id="hmg" x1="0" y1="0" x2="0" y2="1"><stop offset="0" stop-color="#ff1a1a"/><stop offset="0.5" stop-color="#ffffff"/><stop offset="1" stop-color="#1a1aff"/></linearGradient></defs>
<rect x="458.8" y="251.9" width="1.7" height="25.8" fill="url(#hmg)"/>
<text x="462" y="257" font-size="2.3" fill="#333" stroke="#333" stroke-width="0.09">4</text>
<text x="462" y="261.6" font-size="2.3" fill="#333" stroke="#333" stroke-width="0.09">2</text>
<text x="462" y="265.8" font-size="2.3" fill="#333" stroke="#333" stroke-width="0.09">0</text>
<text x="462" y="270.4" font-size="2.3" fill="#333" stroke="#333" stroke-width="0.09">-2</text>
<text x="462" y="274.6" font-size="2.3" fill="#333" stroke="#333" stroke-width="0.09">-4</text>
<text x="465.9" y="254.1" font-size="2.6" font-weight="bold">Patient</text>
<rect x="465.9" y="255" width="4.1" height="3.6" fill="#3dbb3d"/>
<text x="470.9" y="257.7" font-size="2.2" fill="#333" stroke="#333" stroke-width="0.09">P519</text>
<rect x="465.9" y="258.7" width="4.1" height="3.6" fill="#e8174a"/>
<text x="470.9" y="261.4" font-size="2.2" fill="#333" stroke="#333" stroke-width="0.09">P521</text>
<rect x="465.9" y="262.4" width="4.1" height="3.6" fill="#f07c1e"/>
<text x="470.9" y="265.1" font-size="2.2" fill="#333" stroke="#333" stroke-width="0.09">P524</text>
<rect x="465.9" y="266" width="4.1" height="3.6" fill="#3a57e0"/>
<text x="470.9" y="268.7" font-size="2.2" fill="#333" stroke="#333" stroke-width="0.09">P529</text>
<text x="465.9" y="274.6" font-size="2.6" font-weight="bold">P529</text>
<rect x="465.9" y="275.8" width="4.1" height="3.6" fill="#3a57e0"/>
<rect x="465.9" y="279.4" width="4.1" height="3.6" fill="#bebebe"/>
<text x="470.9" y="278.5" font-size="2.2" fill="#333" stroke="#333" stroke-width="0.09">ec</text>
<text x="470.9" y="282.1" font-size="2.2" fill="#333" stroke="#333" stroke-width="0.09">linear</text>
<text x="465.9" y="287.5" font-size="2.6" font-weight="bold">P524</text>
<rect x="465.9" y="288.7" width="4.1" height="3.6" fill="#f07c1e"/>
<rect x="465.9" y="292.3" width="4.1" height="3.6" fill="#bebebe"/>
<text x="470.9" y="291.4" font-size="2.2" fill="#333" stroke="#333" stroke-width="0.09">ec</text>
<text x="470.9" y="295" font-size="2.2" fill="#333" stroke="#333" stroke-width="0.09">linear</text>
<text x="465.9" y="300.6" font-size="2.6" font-weight="bold">P521</text>
<rect x="465.9" y="301.8" width="4.1" height="3.6" fill="#e8174a"/>
<rect x="465.9" y="305.4" width="4.1" height="3.6" fill="#bebebe"/>
<text x="470.9" y="304.5" font-size="2.2" fill="#333" stroke="#333" stroke-width="0.09">ec</text>
<text x="470.9" y="308.1" font-size="2.2" fill="#333" stroke="#333" stroke-width="0.09">linear</text>
<text x="465.9" y="313.7" font-size="2.6" font-weight="bold">P519</text>
<rect x="465.9" y="314.9" width="4.1" height="3.6" fill="#3dbb3d"/>
<rect x="465.9" y="318.5" width="4.1" height="3.6" fill="#bebebe"/>
<text x="470.9" y="317.6" font-size="2.2" fill="#333" stroke="#333" stroke-width="0.09">ec</text>
<text x="470.9" y="321.2" font-size="2.2" fill="#333" stroke="#333" stroke-width="0.09">linear</text>
<defs><filter id="spk" x="0" y="0" width="1" height="1" color-interpolation-filters="sRGB">
<feTurbulence type="fractalNoise" baseFrequency="1.4" numOctaves="2" seed="4" result="n"/>
<feColorMatrix in="n" type="matrix" values="0 0 0 0 0 0 0 0 0 0 0 0 0 0 0 2.2 0 0 0 -0.6" result="na"/>
<feComposite in="SourceAlpha" in2="na" operator="arithmetic" k2="1.3" k3="-0.45" k4="0" result="t"/>
<feFlood flood-color="#ff1c1c"/>
<feComposite in2="t" operator="in"/>
</filter></defs>
<text x="241.8" y="11.1" font-size="14.2" font-weight="bold">e</text>
<text x="314.6" y="9.2" font-size="6.7" text-anchor="middle">chr7</text>
<g filter="url(#spk)"><rect x="261.3" y="16.5" width="108.9" height="108.9" fill="#000" fill-opacity="0.003"/><path fill-opacity="0.3" d="M291 16.5h79.2v2.5h-79.2zM293.5 19h76.7v2.5h-76.7zM295.9 21.4h74.2v2.5h-74.2zM298.4 23.9h71.8v2.5h-71.8zM300.9 26.4h69.3v2.5h-69.3zM303.4 28.9h66.8v2.5h-66.8zM305.9 31.4h64.4v2.5h-64.4zM308.3 33.8h61.9v2.5h-61.9zM310.8 36.3h59.4v2.5h-59.4zM313.3 38.8h56.9v2.5h-56.9zM315.8 41.2h54.5v2.5h-54.5zM318.2 43.7h52v2.5h-52zM320.7 46.2h49.5v2.5h-49.5zM320.7 48.7h49.5v2.5h-49.5zM320.7 51.1h49.5v2.5h-49.5zM320.7 53.6h49.5v2.5h-49.5zM320.7 56.1h49.5v2.5h-49.5zM320.7 58.6h49.5v2.5h-49.5zM323.2 61.1h47v2.5h-47zM325.7 63.5h44.6v2.5h-44.6zM328.1 66h42.1v2.5h-42.1zM330.6 68.5h39.6v2.5h-39.6zM333.1 71h37.1v2.5h-37.1zM335.6 73.4h34.6v2.5h-34.6zM340.5 75.9h29.7v2.5h-29.7zM340.5 78.4h29.7v2.5h-29.7zM343 80.9h27.2v2.5h-27.2zM345.5 83.3h24.8v2.5h-24.8zM347.9 85.8h22.3v2.5h-22.3zM350.4 88.3h19.8v2.5h-19.8zM352.9 90.8h17.3v2.5h-17.3zM261.3 93.2h29.7v2.5h-29.7zM355.4 93.2h14.9v2.5h-14.9zM261.3 95.7h29.7v2.5h-29.7zM357.8 95.7h12.4v2.5h-12.4zM261.3 98.2h29.7v2.5h-29.7zM360.3 98.2h9.9v2.5h-9.9zM261.3 100.7h29.7v2.5h-29.7zM362.8 100.7h7.4v2.5h-7.4zM261.3 103.1h29.7v2.5h-29.7zM365.2 103.1h5v2.5h-5zM261.3 105.6h29.7v2.5h-29.7zM367.7 105.6h2.5v2.5h-2.5zM261.3 108.1h29.7v2.5h-29.7zM261.3 110.5h29.7v2.5h-29.7zM261.3 113h29.7v2.5h-29.7zM261.3 115.5h29.7v2.5h-29.7zM261.3 118h29.7v2.5h-29.7zM261.3 120.5h29.7v2.5h-29.7zM261.3 122.9h29.7v2.5h-29.7z"/><path fill-opacity="0.4" d="M291 19h2.5v2.5h-2.5zM291 21.4h5v2.5h-5zM291 23.9h7.4v2.5h-7.4zM293.5 26.4h7.4v2.5h-7.4zM295.9 28.9h7.4v2.5h-7.4zM298.4 31.4h7.4v2.5h-7.4zM300.9 33.8h7.4v2.5h-7.4zM303.4 36.3h7.4v2.5h-7.4zM305.9 38.8h7.4v2.5h-7.4zM308.3 41.2h7.4v2.5h-7.4zM310.8 43.7h7.4v2.5h-7.4zM313.3 46.2h7.4v2.5h-7.4zM315.8 48.7h5v2.5h-5zM318.2 51.1h2.5v2.5h-2.5zM320.7 61.1h2.5v2.5h-2.5zM320.7 63.5h5v2.5h-5zM320.7 66h7.4v2.5h-7.4zM323.2 68.5h7.4v2.5h-7.4zM325.7 71h7.4v2.5h-7.4zM328.1 73.4h7.4v2.5h-7.4zM340.5 80.9h2.5v2.5h-2.5zM340.5 83.3h5v2.5h-5zM347.9 88.3h2.5v2.5h-2.5zM347.9 90.8h5v2.5h-5zM300.9 93.2h17.3v2.5h-17.3zM347.9 93.2h7.4v2.5h-7.4zM300.9 95.7h19.8v2.5h-19.8zM300.9 98.2h22.3v2.5h-22.3zM357.8 98.2h2.5v2.5h-2.5zM300.9 100.7h24.8v2.5h-24.8zM357.8 100.7h5v2.5h-5zM300.9 103.1h27.2v2.5h-27.2zM357.8 103.1h7.4v2.5h-7.4zM300.9 105.6h29.7v2.5h-29.7zM360.3 105.6h7.4v2.5h-7.4zM300.9 108.1h32.2v2.5h-32.2zM300.9 110.5h34.6v2.5h-34.6zM291 113h47v2.5h-47zM291 115.5h49.5v2.5h-49.5zM291 118h52v2.5h-52zM291 120.5h54.5v2.5h-54.5zM291 122.9h56.9v2.5h-56.9z"/><path fill-opacity="0.5" d="M291 26.4h2.5v2.5h-2.5zM291 28.9h5v2.5h-5zM291 31.4h7.4v2.5h-7.4zM293.5 33.8h7.4v2.5h-7.4zM295.9 36.3h7.4v2.5h-7.4zM298.4 38.8h7.4v2.5h-7.4zM300.9 41.2h7.4v2.5h-7.4zM303.4 43.7h7.4v2.5h-7.4zM305.9 46.2h7.4v2.5h-7.4zM308.3 48.7h7.4v2.5h-7.4zM310.8 51.1h7.4v2.5h-7.4zM313.3 53.6h7.4v2.5h-7.4zM315.8 56.1h5v2.5h-5zM318.2 58.6h2.5v2.5h-2.5zM320.7 68.5h2.5v2.5h-2.5zM320.7 71h5v2.5h-5zM323.2 73.4h5v2.5h-5zM291 93.2h9.9v2.5h-9.9zM318.2 93.2h9.9v2.5h-9.9zM291 95.7h9.9v2.5h-9.9zM320.7 95.7h9.9v2.5h-9.9zM291 98.2h9.9v2.5h-9.9zM323.2 98.2h7.4v2.5h-7.4zM291 100.7h9.9v2.5h-9.9zM325.7 100.7h5v2.5h-5zM291 103.1h9.9v2.5h-9.9zM328.1 103.1h9.9v2.5h-9.9zM291 105.6h9.9v2.5h-9.9zM330.6 105.6h9.9v2.5h-9.9zM357.8 105.6h2.5v2.5h-2.5zM291 108.1h9.9v2.5h-9.9zM333.1 108.1h7.4v2.5h-7.4zM291 110.5h9.9v2.5h-9.9zM335.6 110.5h5v2.5h-5zM338 113h9.9v2.5h-9.9zM340.5 115.5h9.9v2.5h-9.9zM343 118h9.9v2.5h-9.9zM345.5 120.5h7.4v2.5h-7.4zM347.9 122.9h5v2.5h-5z"/><path fill-opacity="0.5" d="M271.2 16.5h19.8v2.5h-19.8zM273.7 19h17.3v2.5h-17.3zM276.2 21.4h14.9v2.5h-14.9zM278.6 23.9h12.4v2.5h-12.4zM281.1 26.4h9.9v2.5h-9.9zM261.3 28.9h2.5v2.5h-2.5zM283.6 28.9h7.4v2.5h-7.4zM261.3 31.4h5v2.5h-5zM286.1 31.4h5v2.5h-5zM261.3 33.8h7.4v2.5h-7.4zM288.5 33.8h5v2.5h-5zM261.3 36.3h9.9v2.5h-9.9zM291 36.3h5v2.5h-5zM261.3 38.8h12.4v2.5h-12.4zM291 38.8h7.4v2.5h-7.4zM261.3 41.2h14.9v2.5h-14.9zM293.5 41.2h7.4v2.5h-7.4zM261.3 43.7h17.3v2.5h-17.3zM295.9 43.7h7.4v2.5h-7.4zM261.3 46.2h29.7v2.5h-29.7zM298.4 46.2h7.4v2.5h-7.4zM261.3 48.7h29.7v2.5h-29.7zM300.9 48.7h7.4v2.5h-7.4zM261.3 51.1h29.7v2.5h-29.7zM303.4 51.1h7.4v2.5h-7.4zM261.3 53.6h29.7v2.5h-29.7zM305.9 53.6h7.4v2.5h-7.4zM261.3 56.1h29.7v2.5h-29.7zM308.3 56.1h7.4v2.5h-7.4zM261.3 58.6h29.7v2.5h-29.7zM310.8 58.6h7.4v2.5h-7.4zM261.3 61.1h29.7v2.5h-29.7zM313.3 61.1h7.4v2.5h-7.4zM261.3 63.5h29.7v2.5h-29.7zM315.8 63.5h5v2.5h-5zM261.3 66h29.7v2.5h-29.7zM318.2 66h2.5v2.5h-2.5zM261.3 68.5h29.7v2.5h-29.7zM261.3 71h29.7v2.5h-29.7zM261.3 73.4h29.7v2.5h-29.7zM320.7 73.4h2.5v2.5h-2.5zM261.3 75.9h29.7v2.5h-29.7zM261.3 78.4h29.7v2.5h-29.7zM261.3 80.9h29.7v2.5h-29.7zM261.3 83.3h29.7v2.5h-29.7zM261.3 85.8h29.7v2.5h-29.7zM261.3 88.3h29.7v2.5h-29.7zM261.3 90.8h29.7v2.5h-29.7zM328.1 93.2h2.5v2.5h-2.5zM338 103.1h2.5v2.5h-2.5zM347.9 113h5v2.5h-5zM350.4 115.5h2.5v2.5h-2.5z"/><path fill-opacity="0.6" d="M266.2 16.5h5v2.5h-5zM268.7 19h5v2.5h-5zM261.3 21.4h2.5v2.5h-2.5zM271.2 21.4h5v2.5h-5zM261.3 23.9h5v2.5h-5zM273.7 23.9h5v2.5h-5zM261.3 26.4h7.4v2.5h-7.4zM276.2 26.4h5v2.5h-5zM263.8 28.9h7.4v2.5h-7.4zM278.6 28.9h5v2.5h-5zM266.2 31.4h7.4v2.5h-7.4zM281.1 31.4h5v2.5h-5zM268.7 33.8h7.4v2.5h-7.4zM283.6 33.8h5v2.5h-5zM271.2 36.3h7.4v2.5h-7.4zM286.1 36.3h5v2.5h-5zM273.7 38.8h7.4v2.5h-7.4zM288.5 38.8h2.5v2.5h-2.5zM276.2 41.2h7.4v2.5h-7.4zM291 41.2h2.5v2.5h-2.5zM278.6 43.7h7.4v2.5h-7.4zM293.5 43.7h2.5v2.5h-2.5zM295.9 46.2h2.5v2.5h-2.5zM298.4 48.7h2.5v2.5h-2.5zM300.9 51.1h2.5v2.5h-2.5zM303.4 53.6h2.5v2.5h-2.5zM305.9 56.1h2.5v2.5h-2.5zM308.3 58.6h2.5v2.5h-2.5zM310.8 61.1h2.5v2.5h-2.5zM313.3 63.5h2.5v2.5h-2.5zM315.8 66h2.5v2.5h-2.5zM318.2 68.5h2.5v2.5h-2.5zM357.8 108.1h12.4v2.5h-12.4zM357.8 110.5h12.4v2.5h-12.4zM352.9 113h2.5v2.5h-2.5zM360.3 113h9.9v2.5h-9.9zM352.9 115.5h5v2.5h-5zM362.8 115.5h7.4v2.5h-7.4zM352.9 118h7.4v2.5h-7.4zM365.2 118h5v2.5h-5zM352.9 120.5h9.9v2.5h-9.9zM367.7 120.5h2.5v2.5h-2.5zM352.9 122.9h12.4v2.5h-12.4z"/><path fill-opacity="0.6" d="M263.8 16.5h2.5v2.5h-2.5zM261.3 19h2.5v2.5h-2.5zM266.2 19h2.5v2.5h-2.5zM263.8 21.4h2.5v2.5h-2.5zM268.7 21.4h2.5v2.5h-2.5zM266.2 23.9h2.5v2.5h-2.5zM271.2 23.9h2.5v2.5h-2.5zM268.7 26.4h2.5v2.5h-2.5zM273.7 26.4h2.5v2.5h-2.5zM271.2 28.9h2.5v2.5h-2.5zM276.2 28.9h2.5v2.5h-2.5zM273.7 31.4h2.5v2.5h-2.5zM278.6 31.4h2.5v2.5h-2.5zM276.2 33.8h2.5v2.5h-2.5zM281.1 33.8h2.5v2.5h-2.5zM278.6 36.3h2.5v2.5h-2.5zM283.6 36.3h2.5v2.5h-2.5zM281.1 38.8h2.5v2.5h-2.5zM286.1 38.8h2.5v2.5h-2.5zM283.6 41.2h2.5v2.5h-2.5zM288.5 41.2h2.5v2.5h-2.5zM286.1 43.7h2.5v2.5h-2.5zM291 43.7h2.5v2.5h-2.5zM293.5 46.2h2.5v2.5h-2.5zM295.9 48.7h2.5v2.5h-2.5zM298.4 51.1h2.5v2.5h-2.5zM300.9 53.6h2.5v2.5h-2.5zM303.4 56.1h2.5v2.5h-2.5zM305.9 58.6h2.5v2.5h-2.5zM308.3 61.1h2.5v2.5h-2.5zM310.8 63.5h2.5v2.5h-2.5zM313.3 66h2.5v2.5h-2.5zM315.8 68.5h2.5v2.5h-2.5zM318.2 71h2.5v2.5h-2.5zM347.9 95.7h9.9v2.5h-9.9zM347.9 98.2h9.9v2.5h-9.9zM347.9 100.7h9.9v2.5h-9.9zM340.5 103.1h7.4v2.5h-7.4zM350.4 103.1h7.4v2.5h-7.4zM340.5 105.6h9.9v2.5h-9.9zM352.9 105.6h5v2.5h-5zM340.5 108.1h12.4v2.5h-12.4zM355.4 108.1h2.5v2.5h-2.5zM340.5 110.5h14.9v2.5h-14.9zM355.4 113h2.5v2.5h-2.5zM357.8 115.5h2.5v2.5h-2.5zM360.3 118h2.5v2.5h-2.5zM362.8 120.5h2.5v2.5h-2.5zM365.2 122.9h2.5v2.5h-2.5z"/><path fill-opacity="0.7" d="M261.3 16.5h2.5v2.5h-2.5zM263.8 19h2.5v2.5h-2.5zM266.2 21.4h2.5v2.5h-2.5zM268.7 23.9h2.5v2.5h-2.5zM271.2 26.4h2.5v2.5h-2.5zM273.7 28.9h2.5v2.5h-2.5zM276.2 31.4h2.5v2.5h-2.5zM278.6 33.8h2.5v2.5h-2.5zM281.1 36.3h2.5v2.5h-2.5zM283.6 38.8h2.5v2.5h-2.5zM286.1 41.2h2.5v2.5h-2.5zM288.5 43.7h2.5v2.5h-2.5zM340.5 85.8h7.4v2.5h-7.4zM340.5 88.3h7.4v2.5h-7.4zM340.5 90.8h7.4v2.5h-7.4zM330.6 93.2h17.3v2.5h-17.3zM330.6 95.7h17.3v2.5h-17.3zM330.6 98.2h17.3v2.5h-17.3zM330.6 100.7h17.3v2.5h-17.3zM347.9 103.1h2.5v2.5h-2.5zM350.4 105.6h2.5v2.5h-2.5zM352.9 108.1h2.5v2.5h-2.5zM355.4 110.5h2.5v2.5h-2.5zM357.8 113h2.5v2.5h-2.5zM360.3 115.5h2.5v2.5h-2.5zM362.8 118h2.5v2.5h-2.5zM365.2 120.5h2.5v2.5h-2.5zM367.7 122.9h2.5v2.5h-2.5z"/><path fill-opacity="0.8" d="M323.2 75.9h17.3v2.5h-17.3zM325.7 78.4h14.9v2.5h-14.9zM328.1 80.9h12.4v2.5h-12.4zM330.6 83.3h9.9v2.5h-9.9zM333.1 85.8h7.4v2.5h-7.4zM335.6 88.3h5v2.5h-5zM338 90.8h2.5v2.5h-2.5z"/><path fill-opacity="1" d="M291 46.2h2.5v2.5h-2.5zM291 48.7h5v2.5h-5zM291 51.1h7.4v2.5h-7.4zM291 53.6h9.9v2.5h-9.9zM291 56.1h12.4v2.5h-12.4zM291 58.6h14.9v2.5h-14.9zM291 61.1h17.3v2.5h-17.3zM291 63.5h19.8v2.5h-19.8zM291 66h22.3v2.5h-22.3zM291 68.5h24.8v2.5h-24.8zM291 71h27.2v2.5h-27.2zM291 73.4h29.7v2.5h-29.7zM291 75.9h32.2v2.5h-32.2zM291 78.4h34.6v2.5h-34.6zM291 80.9h37.1v2.5h-37.1zM291 83.3h39.6v2.5h-39.6zM291 85.8h42.1v2.5h-42.1zM291 88.3h44.6v2.5h-44.6zM291 90.8h47v2.5h-47z"/><path d="M261.3 16.5L370.2 125.4" stroke="#000" stroke-opacity="0.35" stroke-width="9"/><path d="M261.3 16.5L370.2 125.4" stroke="#000" stroke-width="3.2"/></g>
<path d="M261.3 16.2H370.2M261 16.5V125.4" stroke="#888" stroke-width="0.35"/>
<path d="M261.3 16.2v-1.2" stroke="#666" stroke-width="0.3"/>
<text x="261.3" y="14.5" font-size="2.7" text-anchor="middle" fill="#444" stroke="#444" stroke-width="0.11">52 M</text>
<path d="M261 16.5h-1.2" stroke="#666" stroke-width="0.3"/>
<text x="259.3" y="17.4" font-size="2.7" text-anchor="end" fill="#444" stroke="#444" stroke-width="0.11">52 M</text>
<path d="M283.1 16.2v-1.2" stroke="#666" stroke-width="0.3"/>
<text x="283.1" y="14.5" font-size="2.7" text-anchor="middle" fill="#444" stroke="#444" stroke-width="0.11">53 M</text>
<path d="M261 38.3h-1.2" stroke="#666" stroke-width="0.3"/>
<text x="259.3" y="39.2" font-size="2.7" text-anchor="end" fill="#444" stroke="#444" stroke-width="0.11">53 M</text>
<path d="M304.9 16.2v-1.2" stroke="#666" stroke-width="0.3"/>
<text x="304.9" y="14.5" font-size="2.7" text-anchor="middle" fill="#444" stroke="#444" stroke-width="0.11">54 M</text>
<path d="M261 60.1h-1.2" stroke="#666" stroke-width="0.3"/>
<text x="259.3" y="61" font-size="2.7" text-anchor="end" fill="#444" stroke="#444" stroke-width="0.11">54 M</text>
<path d="M326.6 16.2v-1.2" stroke="#666" stroke-width="0.3"/>
<text x="326.6" y="14.5" font-size="2.7" text-anchor="middle" fill="#444" stroke="#444" stroke-width="0.11">55 M</text>
<path d="M261 81.8h-1.2" stroke="#666" stroke-width="0.3"/>
<text x="259.3" y="82.7" font-size="2.7" text-anchor="end" fill="#444" stroke="#444" stroke-width="0.11">55 M</text>
<path d="M348.4 16.2v-1.2" stroke="#666" stroke-width="0.3"/>
<text x="348.4" y="14.5" font-size="2.7" text-anchor="middle" fill="#444" stroke="#444" stroke-width="0.11">56 M</text>
<path d="M261 103.6h-1.2" stroke="#666" stroke-width="0.3"/>
<text x="259.3" y="104.5" font-size="2.7" text-anchor="end" fill="#444" stroke="#444" stroke-width="0.11">56 M</text>
<path d="M370.2 16.2v-1.2" stroke="#666" stroke-width="0.3"/>
<text x="370.2" y="14.5" font-size="2.7" text-anchor="middle" fill="#444" stroke="#444" stroke-width="0.11">57 M</text>
<path d="M261 125.4h-1.2" stroke="#666" stroke-width="0.3"/>
<text x="259.3" y="126.3" font-size="2.7" text-anchor="end" fill="#444" stroke="#444" stroke-width="0.11">57 M</text>
<text transform="translate(252.5 70.5) rotate(-90)" font-size="3.6" text-anchor="middle" fill="#222" stroke="#222" stroke-width="0.14">Genome coordinates</text>
<text x="337.1" y="23.8" font-size="4.9"><tspan font-style="italic">EGFR</tspan>-no_amp</text>
<text x="337.1" y="30.2" font-size="4.9">P519</text>
<text x="264.2" y="113.4" font-size="4.9"><tspan font-style="italic">EGFR</tspan>-amp</text>
<text x="264.2" y="119.9" font-size="4.9">P521</text>
<path d="M293.5 97.5H337.4" stroke="#000" stroke-width="1.1"/><path d="M290.4 97.5l3.8-2.2v4.4zM340.4 97.5l-3.8-2.2v4.4z" fill="#000"/>
<text x="314.2" y="105.5" font-size="5.8" text-anchor="middle">2.2Mb</text>
<text x="314.2" y="112.5" font-size="5.8" text-anchor="middle">ecEGFR</text>
<defs><linearGradient id="sg" x1="0" y1="0" x2="0" y2="1"><stop offset="0" stop-color="#ff1010"/><stop offset="1" stop-color="#ffffff"/></linearGradient></defs>
<text x="376.8" y="64.2" font-size="2.7" stroke="#000" stroke-width="0.11">score</text>
<rect x="376.5" y="66.1" width="3" height="14.6" fill="url(#sg)" stroke="#555" stroke-width="0.25"/>
<text x="382" y="68.2" font-size="2.3" fill="#333" stroke="#333" stroke-width="0.09">1</text>
<text x="382" y="72.3" font-size="2.3" fill="#333" stroke="#333" stroke-width="0.09">0</text>
<text x="382" y="76.4" font-size="2.3" fill="#333" stroke="#333" stroke-width="0.09">-1</text>
<text x="382" y="80.5" font-size="2.3" fill="#333" stroke="#333" stroke-width="0.09">-2</text>
<text x="384.2" y="10.7" font-size="14.2" font-weight="bold">f</text>
<text x="462.1" y="9" font-size="6.6" text-anchor="middle">chr1</text>
<g filter="url(#spk)"><rect x="409.4" y="17.7" width="104.7" height="105.1" fill="#000" fill-opacity="0.003"/><path fill-opacity="0.2" d="M409.4 32.7h15v2.6h-15zM409.4 35.2h15v2.6h-15zM409.4 37.7h15v2.6h-15zM409.4 40.2h15v2.6h-15zM409.4 42.7h15v2.6h-15zM409.4 45.2h15v2.6h-15zM409.4 47.7h15v2.6h-15zM409.4 50.2h15v2.6h-15zM409.4 52.7h15v2.6h-15zM409.4 55.2h15v2.6h-15zM409.4 57.7h15v2.6h-15zM409.4 60.2h15v2.6h-15zM409.4 62.7h15v2.6h-15zM409.4 65.2h15v2.6h-15zM409.4 67.7h15v2.6h-15zM409.4 70.2h15v2.6h-15zM409.4 72.8h15v2.6h-15zM409.4 75.3h15v2.6h-15zM409.4 77.8h15v2.6h-15zM409.4 80.3h15v2.6h-15zM409.4 82.8h15v2.6h-15zM409.4 85.3h15v2.6h-15zM409.4 87.8h15v2.6h-15zM409.4 90.3h15v2.6h-15zM409.4 92.8h15v2.6h-15zM409.4 95.3h15v2.6h-15zM409.4 97.8h79.8v2.6h-79.8zM409.4 100.3h79.8v2.6h-79.8zM409.4 102.8h79.8v2.6h-79.8zM409.4 105.3h79.8v2.6h-79.8zM409.4 107.8h79.8v2.6h-79.8zM409.4 110.3h79.8v2.6h-79.8zM409.4 112.8h79.8v2.6h-79.8zM409.4 115.3h79.8v2.6h-79.8zM409.4 117.8h79.8v2.6h-79.8zM409.4 120.3h79.8v2.6h-79.8z"/><path fill-opacity="0.2" d="M426.8 17.7h87.2v2.6h-87.2zM429.3 20.2h84.8v2.6h-84.8zM431.8 22.7h82.3v2.6h-82.3zM434.3 25.2h79.8v2.6h-79.8zM436.8 27.7h77.3v2.6h-77.3zM439.3 30.2h74.8v2.6h-74.8zM441.8 32.7h72.3v2.6h-72.3zM444.3 35.2h69.8v2.6h-69.8zM446.8 37.7h67.3v2.6h-67.3zM449.3 40.2h64.8v2.6h-64.8zM451.8 42.7h62.3v2.6h-62.3zM454.3 45.2h59.8v2.6h-59.8zM456.8 47.7h57.3v2.6h-57.3zM459.3 50.2h54.8v2.6h-54.8zM461.8 52.7h52.4v2.6h-52.4zM464.2 55.2h49.9v2.6h-49.9zM466.7 57.7h47.4v2.6h-47.4zM469.2 60.2h44.9v2.6h-44.9zM471.7 62.7h42.4v2.6h-42.4zM474.2 65.2h39.9v2.6h-39.9zM476.7 67.7h37.4v2.6h-37.4zM479.2 70.2h34.9v2.6h-34.9zM481.7 72.8h32.4v2.6h-32.4zM484.2 75.3h29.9v2.6h-29.9zM486.7 77.8h27.4v2.6h-27.4zM489.2 80.3h24.9v2.6h-24.9zM491.7 82.8h22.4v2.6h-22.4zM494.2 85.3h19.9v2.6h-19.9zM496.6 87.8h17.4v2.6h-17.4zM499.1 90.3h15v2.6h-15zM501.6 92.8h12.5v2.6h-12.5zM504.1 95.3h10v2.6h-10z"/><path fill-opacity="0.3" d="M424.4 17.7h2.5v2.6h-2.5zM424.4 20.2h5v2.6h-5zM424.4 22.7h7.5v2.6h-7.5zM424.4 25.2h10v2.6h-10zM426.8 27.7h10v2.6h-10zM429.3 30.2h10v2.6h-10zM436.8 32.7h5v2.6h-5zM436.8 35.2h7.5v2.6h-7.5zM436.8 37.7h10v2.6h-10zM439.3 40.2h10v2.6h-10zM441.8 42.7h10v2.6h-10zM446.8 45.2h7.5v2.6h-7.5zM446.8 47.7h10v2.6h-10zM449.3 50.2h10v2.6h-10zM451.8 52.7h10v2.6h-10zM454.3 55.2h10v2.6h-10zM461.8 57.7h5v2.6h-5zM461.8 60.2h7.5v2.6h-7.5zM461.8 62.7h10v2.6h-10zM464.2 65.2h10v2.6h-10zM466.7 67.7h10v2.6h-10zM469.2 70.2h10v2.6h-10zM474.2 72.8h7.5v2.6h-7.5zM474.2 75.3h10v2.6h-10zM476.7 77.8h10v2.6h-10zM479.2 80.3h10v2.6h-10zM484.2 82.8h7.5v2.6h-7.5zM484.2 85.3h10v2.6h-10zM486.7 87.8h10v2.6h-10zM489.2 90.3h10v2.6h-10zM491.7 92.8h10v2.6h-10zM494.2 95.3h10v2.6h-10z"/><path fill-opacity="0.3" d="M424.4 27.7h2.5v2.6h-2.5zM426.8 30.2h2.5v2.6h-2.5zM436.8 40.2h2.5v2.6h-2.5zM439.3 42.7h2.5v2.6h-2.5zM446.8 50.2h2.5v2.6h-2.5zM449.3 52.7h2.5v2.6h-2.5zM451.8 55.2h2.5v2.6h-2.5zM461.8 65.2h2.5v2.6h-2.5zM464.2 67.7h2.5v2.6h-2.5zM466.7 70.2h2.5v2.6h-2.5zM474.2 77.8h2.5v2.6h-2.5zM476.7 80.3h2.5v2.6h-2.5zM484.2 87.8h2.5v2.6h-2.5zM486.7 90.3h2.5v2.6h-2.5zM489.2 92.8h2.5v2.6h-2.5zM491.7 95.3h2.5v2.6h-2.5z"/><path fill-opacity="0.4" d="M424.4 30.2h2.5v2.6h-2.5zM436.8 42.7h2.5v2.6h-2.5zM446.8 52.7h2.5v2.6h-2.5zM449.3 55.2h2.5v2.6h-2.5zM461.8 67.7h2.5v2.6h-2.5zM464.2 70.2h2.5v2.6h-2.5zM474.2 80.3h2.5v2.6h-2.5zM484.2 90.3h2.5v2.6h-2.5zM486.7 92.8h2.5v2.6h-2.5zM489.2 95.3h2.5v2.6h-2.5z"/><path fill-opacity="0.5" d="M429.3 47.7h2.5v2.6h-2.5zM429.3 50.2h5v2.6h-5zM429.3 52.7h7.5v2.6h-7.5zM429.3 55.2h10v2.6h-10zM446.8 55.2h2.5v2.6h-2.5zM429.3 57.7h12.5v2.6h-12.5zM429.3 60.2h15v2.6h-15zM429.3 62.7h17.4v2.6h-17.4zM429.3 65.2h19.9v2.6h-19.9zM429.3 67.7h19.9v2.6h-19.9zM429.3 70.2h24.9v2.6h-24.9zM461.8 70.2h2.5v2.6h-2.5zM429.3 72.8h27.4v2.6h-27.4zM429.3 75.3h29.9v2.6h-29.9zM429.3 77.8h32.4v2.6h-32.4zM429.3 80.3h34.9v2.6h-34.9zM429.3 82.8h37.4v2.6h-37.4zM429.3 85.3h39.9v2.6h-39.9zM429.3 87.8h42.4v2.6h-42.4zM484.2 92.8h2.5v2.6h-2.5zM486.7 95.3h2.5v2.6h-2.5z"/><path fill-opacity="0.5" d="M424.4 45.2h10v2.6h-10zM424.4 47.7h5v2.6h-5zM431.8 47.7h5v2.6h-5zM424.4 50.2h5v2.6h-5zM434.3 50.2h2.5v2.6h-2.5zM424.4 52.7h5v2.6h-5zM424.4 55.2h5v2.6h-5zM439.3 55.2h5v2.6h-5zM424.4 57.7h5v2.6h-5zM441.8 57.7h5v2.6h-5zM424.4 60.2h5v2.6h-5zM444.3 60.2h5v2.6h-5zM424.4 62.7h5v2.6h-5zM446.8 62.7h2.5v2.6h-2.5zM424.4 65.2h5v2.6h-5zM424.4 67.7h5v2.6h-5zM424.4 70.2h5v2.6h-5zM454.3 70.2h5v2.6h-5zM424.4 72.8h5v2.6h-5zM456.8 72.8h5v2.6h-5zM424.4 75.3h5v2.6h-5zM459.3 75.3h5v2.6h-5zM424.4 77.8h5v2.6h-5zM461.8 77.8h2.5v2.6h-2.5zM424.4 80.3h5v2.6h-5zM424.4 82.8h5v2.6h-5zM466.7 82.8h5v2.6h-5zM424.4 85.3h5v2.6h-5zM469.2 85.3h5v2.6h-5zM424.4 87.8h5v2.6h-5zM471.7 87.8h2.5v2.6h-2.5z"/><path fill-opacity="0.6" d="M434.3 45.2h2.5v2.6h-2.5zM444.3 55.2h2.5v2.6h-2.5zM446.8 57.7h2.5v2.6h-2.5zM459.3 70.2h2.5v2.6h-2.5zM461.8 72.8h2.5v2.6h-2.5zM471.7 82.8h2.5v2.6h-2.5zM424.4 90.3h49.9v2.6h-49.9zM424.4 92.8h54.8v2.6h-54.8zM424.4 95.3h57.3v2.6h-57.3zM501.6 97.8h12.5v2.6h-12.5zM504.1 100.3h10v2.6h-10zM506.6 102.8h7.5v2.6h-7.5zM509.1 105.3h5v2.6h-5zM511.6 107.8h2.5v2.6h-2.5zM489.2 110.3h2.5v2.6h-2.5zM489.2 112.8h5v2.6h-5zM489.2 115.3h7.5v2.6h-7.5zM489.2 117.8h10v2.6h-10zM489.2 120.3h12.5v2.6h-12.5z"/><path fill-opacity="0.6" d="M409.4 17.7h15v2.6h-15zM409.4 20.2h15v2.6h-15zM409.4 22.7h15v2.6h-15zM409.4 25.2h15v2.6h-15zM409.4 27.7h15v2.6h-15zM409.4 30.2h15v2.6h-15zM479.2 92.8h5v2.6h-5zM481.7 95.3h5v2.6h-5zM499.1 97.8h2.5v2.6h-2.5zM499.1 100.3h5v2.6h-5zM499.1 102.8h7.5v2.6h-7.5zM501.6 105.3h7.5v2.6h-7.5zM489.2 107.8h7.5v2.6h-7.5zM504.1 107.8h7.5v2.6h-7.5zM491.7 110.3h7.5v2.6h-7.5zM494.2 112.8h7.5v2.6h-7.5zM496.6 115.3h5v2.6h-5zM499.1 117.8h2.5v2.6h-2.5z"/><path fill-opacity="0.7" d="M424.4 32.7h12.5v2.6h-12.5zM424.4 35.2h2.5v2.6h-2.5zM434.3 35.2h2.5v2.6h-2.5zM424.4 37.7h2.5v2.6h-2.5zM434.3 37.7h2.5v2.6h-2.5zM424.4 40.2h2.5v2.6h-2.5zM434.3 40.2h2.5v2.6h-2.5zM424.4 42.7h12.5v2.6h-12.5zM449.3 57.7h12.5v2.6h-12.5zM449.3 60.2h2.5v2.6h-2.5zM449.3 62.7h2.5v2.6h-2.5zM449.3 65.2h2.5v2.6h-2.5zM449.3 67.7h2.5v2.6h-2.5zM496.6 97.8h2.5v2.6h-2.5zM496.6 100.3h2.5v2.6h-2.5zM496.6 102.8h2.5v2.6h-2.5zM489.2 105.3h12.5v2.6h-12.5zM496.6 107.8h7.5v2.6h-7.5zM499.1 110.3h2.5v2.6h-2.5zM511.6 110.3h2.5v2.6h-2.5zM511.6 112.8h2.5v2.6h-2.5zM511.6 115.3h2.5v2.6h-2.5zM511.6 117.8h2.5v2.6h-2.5zM501.6 120.3h12.5v2.6h-12.5z"/><path fill-opacity="0.7" d="M431.8 35.2h2.5v2.6h-2.5zM431.8 37.7h2.5v2.6h-2.5zM426.8 40.2h7.5v2.6h-7.5zM436.8 45.2h10v2.6h-10zM436.8 47.7h2.5v2.6h-2.5zM444.3 47.7h2.5v2.6h-2.5zM436.8 50.2h2.5v2.6h-2.5zM444.3 50.2h2.5v2.6h-2.5zM436.8 52.7h10v2.6h-10zM451.8 60.2h10v2.6h-10zM451.8 62.7h2.5v2.6h-2.5zM459.3 62.7h2.5v2.6h-2.5zM451.8 65.2h2.5v2.6h-2.5zM459.3 65.2h2.5v2.6h-2.5zM451.8 67.7h10v2.6h-10zM464.2 72.8h10v2.6h-10zM464.2 75.3h2.5v2.6h-2.5zM471.7 75.3h2.5v2.6h-2.5zM464.2 77.8h2.5v2.6h-2.5zM471.7 77.8h2.5v2.6h-2.5zM464.2 80.3h10v2.6h-10zM474.2 82.8h10v2.6h-10zM474.2 85.3h2.5v2.6h-2.5zM481.7 85.3h2.5v2.6h-2.5zM474.2 87.8h2.5v2.6h-2.5zM481.7 87.8h2.5v2.6h-2.5zM474.2 90.3h10v2.6h-10zM489.2 97.8h7.5v2.6h-7.5zM489.2 100.3h2.5v2.6h-2.5zM489.2 102.8h2.5v2.6h-2.5zM501.6 110.3h10v2.6h-10zM501.6 112.8h2.5v2.6h-2.5zM509.1 112.8h2.5v2.6h-2.5zM501.6 115.3h2.5v2.6h-2.5zM509.1 115.3h2.5v2.6h-2.5zM501.6 117.8h10v2.6h-10z"/><path fill-opacity="0.8" d="M426.8 35.2h5v2.6h-5zM426.8 37.7h2.5v2.6h-2.5zM439.3 47.7h5v2.6h-5zM439.3 50.2h5v2.6h-5zM456.8 62.7h2.5v2.6h-2.5zM454.3 65.2h5v2.6h-5zM466.7 75.3h5v2.6h-5zM466.7 77.8h5v2.6h-5zM476.7 85.3h5v2.6h-5zM476.7 87.8h2.5v2.6h-2.5zM494.2 100.3h2.5v2.6h-2.5zM491.7 102.8h5v2.6h-5zM504.1 112.8h5v2.6h-5zM504.1 115.3h2.5v2.6h-2.5z"/><path fill-opacity="0.8" d="M429.3 37.7h2.5v2.6h-2.5zM454.3 62.7h2.5v2.6h-2.5zM479.2 87.8h2.5v2.6h-2.5zM491.7 100.3h2.5v2.6h-2.5zM506.6 115.3h2.5v2.6h-2.5z"/><path d="M409.4 17.7L514.1 122.8" stroke="#000" stroke-opacity="0.3" stroke-width="6"/><path d="M409.4 17.7L514.1 122.8" stroke="#000" stroke-width="2.8"/></g>
<path d="M409.4 17.4H514.1M409.1 17.7V122.8" stroke="#888" stroke-width="0.35"/>
<text x="409.4" y="15.7" font-size="2.7" text-anchor="middle" fill="#444" stroke="#444" stroke-width="0.11">203.0 M</text>
<path d="M409.1 17.7h-1.2" stroke="#666" stroke-width="0.3"/>
<text x="407.4" y="18.6" font-size="2.7" text-anchor="end" fill="#444" stroke="#444" stroke-width="0.11">203.0 M</text>
<text x="435.6" y="15.7" font-size="2.7" text-anchor="middle" fill="#444" stroke="#444" stroke-width="0.11">203.5 M</text>
<path d="M409.1 44h-1.2" stroke="#666" stroke-width="0.3"/>
<text x="407.4" y="44.9" font-size="2.7" text-anchor="end" fill="#444" stroke="#444" stroke-width="0.11">203.5 M</text>
<text x="461.8" y="15.7" font-size="2.7" text-anchor="middle" fill="#444" stroke="#444" stroke-width="0.11">204.0 M</text>
<path d="M409.1 70.2h-1.2" stroke="#666" stroke-width="0.3"/>
<text x="407.4" y="71.2" font-size="2.7" text-anchor="end" fill="#444" stroke="#444" stroke-width="0.11">204.0 M</text>
<text x="487.9" y="15.7" font-size="2.7" text-anchor="middle" fill="#444" stroke="#444" stroke-width="0.11">204.5 M</text>
<path d="M409.1 96.5h-1.2" stroke="#666" stroke-width="0.3"/>
<text x="407.4" y="97.4" font-size="2.7" text-anchor="end" fill="#444" stroke="#444" stroke-width="0.11">204.5 M</text>
<text x="514.1" y="15.7" font-size="2.7" text-anchor="middle" fill="#444" stroke="#444" stroke-width="0.11">205.0 M</text>
<path d="M409.1 122.8h-1.2" stroke="#666" stroke-width="0.3"/>
<text x="407.4" y="123.7" font-size="2.7" text-anchor="end" fill="#444" stroke="#444" stroke-width="0.11">205.0 M</text>
<text transform="translate(393.3 70.2) rotate(-90)" font-size="3.6" text-anchor="middle" fill="#222" stroke="#222" stroke-width="0.14">Genome coordinates</text>
<text x="481" y="25.2" font-size="4.9"><tspan font-style="italic">MDM4</tspan>-no_amp</text>
<text x="481" y="31.2" font-size="4.9">P519</text>
<text x="413" y="112.6" font-size="4.9"><tspan font-style="italic">MDM4</tspan>-amp</text>
<text x="413" y="118.6" font-size="4.9">P521</text>
<path d="M428.3 103.2H486" stroke="#000" stroke-width="1.1"/><path d="M425.3 103.2l3.8-2.2v4.4zM489 103.2l-3.8-2.2v4.4z" fill="#000"/>
<text x="457.5" y="110.6" font-size="5.8" text-anchor="middle">1.2Mb</text>
<text x="457.5" y="117.6" font-size="5.8" text-anchor="middle">ecMDM4</text>
<text x="518.5" y="63.2" font-size="2.7" stroke="#000" stroke-width="0.11">score</text>
<rect x="518.5" y="65.7" width="3.2" height="14" fill="url(#sg)" stroke="#555" stroke-width="0.25"/>
<text x="523.6" y="67.8" font-size="2.3" fill="#333" stroke="#333" stroke-width="0.09">1</text>
<text x="523.6" y="71.7" font-size="2.3" fill="#333" stroke="#333" stroke-width="0.09">0</text>
<text x="523.6" y="75.6" font-size="2.3" fill="#333" stroke="#333" stroke-width="0.09">-1</text>
<text x="523.6" y="79.5" font-size="2.3" fill="#333" stroke="#333" stroke-width="0.09">-2</text>
<text x="528.8" y="11.1" font-size="14.2" font-weight="bold">g</text>
<text x="602.6" y="7.9" font-size="6.5" text-anchor="middle">chr7</text>
<g filter="url(#spk)"><rect x="550.6" y="14.7" width="106.2" height="105.4" fill="#000" fill-opacity="0.003"/><path fill-opacity="0.4" d="M550.6 29.8h5.1v2.6h-5.1zM578.4 29.8h15.2v2.6h-15.2z"/><path fill-opacity="0.5" d="M565.8 14.7h2.5v2.6h-2.5zM618.9 14.7h37.9v2.6h-37.9zM565.8 17.2h2.5v2.6h-2.5zM618.9 17.2h37.9v2.6h-37.9zM565.8 19.7h2.5v2.6h-2.5zM618.9 19.7h37.9v2.6h-37.9zM618.9 22.2h37.9v2.6h-37.9zM618.9 24.7h37.9v2.6h-37.9zM618.9 27.2h37.9v2.6h-37.9zM555.7 29.8h10.1v2.6h-10.1zM568.3 29.8h10.1v2.6h-10.1zM618.9 29.8h37.9v2.6h-37.9zM618.9 32.3h37.9v2.6h-37.9zM618.9 34.8h37.9v2.6h-37.9zM618.9 37.3h37.9v2.6h-37.9zM565.8 39.8h2.5v2.6h-2.5zM618.9 39.8h37.9v2.6h-37.9zM565.8 42.3h2.5v2.6h-2.5zM618.9 42.3h37.9v2.6h-37.9zM565.8 44.8h2.5v2.6h-2.5zM618.9 44.8h37.9v2.6h-37.9zM565.8 47.3h2.5v2.6h-2.5zM618.9 47.3h37.9v2.6h-37.9zM565.8 49.8h2.5v2.6h-2.5zM618.9 49.8h37.9v2.6h-37.9zM565.8 52.3h2.5v2.6h-2.5zM565.8 54.9h2.5v2.6h-2.5z"/><path fill-opacity="0.5" d="M588.5 14.7h30.3v2.6h-30.3zM588.5 17.2h30.3v2.6h-30.3zM588.5 19.7h30.3v2.6h-30.3zM565.8 22.2h2.5v2.6h-2.5zM588.5 22.2h30.3v2.6h-30.3zM565.8 24.7h2.5v2.6h-2.5zM588.5 24.7h30.3v2.6h-30.3zM565.8 27.2h2.5v2.6h-2.5zM588.5 27.2h30.3v2.6h-30.3zM593.6 29.8h25.3v2.6h-25.3zM565.8 32.3h2.5v2.6h-2.5zM588.5 32.3h30.3v2.6h-30.3zM565.8 34.8h2.5v2.6h-2.5zM588.5 34.8h30.3v2.6h-30.3zM565.8 37.3h2.5v2.6h-2.5zM588.5 37.3h30.3v2.6h-30.3zM588.5 39.8h30.3v2.6h-30.3zM588.5 42.3h30.3v2.6h-30.3zM588.5 44.8h30.3v2.6h-30.3zM588.5 47.3h30.3v2.6h-30.3zM588.5 49.8h30.3v2.6h-30.3z"/><path fill-opacity="0.6" d="M575.9 14.7h12.6v2.6h-12.6zM578.4 17.2h10.1v2.6h-10.1zM580.9 19.7h7.6v2.6h-7.6zM583.5 22.2h5.1v2.6h-5.1zM586 24.7h2.5v2.6h-2.5zM550.6 39.8h2.5v2.6h-2.5zM550.6 42.3h5.1v2.6h-5.1zM550.6 44.8h7.6v2.6h-7.6zM550.6 47.3h10.1v2.6h-10.1zM550.6 49.8h12.6v2.6h-12.6zM550.6 52.3h15.2v2.6h-15.2zM568.3 52.3h20.2v2.6h-20.2zM618.9 52.3h37.9v2.6h-37.9zM550.6 54.9h15.2v2.6h-15.2zM568.3 54.9h20.2v2.6h-20.2zM618.9 54.9h37.9v2.6h-37.9zM550.6 57.4h37.9v2.6h-37.9zM618.9 57.4h37.9v2.6h-37.9zM550.6 59.9h37.9v2.6h-37.9zM618.9 59.9h37.9v2.6h-37.9zM550.6 62.4h37.9v2.6h-37.9zM618.9 62.4h37.9v2.6h-37.9zM550.6 64.9h37.9v2.6h-37.9zM618.9 64.9h37.9v2.6h-37.9zM550.6 67.4h37.9v2.6h-37.9zM618.9 67.4h37.9v2.6h-37.9zM550.6 69.9h37.9v2.6h-37.9zM618.9 69.9h37.9v2.6h-37.9zM550.6 72.4h37.9v2.6h-37.9zM618.9 72.4h37.9v2.6h-37.9zM550.6 74.9h37.9v2.6h-37.9zM618.9 74.9h37.9v2.6h-37.9zM550.6 77.4h37.9v2.6h-37.9zM618.9 77.4h37.9v2.6h-37.9zM550.6 79.9h37.9v2.6h-37.9zM618.9 79.9h37.9v2.6h-37.9zM550.6 82.5h37.9v2.6h-37.9zM644.2 82.5h12.6v2.6h-12.6zM550.6 85h37.9v2.6h-37.9zM646.7 85h10.1v2.6h-10.1zM550.6 87.5h37.9v2.6h-37.9zM649.2 87.5h7.6v2.6h-7.6zM550.6 90h37.9v2.6h-37.9zM651.7 90h5.1v2.6h-5.1zM550.6 92.5h37.9v2.6h-37.9zM654.3 92.5h2.5v2.6h-2.5zM550.6 95h37.9v2.6h-37.9zM550.6 97.5h37.9v2.6h-37.9zM550.6 100h37.9v2.6h-37.9zM550.6 102.5h37.9v2.6h-37.9zM550.6 105h37.9v2.6h-37.9zM550.6 107.6h37.9v2.6h-37.9zM618.9 107.6h2.5v2.6h-2.5zM550.6 110.1h37.9v2.6h-37.9zM618.9 110.1h5.1v2.6h-5.1zM550.6 112.6h37.9v2.6h-37.9zM618.9 112.6h7.6v2.6h-7.6zM550.6 115.1h37.9v2.6h-37.9zM618.9 115.1h10.1v2.6h-10.1zM550.6 117.6h37.9v2.6h-37.9zM618.9 117.6h12.6v2.6h-12.6z"/><path fill-opacity="0.6" d="M558.2 14.7h7.6v2.6h-7.6zM568.3 14.7h7.6v2.6h-7.6zM560.7 17.2h5.1v2.6h-5.1zM568.3 17.2h10.1v2.6h-10.1zM563.2 19.7h2.5v2.6h-2.5zM568.3 19.7h12.6v2.6h-12.6zM550.6 22.2h2.5v2.6h-2.5zM568.3 22.2h15.2v2.6h-15.2zM550.6 24.7h5.1v2.6h-5.1zM568.3 24.7h17.7v2.6h-17.7zM550.6 27.2h7.6v2.6h-7.6zM570.8 27.2h17.7v2.6h-17.7zM550.6 32.3h12.6v2.6h-12.6zM575.9 32.3h12.6v2.6h-12.6zM550.6 34.8h15.2v2.6h-15.2zM578.4 34.8h10.1v2.6h-10.1zM550.6 37.3h15.2v2.6h-15.2zM580.9 37.3h7.6v2.6h-7.6zM553.1 39.8h12.6v2.6h-12.6zM568.3 39.8h2.5v2.6h-2.5zM583.5 39.8h5.1v2.6h-5.1zM555.7 42.3h10.1v2.6h-10.1zM568.3 42.3h5.1v2.6h-5.1zM586 42.3h2.5v2.6h-2.5zM558.2 44.8h7.6v2.6h-7.6zM568.3 44.8h7.6v2.6h-7.6zM560.7 47.3h5.1v2.6h-5.1zM568.3 47.3h10.1v2.6h-10.1zM563.2 49.8h2.5v2.6h-2.5zM568.3 49.8h12.6v2.6h-12.6zM626.5 82.5h17.7v2.6h-17.7zM629 85h17.7v2.6h-17.7zM631.5 87.5h17.7v2.6h-17.7zM618.9 90h2.5v2.6h-2.5zM634 90h17.7v2.6h-17.7zM618.9 92.5h5.1v2.6h-5.1zM636.6 92.5h17.7v2.6h-17.7zM618.9 95h7.6v2.6h-7.6zM639.1 95h17.7v2.6h-17.7zM618.9 97.5h10.1v2.6h-10.1zM641.6 97.5h15.2v2.6h-15.2zM618.9 100h12.6v2.6h-12.6zM644.2 100h12.6v2.6h-12.6zM618.9 102.5h15.2v2.6h-15.2zM646.7 102.5h10.1v2.6h-10.1zM618.9 105h17.7v2.6h-17.7zM649.2 105h7.6v2.6h-7.6zM621.4 107.6h17.7v2.6h-17.7zM651.7 107.6h5.1v2.6h-5.1zM623.9 110.1h17.7v2.6h-17.7zM654.3 110.1h2.5v2.6h-2.5zM626.5 112.6h17.7v2.6h-17.7zM629 115.1h17.7v2.6h-17.7zM631.5 117.6h17.7v2.6h-17.7z"/><path fill-opacity="0.7" d="M553.1 14.7h5.1v2.6h-5.1zM550.6 17.2h2.5v2.6h-2.5zM555.7 17.2h5.1v2.6h-5.1zM550.6 19.7h5.1v2.6h-5.1zM558.2 19.7h5.1v2.6h-5.1zM553.1 22.2h5.1v2.6h-5.1zM560.7 22.2h5.1v2.6h-5.1zM555.7 24.7h5.1v2.6h-5.1zM563.2 24.7h2.5v2.6h-2.5zM558.2 27.2h5.1v2.6h-5.1zM568.3 27.2h2.5v2.6h-2.5zM563.2 32.3h2.5v2.6h-2.5zM570.8 32.3h5.1v2.6h-5.1zM568.3 34.8h2.5v2.6h-2.5zM573.4 34.8h5.1v2.6h-5.1zM568.3 37.3h5.1v2.6h-5.1zM575.9 37.3h5.1v2.6h-5.1zM570.8 39.8h5.1v2.6h-5.1zM578.4 39.8h5.1v2.6h-5.1zM573.4 42.3h5.1v2.6h-5.1zM580.9 42.3h5.1v2.6h-5.1zM575.9 44.8h5.1v2.6h-5.1zM583.5 44.8h5.1v2.6h-5.1zM578.4 47.3h5.1v2.6h-5.1zM586 47.3h2.5v2.6h-2.5zM580.9 49.8h5.1v2.6h-5.1zM588.5 82.5h30.3v2.6h-30.3zM621.4 82.5h5.1v2.6h-5.1zM588.5 85h32.9v2.6h-32.9zM623.9 85h5.1v2.6h-5.1zM588.5 87.5h35.4v2.6h-35.4zM626.5 87.5h5.1v2.6h-5.1zM588.5 90h30.3v2.6h-30.3zM621.4 90h5.1v2.6h-5.1zM629 90h5.1v2.6h-5.1zM588.5 92.5h30.3v2.6h-30.3zM623.9 92.5h5.1v2.6h-5.1zM631.5 92.5h5.1v2.6h-5.1zM588.5 95h30.3v2.6h-30.3zM626.5 95h5.1v2.6h-5.1zM634 95h5.1v2.6h-5.1zM588.5 97.5h30.3v2.6h-30.3zM629 97.5h5.1v2.6h-5.1zM636.6 97.5h5.1v2.6h-5.1zM588.5 100h30.3v2.6h-30.3zM631.5 100h5.1v2.6h-5.1zM639.1 100h5.1v2.6h-5.1zM588.5 102.5h30.3v2.6h-30.3zM634 102.5h5.1v2.6h-5.1zM641.6 102.5h5.1v2.6h-5.1zM588.5 105h30.3v2.6h-30.3zM636.6 105h5.1v2.6h-5.1zM644.2 105h5.1v2.6h-5.1zM588.5 107.6h30.3v2.6h-30.3zM639.1 107.6h5.1v2.6h-5.1zM646.7 107.6h5.1v2.6h-5.1zM588.5 110.1h30.3v2.6h-30.3zM641.6 110.1h5.1v2.6h-5.1zM649.2 110.1h5.1v2.6h-5.1zM588.5 112.6h30.3v2.6h-30.3zM644.2 112.6h5.1v2.6h-5.1zM651.7 112.6h5.1v2.6h-5.1zM588.5 115.1h30.3v2.6h-30.3zM646.7 115.1h5.1v2.6h-5.1zM654.3 115.1h2.5v2.6h-2.5zM588.5 117.6h30.3v2.6h-30.3zM649.2 117.6h5.1v2.6h-5.1z"/><path fill-opacity="0.8" d="M591.1 52.3h27.8v2.6h-27.8zM593.6 54.9h25.3v2.6h-25.3zM596.1 57.4h22.8v2.6h-22.8zM598.6 59.9h20.2v2.6h-20.2zM601.2 62.4h17.7v2.6h-17.7zM603.7 64.9h15.2v2.6h-15.2zM606.2 67.4h12.6v2.6h-12.6zM608.8 69.9h10.1v2.6h-10.1zM611.3 72.4h7.6v2.6h-7.6zM613.8 74.9h5.1v2.6h-5.1zM616.3 77.4h2.5v2.6h-2.5z"/><path fill-opacity="1" d="M550.6 14.7h2.5v2.6h-2.5zM553.1 17.2h2.5v2.6h-2.5zM555.7 19.7h2.5v2.6h-2.5zM558.2 22.2h2.5v2.6h-2.5zM560.7 24.7h2.5v2.6h-2.5zM563.2 27.2h2.5v2.6h-2.5zM565.8 29.8h2.5v2.6h-2.5zM568.3 32.3h2.5v2.6h-2.5zM570.8 34.8h2.5v2.6h-2.5zM573.4 37.3h2.5v2.6h-2.5zM575.9 39.8h2.5v2.6h-2.5zM578.4 42.3h2.5v2.6h-2.5zM580.9 44.8h2.5v2.6h-2.5zM583.5 47.3h2.5v2.6h-2.5zM586 49.8h2.5v2.6h-2.5zM588.5 52.3h2.5v2.6h-2.5zM588.5 54.9h5.1v2.6h-5.1zM588.5 57.4h7.6v2.6h-7.6zM588.5 59.9h10.1v2.6h-10.1zM588.5 62.4h12.6v2.6h-12.6zM588.5 64.9h15.2v2.6h-15.2zM588.5 67.4h17.7v2.6h-17.7zM588.5 69.9h20.2v2.6h-20.2zM588.5 72.4h22.8v2.6h-22.8zM588.5 74.9h25.3v2.6h-25.3zM588.5 77.4h27.8v2.6h-27.8zM588.5 79.9h30.3v2.6h-30.3zM618.9 82.5h2.5v2.6h-2.5zM621.4 85h2.5v2.6h-2.5zM623.9 87.5h2.5v2.6h-2.5zM626.5 90h2.5v2.6h-2.5zM629 92.5h2.5v2.6h-2.5zM631.5 95h2.5v2.6h-2.5zM634 97.5h2.5v2.6h-2.5zM636.6 100h2.5v2.6h-2.5zM639.1 102.5h2.5v2.6h-2.5zM641.6 105h2.5v2.6h-2.5zM644.2 107.6h2.5v2.6h-2.5zM646.7 110.1h2.5v2.6h-2.5zM649.2 112.6h2.5v2.6h-2.5zM651.7 115.1h2.5v2.6h-2.5zM654.3 117.6h2.5v2.6h-2.5z"/><path d="M550.6 14.7L656.8 120.1" stroke="#000" stroke-opacity="0.3" stroke-width="7"/><path d="M550.6 14.7L656.8 120.1" stroke="#000" stroke-width="2.6"/></g>
<path d="M550.6 14.4H656.8M550.3 14.7V120.1" stroke="#888" stroke-width="0.35"/>
<text x="550.6" y="12.7" font-size="2.7" text-anchor="middle" fill="#444" stroke="#444" stroke-width="0.11">54.0 M</text>
<path d="M550.3 14.7h-1.2" stroke="#666" stroke-width="0.3"/>
<text x="548.6" y="15.6" font-size="2.7" text-anchor="end" fill="#444" stroke="#444" stroke-width="0.11">54.0 M</text>
<text x="577.1" y="12.7" font-size="2.7" text-anchor="middle" fill="#444" stroke="#444" stroke-width="0.11">54.5 M</text>
<path d="M550.3 41h-1.2" stroke="#666" stroke-width="0.3"/>
<text x="548.6" y="41.9" font-size="2.7" text-anchor="end" fill="#444" stroke="#444" stroke-width="0.11">54.5 M</text>
<text x="603.7" y="12.7" font-size="2.7" text-anchor="middle" fill="#444" stroke="#444" stroke-width="0.11">55.0 M</text>
<path d="M550.3 67.4h-1.2" stroke="#666" stroke-width="0.3"/>
<text x="548.6" y="68.3" font-size="2.7" text-anchor="end" fill="#444" stroke="#444" stroke-width="0.11">55.0 M</text>
<text x="630.2" y="12.7" font-size="2.7" text-anchor="middle" fill="#444" stroke="#444" stroke-width="0.11">55.5 M</text>
<path d="M550.3 93.8h-1.2" stroke="#666" stroke-width="0.3"/>
<text x="548.6" y="94.7" font-size="2.7" text-anchor="end" fill="#444" stroke="#444" stroke-width="0.11">55.5 M</text>
<text x="656.8" y="12.7" font-size="2.7" text-anchor="middle" fill="#444" stroke="#444" stroke-width="0.11">56.0 M</text>
<path d="M550.3 120.1h-1.2" stroke="#666" stroke-width="0.3"/>
<text x="548.6" y="121" font-size="2.7" text-anchor="end" fill="#444" stroke="#444" stroke-width="0.11">56.0 M</text>
<text transform="translate(537 68.5) rotate(-90)" font-size="3.6" text-anchor="middle" fill="#222" stroke="#222" stroke-width="0.14">Genome coordinates</text>
<text x="659.5" y="20.8" font-size="4.9"><tspan font-style="italic">EGFR</tspan>-</text>
<text x="659.5" y="26.9" font-size="4.9">no_amp</text>
<text x="659.5" y="33" font-size="4.9">P519</text>
<text x="551.9" y="126.1" font-size="4.9"><tspan font-style="italic">EGFR</tspan>-amp</text>
<text x="551.9" y="132" font-size="4.9">P524_9</text>
<path d="M592 123H614" stroke="#000" stroke-width="0.5"/><path d="M590.6 123l1.8-1v2zM615.4 123l-1.8-1v2z" fill="#000"/>
<text x="603" y="129.3" font-size="4.9" text-anchor="middle">515 KB</text>
<text x="603" y="135" font-size="4.9" text-anchor="middle">ecEGFR</text>
<text x="664.6" y="61.1" font-size="2.7" stroke="#000" stroke-width="0.11">score</text>
<rect x="664.6" y="63.2" width="3" height="14" fill="url(#sg)" stroke="#555" stroke-width="0.25"/>
<text x="669.6" y="65.3" font-size="2.3" fill="#333" stroke="#333" stroke-width="0.09">1</text>
<text x="669.6" y="69.2" font-size="2.3" fill="#333" stroke="#333" stroke-width="0.09">0</text>
<text x="669.6" y="73.1" font-size="2.3" fill="#333" stroke="#333" stroke-width="0.09">-1</text>
<text x="669.6" y="77" font-size="2.3" fill="#333" stroke="#333" stroke-width="0.09">-2</text>
<text x="243.9" y="143.9" font-size="14.2" font-weight="bold">h</text>
<text x="293.2" y="139.4" font-size="6.9" text-anchor="middle">P521</text>
<path d="M302.8 149.6Q298 189.9 304.9 229.8M289.3 148.7Q292.9 190 295.9 231.4M301.4 149.3Q298.6 189.5 309.1 228.3M284.3 149.5Q292.1 190.2 297.4 231.3M293.1 148.5Q291.4 189.8 285.4 230.8M307.3 151Q295.9 190.5 291.2 231.5M290.7 148.6Q289.3 189.4 278.4 228.8M284.7 149.4Q289.5 190 285.2 230.7M300.9 149.2Q291.4 189.5 277.3 228.4M279.1 151Q293.1 190 306.9 229.2M282.5 149.9Q292.7 190.1 301.8 230.6M306.5 150.7Q295.3 190.5 289.4 231.3M293.3 148.5Q290.3 189.5 280.3 229.5M280.3 150.5Q289.8 190.4 291.1 231.4M303.1 149.7Q299.2 189.5 310.1 227.9M303.9 149.9Q300.4 189 314.4 225.7M294.6 148.5Q294.8 189.9 299.1 231.1M297.7 148.7Q294.9 190 296.2 231.4M302.2 149.5Q291.6 189.5 277.1 228.3M282.7 149.8Q289.1 190.1 285.3 230.8M285.1 149.3Q289.4 190 284.2 230.5M279.9 150.7Q294.7 189.4 313.1 226.4M285.9 149.2Q294.9 189.5 307.9 228.8M290.9 148.6Q295.7 189.5 306.6 229.3M304 149.9Q296.2 190.3 295.8 231.4M283.8 149.6Q289 190 283.9 230.4M252 195Q293 193.3 333.6 199.6M252.9 180.2Q292.3 192.3 329.5 210.1M252.6 181.4Q292.3 192.5 329.7 209.8M252.3 197.1Q292.2 196 329.7 209.7M256.9 169.9Q292.5 191.1 326.3 215.1M251.7 189.1Q293.1 191.4 334 197.4M252.4 182.7Q292.5 192.3 330.7 207.7M252.1 184.2Q292.9 191.5 332.8 202.5M254.5 175Q293.2 190.1 331.8 205.4M252.1 184.4Q292.6 192.1 331.9 205.1M333.5 200Q299 183.5 278.9 151.1M333.7 199.3Q293.8 188.2 255.4 172.9M333.6 199.3Q295.6 185.6 263.4 161.1M333.6 199.4Q299.7 183.2 281.6 150.1M333.4 200.5Q294.2 187.5 257.7 168.5M334 197.4Q297.4 183.8 270.9 155M334 197.8Q295.2 185.8 261.2 163.6M334.1 196.9Q293.8 188 254.9 174.1" fill="none" stroke="#9ccfea" stroke-width="0.25" stroke-opacity="0.4"/>
<path d="M333.2 201Q294.5 197.7 258.8 213.2M333.6 199.4Q294.4 197.1 258.1 212.2M333.6 199.7Q294.4 197.1 258 212M333.2 201.1Q294.2 197.3 257.6 211.4M333.6 199.7Q294.2 196.9 257.5 211.2M332.9 201.9Q294.3 197.8 258.5 212.7" fill="none" stroke="#4a9fd6" stroke-width="0.3" stroke-opacity="0.6"/>
<circle cx="293.2" cy="190" r="42.8" fill="none" stroke="#d4d4d4" stroke-width="2.4"/>
<circle cx="293.2" cy="190" r="42.8" fill="none" stroke="#333" stroke-opacity="0.8" stroke-width="2.4" stroke-dasharray="0.6 2.9 1.1 2.2 0.5 1.2 0.8 1.4 1.0 3.5 0.5 1.7 1.0 2.9 1.0 1.9 0.4 1.7 1.0 1.7 0.6 2.1 0.7 2.1 1.1 1.3 0.3 3.8 1.1 4.0 0.7 3.8 1.1 1.5 1.0 3.5 0.9 2.5 0.6 1.9 0.5 1.0 0.8 1.7 1.0 0.9 1.1 3.0 1.1 3.7 1.1 2.6 0.3 3.2 0.5 1.8 0.9 2.5 0.7 3.8 0.9 1.9 0.5 3.6 0.7 3.3 0.6 1.4 0.8 3.4 0.5 3.3 1.1 3.4 1.0 0.8 0.9 3.6 0.3 1.7 0.5 2.5 0.7 2.3 1.0 0.8 0.3 1.2 0.4 1.0 1.2 3.5 0.4 2.4 0.6 1.8 0.6 2.9 0.8 2.0 0.5 1.9 0.4 2.6 0.9 2.0 0.4 1.4 0.6 2.7 1.0 2.0 1.0 2.8 0.7 2.0 0.7 3.0 0.7 3.0 0.7 1.6 0.8 3.0 0.4 2.2 0.7 3.6 1.1 2.0 1.1 3.3 0.5 2.3 0.4 3.4 0.9 3.6 1.0 2.9 1.0 2.6 0.4 2.7 0.3 1.3 1.0 0.9 0.4 1.1 1.1 1.4 0.3 3.5 0.4 3.5 0.9 3.5 1.2 2.7 1.0 0.9 1.0 2.4 0.9 1.1 1.0 3.8 0.4 1.8 0.8 3.4 0.5 1.4 0.5 2.8 1.0 2.1 0.6 2.1 0.6 2.1 0.4 2.4 1.2 2.1 1.0 1.3 0.9 3.2 0.9 2.5 0.7 2.9 1.1 1.3 0.4 3.2 1.1 2.5 0.7 3.1 0.5 1.7 0.5 2.7 0.6 1.5 0.9 3.9 0.6 3.1 0.7 3.5 0.8 1.7 0.5 0.9 0.7 2.0 0.5 2.0 0.6 3.3 0.4 4.0 0.7 2.7 0.7 3.5 1.0 2.6 0.7 3.1 1.1 2.1 1.0 3.9 0.7 1.5"/>
<circle cx="293.2" cy="190" r="42.8" fill="none" stroke="#fff" stroke-width="2.8" stroke-dasharray="0.5 9.9 0.5 11.9 0.5 11.7 0.5 12.8 0.5 12.4 0.5 10.0 0.5 9.8 0.5 10.0 0.5 9.7 0.5 11.8 0.5 12.4 0.5 12.6 0.5 10.0 0.5 12.5 0.5 10.3 0.5 10.7 0.5 11.9 0.5 9.3 0.5 9.4 0.5 12.3 0.5 10.2 0.5 10.4 0.5 11.3 0.5 11.7" stroke-dashoffset="3"/>
<circle cx="336" cy="190" r="0.5" fill="#e55" fill-opacity="0.8"/>
<circle cx="333.9" cy="203.1" r="0.5" fill="#e55" fill-opacity="0.8"/>
<circle cx="328.8" cy="213.8" r="0.5" fill="#e55" fill-opacity="0.8"/>
<circle cx="321.2" cy="222.4" r="0.5" fill="#e55" fill-opacity="0.8"/>
<circle cx="313.4" cy="227.7" r="0.5" fill="#e55" fill-opacity="0.8"/>
<circle cx="300.6" cy="232.2" r="0.5" fill="#e55" fill-opacity="0.8"/>
<circle cx="287.1" cy="232.4" r="0.5" fill="#e55" fill-opacity="0.8"/>
<circle cx="279.7" cy="230.6" r="0.5" fill="#e55" fill-opacity="0.8"/>
<circle cx="268.8" cy="225.2" r="0.5" fill="#e55" fill-opacity="0.8"/>
<circle cx="262.4" cy="219.7" r="0.5" fill="#e55" fill-opacity="0.8"/>
<circle cx="255.3" cy="209.9" r="0.5" fill="#e55" fill-opacity="0.8"/>
<circle cx="251" cy="196.9" r="0.5" fill="#e55" fill-opacity="0.8"/>
<circle cx="250.4" cy="189.3" r="0.5" fill="#e55" fill-opacity="0.8"/>
<circle cx="253.7" cy="173.5" r="0.5" fill="#e55" fill-opacity="0.8"/>
<circle cx="259.4" cy="163.8" r="0.5" fill="#e55" fill-opacity="0.8"/>
<circle cx="263.4" cy="159.3" r="0.5" fill="#e55" fill-opacity="0.8"/>
<circle cx="277.2" cy="150.3" r="0.5" fill="#e55" fill-opacity="0.8"/>
<circle cx="284.5" cy="148.1" r="0.5" fill="#e55" fill-opacity="0.8"/>
<circle cx="298.1" cy="147.5" r="0.5" fill="#e55" fill-opacity="0.8"/>
<circle cx="308.9" cy="150.2" r="0.5" fill="#e55" fill-opacity="0.8"/>
<circle cx="316.2" cy="153.9" r="0.5" fill="#e55" fill-opacity="0.8"/>
<circle cx="326.4" cy="163" r="0.5" fill="#e55" fill-opacity="0.8"/>
<circle cx="332.2" cy="172.3" r="0.5" fill="#e55" fill-opacity="0.8"/>
<circle cx="335.6" cy="184" r="0.5" fill="#e55" fill-opacity="0.8"/>
<circle cx="293.2" cy="190" r="46.4" fill="none" stroke="#444" stroke-opacity="0.55" stroke-width="2.0" stroke-dasharray="0.5 1.9 1.2 1.7 0.8 0.7 0.7 1.1 0.9 1.7 0.8 0.8 0.9 1.6 0.5 2.1 0.9 0.7 1.1 0.8 0.6 1.8 0.8 1.5 0.9 1.3 0.6 0.8 0.4 1.8 1.0 1.5 1.0 1.1 0.5 1.2 1.1 0.6 0.8 0.9 1.0 1.1 0.6 1.2 0.8 1.9 0.6 2.0 0.4 1.0 0.4 0.7 1.0 1.8 0.5 0.8 0.7 1.8 1.0 1.8 0.8 0.8 0.7 0.8 0.8 1.5 0.5 1.0 1.0 0.6 1.0 2.1 1.2 1.2 0.8 1.5 0.9 2.3 0.9 1.0 1.1 1.4 0.8 1.8 0.3 1.9 0.9 1.4 0.8 1.3 0.5 1.5 0.3 1.4 0.9 1.3 0.8 2.2 1.1 0.7 1.0 1.6 0.3 1.1 0.5 0.6 0.8 2.2 0.6 2.1 0.9 0.7 1.1 1.6 1.1 1.8 1.0 1.1 1.0 2.2 1.1 1.3 1.0 1.4 0.4 0.6 0.4 0.9 0.4 1.4 0.9 1.5 0.7 1.7 0.6 1.3 1.0 1.2 0.5 2.1 0.9 1.2 0.6 1.5 0.8 0.9 0.3 0.9 1.0 0.8 0.7 0.9 0.5 0.8 0.7 0.8 0.3 0.7 0.5 1.4 0.4 0.5 0.7 1.2 0.9 0.6 0.7 1.2 0.3 2.2 0.5 0.7 0.7 0.8 0.9 1.1 0.4 0.6 1.0 1.0 1.0 1.3 1.1 1.0 0.5 1.0 1.0 1.6 0.6 0.7 0.9 2.2 0.8 0.5 0.3 0.7 0.5 0.6 0.3 1.7 1.1 0.9 1.2 1.4 1.0 2.2 1.1 0.6 0.6 1.6 1.2 0.7 0.6 2.0 0.4 1.2 0.6 1.7 1.1 0.8 1.0 1.8 1.1 1.5 1.1 1.2 0.7 0.9 1.0 1.4 0.5 0.8 0.9 1.6 0.9 1.2 0.7 0.8 0.9 0.5 0.7 1.9 0.9 0.7 0.5 2.0 0.9 2.1 1.1 1.3 1.1 1.8 0.6 1.2 0.4 1.2 1.2 0.7 0.8 0.7 0.4 1.7 0.5 0.6 0.4 1.7 0.8 0.5 0.5 2.2 0.5 1.5 0.7 1.9 0.8 1.9 0.8 0.8 0.5 0.6 1.0 0.7 0.3 2.2 0.5 2.1 0.4 1.3 0.5 2.0 0.9 1.7 1.0 2.1 0.6 1.6 0.7 0.7 1.1 1.6 1.0 0.9 0.8 1.3 1.0 0.6 0.6 1.4 0.4 1.5 1.0 1.3 0.9 1.6 0.5 1.1 1.2 1.1 0.7 0.7 0.5 0.8 1.1 1.8 1.1 2.3 0.9 2.2 0.8 1.3 1.2 2.1 1.2 1.4 1.0 1.2 1.2 2.2 0.6 2.2 0.5 0.7 1.0 1.0 0.8 1.7 0.3 1.8 0.5 1.3 0.6 1.8 1.0 1.0 0.4 1.0 0.7 0.6 0.4 1.9 0.9 2.3 1.2 2.1 0.6 0.8 0.6 1.3 0.8 1.5 0.6 2.0 0.6 1.3 1.1 2.0 0.6 0.9 1.0 0.5 0.4 1.5 0.8 0.8 0.3 0.9 1.0 1.3 1.2 1.9 1.2 0.6 0.5 0.5 0.7 1.1 0.3 1.5 0.4 1.1"/>
<circle cx="293.2" cy="190" r="41.5" fill="none" stroke="#333" stroke-width="0.4"/>
<circle cx="259.9" cy="213" r="3.7" fill="none" stroke="#e43b3b" stroke-width="0.8"/>
<circle cx="331.8" cy="205.3" r="3.7" fill="none" stroke="#e43b3b" stroke-width="0.8"/>
<text x="259.3" y="205.4" font-size="6.0">ecEGFR</text>
<text x="309.8" y="196.5" font-size="6.0">ecMDM4</text>
<text x="365.6" y="143.5" font-size="14.2" font-weight="bold">i</text>
<text x="417.7" y="139.4" font-size="6.9" text-anchor="middle">P524_9</text>
<path d="M383.9 210.3Q408.6 192.5 379 185.3M384.2 210.9Q408.8 191.9 380 180.4M384 210.5Q408.6 193.1 378.7 189M384.4 211.1Q408.9 191.8 380.3 179.2M384 210.5Q408.7 192.5 379.1 185.1M383.8 210.1Q408.6 193.2 378.7 190M383.8 210.2Q408.7 192.2 379.5 182.7M384.4 211.2Q408.7 192.7 379 185.4M383.5 209.6Q408.7 191.8 379.9 180.8M383.8 210.1Q408.9 191.4 380.9 177.3M383.9 210.4Q408.6 192.8 378.9 186.8M383.7 210Q408.6 192.9 378.8 188.3M384.4 211.2Q408.7 192.5 379.2 184.2M384 210.6Q408.9 191.6 380.6 178.2M383.2 209Q408.5 193.1 378.7 190.2M383.5 209.6Q408.7 191.6 380.2 179.5M384.3 211.1Q413.2 187.8 411 150.8M383.3 209.2Q416.5 188 436.1 153.7M383.4 209.5Q416.9 188.2 438.7 155M383.1 208.9Q414.9 187.5 424.4 150.3M383.5 209.6Q416 187.8 432 152.1M383.4 209.4Q418 189 446.6 160.7M383.2 209Q412 187.8 403.9 153M384.1 210.7Q414.7 187.7 422.3 150.1M383.3 209.2Q417.8 188.7 444.9 159.2M383.3 209.2Q416.6 188 436.4 153.8M383.2 209Q416.9 188.1 438.6 154.9M383.4 209.4Q417.5 188.5 442.8 157.6M384 210.5Q415.6 187.8 428.4 151.1M383.7 210.1Q416.3 188 434.1 152.8M383.8 210.2Q412.8 187.8 408.9 151.3M383.5 209.7Q418.3 189.2 448.3 162.4M383.8 210.1Q416.2 187.9 432.9 152.4M384.2 210.8Q418.1 189.2 446.6 160.7M384.3 211Q418.7 189.8 450.6 164.9M383.8 210.2Q415.6 187.8 429.2 151.3M383.5 209.7Q411.9 188 403 153.4M384.1 210.6Q417.8 188.9 444.2 158.6M383.8 210.1Q414.2 187.6 419.2 150M383.2 209Q418.1 189 447.6 161.6M383.9 210.4Q413.3 187.7 412.2 150.6M383.7 210Q415.8 187.8 430.4 151.6M383.8 210.2Q417.1 188.3 439.4 155.4M384.3 211.1Q411.5 188.5 399.1 155.3M383.8 210.1Q418.6 189.6 450.3 164.6M383.6 209.9Q412.6 187.8 407.9 151.6M383.5 209.7Q418.1 189 446.8 160.9M383.4 209.4Q413.3 187.5 413.2 150.4M383.9 210.4Q416.9 188.3 438 154.6M383.9 210.4Q413 187.8 410.3 151M384.4 211.3Q412.5 188 406.2 152.1M383.7 210Q412.6 187.8 407.5 151.7M384.4 211.2Q412.2 188.1 404.1 152.9M384.1 210.8Q414.5 187.7 420.7 150M383.8 210.2Q412.3 187.9 405.2 152.5M384 210.4Q413.3 187.7 412.7 150.5M383.4 209.5Q418.1 189.1 447.4 161.4M383.5 209.6Q414.4 187.5 420.9 150M383.9 210.3Q417.5 188.6 442.5 157.4M383.4 209.4Q411.5 188.2 399.7 155M383.2 209.1Q411.6 188 401 154.3M384.2 210.8Q414.6 187.7 421.5 150.1M384.5 211.3Q413.8 187.8 415.1 150.2M383.1 208.9Q411.5 188.1 400.3 154.7M383.7 209.9Q411.7 188.1 401.5 154.1M384.2 210.9Q418 189 445.4 159.6M383.2 209Q418.5 189.5 450.3 164.6M384.2 210.8Q412.8 187.9 408.5 151.4M383.4 209.5Q418 189 446.5 160.6M383.6 209.8Q412.7 187.8 408.1 151.6M384.1 210.7Q412.2 188.1 404.2 152.9M384.4 211.3Q420 192.7 459.3 185.2M384.2 211Q419.9 193.9 459.5 194.5M383.1 208.9Q419.7 192.1 459.1 183.8M383.9 210.4Q419.9 193.3 459.7 190.6M383.3 209.2Q419.8 193.1 459.7 190.5M383.6 209.7Q419.9 192.9 459.6 188.4M383.7 210Q419.9 193.5 459.7 192.2M383.2 209.1Q419.8 193.3 459.7 192.2M383.3 209.2Q419.8 193.5 459.6 193.5M383.7 209.9Q419.9 193.6 459.6 193.1M384.2 210.9Q420 193 459.6 187.8M383.7 210Q419.9 192.7 459.5 186.6M383.4 209.5Q419.8 193.7 459.5 194.4M383.2 209.1Q419.8 193.1 459.7 190.5M383.6 209.8Q419.9 193.3 459.7 191.5M383.5 209.7Q419.8 192.3 459.2 184.2M383.1 208.9Q419.8 192.9 459.7 189M383.6 209.8Q419.9 193.3 459.7 191.2M384.1 210.7Q420 193.5 459.7 191.9M383.2 209Q419.8 193.4 459.6 192.7M384.5 211.3Q420 193.4 459.7 190.3M383.3 209.2Q419.7 192 458.9 182.4M384 210.5Q419.8 192.2 458.9 182.6M383.5 209.7Q419.8 192.3 459.2 184.5M383.2 209Q419.8 193.3 459.7 191.7M384.2 210.9Q420 193 459.6 188.2M384.2 210.8Q420 193.3 459.7 189.8M384.3 211.1Q420 193.8 459.6 193.8M383.9 210.4Q416.4 198.6 434.2 228.1M383.4 209.4Q419.3 195.6 455.8 207.8M383.7 210Q419.2 196 454.4 210.5M383.5 209.6Q418.9 196.4 452.5 213.6M384.4 211.1Q418.6 197.1 449.7 217.1M383.4 209.5Q418.6 196.7 450.9 215.7M384.4 211.2Q419.2 196.3 454.2 210.9M383.7 210Q417.5 197.9 442.3 223.8M383.2 209.1Q419 196.1 453.4 212.2M383.3 209.3Q416.4 198.3 435.4 227.6M383.2 209Q416.1 198.4 433.2 228.5M383.6 209.8Q417.8 197.6 445 221.7M383.3 209.3Q417.5 197.7 443.2 223.1M384.1 210.8Q415.9 198.8 430.4 229.4M383.3 209.2Q418 197.3 446.5 220.4M384.3 211.1Q419.5 195.6 456.5 206.4M383.9 210.3Q415.8 198.7 430.1 229.5M384.3 211.1Q419.7 195.2 457.6 203.3M384.3 211.1Q418.2 197.5 446.8 220.2M383.6 209.8Q418.3 197.1 448.5 218.4M384.2 210.8Q419.7 195.1 457.6 203.3M383.8 210.1Q418 197.5 446 220.9M383.5 209.7Q418.1 197.3 447.1 219.9M383.8 210.2Q416.9 198.3 437.9 226.4M383.7 210Q419.4 195.5 456.4 206.5M383.4 209.5Q416.7 198.3 436.8 227M383.5 209.6Q419.3 195.7 455.4 208.7M383.5 209.6Q419.2 195.9 454.7 210M384.4 211.2Q419.4 195.9 455.7 208.1M384.2 210.9Q416.4 198.6 434.4 228M383.7 210Q419.2 196 454.6 210.1M383.4 209.5Q418.4 197 449 218M384.3 211Q414.4 199 420.1 231M383.6 209.8Q412.4 198.6 406 228.8M383.2 209Q412.8 198.6 409.3 229.8M383.8 210.3Q412.8 198.7 408.7 229.6M384.2 210.9Q413.7 199 415.1 230.8M383.9 210.4Q414.1 199 418.3 231M383.5 209.7Q413.6 198.8 415.1 230.8M383.6 209.8Q412.8 198.7 408.9 229.7M383.3 209.2Q413.9 198.8 417.6 231M384.3 211.1Q412.3 198.7 404.5 228.3" fill="none" stroke="#35a9b2" stroke-width="0.3" stroke-opacity="0.5"/>
<circle cx="419.2" cy="190.5" r="41.8" fill="none" stroke="#d4d4d4" stroke-width="2.4"/>
<circle cx="419.2" cy="190.5" r="41.8" fill="none" stroke="#333" stroke-opacity="0.8" stroke-width="2.4" stroke-dasharray="0.5 1.7 0.8 3.9 0.6 3.8 1.1 2.5 0.9 3.9 1.0 1.7 1.1 1.4 0.6 3.9 1.1 1.8 0.6 2.8 1.1 3.0 1.1 3.1 1.0 2.7 0.6 2.2 0.7 2.5 1.1 1.7 0.4 3.1 0.5 2.1 0.4 3.5 0.5 1.7 1.0 2.4 0.5 3.6 0.7 2.0 1.2 3.3 1.0 1.6 1.0 2.7 1.0 2.0 1.0 3.3 0.6 2.9 1.0 4.0 1.1 3.3 0.4 2.8 0.9 1.1 0.7 3.6 1.1 3.8 0.4 2.7 1.1 2.9 0.6 0.9 1.1 3.5 0.9 2.0 1.0 3.4 1.0 2.7 0.6 1.7 0.6 1.8 0.8 1.2 0.9 1.9 0.4 1.6 0.7 2.2 1.0 1.1 0.5 1.7 0.5 3.2 0.4 1.0 0.8 3.2 1.0 2.6 0.6 3.6 1.0 2.3 0.8 3.8 1.2 3.8 0.4 1.8 0.7 1.3 1.0 1.0 1.1 2.7 0.9 2.1 1.1 2.7 1.1 3.8 0.9 3.9 0.7 2.0 1.1 2.5 0.6 3.0 0.7 1.2 1.1 2.4 1.2 2.5 1.1 1.7 0.5 2.5 1.0 3.4 0.9 1.2 0.7 0.9 0.6 3.8 0.6 3.0 0.9 1.3 0.9 1.1 0.5 2.7 0.4 3.9 0.7 2.8 1.2 1.1 1.2 0.9 0.8 2.9 1.2 1.9 1.2 2.9 0.7 1.3 0.5 2.0 0.6 2.0 1.0 2.0 0.9 0.9 0.4 3.1 1.1 1.8 0.3 1.5 0.6 2.0 0.8 1.8 0.9 3.3 1.0 3.2 0.8 1.6 1.1 1.7 1.1 2.2 0.9 2.4 0.9 1.9 0.8 3.2 0.6 2.7 0.7 2.3 0.6 2.5 0.9 1.4 0.4 3.4 0.4 3.3 1.0 1.5 0.9 1.6 1.1 1.4 0.4 0.9 0.9 1.5 0.6 3.9 1.0 3.2"/>
<circle cx="419.2" cy="190.5" r="41.8" fill="none" stroke="#fff" stroke-width="2.8" stroke-dasharray="0.5 11.3 0.5 11.6 0.5 9.0 0.5 12.3 0.5 10.3 0.5 12.4 0.5 10.7 0.5 12.6 0.5 9.0 0.5 12.9 0.5 9.4 0.5 11.0 0.5 10.9 0.5 12.9 0.5 11.9 0.5 12.9 0.5 12.6 0.5 10.7 0.5 9.6 0.5 9.6 0.5 11.8 0.5 12.8 0.5 11.7 0.5 10.4" stroke-dashoffset="3"/>
<circle cx="460.8" cy="194.2" r="0.5" fill="#e55" fill-opacity="0.8"/>
<circle cx="458.3" cy="205.2" r="0.5" fill="#e55" fill-opacity="0.8"/>
<circle cx="454.6" cy="212.8" r="0.5" fill="#e55" fill-opacity="0.8"/>
<circle cx="445.5" cy="223" r="0.5" fill="#e55" fill-opacity="0.8"/>
<circle cx="439" cy="227.3" r="0.5" fill="#e55" fill-opacity="0.8"/>
<circle cx="429.9" cy="230.9" r="0.5" fill="#e55" fill-opacity="0.8"/>
<circle cx="418.8" cy="232.3" r="0.5" fill="#e55" fill-opacity="0.8"/>
<circle cx="405.5" cy="230" r="0.5" fill="#e55" fill-opacity="0.8"/>
<circle cx="394.6" cy="224.3" r="0.5" fill="#e55" fill-opacity="0.8"/>
<circle cx="388.7" cy="219" r="0.5" fill="#e55" fill-opacity="0.8"/>
<circle cx="381.8" cy="209.2" r="0.5" fill="#e55" fill-opacity="0.8"/>
<circle cx="377.9" cy="197.1" r="0.5" fill="#e55" fill-opacity="0.8"/>
<circle cx="377.4" cy="188.9" r="0.5" fill="#e55" fill-opacity="0.8"/>
<circle cx="379.8" cy="176.6" r="0.5" fill="#e55" fill-opacity="0.8"/>
<circle cx="385" cy="166.4" r="0.5" fill="#e55" fill-opacity="0.8"/>
<circle cx="391.5" cy="159.2" r="0.5" fill="#e55" fill-opacity="0.8"/>
<circle cx="399.4" cy="153.7" r="0.5" fill="#e55" fill-opacity="0.8"/>
<circle cx="412.6" cy="149.2" r="0.5" fill="#e55" fill-opacity="0.8"/>
<circle cx="423.6" cy="148.9" r="0.5" fill="#e55" fill-opacity="0.8"/>
<circle cx="431.2" cy="150.4" r="0.5" fill="#e55" fill-opacity="0.8"/>
<circle cx="444.3" cy="157.1" r="0.5" fill="#e55" fill-opacity="0.8"/>
<circle cx="451.5" cy="164" r="0.5" fill="#e55" fill-opacity="0.8"/>
<circle cx="457.8" cy="174.5" r="0.5" fill="#e55" fill-opacity="0.8"/>
<circle cx="460.6" cy="184.5" r="0.5" fill="#e55" fill-opacity="0.8"/>
<circle cx="419.2" cy="190.5" r="45.4" fill="none" stroke="#444" stroke-opacity="0.55" stroke-width="2.0" stroke-dasharray="0.7 1.8 0.6 1.7 0.4 1.1 0.8 2.1 0.9 2.1 1.1 2.2 0.9 1.6 0.7 0.9 1.0 1.6 0.4 0.9 0.5 1.8 0.8 0.9 0.9 1.5 0.5 1.3 1.2 0.8 0.5 1.6 1.1 2.2 0.7 1.9 0.4 1.2 1.1 1.7 0.7 1.6 0.7 1.5 1.1 2.3 0.5 1.9 1.2 1.6 0.8 1.2 0.7 1.5 0.9 0.7 1.2 1.0 0.8 0.9 0.9 0.6 0.6 1.2 0.6 1.4 0.4 1.4 1.0 1.6 1.2 2.2 0.7 1.3 1.0 2.1 0.8 1.7 0.9 1.4 0.8 1.2 0.7 1.4 1.0 0.8 0.4 2.2 0.8 1.8 1.1 1.8 0.8 2.2 0.9 1.3 0.5 0.8 1.0 2.1 0.6 1.5 0.9 1.6 0.5 2.1 0.8 1.8 0.9 1.3 0.9 0.8 0.8 1.7 0.9 1.0 0.5 0.7 0.4 0.8 0.7 1.5 0.9 1.3 1.0 0.6 0.6 0.7 0.8 1.5 0.8 1.3 0.6 1.1 0.4 0.8 0.7 1.5 0.4 2.0 0.3 0.7 0.7 1.1 0.8 1.7 0.8 1.9 0.7 1.7 0.7 0.7 0.4 0.8 0.7 1.0 0.8 1.7 1.1 0.8 1.2 0.5 1.1 2.3 0.6 1.9 0.8 1.5 1.1 2.2 0.6 0.9 1.1 1.6 1.1 0.9 1.1 0.8 0.4 1.0 1.1 1.2 0.7 1.0 0.4 1.3 0.7 1.1 1.0 1.1 1.2 2.1 0.8 0.7 0.8 1.6 0.9 1.3 1.0 2.3 0.9 0.6 0.9 1.6 0.8 2.2 0.3 0.5 1.0 0.7 0.4 2.0 0.6 2.1 1.0 1.7 0.6 0.6 1.2 2.1 1.1 1.4 0.6 1.6 0.7 0.8 0.4 1.2 0.4 1.0 1.2 2.2 1.1 1.4 1.0 0.8 0.9 2.3 1.0 2.3 0.9 1.0 0.3 1.0 1.0 1.5 0.9 1.9 0.6 0.8 1.1 1.6 0.3 1.8 0.9 1.9 0.4 1.0 1.0 1.7 0.6 2.2 0.6 2.1 0.4 1.3 1.2 1.7 1.0 2.1 0.9 1.5 1.0 1.5 1.2 1.9 0.3 1.0 1.1 0.7 0.3 1.5 0.9 2.3 1.2 1.6 0.9 1.5 1.1 1.7 0.4 1.6 0.3 1.1 0.6 2.2 0.5 1.2 0.8 0.9 0.7 1.0 0.9 1.9 0.8 2.1 0.7 1.8 0.4 1.2 0.6 2.1 0.7 1.2 0.9 2.2 1.0 1.9 0.9 1.9 0.8 1.2 0.6 1.0 0.6 1.4 1.1 0.9 0.7 1.0 0.7 0.6 0.9 2.0 1.1 1.1 0.5 1.8 1.0 0.8 0.4 1.7 0.6 1.4 0.8 2.1 0.4 1.0 0.3 1.7 0.4 2.0 0.8 1.4 0.5 2.1 0.4 1.5 1.0 1.7 0.3 0.7 0.6 1.8 0.4 2.2 1.1 1.5 1.1 1.6 0.4 1.2 0.3 1.3 1.2 1.2 0.9 1.1 0.9 1.1 1.1 1.2 0.5 1.3 0.4 1.1 1.0 1.2 0.7 0.9 1.0 2.1 0.7 0.5 0.7 2.1 0.9 0.9 0.4 2.1"/>
<circle cx="419.2" cy="190.5" r="40.5" fill="none" stroke="#333" stroke-width="0.4"/>
<circle cx="384.2" cy="212.2" r="5.2" fill="none" stroke="#e43b3b" stroke-width="0.8"/>
<text x="360.8" y="225.1" font-size="6.1">ecEGFR</text>
<text x="489.8" y="144.3" font-size="14.2" font-weight="bold">j</text>
<g filter="url(#spk)"><rect x="515.6" y="140.8" width="166.3" height="81.5" fill="#000" fill-opacity="0.003"/><path fill-opacity="0.1" d="M590.8 155.2h1.6v1.6h-1.6zM589.2 156.8h1.6v1.6h-1.6zM601.9 156.8h1.6v1.6h-1.6zM587.6 158.4h1.6v1.6h-1.6zM601.9 158.4h1.6v1.6h-1.6zM587.6 160h1.6v1.6h-1.6zM587.6 161.6h1.6v1.6h-1.6zM603.5 161.6h1.6v1.6h-1.6zM587.6 163.2h1.6v1.6h-1.6zM601.9 164.8h1.6v1.6h-1.6z"/><path fill-opacity="0.1" d="M600.3 156.8h1.6v1.6h-1.6zM589.2 158.4h1.6v1.6h-1.6zM601.9 160h1.6v1.6h-1.6zM601.9 161.6h1.6v1.6h-1.6zM601.9 163.2h1.6v1.6h-1.6zM589.2 164.8h1.6v1.6h-1.6zM600.3 166.4h3.2v1.6h-3.2zM598.8 168h3.2v1.6h-3.2zM598.8 169.6h1.6v1.6h-1.6zM597.2 171.2h1.6v1.6h-1.6z"/><path fill-opacity="0.1" d="M590.8 156.8h1.6v1.6h-1.6zM600.3 158.4h1.6v1.6h-1.6zM589.2 160h1.6v1.6h-1.6zM589.2 161.6h1.6v1.6h-1.6zM589.2 163.2h1.6v1.6h-1.6zM600.3 164.8h1.6v1.6h-1.6zM598.8 166.4h1.6v1.6h-1.6zM597.2 168h1.6v1.6h-1.6zM601.9 168h3.2v1.6h-3.2zM595.6 169.6h3.2v1.6h-3.2zM600.3 169.6h3.2v1.6h-3.2zM594 171.2h3.2v1.6h-3.2zM598.8 171.2h3.2v1.6h-3.2zM592.4 172.8h6.4v1.6h-6.4zM590.8 174.4h6.4v1.6h-6.4zM609.9 174.4h1.6v1.6h-1.6zM589.2 176h6.4v1.6h-6.4zM608.3 176h4.8v1.6h-4.8zM587.6 177.6h6.4v1.6h-6.4zM606.7 177.6h4.8v1.6h-4.8zM587.6 179.2h4.8v1.6h-4.8zM605.1 179.2h4.8v1.6h-4.8zM586 180.8h4.8v1.6h-4.8zM603.5 180.8h4.8v1.6h-4.8zM584.4 182.3h4.8v1.6h-4.8zM601.9 182.3h4.8v1.6h-4.8zM582.8 183.9h4.8v1.6h-4.8zM600.3 183.9h4.8v1.6h-4.8zM617.9 183.9h3.2v1.6h-3.2zM581.2 185.5h4.8v1.6h-4.8zM598.8 185.5h4.8v1.6h-4.8zM616.3 185.5h4.8v1.6h-4.8zM579.6 187.1h4.8v1.6h-4.8zM597.2 187.1h4.8v1.6h-4.8zM614.7 187.1h4.8v1.6h-4.8zM578 188.7h4.8v1.6h-4.8zM595.6 188.7h4.8v1.6h-4.8zM614.7 188.7h3.2v1.6h-3.2zM576.4 190.3h3.2v1.6h-3.2zM594 190.3h4.8v1.6h-4.8zM613.1 190.3h3.2v1.6h-3.2zM576.4 191.9h1.6v1.6h-1.6zM594 191.9h3.2v1.6h-3.2zM611.5 191.9h3.2v1.6h-3.2zM592.4 193.5h1.6v1.6h-1.6zM609.9 193.5h3.2v1.6h-3.2zM627.5 193.5h3.2v1.6h-3.2zM590.8 195.1h1.6v1.6h-1.6zM608.3 195.1h1.6v1.6h-1.6zM625.9 195.1h3.2v1.6h-3.2zM589.2 196.7h1.6v1.6h-1.6zM606.7 196.7h1.6v1.6h-1.6z"/><path fill-opacity="0.2" d="M592.4 156.8h1.6v1.6h-1.6zM590.8 158.4h1.6v1.6h-1.6zM600.3 160h1.6v1.6h-1.6zM600.3 161.6h1.6v1.6h-1.6zM600.3 163.2h1.6v1.6h-1.6zM590.8 164.8h1.6v1.6h-1.6zM598.8 164.8h1.6v1.6h-1.6zM589.2 166.4h3.2v1.6h-3.2zM595.6 166.4h3.2v1.6h-3.2zM587.6 168h1.6v1.6h-1.6zM594 168h3.2v1.6h-3.2zM586 169.6h1.6v1.6h-1.6zM592.4 169.6h3.2v1.6h-3.2zM603.5 169.6h3.2v1.6h-3.2zM584.4 171.2h1.6v1.6h-1.6zM590.8 171.2h3.2v1.6h-3.2zM601.9 171.2h1.6v1.6h-1.6zM582.8 172.8h1.6v1.6h-1.6zM589.2 172.8h3.2v1.6h-3.2zM598.8 172.8h3.2v1.6h-3.2zM608.3 172.8h1.6v1.6h-1.6zM581.2 174.4h1.6v1.6h-1.6zM587.6 174.4h3.2v1.6h-3.2zM597.2 174.4h3.2v1.6h-3.2zM606.7 174.4h3.2v1.6h-3.2zM579.6 176h1.6v1.6h-1.6zM587.6 176h1.6v1.6h-1.6zM595.6 176h3.2v1.6h-3.2zM605.1 176h3.2v1.6h-3.2zM578 177.6h1.6v1.6h-1.6zM586 177.6h1.6v1.6h-1.6zM594 177.6h3.2v1.6h-3.2zM603.5 177.6h3.2v1.6h-3.2zM611.5 177.6h3.2v1.6h-3.2zM576.4 179.2h1.6v1.6h-1.6zM584.4 179.2h3.2v1.6h-3.2zM592.4 179.2h3.2v1.6h-3.2zM601.9 179.2h3.2v1.6h-3.2zM609.9 179.2h3.2v1.6h-3.2zM574.8 180.8h1.6v1.6h-1.6zM582.8 180.8h3.2v1.6h-3.2zM590.8 180.8h3.2v1.6h-3.2zM600.3 180.8h3.2v1.6h-3.2zM608.3 180.8h3.2v1.6h-3.2zM573.2 182.3h1.6v1.6h-1.6zM581.2 182.3h3.2v1.6h-3.2zM589.2 182.3h3.2v1.6h-3.2zM598.8 182.3h3.2v1.6h-3.2zM606.7 182.3h3.2v1.6h-3.2zM616.3 182.3h3.2v1.6h-3.2zM571.6 183.9h1.6v1.6h-1.6zM579.6 183.9h3.2v1.6h-3.2zM587.6 183.9h3.2v1.6h-3.2zM597.2 183.9h3.2v1.6h-3.2zM605.1 183.9h3.2v1.6h-3.2zM614.7 183.9h3.2v1.6h-3.2zM578 185.5h3.2v1.6h-3.2zM586 185.5h3.2v1.6h-3.2zM595.6 185.5h3.2v1.6h-3.2zM603.5 185.5h3.2v1.6h-3.2zM613.1 185.5h3.2v1.6h-3.2zM621.1 185.5h1.6v1.6h-1.6zM576.4 187.1h3.2v1.6h-3.2zM584.4 187.1h3.2v1.6h-3.2zM594 187.1h3.2v1.6h-3.2zM601.9 187.1h3.2v1.6h-3.2zM613.1 187.1h1.6v1.6h-1.6zM619.5 187.1h3.2v1.6h-3.2zM574.8 188.7h3.2v1.6h-3.2zM582.8 188.7h3.2v1.6h-3.2zM592.4 188.7h3.2v1.6h-3.2zM600.3 188.7h3.2v1.6h-3.2zM611.5 188.7h3.2v1.6h-3.2zM617.9 188.7h3.2v1.6h-3.2zM574.8 190.3h1.6v1.6h-1.6zM579.6 190.3h3.2v1.6h-3.2zM590.8 190.3h3.2v1.6h-3.2zM598.8 190.3h3.2v1.6h-3.2zM609.9 190.3h3.2v1.6h-3.2zM616.3 190.3h3.2v1.6h-3.2zM578 191.9h3.2v1.6h-3.2zM590.8 191.9h3.2v1.6h-3.2zM597.2 191.9h3.2v1.6h-3.2zM608.3 191.9h3.2v1.6h-3.2zM614.7 191.9h3.2v1.6h-3.2zM625.9 191.9h3.2v1.6h-3.2zM578 193.5h1.6v1.6h-1.6zM589.2 193.5h3.2v1.6h-3.2zM594 193.5h4.8v1.6h-4.8zM606.7 193.5h3.2v1.6h-3.2zM613.1 193.5h3.2v1.6h-3.2zM624.3 193.5h3.2v1.6h-3.2zM587.6 195.1h3.2v1.6h-3.2zM592.4 195.1h4.8v1.6h-4.8zM605.1 195.1h3.2v1.6h-3.2zM609.9 195.1h4.8v1.6h-4.8zM622.7 195.1h3.2v1.6h-3.2zM629.1 195.1h3.2v1.6h-3.2zM586 196.7h3.2v1.6h-3.2zM590.8 196.7h3.2v1.6h-3.2zM603.5 196.7h3.2v1.6h-3.2zM608.3 196.7h4.8v1.6h-4.8zM621.1 196.7h9.6v1.6h-9.6zM584.4 198.3h8v1.6h-8zM601.9 198.3h9.6v1.6h-9.6zM619.5 198.3h9.6v1.6h-9.6zM584.4 199.9h6.4v1.6h-6.4zM600.3 199.9h9.6v1.6h-9.6zM617.9 199.9h9.6v1.6h-9.6zM586 201.5h3.2v1.6h-3.2zM598.8 201.5h9.6v1.6h-9.6zM616.3 201.5h9.6v1.6h-9.6zM597.2 203.1h9.6v1.6h-9.6zM614.7 203.1h9.6v1.6h-9.6zM595.6 204.7h9.6v1.6h-9.6zM613.1 204.7h9.6v1.6h-9.6zM594 206.3h9.6v1.6h-9.6zM611.5 206.3h9.6v1.6h-9.6zM592.4 207.9h9.6v1.6h-9.6zM609.9 207.9h9.6v1.6h-9.6zM594 209.5h6.4v1.6h-6.4zM608.3 209.5h9.6v1.6h-9.6zM595.6 211.1h3.2v1.6h-3.2zM606.7 211.1h9.6v1.6h-9.6zM605.1 212.7h9.6v1.6h-9.6zM603.5 214.3h9.6v1.6h-9.6zM601.9 215.9h9.6v1.6h-9.6zM601.9 217.5h8v1.6h-8zM603.5 219.1h4.8v1.6h-4.8z"/><path fill-opacity="0.2" d="M598.8 158.4h1.6v1.6h-1.6zM590.8 160h1.6v1.6h-1.6zM590.8 161.6h1.6v1.6h-1.6zM590.8 163.2h1.6v1.6h-1.6zM592.4 164.8h1.6v1.6h-1.6zM592.4 166.4h3.2v1.6h-3.2zM589.2 168h4.8v1.6h-4.8zM587.6 169.6h4.8v1.6h-4.8zM586 171.2h4.8v1.6h-4.8zM603.5 171.2h4.8v1.6h-4.8zM584.4 172.8h4.8v1.6h-4.8zM601.9 172.8h6.4v1.6h-6.4zM582.8 174.4h4.8v1.6h-4.8zM600.3 174.4h6.4v1.6h-6.4zM581.2 176h6.4v1.6h-6.4zM598.8 176h6.4v1.6h-6.4zM579.6 177.6h6.4v1.6h-6.4zM597.2 177.6h6.4v1.6h-6.4zM578 179.2h6.4v1.6h-6.4zM595.6 179.2h6.4v1.6h-6.4zM613.1 179.2h3.2v1.6h-3.2zM576.4 180.8h6.4v1.6h-6.4zM594 180.8h6.4v1.6h-6.4zM611.5 180.8h6.4v1.6h-6.4zM574.8 182.3h6.4v1.6h-6.4zM592.4 182.3h6.4v1.6h-6.4zM609.9 182.3h6.4v1.6h-6.4zM573.2 183.9h6.4v1.6h-6.4zM590.8 183.9h6.4v1.6h-6.4zM608.3 183.9h6.4v1.6h-6.4zM570 185.5h8v1.6h-8zM589.2 185.5h6.4v1.6h-6.4zM606.7 185.5h6.4v1.6h-6.4zM571.6 187.1h4.8v1.6h-4.8zM587.6 187.1h6.4v1.6h-6.4zM605.1 187.1h8v1.6h-8zM622.7 187.1h1.6v1.6h-1.6zM573.2 188.7h1.6v1.6h-1.6zM586 188.7h6.4v1.6h-6.4zM603.5 188.7h8v1.6h-8zM621.1 188.7h4.8v1.6h-4.8zM582.8 190.3h8v1.6h-8zM601.9 190.3h8v1.6h-8zM619.5 190.3h8v1.6h-8zM581.2 191.9h9.6v1.6h-9.6zM600.3 191.9h8v1.6h-8zM617.9 191.9h8v1.6h-8zM579.6 193.5h9.6v1.6h-9.6zM598.8 193.5h8v1.6h-8zM616.3 193.5h8v1.6h-8zM579.6 195.1h8v1.6h-8zM597.2 195.1h8v1.6h-8zM614.7 195.1h8v1.6h-8zM581.2 196.7h4.8v1.6h-4.8zM594 196.7h9.6v1.6h-9.6zM613.1 196.7h8v1.6h-8zM630.7 196.7h3.2v1.6h-3.2zM582.8 198.3h1.6v1.6h-1.6zM592.4 198.3h9.6v1.6h-9.6zM611.5 198.3h8v1.6h-8zM629.1 198.3h6.4v1.6h-6.4zM590.8 199.9h9.6v1.6h-9.6zM609.9 199.9h8v1.6h-8zM627.5 199.9h8v1.6h-8zM589.2 201.5h9.6v1.6h-9.6zM608.3 201.5h8v1.6h-8zM625.9 201.5h8v1.6h-8zM587.6 203.1h9.6v1.6h-9.6zM606.7 203.1h8v1.6h-8zM624.3 203.1h8v1.6h-8zM589.2 204.7h6.4v1.6h-6.4zM605.1 204.7h8v1.6h-8zM622.7 204.7h8v1.6h-8zM590.8 206.3h3.2v1.6h-3.2zM603.5 206.3h8v1.6h-8zM621.1 206.3h8v1.6h-8zM601.9 207.9h8v1.6h-8zM619.5 207.9h8v1.6h-8zM600.3 209.5h8v1.6h-8zM617.9 209.5h8v1.6h-8zM598.8 211.1h8v1.6h-8zM616.3 211.1h8v1.6h-8zM597.2 212.7h8v1.6h-8zM614.7 212.7h8v1.6h-8zM598.8 214.3h4.8v1.6h-4.8zM613.1 214.3h8v1.6h-8zM600.3 215.9h1.6v1.6h-1.6zM611.5 215.9h8v1.6h-8zM609.9 217.5h8v1.6h-8zM608.3 219.1h8v1.6h-8z"/><path fill-opacity="0.3" d="M592.4 158.4h1.6v1.6h-1.6zM598.8 163.2h1.6v1.6h-1.6zM597.2 164.8h1.6v1.6h-1.6z"/><path fill-opacity="0.3" d="M595.6 142.4h3.2v1.6h-3.2zM594 144h6.4v1.6h-6.4zM592.4 145.6h9.6v1.6h-9.6zM590.8 147.2h12.8v1.6h-12.8zM589.2 148.8h16v1.6h-16zM587.6 150.4h19.2v1.6h-19.2zM589.2 152h16v1.6h-16zM590.8 153.6h12.8v1.6h-12.8zM592.4 155.2h9.6v1.6h-9.6zM594 156.8h6.4v1.6h-6.4zM595.6 158.4h3.2v1.6h-3.2zM598.8 160h1.6v1.6h-1.6zM598.8 161.6h1.6v1.6h-1.6zM592.4 163.2h1.6v1.6h-1.6zM594 164.8h3.2v1.6h-3.2zM568.4 187.1h3.2v1.6h-3.2zM566.8 188.7h6.4v1.6h-6.4zM565.2 190.3h9.6v1.6h-9.6zM563.6 191.9h12.8v1.6h-12.8zM562 193.5h16v1.6h-16zM560.4 195.1h19.2v1.6h-19.2zM558.8 196.7h22.4v1.6h-22.4zM557.2 198.3h25.6v1.6h-25.6zM555.6 199.9h28.8v1.6h-28.8zM635.5 199.9h1.6v1.6h-1.6zM554 201.5h32v1.6h-32zM633.9 201.5h4.8v1.6h-4.8zM552.4 203.1h35.2v1.6h-35.2zM632.3 203.1h8v1.6h-8zM550.8 204.7h38.4v1.6h-38.4zM630.7 204.7h11.2v1.6h-11.2zM549.2 206.3h41.6v1.6h-41.6zM629.1 206.3h14.4v1.6h-14.4zM547.6 207.9h44.8v1.6h-44.8zM629.1 207.9h16v1.6h-16zM546 209.5h48v1.6h-48zM630.7 209.5h16v1.6h-16zM544.4 211.1h51.2v1.6h-51.2zM632.3 211.1h16v1.6h-16zM633.9 212.7h16v1.6h-16zM635.5 214.3h14.4v1.6h-14.4zM637.1 215.9h11.2v1.6h-11.2zM638.7 217.5h8v1.6h-8zM640.3 219.1h4.8v1.6h-4.8z"/><path fill-opacity="0.4" d="M594 158.4h1.6v1.6h-1.6zM592.4 160h1.6v1.6h-1.6zM542.8 212.7h54.4v1.6h-54.4zM541.2 214.3h57.6v1.6h-57.6zM539.6 215.9h60.8v1.6h-60.8z"/><path fill-opacity="0.5" d="M592.4 161.6h1.6v1.6h-1.6zM597.2 163.2h1.6v1.6h-1.6zM538 217.5h64v1.6h-64z"/><path fill-opacity="0.5" d="M597.2 160h1.6v1.6h-1.6zM594 163.2h1.6v1.6h-1.6zM670.7 211.1h1.6v1.6h-1.6zM523.6 212.7h1.6v1.6h-1.6zM669.1 212.7h4.8v1.6h-4.8zM522 214.3h4.8v1.6h-4.8zM667.5 214.3h8v1.6h-8zM520.4 215.9h8v1.6h-8zM665.9 215.9h11.2v1.6h-11.2zM518.8 217.5h11.2v1.6h-11.2zM536.4 219.1h67.2v1.6h-67.2z"/><path fill-opacity="0.6" d="M597.2 161.6h1.6v1.6h-1.6zM595.6 163.2h1.6v1.6h-1.6zM649.9 214.3h1.6v1.6h-1.6zM648.3 215.9h4.8v1.6h-4.8zM646.7 217.5h8v1.6h-8zM664.3 217.5h14.4v1.6h-14.4zM517.2 219.1h14.4v1.6h-14.4zM645.1 219.1h11.2v1.6h-11.2zM662.7 219.1h17.6v1.6h-17.6z"/><path fill-opacity="0.6" d="M594 160h1.6v1.6h-1.6zM627.5 207.9h1.6v1.6h-1.6zM625.9 209.5h4.8v1.6h-4.8zM624.3 211.1h8v1.6h-8zM622.7 212.7h11.2v1.6h-11.2zM621.1 214.3h14.4v1.6h-14.4zM619.5 215.9h17.6v1.6h-17.6zM617.9 217.5h20.8v1.6h-20.8zM616.3 219.1h24v1.6h-24z"/><path fill-opacity="0.7" d="M595.6 160h1.6v1.6h-1.6zM594 161.6h1.6v1.6h-1.6z"/><path fill-opacity="0.7" d="M595.6 161.6h1.6v1.6h-1.6z"/><path fill-opacity="0.9" d="M515.6 220.7h166.3v1.6h-166.3z"/></g>
<rect x="515.4" y="140.4" width="166.7" height="82" fill="none" stroke="#555" stroke-width="0.6"/>
<text x="519.2" y="147.3" font-size="3.5" font-weight="bold">P521</text>
<text x="519.2" y="151.5" font-size="3.5" font-weight="bold">chr7:55,000,001-56,000,000</text>
<circle cx="596.9" cy="160.7" r="1.05" fill="#5a7fc8"/><circle cx="593.5" cy="164.9" r="1.05" fill="#5a7fc8"/><circle cx="589" cy="169.6" r="1.05" fill="#5a7fc8"/><circle cx="635.5" cy="200.4" r="1.05" fill="#5a7fc8"/><circle cx="630.4" cy="205.1" r="1.05" fill="#5a7fc8"/><circle cx="625.7" cy="211.9" r="1.05" fill="#5a7fc8"/><circle cx="621.2" cy="216.1" r="1.05" fill="#5a7fc8"/><circle cx="618.7" cy="218.2" r="1.05" fill="#5a7fc8"/><circle cx="628.8" cy="216.9" r="1.05" fill="#5a7fc8"/><circle cx="634.6" cy="216.6" r="1.05" fill="#5a7fc8"/><circle cx="637.1" cy="218.6" r="1.05" fill="#5a7fc8"/><circle cx="646.4" cy="218.6" r="1.05" fill="#5a7fc8"/><circle cx="653.1" cy="216.6" r="1.05" fill="#5a7fc8"/><circle cx="655.6" cy="218.6" r="1.05" fill="#5a7fc8"/>
<path d="M599.5 159.9l3-1" stroke="#e22" stroke-width="0.6"/>
<path d="M515.4 222.6H682.1" stroke="#666" stroke-width="0.4"/>
<path d="M515.4 222.6v1M529.3 222.6v1M543.2 222.6v1M557.1 222.6v1M571 222.6v1M584.9 222.6v1M598.8 222.6v1M612.6 222.6v1M626.5 222.6v1M640.4 222.6v1M654.3 222.6v1M668.2 222.6v1M682.1 222.6v1" stroke="#666" stroke-width="0.3"/>
<text x="515.4" y="225.3" font-size="1.8" text-anchor="middle" fill="#555" stroke="#555" stroke-width="0.07">55.0</text>
<text x="529.3" y="225.3" font-size="1.8" text-anchor="middle" fill="#555" stroke="#555" stroke-width="0.07">55.1</text>
<text x="543.2" y="225.3" font-size="1.8" text-anchor="middle" fill="#555" stroke="#555" stroke-width="0.07">55.2</text>
<text x="557.1" y="225.3" font-size="1.8" text-anchor="middle" fill="#555" stroke="#555" stroke-width="0.07">55.3</text>
<text x="571" y="225.3" font-size="1.8" text-anchor="middle" fill="#555" stroke="#555" stroke-width="0.07">55.4</text>
<text x="584.9" y="225.3" font-size="1.8" text-anchor="middle" fill="#555" stroke="#555" stroke-width="0.07">55.5</text>
<text x="598.8" y="225.3" font-size="1.8" text-anchor="middle" fill="#555" stroke="#555" stroke-width="0.07">55.6</text>
<text x="612.6" y="225.3" font-size="1.8" text-anchor="middle" fill="#555" stroke="#555" stroke-width="0.07">55.7</text>
<text x="626.5" y="225.3" font-size="1.8" text-anchor="middle" fill="#555" stroke="#555" stroke-width="0.07">55.8</text>
<text x="640.4" y="225.3" font-size="1.8" text-anchor="middle" fill="#555" stroke="#555" stroke-width="0.07">55.9</text>
<text x="654.3" y="225.3" font-size="1.8" text-anchor="middle" fill="#555" stroke="#555" stroke-width="0.07">55.0</text>
<text x="668.2" y="225.3" font-size="1.8" text-anchor="middle" fill="#555" stroke="#555" stroke-width="0.07">55.1</text>
<text x="682.1" y="225.3" font-size="1.8" text-anchor="middle" fill="#555" stroke="#555" stroke-width="0.07">55.2</text>
<text x="517" y="229.2" font-size="4.5" fill="#222" stroke="#222" stroke-width="0.18">55,343,949</text>
<text x="660.2" y="229.2" font-size="4.5" fill="#222" stroke="#222" stroke-width="0.18">55,365,729</text>
<path d="M536 226.9H660" stroke="#999" stroke-width="0.9"/>
<text x="537.3" y="232.6" font-size="3.6" fill="#222" stroke="#222" stroke-width="0.14">ecEGFR</text>
<path d="M517.5 229.5v2.5" stroke="#4455cc" stroke-width="0.5"/>
<path d="M584.5 231.4h8" stroke="#3344cc" stroke-width="0.4"/>
<rect x="590.5" y="230.3" width="2.4" height="2.2" fill="#3344cc"/>
<text x="582.5" y="232.2" font-size="1.8" text-anchor="end" fill="#444" stroke="#444" stroke-width="0.07">GENE</text>
<path d="M607.5 231.4h8" stroke="#e22" stroke-width="0.4"/>
<rect x="613.5" y="230.3" width="2.4" height="2.2" fill="#e22"/>
<text x="605.5" y="232.2" font-size="1.8" text-anchor="end" fill="#444" stroke="#444" stroke-width="0.07">GENE</text>
<path d="M597 235.5h8" stroke="#3344cc" stroke-width="0.4"/>
<rect x="603" y="234.4" width="2.4" height="2.2" fill="#3344cc"/>
<text x="595" y="236.3" font-size="1.8" text-anchor="end" fill="#444" stroke="#444" stroke-width="0.07">GENE</text>
<path d="M629 235.5h8" stroke="#3344cc" stroke-width="0.4"/>
<rect x="635" y="234.4" width="2.4" height="2.2" fill="#3344cc"/>
<text x="627" y="236.3" font-size="1.8" text-anchor="end" fill="#444" stroke="#444" stroke-width="0.07">GENE</text>
<path d="M639.5 239.3h8" stroke="#3344cc" stroke-width="0.4"/>
<rect x="645.5" y="238.2" width="2.4" height="2.2" fill="#3344cc"/>
<text x="637.5" y="240.1" font-size="1.8" text-anchor="end" fill="#444" stroke="#444" stroke-width="0.07">GENE</text>
<path d="M659 231.4h8" stroke="#3344cc" stroke-width="0.4"/>
<rect x="665" y="230.3" width="2.4" height="2.2" fill="#3344cc"/>
<text x="657" y="232.2" font-size="1.8" text-anchor="end" fill="#444" stroke="#444" stroke-width="0.07">GENE</text>
<path d="M659 235.5h8" stroke="#3344cc" stroke-width="0.4"/>
<rect x="665" y="234.4" width="2.4" height="2.2" fill="#3344cc"/>
<text x="657" y="236.3" font-size="1.8" text-anchor="end" fill="#444" stroke="#444" stroke-width="0.07">GENE</text>
<path d="M615 231.4h10" stroke="#e22" stroke-width="0.6"/><rect x="620" y="230.1" width="5.5" height="2.6" fill="#e22"/>
<rect x="515.2" y="244.3" width="167" height="12.5" fill="none" stroke="#555" stroke-width="0.5"/>
<text x="514.2" y="252.2" font-size="4.5" text-anchor="end" fill="#222" stroke="#222" stroke-width="0.18">P521_2</text>
<text x="517" y="247.3" font-size="2.5" fill="#333" stroke="#333" stroke-width="0.1">bulk ATAC</text>
<text x="517" y="250" font-size="2.5" fill="#333" stroke="#333" stroke-width="0.1">ecEGFR</text>
<path d="M534.7 256.4V252.9M537.4 256.4V249.7M549.6 256.4V250.2M601.6 256.4V251.7M612.1 256.4V245.7M613.1 256.4V247.5M614.5 256.4V246.1M617 256.4V246.7M617.8 256.4V250.8M619.4 256.4V245M620.7 256.4V245.7M623.3 256.4V251.2M624.3 256.4V246.6M627.4 256.4V252.7M628.7 256.4V246.4M630 256.4V252.3M631.4 256.4V250.3M632.2 256.4V246.6M633.7 256.4V250.9M635.2 256.4V250.1M637.5 256.4V246M638.5 256.4V248.1M639.5 256.4V251.8M640.8 256.4V251.8M642.4 256.4V246.7M643.7 256.4V252M644.4 256.4V252.4M645.6 256.4V252.6M646.9 256.4V246.3M647.9 256.4V250M651.8 256.4V249.7M653.1 256.4V247.7M654.4 256.4V245.9M655.5 256.4V246.4M656.8 256.4V250.6M658.2 256.4V249.4M659.3 256.4V248.9M680.3 256.4V248.7M624.1 256.4V248M631.2 256.4V249.6M640.7 256.4V252.2M643.9 256.4V249.9M658.4 256.4V249.5M632.7 256.4V251.5M653.7 256.4V251.7M643.4 256.4V249.3M657.3 256.4V252.8M643.3 256.4V252.9M642.1 256.4V249.6M646.9 256.4V248.1M622.9 256.4V248.2M628.2 256.4V251.3M617.3 256.4V250.4M612.1 256.4V252M643.6 256.4V248.9M619.9 256.4V248.7M632.9 256.4V252.7M647.2 256.4V249M634 256.4V250.4M641.1 256.4V249.7M648 256.4V248.8M621.4 256.4V254M616.9 256.4V252M639.3 256.4V247.5M631.6 256.4V251.6M638.2 256.4V247.6M639.6 256.4V252.1M647.6 256.4V247.3M649.3 256.4V251.4M620.1 256.4V250.9M618 256.4V253.2M633 256.4V248.2M645 256.4V251.2M656.9 256.4V252.9M623.8 256.4V252.2M638.9 256.4V248M630 256.4V248.4M656 256.4V250.8M654 256.4V248M634.4 256.4V252.9M615.5 256.4V252.4M633.6 256.4V254M627.5 256.4V250.7M627.8 256.4V249M638.8 256.4V250.4M641.8 256.4V250.1M631.5 256.4V253M639.6 256.4V253.8M613.7 256.4V251.7M622.8 256.4V248.9M619.5 256.4V251.1M644.7 256.4V251.2M649.9 256.4V253.3M620.1 256.4V252.2M629.2 256.4V250.2M621.3 256.4V250.2M645 256.4V249.6M650.3 256.4V253.5M628.5 256.4V254.8M652 256.4V255.6M533.8 256.4V254.8M623.5 256.4V255.6M659.3 256.4V254.8M618.4 256.4V254.8M617.8 256.4V255.4M528.4 256.4V255.4M620 256.4V255.6M548.7 256.4V255.7M599.4 256.4V254.5M636.9 256.4V255.8M580.3 256.4V254.9M535.5 256.4V254.7M557.7 256.4V255.2M646.9 256.4V254.6M532.8 256.4V254.7M660.1 256.4V254.7M643.8 256.4V255.3M570.1 256.4V255.8M583.4 256.4V255.4M545.4 256.4V254.5M661 256.4V254.7M567.3 256.4V255.7M588.4 256.4V255.7M576.6 256.4V255M570.8 256.4V255.4M572.3 256.4V254.7M525.5 256.4V254.7M617.6 256.4V255.1M631 256.4V255.8M658.1 256.4V255.4M583.9 256.4V255.1M664.2 256.4V255.5M603.9 256.4V254.5M553.9 256.4V254.9M546.2 256.4V255M589.6 256.4V255M524.6 256.4V255.5M664.1 256.4V255.6" stroke="#f01e1e" stroke-width="0.45" stroke-opacity="0.85"/>
<path d="M517 256.4H681" stroke="#f01e1e" stroke-width="0.3" stroke-opacity="0.6"/>
<rect x="515.2" y="261.1" width="167" height="12.2" fill="none" stroke="#555" stroke-width="0.5"/>
<text x="514.2" y="268.8" font-size="4.5" text-anchor="end" fill="#222" stroke="#222" stroke-width="0.18">P521_2</text>
<text x="517" y="264.1" font-size="2.5" fill="#333" stroke="#333" stroke-width="0.1">scATAC</text>
<text x="517" y="266.8" font-size="2.5" fill="#333" stroke="#333" stroke-width="0.1">P521</text>
<text x="517" y="269.5" font-size="2.5" fill="#333" stroke="#333" stroke-width="0.1">ecEGFR+457</text>
<path d="M534.8 272.9V265.1M537.2 272.9V268.2M549.9 272.9V267.8M601.4 272.9V267.4M611.9 272.9V262.4M613.5 272.9V267.7M614.5 272.9V262.8M615.5 272.9V263.3M617.3 272.9V267.6M618.3 272.9V264.4M619.4 272.9V262.7M620.7 272.9V265.4M621.5 272.9V265.4M622.9 272.9V263.5M623.8 272.9V263.3M625.2 272.9V269.1M626.4 272.9V267.2M628.8 272.9V265M630.1 272.9V268.6M631.2 272.9V267.1M632.2 272.9V262.1M634.1 272.9V264.8M634.9 272.9V266.7M636.4 272.9V265.3M637.2 272.9V268.2M638.3 272.9V263.6M639.7 272.9V268.6M640.9 272.9V261.9M642.4 272.9V262.7M644.8 272.9V264M646.1 272.9V267.6M646.7 272.9V267M649.4 272.9V267.6M650.8 272.9V269.4M652 272.9V266.5M653.3 272.9V263.5M654.5 272.9V266.2M655.5 272.9V261.7M656.3 272.9V262.7M657.5 272.9V263.5M670.1 272.9V265.7M680.1 272.9V269.4M641.8 272.9V264.9M621 272.9V264.7M642.9 272.9V266.8M612.9 272.9V265.3M622.2 272.9V266.2M658.7 272.9V270.6M632.2 272.9V264.4M625.5 272.9V265M650.5 272.9V266M658.9 272.9V265.9M616.9 272.9V265M647.3 272.9V268.1M616.5 272.9V268.9M636.7 272.9V269M658.4 272.9V269.6M624.9 272.9V269.8M647.2 272.9V265.1M623.8 272.9V268M653.8 272.9V266.6M622.2 272.9V264M648.2 272.9V268.6M633.1 272.9V267.3M641.8 272.9V267.6M619 272.9V268.4M618.1 272.9V267.3M640.8 272.9V266.6M615.3 272.9V266.9M648.7 272.9V266.8M627.9 272.9V265.4M630.8 272.9V265.3M612.5 272.9V270.1M633.5 272.9V270.1M621.2 272.9V264.4M648.5 272.9V268.7M617.4 272.9V265.7M645.3 272.9V269.5M638.1 272.9V266.4M616.2 272.9V269.9M613.2 272.9V265M626 272.9V268.4M614 272.9V266.3M623.8 272.9V267M628.4 272.9V268.3M614 272.9V268.5M654.9 272.9V264.3M655 272.9V264.9M650.1 272.9V266.4M640.4 272.9V265.8M657.1 272.9V266.6M638.2 272.9V265.8M651.7 272.9V267.1M613 272.9V266.6M628.2 272.9V269.8M614.2 272.9V267.1M656.9 272.9V266.9M651.2 272.9V269.5M627.5 272.9V264.2M644.4 272.9V265.8M625.9 272.9V266.2M628.1 272.9V269.3M545.2 272.9V272.1M534.8 272.9V271.8M658.8 272.9V271.6M579.6 272.9V271.5M667.6 272.9V272M667 272.9V271M576.3 272.9V272.3M629 272.9V271.1M578.8 272.9V271.9M557.9 272.9V272.2M626.3 272.9V272M669.3 272.9V271.8M540.6 272.9V271.4M677.1 272.9V272.2M675.2 272.9V271.5M642.8 272.9V271.1M607.7 272.9V271.6M542.8 272.9V271.8M608.4 272.9V272M589.5 272.9V271.8M654 272.9V271.9M663.4 272.9V272M624.2 272.9V271.7M568.2 272.9V271.3M678.2 272.9V272.2M649.8 272.9V272.2M576.8 272.9V271.1M674.4 272.9V271.1M576.8 272.9V271.3M676.3 272.9V272.3M652.5 272.9V271.4M669.1 272.9V271.7M622.9 272.9V271.3M599.5 272.9V271.4M554.7 272.9V272.3M555.2 272.9V271M589 272.9V271.1M675.2 272.9V271.1M607.9 272.9V272M617.4 272.9V271.3" stroke="#f01e1e" stroke-width="0.45" stroke-opacity="0.85"/>
<path d="M517 272.9H681" stroke="#f01e1e" stroke-width="0.3" stroke-opacity="0.6"/>
<rect x="515.2" y="277.6" width="167" height="12" fill="none" stroke="#555" stroke-width="0.5"/>
<text x="514.2" y="285.2" font-size="4.5" text-anchor="end" fill="#222" stroke="#222" stroke-width="0.18">P521_2</text>
<text x="517" y="280.6" font-size="2.5" fill="#333" stroke="#333" stroke-width="0.1">scATAC</text>
<text x="517" y="283.3" font-size="2.5" fill="#333" stroke="#333" stroke-width="0.1">P521</text>
<text x="517" y="286" font-size="2.5" fill="#333" stroke="#333" stroke-width="0.1">chrEGFR+132</text>
<path d="M635.6 289.2V288.8M529 289.2V288.8M559.9 289.2V288.4M579.4 289.2V288M642.3 289.2V288.6M575.8 289.2V287.9M630.6 289.2V288.8M572.7 289.2V288M605.8 289.2V288.6M586.4 289.2V288.1M548.4 289.2V288.6M654.5 289.2V288.4M586 289.2V287.8M673.3 289.2V288.5M520 289.2V288.7M676.1 289.2V288.1M557.1 289.2V287.9M660.3 289.2V288.1M522.8 289.2V288.3M555.6 289.2V288.6M582.9 289.2V288.4M661.5 289.2V288.5M546.5 289.2V288.7M594.2 289.2V288.6M654.3 289.2V288.2M637 289.2V288.7M610.7 289.2V288.1M527.7 289.2V288.4M626.9 289.2V288.7M673.1 289.2V288.6M538.8 289.2V288.1M677.7 289.2V288M605.1 289.2V288.5M554.5 289.2V288.8M555.8 289.2V288.2M559.6 289.2V287.8M545.1 289.2V288.6M585.2 289.2V287.8M574.6 289.2V288.7M636 289.2V288.8M595.3 289.2V288.6M676.1 289.2V288.4M600.9 289.2V287.8M624.4 289.2V287.8M588.6 289.2V287.9M589.5 289.2V288.6M673.7 289.2V288.2M542.9 289.2V288.2M630.6 289.2V288.7M597.4 289.2V288.4" stroke="#3cb371" stroke-width="0.4" stroke-opacity="0.8"/>
<path d="M517 289.2H681" stroke="#3cb371" stroke-width="0.3" stroke-opacity="0.6"/>
<rect x="515.2" y="293.8" width="167" height="11.2" fill="none" stroke="#555" stroke-width="0.5"/>
<text x="514.2" y="301" font-size="4.5" text-anchor="end" fill="#222" stroke="#222" stroke-width="0.18">P519_4</text>
<text x="517" y="296.8" font-size="2.5" fill="#333" stroke="#333" stroke-width="0.1">bulk ATAC</text>
<text x="517" y="299.5" font-size="2.5" fill="#333" stroke="#333" stroke-width="0.1">chrEGFR</text>
<path d="M549.3 304.6V303.6M598 304.6V303.7M605.7 304.6V303.7M644.6 304.6V303.8M674.4 304.6V303.4M592.7 304.6V304.2M598.4 304.6V303.9M662.2 304.6V304M529.6 304.6V304.1M660.5 304.6V304.2M665.5 304.6V303.9M606.6 304.6V303.5M658.8 304.6V304.2M614.2 304.6V304.1M672.7 304.6V303.5M560.6 304.6V303.9M676.1 304.6V303.3M642.7 304.6V304.3M555.2 304.6V303.7M553.1 304.6V303.8M521 304.6V303.8M596.2 304.6V303.4M575.5 304.6V303.4M559 304.6V304.3M592.3 304.6V304.1M672.8 304.6V303.5M669.8 304.6V304.1M660 304.6V303.4M565.2 304.6V303.5M579 304.6V304.1M628.2 304.6V304M568.3 304.6V303.6M623.7 304.6V304.3M524.6 304.6V303.7M534.4 304.6V304.2M669.5 304.6V303.3M633.9 304.6V303.4M630.4 304.6V303.3M520.6 304.6V303.9M578.5 304.6V303.9M563.1 304.6V304M639 304.6V303.3M667.5 304.6V303.9M616.5 304.6V304.1M569.4 304.6V303.4M606.2 304.6V304.2M597.1 304.6V303.5M628.9 304.6V304.2M582.2 304.6V304M555.3 304.6V304M561 304.6V301.5" stroke="#3344cc" stroke-width="0.4" stroke-opacity="0.8"/>
<path d="M517 304.6H681" stroke="#3344cc" stroke-width="0.3" stroke-opacity="0.6"/>
<text x="491.4" y="316.5" font-size="13.8" font-weight="bold">k</text>
<text x="577" y="335.6" font-size="9.1" text-anchor="middle" fill="#222">P521v2 Tumor cells (n=589)</text>
<path d="M561.8 369.8h0M528.5 421h0M576.1 374.5h0M573.8 374.4h0M552.3 404.9h0M545.5 379.8h0M532.4 418.2h0M568.1 394.1h0M576.4 373.8h0M534 410.9h0M536.7 398.6h0M570.2 393.7h0M552.5 374.2h0M545.3 412.1h0M555.6 368.5h0M548.6 365.2h0M530.9 409.2h0M555.1 407.5h0M545.5 364.6h0M546.8 384h0M548.6 410.4h0M570.4 391.4h0M528.8 409.2h0M555.5 411.7h0M577.8 360.8h0M598.6 383.6h0M539.9 406.7h0M568.7 368.2h0M541 421.9h0M558 362.5h0M569.7 376.2h0M567.7 360.2h0M554.7 418.4h0M559.8 365.7h0M550 400h0M555.5 410.9h0M534.9 416.5h0M547.5 373.3h0M546.3 387.4h0M551 368.5h0M540.8 382.3h0M545.6 378.7h0M533.5 414.7h0M548.8 426.1h0M552.9 425.6h0M546.4 369.6h0M533.3 417.1h0M546.2 419.8h0M548 377.1h0M557.2 406.4h0M537.3 416.1h0M531.8 424.1h0M562.9 396.2h0M537.4 426.5h0M549.1 421.5h0M537.7 406.3h0M586.8 365.4h0M547.5 382.6h0M538.6 432.5h0M545.6 383.2h0M548.2 378.4h0M561.7 375.4h0M527.2 420.6h0M567.5 392.5h0M570.9 371h0M547.1 392.1h0M538.5 421.3h0M557 397.5h0M533.7 417.3h0M551.4 414.8h0M526.7 409.4h0M539.5 406.1h0M559.1 368h0M545.4 393.5h0M564.2 368.6h0M546.1 364.8h0M576 362h0M547.6 393.3h0M560.9 384.4h0M544.8 424.8h0M599.1 391.8h0M539.4 398.7h0M545.3 409.8h0M548.4 409.8h0M535 400.3h0M533.3 423.1h0M575.6 380.4h0M547.4 381.9h0M571.3 386.1h0M569.6 364h0M525.8 408.2h0M570 380h0M573.7 393.5h0M541.1 405.5h0M542.3 369.2h0M526.9 416.7h0M559.1 397.2h0M551.7 369.3h0M547.4 365.6h0M553.5 425h0M558 423.1h0M602.1 385.5h0M554.4 409.2h0M549.2 414.2h0M582.5 363.9h0M530.6 428.7h0M534.6 397h0M537.3 429.3h0M540.4 408.7h0M545.4 418.4h0M568.2 378.4h0M542.3 402.4h0M572 388.1h0M552.2 364.7h0M537.9 414h0M553.3 411.2h0M545.7 396.2h0M556.5 367.6h0M585.1 368.3h0M551 413.7h0M538.9 392.1h0M580.5 376.9h0M572.9 368.1h0M545.1 428.7h0M540.1 402.9h0M550.9 413.3h0M577.3 391.8h0M569.3 391h0M540.1 411.1h0M550.1 373.9h0M539 380.9h0M538 425.9h0M548.3 402.2h0M542.6 405.4h0M542.8 430.4h0M528.9 405.2h0M551.7 405.5h0M575.8 376.6h0M569.3 381.5h0M546.3 401.5h0M567.1 379.1h0M559.9 367h0M539.9 402.4h0M548.2 371h0M544.9 404.6h0M535.5 426.6h0M536.5 405.7h0M604.3 387.8h0M556.4 409.3h0M540.3 420.6h0M580.5 381.9h0M549.7 377.3h0M589.7 375.8h0M548.1 363.4h0M578.2 378.2h0M540.4 404.3h0M556.2 367.5h0M581.9 375.5h0M533.7 394.2h0M541 429.6h0M609 384.4h0M550.2 395.8h0M532.8 413.1h0M539.3 417h0M535.4 406.6h0M534.7 407.5h0M563 388.7h0M537.1 433.1h0M527.6 408.4h0M569.3 392.5h0M565.2 395.1h0M567.9 359.2h0M544.8 395.9h0M547.6 404h0M554.9 374.6h0M550.2 426.8h0M558.2 413.9h0M549.1 428.2h0M560.3 391.8h0M538.6 398.3h0M538.7 389.3h0M532.4 408.2h0M531.7 405.4h0M542.2 403.3h0M566 394.3h0M547.9 368h0M539.5 402.9h0M543.8 394.4h0M535 419.7h0M538.9 431.2h0M550.2 368.7h0M589.6 369.1h0M543.8 385.8h0M536.5 406.3h0M571.3 384h0M579.4 369.5h0M557.2 414.1h0M545.7 403.7h0M559.3 364.8h0M544.4 391.9h0M548.3 419.1h0M557.4 372.7h0M537.5 399.6h0M543.8 388.4h0M566.9 379.4h0M549 393.1h0M542.5 424.4h0M545.5 403.5h0M534.1 419.8h0M556.9 409.6h0M566.9 366.1h0M540.6 406.5h0M538.2 420.8h0M547.1 371.4h0M531.4 421.7h0M550.5 411.3h0M552.8 410.9h0M596.4 372.5h0M531 415.8h0M553.4 397.3h0M548.9 408.3h0M554.4 403.9h0M544.8 413.4h0M543.5 380.1h0M535.1 393.8h0M546.7 426.1h0M541.7 423.3h0M542 396.6h0M534.3 422.7h0M539.8 399.4h0M555.6 411.4h0M538.2 381h0M528 420.4h0M544.8 374.6h0M531.3 404.7h0M564.9 373.3h0M546.8 424.6h0M541.7 395.4h0M551 425.5h0M536.5 419.2h0M554.8 417.6h0M528.7 402h0M542.1 405h0M544.5 373.4h0M558.4 366.4h0M549.8 423.8h0M543.5 405.1h0M537.1 396.3h0M526.6 416.9h0M548.4 408h0M542.3 391.8h0M546.2 382.2h0M543.5 373.8h0M554.7 424.9h0M567.8 364.5h0M537 421.6h0M584.6 377.9h0M548.9 409.9h0M559.8 395.8h0M532.6 404.3h0M549.2 390.3h0M553 405.6h0M557.6 361.9h0M549 403.3h0M537.1 414.7h0M542.7 424.4h0M543.9 410.5h0M537.5 426.3h0M540.3 416.3h0M545 395.9h0M547.3 381.3h0M545.7 373.3h0M547.7 369.7h0M562.9 381.5h0M542.9 427.4h0M566.1 363.4h0M577 384.7h0M551.2 416h0M547 380.1h0M532.9 404.8h0M547.6 388.4h0M547.3 382.2h0M557.5 361.2h0M550.7 405.4h0M578.5 381.4h0M542.7 390.3h0M600.6 377.1h0M542 412.4h0M535.2 390.8h0M602.1 387.8h0M548.9 397.2h0M548.7 404.1h0M542.7 432.6h0M541.2 418.4h0M577.4 392.2h0M553.8 410.2h0M553.3 424.3h0M548.1 386.9h0M547 392.2h0M552.8 409.2h0M550.6 429.7h0M562.8 361.3h0M558.2 393.5h0M528.4 420.1h0M551.3 402.3h0M550.9 396.4h0M606 375.9h0M561.7 395.6h0M558 374.3h0M534.3 427.9h0M545.1 386.9h0M570.3 383.5h0M542 409.5h0M526.1 416.4h0M531 415.7h0M592 361.4h0M568.7 386.1h0M532.3 422.9h0M535.2 412.7h0M536.2 396.4h0M535.1 404.3h0M581 364.9h0M596.3 385.7h0M584.4 378.3h0M543 425.6h0M548 426.2h0M549.6 409h0M567.1 393.5h0M542.5 423.8h0M543.5 407.6h0M533.6 413.6h0M534.5 414.9h0M568.6 395.7h0M605.4 379.2h0M532.1 407.3h0M559.5 391.5h0M566.9 361.5h0M531.3 411.4h0M540 429.4h0M533.9 428h0M543 394.4h0M538.4 376.4h0M555.5 412h0M558.5 415.9h0M538.5 415.8h0M576.2 381.7h0M537.5 428.2h0M564.7 366h0M578.4 394.1h0M527 414h0M538.8 400.2h0M526.6 418h0M555.2 411.3h0M541.8 421.8h0M554.7 408.7h0M564.6 394.1h0M559.7 414.1h0M556.9 416.3h0M543.7 420.1h0M571.2 362.8h0M541.5 394.8h0M544.6 395.2h0M540.1 420.7h0M545.7 430.2h0M549.3 377.5h0M535.4 409.6h0M541.8 412h0M529.9 409.9h0M568.4 380.8h0M547.5 418.4h0M534.3 413.9h0M554.6 419.8h0M547.7 373.8h0M528.6 418.9h0M605 377.7h0M571.2 391.1h0M549.3 434.3h0M537.7 381.3h0M577 375.6h0M537.6 419.3h0M551.8 422.8h0M544.4 392.2h0M542.6 417.3h0M542.4 421.7h0M549.5 414.5h0M547.3 370.1h0M541 427.3h0M560.5 415.3h0M568.9 375.9h0M537.2 425.9h0M552.5 412.5h0M569.3 384.3h0M534.7 412.8h0M540.9 371.8h0M530.6 417.9h0M534.6 420h0M549.2 427.3h0M576.2 383.8h0M526.6 412h0M560.4 394.7h0M608.7 386h0M574.2 367.5h0M557 370.6h0M553.8 417.8h0M547.5 403h0M544.8 399.6h0M557.5 402.3h0M548.8 433.3h0M530.6 405.2h0M545 366.2h0M544 419h0M534.7 430.2h0M560.3 381.9h0M543.6 379.1h0M548.4 387h0M577.5 370.4h0M570.7 375.2h0M529.7 424.8h0M571.1 374.5h0M560.2 376.5h0M532.9 413h0M543.4 407.2h0M543.1 423.6h0M568.7 369.1h0M547.8 398.3h0M569.6 362.3h0M578.5 379.2h0M551.9 425.5h0M538.6 407.9h0M542.3 395.9h0M545.8 383.1h0M526.8 421.6h0M534.1 407.4h0M574.6 367.1h0M548.3 402.6h0M601.8 375.1h0M579.3 377.4h0M554.3 415.8h0M547.7 409.2h0M531.4 423.6h0M535.6 400.4h0M542.9 418.3h0M575.7 383.2h0M532.8 408.4h0M555.6 430h0M544.7 409.9h0M538.1 397.4h0M532.1 414.2h0M537.4 432.9h0M574 367.1h0M584.3 375.1h0M547.8 414.5h0M541.4 422.1h0M528.1 419.4h0M556.8 362.3h0M547 367h0M560.1 395.7h0M553.7 430.1h0M536.6 418.7h0" stroke="#ff2414" stroke-width="2.75" stroke-linecap="round"/>
<path d="M622.5 375.1h0M621.3 368.6h0M566.6 428.2h0M622.9 370.1h0M612.4 356.9h0M623.2 352.6h0M605.5 362.1h0M612.5 353.6h0M616.9 375.4h0M617.1 359.9h0M604 389.7h0M610.2 364.6h0M611.6 357h0M620.1 365.4h0M605.7 365.3h0M606.7 381.1h0M557 435.8h0M608 369h0M616.9 374.4h0M626.3 370.4h0M619.3 358.9h0M604.3 357.5h0M557.1 434.9h0M602.9 381.5h0M604.7 357.3h0M615.4 363.4h0M609.7 378.6h0M616.8 366.4h0M614.9 354.9h0M613.8 358.5h0M625.2 362.3h0M622.2 366.3h0M625.4 355.8h0M602.7 390.2h0M629 357.2h0M602.7 385.4h0M607.1 364.3h0M555.4 432.4h0M624.2 362.5h0M600.8 379.1h0M618.1 376.9h0M618.2 360.1h0M611.9 368.6h0M624.2 358.4h0M605.8 355.6h0M610.8 368.3h0M623.4 351.9h0M603.3 380.3h0M600.7 382.2h0M612.1 368.1h0M620 369.6h0M624.3 349.9h0M629.8 366.2h0M624.1 367.6h0M615.3 354.7h0M618.9 364.2h0M622.8 354.2h0M625.1 371.6h0M602.1 377.3h0M630.1 363.6h0M619.2 370h0M566.8 425.6h0M610.6 351.2h0M625.6 364.4h0M626.9 364.6h0M621 348.2h0M624.5 361.1h0M620.2 375.7h0M622.3 373.1h0M608.1 362.6h0M613.4 366h0M615.9 359.5h0M612.5 348.7h0M606.8 367.2h0M622 360.9h0M626.2 364.4h0M608.3 351.2h0M608.1 372.2h0M606.9 353.6h0M556.2 430.4h0M608.7 379.7h0M614.9 351.6h0M553.1 429.9h0M624 366.5h0M612.1 364.6h0M608.2 356.9h0M605.2 383.6h0M629.6 362.2h0M624.6 363.6h0M555.3 434.4h0M556.4 432h0M566.8 425.9h0M615.3 353h0M609.7 389.2h0M604.2 385.8h0M623.8 354.9h0M622.9 358.7h0M606 383h0M626.6 368h0M610.9 351h0M605.7 365.9h0M620.2 349.1h0M621.2 358.1h0M623.6 367h0M614.7 369.9h0M618.9 360.4h0M600.2 386.7h0M615.3 347.8h0M616.6 357.9h0M617.2 353.8h0M615.5 363h0M601.5 377.9h0M566.6 428.6h0M604.1 381.6h0M556.5 431.4h0M555.9 430.9h0M614.6 367.6h0M622.3 364.3h0M605.6 379.2h0M623 363.8h0M619.2 360h0M607.4 367h0M599.6 388.3h0M605.7 355.2h0M608.4 353.3h0M566.8 426.3h0M622.2 358.3h0M610.2 368.3h0M625.1 352.3h0M616.9 362.3h0M625.1 362.1h0M624.8 372.9h0" stroke="#7ede8c" stroke-width="2.75" stroke-linecap="round"/>
<path d="M520.2 402.5V440.4H560.5" fill="none" stroke="#000" stroke-width="1"/>
<path d="M520.2 398.6l-2.1 5.2h4.2zM564 440.4l-5.2-2.1v4.2z" fill="#000"/>
<text transform="translate(516 428) rotate(-90)" font-size="5.2" font-style="italic" text-anchor="middle" fill="#222">UMAP_2</text>
<text x="537.5" y="449.7" font-size="5.2" text-anchor="middle" font-style="italic" fill="#222">UMAP_1</text>
<circle cx="582" cy="404.8" r="2.5" fill="#ff2414"/><circle cx="582" cy="418" r="2.5" fill="#7ede8c"/>
<text x="593.2" y="407.5" font-size="7.3" fill="#222">ecEGFR</text>
<text x="593.2" y="420.7" font-size="7.3" fill="#222">chrEGFR</text>
<text x="491.6" y="458.5" font-size="13.4" font-weight="bold">l</text>
<rect x="510" y="460.5" width="115.8" height="56.9" fill="none" stroke="#333" stroke-width="0.7"/>
<circle cx="517.4" cy="476.3" r="3.5" fill="#c4302b" stroke="#555" stroke-width="0.3"/>
<circle cx="529.9" cy="476.3" r="3.5" fill="#c4302b" stroke="#555" stroke-width="0.3"/>
<circle cx="542.5" cy="476.3" r="3.5" fill="#c4302b" stroke="#555" stroke-width="0.3"/>
<circle cx="555" cy="476.3" r="3.5" fill="#c4302b" stroke="#555" stroke-width="0.3"/>
<circle cx="567.6" cy="476.3" r="3.5" fill="#c4302b" stroke="#555" stroke-width="0.3"/>
<circle cx="580.1" cy="476.3" r="3.5" fill="#c4302b" stroke="#555" stroke-width="0.3"/>
<circle cx="592.6" cy="476.3" r="3.5" fill="#c4302b" stroke="#555" stroke-width="0.3"/>
<circle cx="605.2" cy="476.3" r="3.5" fill="#c4302b" stroke="#555" stroke-width="0.3"/>
<circle cx="617.7" cy="476.3" r="3.5" fill="#c4302b" stroke="#555" stroke-width="0.3"/>
<circle cx="517.4" cy="501.8" r="1.8" fill="#fff" stroke="#444" stroke-width="0.4"/>
<circle cx="529.9" cy="501.8" r="2.8" fill="#fbf0ef" stroke="#444" stroke-width="0.4"/>
<circle cx="542.5" cy="501.8" r="3.7" fill="#f6dedb" stroke="#444" stroke-width="0.4"/>
<circle cx="555" cy="501.8" r="2.0" fill="#fff" stroke="#444" stroke-width="0.4"/>
<circle cx="567.6" cy="501.8" r="2.5" fill="#fff" stroke="#444" stroke-width="0.4"/>
<circle cx="580.1" cy="501.8" r="1.8" fill="#fff" stroke="#444" stroke-width="0.4"/>
<circle cx="592.6" cy="501.8" r="3.0" fill="#faeeed" stroke="#444" stroke-width="0.4"/>
<circle cx="605.2" cy="501.8" r="3.5" fill="#f8e6e4" stroke="#444" stroke-width="0.4"/>
<circle cx="617.7" cy="501.8" r="3.8" fill="#f6e0dd" stroke="#444" stroke-width="0.4"/>
<text x="506.3" y="475.2" font-size="3.6" text-anchor="end" font-weight="bold">ecEGFR</text>
<text x="506.3" y="480.2" font-size="3.6" text-anchor="end" font-weight="bold">(n=457)</text>
<text x="506.3" y="500.3" font-size="3.6" text-anchor="end" font-weight="bold">chrEGFR</text>
<text x="506.3" y="505.6" font-size="3.6" text-anchor="end" font-weight="bold">(n=132)</text>
<text transform="translate(518.6 519.8) rotate(-45)" font-size="3.2" text-anchor="end" fill="#333">SEPTIN14P</text>
<text transform="translate(531.1 519.8) rotate(-45)" font-size="3.2" text-anchor="end" fill="#333">LINC01446</text>
<text transform="translate(543.7 519.8) rotate(-45)" font-size="3.2" text-anchor="end" fill="#333">EGFR</text>
<text transform="translate(556.2 519.8) rotate(-45)" font-size="3.2" text-anchor="end" fill="#333">VSTM2A</text>
<text transform="translate(568.8 519.8) rotate(-45)" font-size="3.2" text-anchor="end" fill="#333">SEC61G</text>
<text transform="translate(581.3 519.8) rotate(-45)" font-size="3.2" text-anchor="end" fill="#333">VSTM2A-OT1</text>
<text transform="translate(593.8 519.8) rotate(-45)" font-size="3.2" text-anchor="end" fill="#333">LINC01445</text>
<text transform="translate(606.4 519.8) rotate(-45)" font-size="3.2" text-anchor="end" fill="#333">LANCL2</text>
<text transform="translate(618.9 519.8) rotate(-45)" font-size="3.2" text-anchor="end" fill="#333">VOPP1</text>
<text x="568" y="542.6" font-size="5.6" text-anchor="middle" fill="#222">Genes on ecEGFR</text>
<circle cx="638.7" cy="459.2" r="1.9" fill="#fff" stroke="#333" stroke-width="0.4"/><circle cx="638.7" cy="469.6" r="2.9" fill="#fff" stroke="#333" stroke-width="0.4"/>
<text x="647.4" y="460.5" font-size="3.8" fill="#333" stroke="#333" stroke-width="0.15">75</text>
<text x="647.4" y="470.9" font-size="3.8" fill="#333" stroke="#333" stroke-width="0.15">100</text>
<text x="634.4" y="489.4" font-size="4.5" fill="#222" stroke="#222" stroke-width="0.18">Average Genescore</text>
<defs><linearGradient id="lg" x1="0" y1="0" x2="0" y2="1"><stop offset="0" stop-color="#c9302b"/><stop offset="1" stop-color="#fdf7f6"/></linearGradient></defs>
<rect x="634.8" y="492.8" width="9.2" height="44.9" fill="url(#lg)"/>
<path d="M644 501.8h0.8" stroke="#fff" stroke-width="0.3"/>
<text x="647" y="503.1" font-size="3.8" fill="#333" stroke="#333" stroke-width="0.15">0.5</text>
<path d="M644 516.2h0.8" stroke="#fff" stroke-width="0.3"/>
<text x="647" y="517.5" font-size="3.8" fill="#333" stroke="#333" stroke-width="0.15">0.0</text>
<path d="M644 530.8h0.8" stroke="#fff" stroke-width="0.3"/>
<text x="647" y="532.1" font-size="3.8" fill="#333" stroke="#333" stroke-width="0.15">-0.5</text>
</svg></body></html>
